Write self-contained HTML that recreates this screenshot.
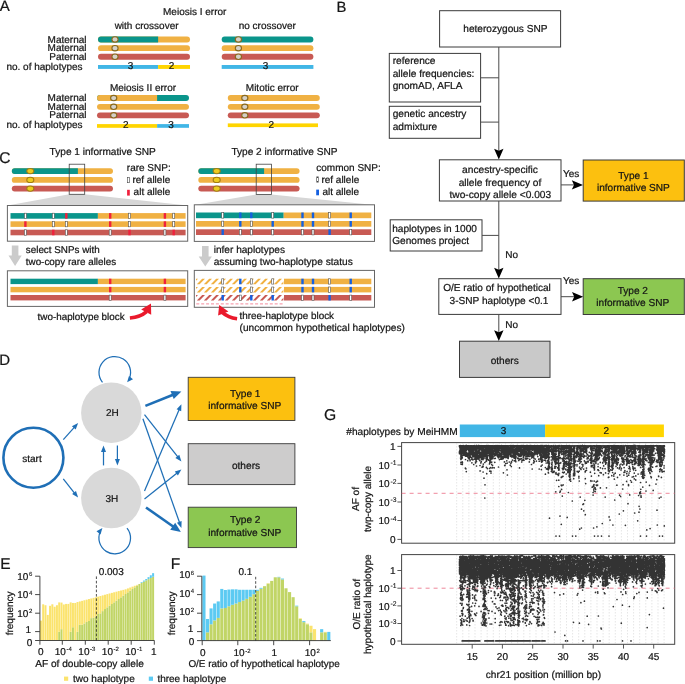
<!DOCTYPE html>
<html><head><meta charset="utf-8"><title>figure</title>
<style>html,body{margin:0;padding:0;background:#fff}svg{display:block}text{font-family:"Liberation Sans",Arial,sans-serif;text-rendering:geometricPrecision;fill:#151515;stroke:#151515;stroke-width:0.22px}</style>
</head><body>
<svg width="685" height="684" viewBox="0 0 685 684">
<rect width="685" height="684" fill="#fff"/>
<text x="-0.2" y="10.6" font-size="15" text-anchor="start" >A</text>
<text x="194.7" y="14.8" font-size="10" text-anchor="middle" >Meiosis I error</text>
<text x="146.6" y="28.8" font-size="10" text-anchor="middle" >with crossover</text>
<text x="267.3" y="28.8" font-size="10" text-anchor="middle" >no crossover</text>
<text x="86.5" y="42.5" font-size="10" text-anchor="end" >Maternal</text>
<text x="86.5" y="51.2" font-size="10" text-anchor="end" >Maternal</text>
<text x="86.5" y="59.8" font-size="10" text-anchor="end" >Paternal</text>
<text x="6.4" y="69.8" font-size="10" text-anchor="start" >no. of haplotypes</text>
<rect x="98.0" y="36.5" width="92.00" height="5.9" rx="2.95" ry="2.95" fill="#f0b143"/>
<path d="M158.1 36.5H100.95A2.95 2.95 0 0 0 100.95 42.40H158.1Z" fill="#0a958b"/>
<ellipse cx="115" cy="39.45" rx="3.1" ry="2.7" fill="#d4d0c8" stroke="#8a6a1e" stroke-width="1.1"/>
<rect x="98.0" y="45.2" width="92.00" height="5.9" rx="2.95" ry="2.95" fill="#f0b143"/>
<ellipse cx="115" cy="48.150000000000006" rx="3.1" ry="2.7" fill="#d4d0c8" stroke="#8a6a1e" stroke-width="1.1"/>
<rect x="98.0" y="53.8" width="92.00" height="5.9" rx="2.95" ry="2.95" fill="#c85a54"/>
<ellipse cx="115" cy="56.75" rx="3.1" ry="2.7" fill="#d4d0c8" stroke="#8a6a1e" stroke-width="1.1"/>
<rect x="98.0" y="65" width="60.1" height="3.9" fill="#41b6e6"/><rect x="158.1" y="65" width="31.9" height="3.9" fill="#ffd500"/>
<text x="130.6" y="68.9" font-size="10" text-anchor="middle" >3</text>
<text x="171.5" y="68.9" font-size="10" text-anchor="middle" >2</text>
<rect x="221.7" y="36.5" width="91.70" height="5.9" rx="2.95" ry="2.95" fill="#0a958b"/>
<ellipse cx="238.4" cy="39.45" rx="3.1" ry="2.7" fill="#d4d0c8" stroke="#8a6a1e" stroke-width="1.1"/>
<rect x="221.7" y="45.2" width="91.70" height="5.9" rx="2.95" ry="2.95" fill="#f0b143"/>
<ellipse cx="238.4" cy="48.150000000000006" rx="3.1" ry="2.7" fill="#d4d0c8" stroke="#8a6a1e" stroke-width="1.1"/>
<rect x="221.7" y="53.8" width="91.70" height="5.9" rx="2.95" ry="2.95" fill="#c85a54"/>
<ellipse cx="238.4" cy="56.75" rx="3.1" ry="2.7" fill="#d4d0c8" stroke="#8a6a1e" stroke-width="1.1"/>
<rect x="221.7" y="65" width="91.7" height="3.9" fill="#41b6e6"/>
<text x="265.5" y="68.9" font-size="10" text-anchor="middle" >3</text>
<text x="143" y="90.6" font-size="10" text-anchor="middle" >Meiosis II error</text>
<text x="272.2" y="90.6" font-size="10" text-anchor="middle" >Mitotic error</text>
<text x="86.5" y="101.1" font-size="10" text-anchor="end" >Maternal</text>
<text x="86.5" y="109.9" font-size="10" text-anchor="end" >Maternal</text>
<text x="86.5" y="118.4" font-size="10" text-anchor="end" >Paternal</text>
<text x="6.4" y="128" font-size="10" text-anchor="start" >no. of haplotypes</text>
<rect x="97.0" y="95.1" width="92.00" height="5.9" rx="2.95" ry="2.95" fill="#0a958b"/>
<path d="M157.1 95.1H99.95A2.95 2.95 0 0 0 99.95 101.00H157.1Z" fill="#f0b143"/>
<ellipse cx="113.7" cy="98.05" rx="3.1" ry="2.7" fill="#d4d0c8" stroke="#8a6a1e" stroke-width="1.1"/>
<rect x="97.0" y="103.9" width="92.00" height="5.9" rx="2.95" ry="2.95" fill="#f0b143"/>
<ellipse cx="113.7" cy="106.85000000000001" rx="3.1" ry="2.7" fill="#d4d0c8" stroke="#8a6a1e" stroke-width="1.1"/>
<rect x="97.0" y="112.4" width="92.00" height="5.9" rx="2.95" ry="2.95" fill="#c85a54"/>
<ellipse cx="113.7" cy="115.35000000000001" rx="3.1" ry="2.7" fill="#d4d0c8" stroke="#8a6a1e" stroke-width="1.1"/>
<rect x="97.0" y="124.1" width="60.1" height="3.7" fill="#ffd500"/><rect x="157.1" y="124.1" width="31.9" height="3.7" fill="#41b6e6"/>
<text x="125.9" y="127.6" font-size="10" text-anchor="middle" >2</text>
<text x="171.1" y="127.6" font-size="10" text-anchor="middle" >3</text>
<rect x="227.8" y="95.1" width="92.00" height="5.9" rx="2.95" ry="2.95" fill="#f0b143"/>
<ellipse cx="244.8" cy="98.05" rx="3.1" ry="2.7" fill="#d4d0c8" stroke="#8a6a1e" stroke-width="1.1"/>
<rect x="227.8" y="103.9" width="92.00" height="5.9" rx="2.95" ry="2.95" fill="#f0b143"/>
<ellipse cx="244.8" cy="106.85000000000001" rx="3.1" ry="2.7" fill="#d4d0c8" stroke="#8a6a1e" stroke-width="1.1"/>
<rect x="227.8" y="112.4" width="92.00" height="5.9" rx="2.95" ry="2.95" fill="#c85a54"/>
<ellipse cx="244.8" cy="115.35000000000001" rx="3.1" ry="2.7" fill="#d4d0c8" stroke="#8a6a1e" stroke-width="1.1"/>
<rect x="227.8" y="123.4" width="90.2" height="3.7" fill="#ffd500"/>
<text x="271.4" y="127.6" font-size="10" text-anchor="middle" >2</text>
<text x="336.6" y="12.3" font-size="14.8" text-anchor="start" >B</text>
<rect x="439.6" y="10.7" width="121.0" height="36.3" fill="#fff" stroke="#3a3a3a" stroke-width="1"/>
<text x="505.4" y="32.3" font-size="10.1" text-anchor="middle" >heterozygous SNP</text>
<rect x="389.3" y="53.4" width="91.30000000000001" height="48.6" fill="#fff" stroke="#3a3a3a" stroke-width="1"/>
<text x="392.7" y="64.4" font-size="10.15" text-anchor="start" >reference</text>
<text x="392.7" y="76.7" font-size="10.15" text-anchor="start" >allele frequencies:</text>
<text x="392.7" y="88.7" font-size="10.15" text-anchor="start" >gnomAD, AFLA</text>
<rect x="389.3" y="106.3" width="91.30000000000001" height="32.000000000000014" fill="#fff" stroke="#3a3a3a" stroke-width="1"/>
<text x="392.7" y="117.4" font-size="10.15" text-anchor="start" >genetic ancestry</text>
<text x="392.7" y="130.1" font-size="10.15" text-anchor="start" >admixture</text>
<line x1="480.6" y1="77.8" x2="498.8" y2="77.8" stroke="#4a4a4a" stroke-width="1"/>
<line x1="480.6" y1="122.1" x2="498.8" y2="122.1" stroke="#4a4a4a" stroke-width="1"/>
<line x1="498.8" y1="47" x2="498.8" y2="151.2" stroke="#4a4a4a" stroke-width="1"/>
<path d="M494.1 148.7 L498.8 150.7 L503.5 148.7 L498.8 159.5 Z" fill="#000"/>
<rect x="439.4" y="159.8" width="121.60000000000002" height="41.19999999999999" fill="#fff" stroke="#3a3a3a" stroke-width="1"/>
<text x="500" y="173.4" font-size="10.2" text-anchor="middle" >ancestry-specific</text>
<text x="500" y="185.6" font-size="10.2" text-anchor="middle" >allele frequency of</text>
<text x="500.3" y="197.8" font-size="10.2" text-anchor="middle" >two-copy allele &lt;0.003</text>
<text x="563" y="176.6" font-size="10" text-anchor="start" >Yes</text>
<line x1="561" y1="184.9" x2="574.5" y2="184.9" stroke="#4a4a4a" stroke-width="1"/>
<path d="M571.8 180.20000000000002 L574.0 184.9 L571.8 189.6 L583 184.9 Z" fill="#000"/>
<rect x="583.2" y="160" width="101.09999999999991" height="41.099999999999994" fill="#fcc00f" stroke="#3a3a3a" stroke-width="1"/>
<text x="633.4" y="179" font-size="10.1" text-anchor="middle" >Type 1</text>
<text x="633.4" y="191.2" font-size="10.1" text-anchor="middle" >informative SNP</text>
<rect x="390.2" y="219.8" width="91.80000000000001" height="31.19999999999999" fill="#fff" stroke="#3a3a3a" stroke-width="1"/>
<text x="392.2" y="232.4" font-size="10.1" text-anchor="start" >haplotypes in 1000</text>
<text x="392.2" y="244.4" font-size="10.1" text-anchor="start" >Genomes project</text>
<line x1="482" y1="235.4" x2="498.8" y2="235.4" stroke="#4a4a4a" stroke-width="1"/>
<line x1="498.8" y1="201" x2="498.8" y2="270.3" stroke="#4a4a4a" stroke-width="1"/>
<path d="M494.1 267.8 L498.8 269.8 L503.5 267.8 L498.8 278.6 Z" fill="#000"/>
<text x="505.2" y="258.2" font-size="10" text-anchor="start" >No</text>
<rect x="438.8" y="278.7" width="122.19999999999999" height="35.69999999999999" fill="#fff" stroke="#3a3a3a" stroke-width="1"/>
<text x="497" y="290.6" font-size="10.1" text-anchor="middle" >O/E ratio of hypothetical</text>
<text x="499" y="303.8" font-size="10.1" text-anchor="middle" >3-SNP haplotype &lt;0.1</text>
<text x="563" y="284.2" font-size="10" text-anchor="start" >Yes</text>
<line x1="561" y1="296.7" x2="574.7" y2="296.7" stroke="#4a4a4a" stroke-width="1"/>
<path d="M572.0 292.0 L574.2 296.7 L572.0 301.4 L583.2 296.7 Z" fill="#000"/>
<rect x="583.2" y="278.7" width="101.09999999999991" height="35.80000000000001" fill="#8cc751" stroke="#3a3a3a" stroke-width="1"/>
<text x="632.8" y="293.9" font-size="10.1" text-anchor="middle" >Type 2</text>
<text x="632.8" y="306.2" font-size="10.1" text-anchor="middle" >informative SNP</text>
<line x1="498.8" y1="314.4" x2="498.8" y2="332.7" stroke="#4a4a4a" stroke-width="1"/>
<path d="M494.1 330.2 L498.8 332.2 L503.5 330.2 L498.8 341 Z" fill="#000"/>
<text x="505.2" y="327.6" font-size="10" text-anchor="start" >No</text>
<rect x="459.5" y="341.2" width="90.5" height="36.19999999999999" fill="#c9c9c9" stroke="#3a3a3a" stroke-width="1"/>
<text x="504.7" y="363.6" font-size="10.1" text-anchor="middle" >others</text>
<text x="-0.7" y="163" font-size="15.5" text-anchor="start" >C</text>
<text x="102.7" y="155.2" font-size="10.12" text-anchor="middle" >Type 1 informative SNP</text>
<text x="284.5" y="155.2" font-size="10.12" text-anchor="middle" >Type 2 informative SNP</text>
<path d="M69.2 194.3 L84.7 194.3 L187.7 205.5 L7.4 205.5 Z" fill="#d6d6d6"/>
<path d="M256.2 194.4 L271.5 194.4 L374.5 205 L194.3 205 Z" fill="#d6d6d6"/>
<rect x="11.8" y="168.2" width="101.20" height="5.8" rx="2.9" ry="2.9" fill="#f0b143"/>
<path d="M77.9 168.2H14.70A2.9 2.9 0 0 0 14.70 174.00H77.9Z" fill="#0a958b"/>
<rect x="11.8" y="177.0" width="101.20" height="5.8" rx="2.9" ry="2.9" fill="#f0b143"/>
<rect x="11.8" y="185.7" width="101.20" height="5.8" rx="2.9" ry="2.9" fill="#c85a54"/>
<ellipse cx="30.3" cy="171.1" rx="3.5" ry="2.6" fill="#eccb1f" stroke="#a07c14" stroke-width="1.1"/>
<ellipse cx="30.3" cy="179.9" rx="3.5" ry="2.6" fill="#eccb1f" stroke="#a07c14" stroke-width="1.1"/>
<ellipse cx="30.3" cy="188.6" rx="3.5" ry="2.6" fill="#eccb1f" stroke="#a07c14" stroke-width="1.1"/>
<rect x="198.3" y="168.2" width="101.30" height="5.8" rx="2.9" ry="2.9" fill="#f0b143"/>
<path d="M264.1 168.2H201.20A2.9 2.9 0 0 0 201.20 174.00H264.1Z" fill="#0a958b"/>
<rect x="198.3" y="177.0" width="101.30" height="5.8" rx="2.9" ry="2.9" fill="#f0b143"/>
<rect x="198.3" y="185.7" width="101.30" height="5.8" rx="2.9" ry="2.9" fill="#c85a54"/>
<ellipse cx="216.7" cy="171.1" rx="3.5" ry="2.6" fill="#eccb1f" stroke="#a07c14" stroke-width="1.1"/>
<ellipse cx="216.7" cy="179.9" rx="3.5" ry="2.6" fill="#eccb1f" stroke="#a07c14" stroke-width="1.1"/>
<ellipse cx="216.7" cy="188.6" rx="3.5" ry="2.6" fill="#eccb1f" stroke="#a07c14" stroke-width="1.1"/>
<rect x="69.2" y="164.2" width="15.5" height="30.1" fill="none" stroke="#444" stroke-width="0.8"/>
<rect x="256.2" y="164.2" width="15.3" height="30.2" fill="none" stroke="#444" stroke-width="0.8"/>
<text x="126.8" y="170.9" font-size="10" text-anchor="start" >rare SNP:</text>
<text x="132.4" y="183" font-size="10" text-anchor="start" >ref allele</text>
<text x="133.6" y="195.2" font-size="10" text-anchor="start" >alt allele</text>
<rect x="127.5" y="177.5" width="1.8" height="5.2" fill="#fff" stroke="#444" stroke-width="0.6"/>
<rect x="127.1" y="189.8" width="2.7" height="5.8" fill="#f0203c"/>
<text x="316.3" y="170.9" font-size="10" text-anchor="start" >common SNP:</text>
<text x="321.4" y="183" font-size="10" text-anchor="start" >ref allele</text>
<text x="322.4" y="195.2" font-size="10" text-anchor="start" >alt allele</text>
<rect x="316.7" y="176.8" width="1.8" height="5.4" fill="#fff" stroke="#444" stroke-width="0.6"/>
<rect x="316.2" y="189.6" width="2.8" height="5.7" fill="#1560e0"/>
<rect x="7.4" y="205.5" width="180.29999999999998" height="35.69999999999999" fill="#fff" stroke="#666" stroke-width="1"/>
<rect x="10.5" y="213.1" width="87.4" height="5.6" fill="#0a958b"/><rect x="97.9" y="213.1" width="87.69999999999999" height="5.6" fill="#f0b143"/>
<rect x="10.5" y="221.3" width="175.1" height="5.6" fill="#f0b143"/>
<rect x="10.5" y="229.7" width="175.1" height="5.6" fill="#c85a54"/>
<rect x="24.40" y="213.20" width="2.0" height="5.40" fill="#fff" stroke="#555" stroke-width="0.6"/>
<rect x="24.20" y="221.30" width="2.4" height="5.60" fill="#f0203c"/>
<rect x="24.40" y="229.80" width="2.0" height="5.40" fill="#fff" stroke="#555" stroke-width="0.6"/>
<rect x="52.30" y="213.20" width="2.0" height="5.40" fill="#fff" stroke="#555" stroke-width="0.6"/>
<rect x="52.30" y="221.40" width="2.0" height="5.40" fill="#fff" stroke="#555" stroke-width="0.6"/>
<rect x="52.10" y="229.70" width="2.4" height="5.60" fill="#f0203c"/>
<rect x="65.10" y="213.10" width="2.4" height="5.60" fill="#f0203c"/>
<rect x="65.30" y="221.40" width="2.0" height="5.40" fill="#fff" stroke="#555" stroke-width="0.6"/>
<rect x="65.30" y="229.80" width="2.0" height="5.40" fill="#fff" stroke="#555" stroke-width="0.6"/>
<rect x="109.00" y="213.10" width="2.4" height="5.60" fill="#f0203c"/>
<rect x="109.00" y="221.30" width="2.4" height="5.60" fill="#f0203c"/>
<rect x="109.20" y="229.80" width="2.0" height="5.40" fill="#fff" stroke="#555" stroke-width="0.6"/>
<rect x="128.50" y="213.20" width="2.0" height="5.40" fill="#fff" stroke="#555" stroke-width="0.6"/>
<rect x="128.50" y="221.40" width="2.0" height="5.40" fill="#fff" stroke="#555" stroke-width="0.6"/>
<rect x="128.30" y="229.70" width="2.4" height="5.60" fill="#f0203c"/>
<rect x="163.70" y="213.10" width="2.4" height="5.60" fill="#f0203c"/>
<rect x="163.70" y="221.30" width="2.4" height="5.60" fill="#f0203c"/>
<rect x="163.90" y="229.80" width="2.0" height="5.40" fill="#fff" stroke="#555" stroke-width="0.6"/>
<rect x="172.70" y="213.20" width="2.0" height="5.40" fill="#fff" stroke="#555" stroke-width="0.6"/>
<rect x="172.70" y="221.40" width="2.0" height="5.40" fill="#fff" stroke="#555" stroke-width="0.6"/>
<rect x="172.50" y="229.70" width="2.4" height="5.60" fill="#f0203c"/>
<path d="M11.8 245.4 L18.4 245.4 L18.4 255.5 L21.7 255.5 L15.1 266 L8.5 255.5 L11.8 255.5 Z" fill="#cbcbcb"/>
<text x="25.8" y="252.9" font-size="9.85" text-anchor="start" >select SNPs with</text>
<text x="25.8" y="264.6" font-size="9.85" text-anchor="start" >two-copy rare alleles</text>
<rect x="7.4" y="270.8" width="180.29999999999998" height="35.599999999999966" fill="#fff" stroke="#666" stroke-width="1"/>
<rect x="10.5" y="278.7" width="87.4" height="5.4" fill="#0a958b"/><rect x="97.9" y="278.7" width="87.69999999999999" height="5.4" fill="#f0b143"/>
<rect x="10.5" y="286.9" width="175.1" height="5.4" fill="#f0b143"/>
<rect x="10.5" y="295.0" width="175.1" height="5.4" fill="#c85a54"/>
<rect x="109.00" y="278.70" width="2.4" height="5.40" fill="#f0203c"/>
<rect x="109.00" y="286.90" width="2.4" height="5.40" fill="#f0203c"/>
<rect x="109.20" y="295.10" width="2.0" height="5.20" fill="#fff" stroke="#555" stroke-width="0.6"/>
<rect x="163.70" y="278.70" width="2.4" height="5.40" fill="#f0203c"/>
<rect x="163.70" y="286.90" width="2.4" height="5.40" fill="#f0203c"/>
<rect x="163.90" y="295.10" width="2.0" height="5.20" fill="#fff" stroke="#555" stroke-width="0.6"/>
<text x="37.6" y="319.5" font-size="9.85" text-anchor="start" >two-haplotype block</text>
<path d="M129.9 318 Q140.5 317 146.6 311.6" fill="none" stroke="#ea1a2c" stroke-width="3.6"/>
<path d="M151 303.4 L141.2 309.6 L151.2 314.7 Z" fill="#ea1a2c"/>
<rect x="194.3" y="204.8" width="180.2" height="36.599999999999994" fill="#fff" stroke="#666" stroke-width="1"/>
<rect x="196" y="212.5" width="87.69999999999999" height="5.7" fill="#0a958b"/><rect x="283.7" y="212.5" width="87.60000000000002" height="5.7" fill="#f0b143"/>
<rect x="196" y="221.0" width="175.3" height="5.7" fill="#f0b143"/>
<rect x="196" y="229.3" width="175.3" height="5.7" fill="#c85a54"/>
<rect x="221.70" y="212.60" width="2.0" height="5.50" fill="#fff" stroke="#555" stroke-width="0.6"/>
<rect x="221.70" y="221.10" width="2.0" height="5.50" fill="#fff" stroke="#555" stroke-width="0.6"/>
<rect x="221.50" y="229.30" width="2.4" height="5.70" fill="#1560e0"/>
<rect x="239.10" y="212.50" width="2.4" height="5.70" fill="#1560e0"/>
<rect x="239.10" y="221.00" width="2.4" height="5.70" fill="#1560e0"/>
<rect x="239.30" y="229.40" width="2.0" height="5.50" fill="#fff" stroke="#555" stroke-width="0.6"/>
<rect x="250.10" y="212.50" width="2.4" height="5.70" fill="#1560e0"/>
<rect x="250.30" y="221.10" width="2.0" height="5.50" fill="#fff" stroke="#555" stroke-width="0.6"/>
<rect x="250.30" y="229.40" width="2.0" height="5.50" fill="#fff" stroke="#555" stroke-width="0.6"/>
<rect x="271.70" y="212.60" width="2.0" height="5.50" fill="#fff" stroke="#555" stroke-width="0.6"/>
<rect x="271.50" y="221.00" width="2.4" height="5.70" fill="#1560e0"/>
<rect x="271.70" y="229.40" width="2.0" height="5.50" fill="#fff" stroke="#555" stroke-width="0.6"/>
<rect x="301.30" y="212.50" width="2.4" height="5.70" fill="#1560e0"/>
<rect x="301.30" y="221.00" width="2.4" height="5.70" fill="#1560e0"/>
<rect x="301.50" y="229.40" width="2.0" height="5.50" fill="#fff" stroke="#555" stroke-width="0.6"/>
<rect x="311.80" y="212.50" width="2.4" height="5.70" fill="#1560e0"/>
<rect x="311.80" y="221.00" width="2.4" height="5.70" fill="#1560e0"/>
<rect x="312.00" y="229.40" width="2.0" height="5.50" fill="#fff" stroke="#555" stroke-width="0.6"/>
<rect x="328.60" y="212.60" width="2.0" height="5.50" fill="#fff" stroke="#555" stroke-width="0.6"/>
<rect x="328.60" y="221.10" width="2.0" height="5.50" fill="#fff" stroke="#555" stroke-width="0.6"/>
<rect x="328.40" y="229.30" width="2.4" height="5.70" fill="#1560e0"/>
<rect x="349.50" y="212.50" width="2.4" height="5.70" fill="#1560e0"/>
<rect x="349.50" y="221.00" width="2.4" height="5.70" fill="#1560e0"/>
<rect x="349.70" y="229.40" width="2.0" height="5.50" fill="#fff" stroke="#555" stroke-width="0.6"/>
<path d="M202.0 245.9 L208.60000000000002 245.9 L208.60000000000002 256.4 L211.9 256.4 L205.3 266.6 L198.70000000000002 256.4 L202.0 256.4 Z" fill="#cbcbcb"/>
<text x="213.7" y="252.9" font-size="10.1" text-anchor="start" >infer haplotypes</text>
<text x="213.7" y="264.6" font-size="10.15" text-anchor="start" >assuming two-haplotype status</text>
<rect x="194.3" y="270.4" width="180.2" height="36.900000000000034" fill="#fff" stroke="#666" stroke-width="1"/>
<clipPath id="c1"><rect x="196" y="270" width="87.4" height="40"/></clipPath>
<g clip-path="url(#c1)">
<path d="M189.8 284.2h2.8l5.4 -5.5h-2.8zM196.8 284.2h2.8l5.4 -5.5h-2.8zM203.8 284.2h2.8l5.4 -5.5h-2.8zM210.8 284.2h2.8l5.4 -5.5h-2.8zM217.8 284.2h2.8l5.4 -5.5h-2.8zM224.8 284.2h2.8l5.4 -5.5h-2.8zM231.8 284.2h2.8l5.4 -5.5h-2.8zM238.8 284.2h2.8l5.4 -5.5h-2.8zM245.8 284.2h2.8l5.4 -5.5h-2.8zM252.8 284.2h2.8l5.4 -5.5h-2.8zM259.8 284.2h2.8l5.4 -5.5h-2.8zM266.8 284.2h2.8l5.4 -5.5h-2.8zM273.8 284.2h2.8l5.4 -5.5h-2.8zM280.8 284.2h2.8l5.4 -5.5h-2.8z" fill="#f0b143"/>
<path d="M189.8 292.4h2.8l5.4 -5.5h-2.8zM196.8 292.4h2.8l5.4 -5.5h-2.8zM203.8 292.4h2.8l5.4 -5.5h-2.8zM210.8 292.4h2.8l5.4 -5.5h-2.8zM217.8 292.4h2.8l5.4 -5.5h-2.8zM224.8 292.4h2.8l5.4 -5.5h-2.8zM231.8 292.4h2.8l5.4 -5.5h-2.8zM238.8 292.4h2.8l5.4 -5.5h-2.8zM245.8 292.4h2.8l5.4 -5.5h-2.8zM252.8 292.4h2.8l5.4 -5.5h-2.8zM259.8 292.4h2.8l5.4 -5.5h-2.8zM266.8 292.4h2.8l5.4 -5.5h-2.8zM273.8 292.4h2.8l5.4 -5.5h-2.8zM280.8 292.4h2.8l5.4 -5.5h-2.8z" fill="#f0b143"/>
<path d="M189.8 300.5h2.8l5.4 -5.5h-2.8zM196.8 300.5h2.8l5.4 -5.5h-2.8zM203.8 300.5h2.8l5.4 -5.5h-2.8zM210.8 300.5h2.8l5.4 -5.5h-2.8zM217.8 300.5h2.8l5.4 -5.5h-2.8zM224.8 300.5h2.8l5.4 -5.5h-2.8zM231.8 300.5h2.8l5.4 -5.5h-2.8zM238.8 300.5h2.8l5.4 -5.5h-2.8zM245.8 300.5h2.8l5.4 -5.5h-2.8zM252.8 300.5h2.8l5.4 -5.5h-2.8zM259.8 300.5h2.8l5.4 -5.5h-2.8zM266.8 300.5h2.8l5.4 -5.5h-2.8zM273.8 300.5h2.8l5.4 -5.5h-2.8zM280.8 300.5h2.8l5.4 -5.5h-2.8z" fill="#c85a54"/>
</g>
<rect x="284" y="278.7" width="87.3" height="5.5" fill="#f0b143"/>
<rect x="284" y="286.9" width="87.3" height="5.5" fill="#f0b143"/>
<rect x="284" y="295.0" width="87.3" height="5.5" fill="#c85a54"/>
<rect x="221.70" y="278.80" width="2.0" height="5.30" fill="#fff" stroke="#555" stroke-width="0.6"/>
<rect x="221.70" y="287.00" width="2.0" height="5.30" fill="#fff" stroke="#555" stroke-width="0.6"/>
<rect x="221.50" y="295.00" width="2.4" height="5.50" fill="#1560e0"/>
<rect x="239.10" y="278.70" width="2.4" height="5.50" fill="#1560e0"/>
<rect x="239.10" y="286.90" width="2.4" height="5.50" fill="#1560e0"/>
<rect x="239.30" y="295.10" width="2.0" height="5.30" fill="#fff" stroke="#555" stroke-width="0.6"/>
<rect x="250.30" y="278.80" width="2.0" height="5.30" fill="#fff" stroke="#555" stroke-width="0.6"/>
<rect x="250.30" y="287.00" width="2.0" height="5.30" fill="#fff" stroke="#555" stroke-width="0.6"/>
<rect x="250.10" y="295.00" width="2.4" height="5.50" fill="#1560e0"/>
<rect x="271.70" y="278.80" width="2.0" height="5.30" fill="#fff" stroke="#555" stroke-width="0.6"/>
<rect x="271.70" y="287.00" width="2.0" height="5.30" fill="#fff" stroke="#555" stroke-width="0.6"/>
<rect x="271.50" y="295.00" width="2.4" height="5.50" fill="#1560e0"/>
<rect x="301.30" y="278.70" width="2.4" height="5.50" fill="#1560e0"/>
<rect x="301.30" y="286.90" width="2.4" height="5.50" fill="#1560e0"/>
<rect x="301.50" y="295.10" width="2.0" height="5.30" fill="#fff" stroke="#555" stroke-width="0.6"/>
<rect x="311.80" y="278.70" width="2.4" height="5.50" fill="#1560e0"/>
<rect x="311.80" y="286.90" width="2.4" height="5.50" fill="#1560e0"/>
<rect x="312.00" y="295.10" width="2.0" height="5.30" fill="#fff" stroke="#555" stroke-width="0.6"/>
<rect x="328.60" y="278.80" width="2.0" height="5.30" fill="#fff" stroke="#555" stroke-width="0.6"/>
<rect x="328.60" y="287.00" width="2.0" height="5.30" fill="#fff" stroke="#555" stroke-width="0.6"/>
<rect x="328.40" y="295.00" width="2.4" height="5.50" fill="#1560e0"/>
<rect x="349.50" y="278.70" width="2.4" height="5.50" fill="#1560e0"/>
<rect x="349.50" y="286.90" width="2.4" height="5.50" fill="#1560e0"/>
<rect x="349.70" y="295.10" width="2.0" height="5.30" fill="#fff" stroke="#555" stroke-width="0.6"/>
<line x1="196.3" y1="303.9" x2="284" y2="303.9" stroke="#f48a9c" stroke-width="1" stroke-dasharray="3 1.9"/>
<text x="239.6" y="318.8" font-size="9.9" text-anchor="start" >three-haplotype block</text>
<text x="239.6" y="331" font-size="10.12" text-anchor="start" >(uncommon hypothetical haplotypes)</text>
<path d="M237.1 318.7 Q228 317.6 222.6 312.6" fill="none" stroke="#ea1a2c" stroke-width="3.6"/>
<path d="M219.2 304.9 L218.1 315.4 L228.4 311.4 Z" fill="#ea1a2c"/>
<text x="-0.8" y="365" font-size="15" text-anchor="start" >D</text>
<circle cx="33.4" cy="457.7" r="30" fill="#fff" stroke="#1f6fb6" stroke-width="2.6"/>
<text x="32" y="462" font-size="10" text-anchor="middle" >start</text>
<circle cx="111.3" cy="412.7" r="30.2" fill="#d9d9d9"/>
<circle cx="111.3" cy="498" r="30.2" fill="#d9d9d9"/>
<text x="112.3" y="416.2" font-size="10" text-anchor="middle" >2H</text>
<text x="111.9" y="501.9" font-size="10" text-anchor="middle" >3H</text>
<path d="M102.5 382.3 A15.8 15.8 0 1 1 129.3 378.6" fill="none" stroke="#1f6fb6" stroke-width="1.25"/>
<path d="M127.1 382.3 L129.0 375.9 L133.0 379.2 Z" fill="#1f6fb6"/>
<path d="M127.0 528.1 A15.8 15.8 0 1 1 100.2 531.8" fill="none" stroke="#1f6fb6" stroke-width="1.25"/>
<path d="M102.4 528.1 L100.5 534.5 L96.5 531.2 Z" fill="#1f6fb6"/>
<line x1="63.3" y1="439.7" x2="74.5" y2="427.1" stroke="#1f6fb6" stroke-width="1.25"/>
<path d="M78.1 423.0 L75.7 429.5 L71.9 426.2 Z" fill="#1f6fb6"/>
<line x1="63.3" y1="478.9" x2="74.7" y2="493.3" stroke="#1f6fb6" stroke-width="1.25"/>
<path d="M78.1 497.6 L72.1 494.1 L76.0 491.0 Z" fill="#1f6fb6"/>
<line x1="103.5" y1="465.4" x2="103.5" y2="451.0" stroke="#1f6fb6" stroke-width="1.25"/>
<path d="M103.5 445.5 L106.0 452.0 L101.0 452.0 Z" fill="#1f6fb6"/>
<line x1="117.4" y1="445.5" x2="117.4" y2="459.9" stroke="#1f6fb6" stroke-width="1.25"/>
<path d="M117.4 465.4 L114.9 458.9 L119.9 458.9 Z" fill="#1f6fb6"/>
<line x1="145.4" y1="405.9" x2="173.1" y2="394.8" stroke="#1f6fb6" stroke-width="2.6"/>
<path d="M181.4 391.4 L173.7 399.1 L170.5 391.1 Z" fill="#1f6fb6"/>
<line x1="144.5" y1="414.6" x2="178.0" y2="457.2" stroke="#1f6fb6" stroke-width="1.25"/>
<path d="M181.4 461.5 L175.4 457.9 L179.3 454.8 Z" fill="#1f6fb6"/>
<line x1="142.9" y1="418.8" x2="179.6" y2="522.8" stroke="#1f6fb6" stroke-width="1.25"/>
<path d="M181.4 528.0 L176.9 522.7 L181.6 521.0 Z" fill="#1f6fb6"/>
<line x1="144.5" y1="491.0" x2="179.2" y2="409.4" stroke="#1f6fb6" stroke-width="1.25"/>
<path d="M181.4 404.3 L181.2 411.3 L176.6 409.3 Z" fill="#1f6fb6"/>
<line x1="144.5" y1="499.1" x2="177.1" y2="472.9" stroke="#1f6fb6" stroke-width="1.25"/>
<path d="M181.4 469.5 L177.9 475.5 L174.8 471.6 Z" fill="#1f6fb6"/>
<line x1="146.0" y1="507.5" x2="173.5" y2="526.8" stroke="#1f6fb6" stroke-width="2.6"/>
<path d="M180.9 532.0 L170.2 529.8 L175.2 522.7 Z" fill="#1f6fb6"/>
<rect x="188.2" y="377.3" width="106.69999999999999" height="43.19999999999999" fill="#fcc00f" stroke="#3a3a3a" stroke-width="0.9"/>
<text x="245.3" y="396.5" font-size="10.15" text-anchor="middle" >Type 1</text>
<text x="244.8" y="408.7" font-size="10.15" text-anchor="middle" >informative SNP</text>
<rect x="188.2" y="443.7" width="106.69999999999999" height="40.900000000000034" fill="#cdcccc" stroke="#3a3a3a" stroke-width="0.9"/>
<text x="246" y="468.7" font-size="10.15" text-anchor="middle" >others</text>
<rect x="188.2" y="507.2" width="108.30000000000001" height="40.400000000000034" fill="#8cc751" stroke="#3a3a3a" stroke-width="0.9"/>
<text x="245.3" y="523.3" font-size="10.15" text-anchor="middle" >Type 2</text>
<text x="244.8" y="535.7" font-size="10.15" text-anchor="middle" >informative SNP</text>
<text x="0.3" y="569.4" font-size="15.5" text-anchor="start" >E</text>
<rect x="39.90" y="620.61" width="1.99" height="19.89" fill="#fbe36d"/>
<rect x="42.19" y="604.29" width="1.99" height="36.21" fill="#fbe36d"/>
<rect x="44.48" y="605.24" width="1.99" height="35.26" fill="#fbe36d"/>
<rect x="46.77" y="614.91" width="1.99" height="25.59" fill="#fbe36d"/>
<rect x="49.06" y="605.80" width="1.99" height="34.70" fill="#fbe36d"/>
<rect x="51.35" y="604.29" width="1.99" height="36.21" fill="#fbe36d"/>
<rect x="53.64" y="606.75" width="1.99" height="33.75" fill="#fbe36d"/>
<rect x="55.93" y="605.24" width="1.99" height="35.26" fill="#fbe36d"/>
<rect x="58.22" y="631.81" width="1.99" height="8.69" fill="#c1d566"/>
<rect x="58.22" y="602.39" width="1.99" height="29.42" fill="#fbe36d"/>
<rect x="60.51" y="629.15" width="1.99" height="11.35" fill="#c1d566"/>
<rect x="60.51" y="602.58" width="1.99" height="26.57" fill="#fbe36d"/>
<rect x="62.80" y="604.48" width="1.99" height="36.02" fill="#fbe36d"/>
<rect x="65.09" y="603.91" width="1.99" height="36.59" fill="#fbe36d"/>
<rect x="67.38" y="603.91" width="1.99" height="36.59" fill="#fbe36d"/>
<rect x="69.67" y="631.81" width="1.99" height="8.69" fill="#c1d566"/>
<rect x="69.67" y="602.39" width="1.99" height="29.42" fill="#fbe36d"/>
<rect x="71.96" y="627.25" width="1.99" height="13.25" fill="#c1d566"/>
<rect x="71.96" y="602.96" width="1.99" height="24.29" fill="#fbe36d"/>
<rect x="74.25" y="602.96" width="1.99" height="37.54" fill="#fbe36d"/>
<rect x="76.54" y="631.81" width="1.99" height="8.69" fill="#c1d566"/>
<rect x="76.54" y="602.01" width="1.99" height="29.80" fill="#fbe36d"/>
<rect x="78.83" y="624.78" width="1.99" height="15.72" fill="#c1d566"/>
<rect x="78.83" y="601.44" width="1.99" height="23.34" fill="#fbe36d"/>
<rect x="81.12" y="624.78" width="1.99" height="15.72" fill="#c1d566"/>
<rect x="81.12" y="600.84" width="1.99" height="23.94" fill="#fbe36d"/>
<rect x="83.41" y="623.46" width="1.99" height="17.04" fill="#c1d566"/>
<rect x="83.41" y="600.25" width="1.99" height="23.21" fill="#fbe36d"/>
<rect x="85.70" y="621.94" width="1.99" height="18.56" fill="#c1d566"/>
<rect x="85.70" y="599.65" width="1.99" height="22.29" fill="#fbe36d"/>
<rect x="87.99" y="620.99" width="1.99" height="19.51" fill="#c1d566"/>
<rect x="87.99" y="599.05" width="1.99" height="21.93" fill="#fbe36d"/>
<rect x="90.28" y="618.14" width="1.99" height="22.36" fill="#c1d566"/>
<rect x="90.28" y="598.46" width="1.99" height="19.68" fill="#fbe36d"/>
<rect x="92.57" y="617.76" width="1.99" height="22.74" fill="#c1d566"/>
<rect x="92.57" y="597.86" width="1.99" height="19.90" fill="#fbe36d"/>
<rect x="94.86" y="616.62" width="1.99" height="23.88" fill="#c1d566"/>
<rect x="94.86" y="597.26" width="1.99" height="19.36" fill="#fbe36d"/>
<rect x="97.15" y="613.97" width="1.99" height="26.53" fill="#c1d566"/>
<rect x="97.15" y="596.63" width="1.99" height="17.33" fill="#fbe36d"/>
<rect x="99.44" y="613.40" width="1.99" height="27.10" fill="#c1d566"/>
<rect x="99.44" y="596.00" width="1.99" height="17.40" fill="#fbe36d"/>
<rect x="101.73" y="611.12" width="1.99" height="29.38" fill="#c1d566"/>
<rect x="101.73" y="595.37" width="1.99" height="15.75" fill="#fbe36d"/>
<rect x="104.02" y="609.03" width="1.99" height="31.47" fill="#c1d566"/>
<rect x="104.02" y="594.73" width="1.99" height="14.30" fill="#fbe36d"/>
<rect x="106.31" y="607.36" width="1.99" height="33.14" fill="#c1d566"/>
<rect x="106.31" y="594.10" width="1.99" height="13.26" fill="#fbe36d"/>
<rect x="108.60" y="605.69" width="1.99" height="34.81" fill="#c1d566"/>
<rect x="108.60" y="593.47" width="1.99" height="12.22" fill="#fbe36d"/>
<rect x="110.89" y="604.02" width="1.99" height="36.48" fill="#c1d566"/>
<rect x="110.89" y="592.87" width="1.99" height="11.15" fill="#fbe36d"/>
<rect x="113.18" y="602.35" width="1.99" height="38.15" fill="#c1d566"/>
<rect x="113.18" y="592.28" width="1.99" height="10.08" fill="#fbe36d"/>
<rect x="115.47" y="600.68" width="1.99" height="39.82" fill="#c1d566"/>
<rect x="115.47" y="591.68" width="1.99" height="9.00" fill="#fbe36d"/>
<rect x="117.76" y="599.01" width="1.99" height="41.49" fill="#c1d566"/>
<rect x="117.76" y="591.08" width="1.99" height="7.93" fill="#fbe36d"/>
<rect x="120.05" y="597.34" width="1.99" height="43.16" fill="#c1d566"/>
<rect x="120.05" y="590.49" width="1.99" height="6.85" fill="#fbe36d"/>
<rect x="122.34" y="595.67" width="1.99" height="44.83" fill="#c1d566"/>
<rect x="122.34" y="589.89" width="1.99" height="5.78" fill="#fbe36d"/>
<rect x="124.63" y="594.00" width="1.99" height="46.50" fill="#c1d566"/>
<rect x="124.63" y="589.29" width="1.99" height="4.71" fill="#fbe36d"/>
<rect x="126.92" y="592.33" width="1.99" height="48.17" fill="#c1d566"/>
<rect x="126.92" y="588.41" width="1.99" height="3.92" fill="#fbe36d"/>
<rect x="129.21" y="590.66" width="1.99" height="49.84" fill="#c1d566"/>
<rect x="129.21" y="587.52" width="1.99" height="3.14" fill="#fbe36d"/>
<rect x="131.50" y="588.99" width="1.99" height="51.51" fill="#c1d566"/>
<rect x="131.50" y="586.64" width="1.99" height="2.35" fill="#fbe36d"/>
<rect x="133.79" y="587.32" width="1.99" height="53.18" fill="#c1d566"/>
<rect x="133.79" y="585.75" width="1.99" height="1.57" fill="#fbe36d"/>
<rect x="136.08" y="585.65" width="1.99" height="54.85" fill="#c1d566"/>
<rect x="136.08" y="584.86" width="1.99" height="0.78" fill="#fbe36d"/>
<rect x="138.37" y="583.98" width="1.99" height="56.52" fill="#c1d566"/>
<rect x="140.66" y="582.78" width="1.99" height="57.72" fill="#c1d566"/>
<rect x="140.66" y="582.08" width="1.99" height="0.70" fill="#5ccaf2"/>
<rect x="142.95" y="581.57" width="1.99" height="58.93" fill="#c1d566"/>
<rect x="142.95" y="580.56" width="1.99" height="1.01" fill="#5ccaf2"/>
<rect x="145.24" y="580.37" width="1.99" height="60.13" fill="#c1d566"/>
<rect x="145.24" y="579.04" width="1.99" height="1.33" fill="#5ccaf2"/>
<rect x="147.53" y="579.17" width="1.99" height="61.33" fill="#c1d566"/>
<rect x="147.53" y="577.15" width="1.99" height="2.02" fill="#5ccaf2"/>
<rect x="149.82" y="577.97" width="1.99" height="62.53" fill="#c1d566"/>
<rect x="149.82" y="575.25" width="1.99" height="2.72" fill="#5ccaf2"/>
<rect x="152.11" y="576.77" width="1.99" height="63.73" fill="#c1d566"/>
<rect x="152.11" y="573.16" width="1.99" height="3.61" fill="#5ccaf2"/>
<path d="M39.9 576.2 L39.9 640.5 L154.4 640.5" fill="none" stroke="#333" stroke-width="0.9"/>
<line x1="35.1" y1="576.2" x2="39.9" y2="576.2" stroke="#333" stroke-width="0.9"/>
<line x1="35.1" y1="594.6" x2="39.9" y2="594.6" stroke="#333" stroke-width="0.9"/>
<line x1="35.1" y1="613.2" x2="39.9" y2="613.2" stroke="#333" stroke-width="0.9"/>
<line x1="35.1" y1="631.6" x2="39.9" y2="631.6" stroke="#333" stroke-width="0.9"/>
<line x1="35.1" y1="640.5" x2="39.9" y2="640.5" stroke="#333" stroke-width="0.9"/>
<line x1="39.9" y1="640.5" x2="39.9" y2="644.7" stroke="#333" stroke-width="0.9"/>
<line x1="62.3" y1="640.5" x2="62.3" y2="644.7" stroke="#333" stroke-width="0.9"/>
<line x1="85.3" y1="640.5" x2="85.3" y2="644.7" stroke="#333" stroke-width="0.9"/>
<line x1="108.2" y1="640.5" x2="108.2" y2="644.7" stroke="#333" stroke-width="0.9"/>
<line x1="131.2" y1="640.5" x2="131.2" y2="644.7" stroke="#333" stroke-width="0.9"/>
<line x1="154.3" y1="640.5" x2="154.3" y2="644.7" stroke="#333" stroke-width="0.9"/>
<line x1="96.4" y1="576.4" x2="96.4" y2="640.5" stroke="#222" stroke-width="0.8" stroke-dasharray="2.6 1.8"/>
<text x="98.7" y="575.2" font-size="10" text-anchor="start" >0.003</text>
<text x="32.3" y="579.9000000000001" font-size="10" text-anchor="end">10<tspan font-size="6.0" dy="-3.7" dx="0.6" stroke-width="0.1">6</tspan></text>
<text x="32.3" y="598.3000000000001" font-size="10" text-anchor="end">10<tspan font-size="6.0" dy="-3.7" dx="0.6" stroke-width="0.1">4</tspan></text>
<text x="32.3" y="616.9000000000001" font-size="10" text-anchor="end">10<tspan font-size="6.0" dy="-3.7" dx="0.6" stroke-width="0.1">2</tspan></text>
<text x="31" y="633.3" font-size="10" text-anchor="end" >1</text>
<text x="32.4" y="646.4" font-size="10" text-anchor="end" >0</text>
<text x="40.9" y="655.1" font-size="10" text-anchor="middle" >0</text>
<text x="63.2" y="655.1" font-size="10" text-anchor="middle">10<tspan font-size="6.0" dy="-3.7" dx="0.6" stroke-width="0.1">-4</tspan></text>
<text x="86.9" y="655.1" font-size="10" text-anchor="middle">10<tspan font-size="6.0" dy="-3.7" dx="0.6" stroke-width="0.1">-3</tspan></text>
<text x="110.4" y="655.1" font-size="10" text-anchor="middle">10<tspan font-size="6.0" dy="-3.7" dx="0.6" stroke-width="0.1">-2</tspan></text>
<text x="133.7" y="655.1" font-size="10" text-anchor="middle">10<tspan font-size="6.0" dy="-3.7" dx="0.6" stroke-width="0.1">-1</tspan></text>
<text x="153.7" y="655.1" font-size="10" text-anchor="middle" >1</text>
<text font-size="10" text-anchor="middle" transform="translate(12.5 613.4) rotate(-90)">frequency</text>
<text x="35.2" y="667.2" font-size="10.15" text-anchor="start" >AF of double-copy allele</text>
<rect x="64" y="676.6" width="4.2" height="4.2" fill="#fbe36d"/>
<text x="73" y="681.8" font-size="10" text-anchor="start" >two haplotype</text>
<rect x="148.8" y="676.6" width="4.2" height="4.2" fill="#5ccaf2"/>
<text x="157.4" y="681.8" font-size="10" text-anchor="start" >three haplotype</text>
<text x="170.8" y="569.2" font-size="15.5" text-anchor="start" >F</text>
<rect x="202.40" y="575.58" width="3.12" height="65.02" fill="#5ccaf2"/>
<rect x="205.97" y="632.32" width="3.12" height="8.28" fill="#c1d566"/>
<rect x="205.97" y="618.98" width="3.12" height="13.34" fill="#5ccaf2"/>
<rect x="209.53" y="624.27" width="3.12" height="16.33" fill="#c1d566"/>
<rect x="209.53" y="608.40" width="3.12" height="15.88" fill="#5ccaf2"/>
<rect x="213.10" y="620.46" width="3.12" height="20.14" fill="#c1d566"/>
<rect x="213.10" y="603.53" width="3.12" height="16.93" fill="#5ccaf2"/>
<rect x="216.67" y="617.92" width="3.12" height="22.68" fill="#c1d566"/>
<rect x="216.67" y="601.41" width="3.12" height="16.51" fill="#5ccaf2"/>
<rect x="220.23" y="608.40" width="3.12" height="32.20" fill="#c1d566"/>
<rect x="220.23" y="588.92" width="3.12" height="19.48" fill="#5ccaf2"/>
<rect x="223.80" y="607.97" width="3.12" height="32.63" fill="#c1d566"/>
<rect x="223.80" y="589.98" width="3.12" height="17.99" fill="#5ccaf2"/>
<rect x="227.37" y="606.28" width="3.12" height="34.32" fill="#c1d566"/>
<rect x="227.37" y="589.56" width="3.12" height="16.72" fill="#5ccaf2"/>
<rect x="230.93" y="604.80" width="3.12" height="35.80" fill="#c1d566"/>
<rect x="230.93" y="589.34" width="3.12" height="15.45" fill="#5ccaf2"/>
<rect x="234.50" y="603.53" width="3.12" height="37.07" fill="#c1d566"/>
<rect x="234.50" y="589.34" width="3.12" height="14.18" fill="#5ccaf2"/>
<rect x="238.07" y="602.04" width="3.12" height="38.56" fill="#c1d566"/>
<rect x="238.07" y="589.77" width="3.12" height="12.28" fill="#5ccaf2"/>
<rect x="241.63" y="600.56" width="3.12" height="40.04" fill="#c1d566"/>
<rect x="241.63" y="589.77" width="3.12" height="10.80" fill="#5ccaf2"/>
<rect x="245.20" y="598.87" width="3.12" height="41.73" fill="#c1d566"/>
<rect x="245.20" y="589.77" width="3.12" height="9.10" fill="#5ccaf2"/>
<rect x="248.77" y="596.75" width="3.12" height="43.85" fill="#c1d566"/>
<rect x="248.77" y="589.77" width="3.12" height="6.99" fill="#5ccaf2"/>
<rect x="252.33" y="594.21" width="3.12" height="46.39" fill="#c1d566"/>
<rect x="252.33" y="589.77" width="3.12" height="4.45" fill="#5ccaf2"/>
<rect x="255.90" y="590.83" width="3.12" height="49.77" fill="#c1d566"/>
<rect x="255.90" y="589.77" width="3.12" height="1.06" fill="#5ccaf2"/>
<rect x="259.47" y="588.71" width="3.12" height="51.89" fill="#c1d566"/>
<rect x="259.47" y="587.86" width="3.12" height="0.85" fill="#5ccaf2"/>
<rect x="263.03" y="586.17" width="3.12" height="54.43" fill="#c1d566"/>
<rect x="266.60" y="583.63" width="3.12" height="56.97" fill="#c1d566"/>
<rect x="266.60" y="583.20" width="3.12" height="0.42" fill="#fbe36d"/>
<rect x="270.17" y="580.88" width="3.12" height="59.72" fill="#c1d566"/>
<rect x="273.73" y="577.28" width="3.12" height="63.32" fill="#c1d566"/>
<rect x="277.30" y="577.28" width="3.12" height="63.32" fill="#c1d566"/>
<rect x="277.30" y="576.85" width="3.12" height="0.42" fill="#5ccaf2"/>
<rect x="280.87" y="579.39" width="3.12" height="61.21" fill="#c1d566"/>
<rect x="280.87" y="578.55" width="3.12" height="0.85" fill="#5ccaf2"/>
<rect x="284.43" y="588.29" width="3.12" height="52.31" fill="#c1d566"/>
<rect x="288.00" y="592.10" width="3.12" height="48.50" fill="#c1d566"/>
<rect x="291.57" y="597.18" width="3.12" height="43.42" fill="#c1d566"/>
<rect x="295.13" y="606.28" width="3.12" height="34.32" fill="#c1d566"/>
<rect x="295.13" y="605.64" width="3.12" height="0.64" fill="#5ccaf2"/>
<rect x="298.70" y="618.98" width="3.12" height="21.62" fill="#c1d566"/>
<rect x="298.70" y="618.34" width="3.12" height="0.64" fill="#fbe36d"/>
<rect x="302.27" y="622.15" width="3.12" height="18.45" fill="#c1d566"/>
<rect x="302.27" y="621.10" width="3.12" height="1.06" fill="#5ccaf2"/>
<rect x="305.83" y="624.27" width="3.12" height="16.33" fill="#c1d566"/>
<rect x="305.83" y="623.64" width="3.12" height="0.64" fill="#fbe36d"/>
<rect x="309.40" y="632.32" width="3.12" height="8.28" fill="#c1d566"/>
<rect x="309.40" y="625.75" width="3.12" height="6.56" fill="#fbe36d"/>
<rect x="312.97" y="629.14" width="3.12" height="11.46" fill="#fbe36d"/>
<rect x="320.10" y="632.32" width="3.12" height="8.28" fill="#c1d566"/>
<rect x="320.10" y="629.14" width="3.12" height="3.18" fill="#5ccaf2"/>
<rect x="323.67" y="632.32" width="3.12" height="8.28" fill="#c1d566"/>
<rect x="323.67" y="631.89" width="3.12" height="0.42" fill="#fbe36d"/>
<rect x="327.23" y="631.89" width="3.12" height="8.71" fill="#5ccaf2"/>
<path d="M201.8 576.2 L201.8 640.6 L330.8 640.6" fill="none" stroke="#333" stroke-width="0.9"/>
<line x1="197" y1="576.2" x2="201.8" y2="576.2" stroke="#333" stroke-width="0.9"/>
<line x1="197" y1="594.6" x2="201.8" y2="594.6" stroke="#333" stroke-width="0.9"/>
<line x1="197" y1="613.2" x2="201.8" y2="613.2" stroke="#333" stroke-width="0.9"/>
<line x1="197" y1="631.6" x2="201.8" y2="631.6" stroke="#333" stroke-width="0.9"/>
<line x1="197" y1="640.6" x2="201.8" y2="640.6" stroke="#333" stroke-width="0.9"/>
<line x1="202.2" y1="640.6" x2="202.2" y2="645.2" stroke="#333" stroke-width="0.9"/>
<line x1="237.8" y1="640.6" x2="237.8" y2="645.2" stroke="#333" stroke-width="0.9"/>
<line x1="273.7" y1="640.6" x2="273.7" y2="645.2" stroke="#333" stroke-width="0.9"/>
<line x1="309.6" y1="640.6" x2="309.6" y2="645.2" stroke="#333" stroke-width="0.9"/>
<line x1="255.7" y1="576.8" x2="255.7" y2="640.6" stroke="#222" stroke-width="0.8" stroke-dasharray="2.6 1.8"/>
<text x="238.5" y="575.4" font-size="10" text-anchor="start" >0.1</text>
<text x="194.2" y="578.3000000000001" font-size="10" text-anchor="end">10<tspan font-size="6.0" dy="-3.7" dx="0.6" stroke-width="0.1">6</tspan></text>
<text x="194.2" y="596.7" font-size="10" text-anchor="end">10<tspan font-size="6.0" dy="-3.7" dx="0.6" stroke-width="0.1">4</tspan></text>
<text x="194.2" y="615.3000000000001" font-size="10" text-anchor="end">10<tspan font-size="6.0" dy="-3.7" dx="0.6" stroke-width="0.1">2</tspan></text>
<text x="193.3" y="632.1" font-size="10" text-anchor="end" >1</text>
<text x="194.2" y="645.4" font-size="10" text-anchor="end" >0</text>
<text x="202.9" y="656.3" font-size="10" text-anchor="middle" >0</text>
<text x="242" y="656.3" font-size="10" text-anchor="middle">10<tspan font-size="6.0" dy="-3.7" dx="0.6" stroke-width="0.1">-2</tspan></text>
<text x="274.2" y="656.3" font-size="10" text-anchor="middle" >1</text>
<text x="312.2" y="656.3" font-size="10" text-anchor="middle">10<tspan font-size="6.0" dy="-3.7" dx="0.6" stroke-width="0.1">2</tspan></text>
<text font-size="10" text-anchor="middle" transform="translate(175.2 613.4) rotate(-90)">frequency</text>
<text x="188.4" y="667.2" font-size="9.92" text-anchor="start" >O/E ratio of hypothetical haplotype</text>
<text x="346.3" y="435.2" font-size="10.15" text-anchor="start" >#haplotypes by MeiHMM</text>
<rect x="459.8" y="424.5" width="85.3" height="12.6" fill="#41b6e6"/><rect x="545.1" y="424.5" width="118.8" height="12.6" fill="#ffd500"/>
<text x="503.6" y="434.4" font-size="10" text-anchor="middle" >3</text>
<text x="606.2" y="434.4" font-size="10" text-anchor="middle" >2</text>
<rect x="401.6" y="442.6" width="273.1" height="100.60000000000002" fill="#fff" stroke="#444" stroke-width="1"/>
<rect x="401.6" y="554.6" width="273.1" height="89.69999999999993" fill="#fff" stroke="#444" stroke-width="1"/>
<path d="M456.7 443.4V542.6M456.7 555.4V643.6M462.8 443.4V542.6M462.8 555.4V643.6M468.9 443.4V542.6M468.9 555.4V643.6M475.0 443.4V542.6M475.0 555.4V643.6M481.1 443.4V542.6M481.1 555.4V643.6M487.2 443.4V542.6M487.2 555.4V643.6M493.3 443.4V542.6M493.3 555.4V643.6M499.4 443.4V542.6M499.4 555.4V643.6M505.5 443.4V542.6M505.5 555.4V643.6M511.6 443.4V542.6M511.6 555.4V643.6M517.7 443.4V542.6M517.7 555.4V643.6M523.8 443.4V542.6M523.8 555.4V643.6M529.9 443.4V542.6M529.9 555.4V643.6M536.0 443.4V542.6M536.0 555.4V643.6M542.1 443.4V542.6M542.1 555.4V643.6M548.2 443.4V542.6M548.2 555.4V643.6M554.3 443.4V542.6M554.3 555.4V643.6M560.4 443.4V542.6M560.4 555.4V643.6M566.5 443.4V542.6M566.5 555.4V643.6M572.6 443.4V542.6M572.6 555.4V643.6M578.7 443.4V542.6M578.7 555.4V643.6M584.8 443.4V542.6M584.8 555.4V643.6M590.9 443.4V542.6M590.9 555.4V643.6M597.0 443.4V542.6M597.0 555.4V643.6M603.1 443.4V542.6M603.1 555.4V643.6M609.2 443.4V542.6M609.2 555.4V643.6M615.3 443.4V542.6M615.3 555.4V643.6M621.4 443.4V542.6M621.4 555.4V643.6M627.5 443.4V542.6M627.5 555.4V643.6M633.6 443.4V542.6M633.6 555.4V643.6M639.7 443.4V542.6M639.7 555.4V643.6M645.8 443.4V542.6M645.8 555.4V643.6M651.9 443.4V542.6M651.9 555.4V643.6M658.0 443.4V542.6M658.0 555.4V643.6M664.1 443.4V542.6M664.1 555.4V643.6" stroke="#c4c4c4" stroke-width="0.7" stroke-dasharray="0.9 2.1" fill="none"/>
<line x1="401.6" y1="493.3" x2="674.7" y2="493.3" stroke="#e8607a" stroke-width="0.75" stroke-dasharray="4 4"/>
<line x1="401.6" y1="588.2" x2="674.7" y2="588.2" stroke="#e8607a" stroke-width="0.75" stroke-dasharray="4 4"/>
<line x1="397.40000000000003" y1="446.4" x2="401.6" y2="446.4" stroke="#444" stroke-width="0.9"/>
<line x1="397.40000000000003" y1="465" x2="401.6" y2="465" stroke="#444" stroke-width="0.9"/>
<line x1="397.40000000000003" y1="483.4" x2="401.6" y2="483.4" stroke="#444" stroke-width="0.9"/>
<line x1="397.40000000000003" y1="502" x2="401.6" y2="502" stroke="#444" stroke-width="0.9"/>
<line x1="397.40000000000003" y1="520.5" x2="401.6" y2="520.5" stroke="#444" stroke-width="0.9"/>
<line x1="397.40000000000003" y1="539.4" x2="401.6" y2="539.4" stroke="#444" stroke-width="0.9"/>
<line x1="397.40000000000003" y1="570.5" x2="401.6" y2="570.5" stroke="#444" stroke-width="0.9"/>
<line x1="397.40000000000003" y1="588.2" x2="401.6" y2="588.2" stroke="#444" stroke-width="0.9"/>
<line x1="397.40000000000003" y1="605.9" x2="401.6" y2="605.9" stroke="#444" stroke-width="0.9"/>
<line x1="397.40000000000003" y1="623.5" x2="401.6" y2="623.5" stroke="#444" stroke-width="0.9"/>
<line x1="397.40000000000003" y1="641" x2="401.6" y2="641" stroke="#444" stroke-width="0.9"/>
<text x="395.6" y="450.09999999999997" font-size="10" text-anchor="end" >1</text>
<text x="396.6" y="468.8" font-size="10" text-anchor="end">10<tspan font-size="6.8" dy="-3.7" dx="0.9" stroke-width="0.1">-1</tspan></text>
<text x="396.6" y="487.2" font-size="10" text-anchor="end">10<tspan font-size="6.8" dy="-3.7" dx="0.9" stroke-width="0.1">-2</tspan></text>
<text x="396.6" y="505.8" font-size="10" text-anchor="end">10<tspan font-size="6.8" dy="-3.7" dx="0.9" stroke-width="0.1">-3</tspan></text>
<text x="396.6" y="524.3" font-size="10" text-anchor="end">10<tspan font-size="6.8" dy="-3.7" dx="0.9" stroke-width="0.1">-4</tspan></text>
<text x="395.6" y="543.1" font-size="10" text-anchor="end" >0</text>
<text x="395.6" y="574.2" font-size="10" text-anchor="end" >1</text>
<text x="396.6" y="592.0" font-size="10" text-anchor="end">10<tspan font-size="6.8" dy="-3.7" dx="0.9" stroke-width="0.1">-1</tspan></text>
<text x="396.6" y="609.6999999999999" font-size="10" text-anchor="end">10<tspan font-size="6.8" dy="-3.7" dx="0.9" stroke-width="0.1">-2</tspan></text>
<text x="396.6" y="627.3" font-size="10" text-anchor="end">10<tspan font-size="6.8" dy="-3.7" dx="0.9" stroke-width="0.1">-3</tspan></text>
<text x="395.6" y="644.7" font-size="10" text-anchor="end" >0</text>
<line x1="472.2" y1="644.3" x2="472.2" y2="648.6" stroke="#444" stroke-width="0.9"/>
<text x="472.2" y="659.6" font-size="10" text-anchor="middle" >15</text>
<line x1="502.4" y1="644.3" x2="502.4" y2="648.6" stroke="#444" stroke-width="0.9"/>
<text x="502.4" y="659.6" font-size="10" text-anchor="middle" >20</text>
<line x1="532.7" y1="644.3" x2="532.7" y2="648.6" stroke="#444" stroke-width="0.9"/>
<text x="532.7" y="659.6" font-size="10" text-anchor="middle" >25</text>
<line x1="563.0" y1="644.3" x2="563.0" y2="648.6" stroke="#444" stroke-width="0.9"/>
<text x="563.0" y="659.6" font-size="10" text-anchor="middle" >30</text>
<line x1="593.2" y1="644.3" x2="593.2" y2="648.6" stroke="#444" stroke-width="0.9"/>
<text x="593.2" y="659.6" font-size="10" text-anchor="middle" >35</text>
<line x1="623.5" y1="644.3" x2="623.5" y2="648.6" stroke="#444" stroke-width="0.9"/>
<text x="623.5" y="659.6" font-size="10" text-anchor="middle" >40</text>
<line x1="653.7" y1="644.3" x2="653.7" y2="648.6" stroke="#444" stroke-width="0.9"/>
<text x="653.7" y="659.6" font-size="10" text-anchor="middle" >45</text>
<text x="543.4" y="678.2" font-size="10.15" text-anchor="middle" >chr21 position (million bp)</text>
<text font-size="10" text-anchor="middle" transform="translate(359 499) rotate(-90)">AF of</text>
<text font-size="10" text-anchor="middle" transform="translate(370.6 499) rotate(-90)">twp-copy allele</text>
<text font-size="10" text-anchor="middle" transform="translate(359.6 604.2) rotate(-90)">O/E ratio of</text>
<text font-size="10" text-anchor="middle" transform="translate(371.4 604.2) rotate(-90)">hypothetical haplotype</text>
<path d="M460.4 452.5h0M459.6 446.8h0M459.9 446.0h0M459.8 453.1h0M460.6 446.9h0M460.3 445.7h0M460.1 445.8h0M459.8 448.0h0M459.8 452.5h0M459.7 452.0h0M460.0 445.8h0M460.1 450.2h0M460.6 448.4h0M460.7 452.3h0M460.1 450.1h0M460.0 452.1h0M460.1 450.2h0M460.4 448.1h0M460.1 451.6h0M460.1 446.3h0M460.1 452.4h0M459.7 450.1h0M460.6 458.0h0M460.2 452.3h0M459.6 453.7h0M459.8 453.4h0M459.9 451.5h0M459.4 452.7h0M460.1 451.2h0M460.6 453.7h0M460.7 451.5h0M459.5 451.7h0M462.4 455.3h0M461.4 447.5h0M461.6 448.6h0M462.3 457.6h0M462.4 451.0h0M460.9 449.6h0M460.7 447.7h0M462.0 458.3h0M460.8 446.7h0M460.7 447.9h0M462.0 447.5h0M461.6 450.6h0M461.7 456.1h0M461.8 453.9h0M462.0 456.6h0M460.7 452.6h0M462.2 452.3h0M461.7 456.3h0M461.7 447.3h0M461.1 451.2h0M461.8 446.5h0M462.3 452.5h0M461.3 446.9h0M461.8 456.8h0M461.0 454.9h0M461.0 446.2h0M462.3 446.5h0M460.8 449.2h0M461.5 457.7h0M461.7 453.7h0M461.1 452.5h0M462.1 446.2h0M461.7 448.8h0M462.2 448.8h0M462.0 452.6h0M461.3 458.7h0M462.2 455.3h0M461.6 445.8h0M462.1 452.3h0M462.3 450.4h0M461.0 446.3h0M461.0 446.7h0M461.2 453.2h0M461.7 446.5h0M461.9 446.1h0M460.9 449.2h0M461.5 448.8h0M461.1 449.0h0M461.8 445.8h0M461.1 449.4h0M461.3 448.9h0M462.4 452.2h0M460.9 455.1h0M461.3 446.1h0M462.2 461.9h0M462.3 464.4h0M461.7 455.6h0M461.7 456.3h0M462.1 455.9h0M460.9 459.5h0M461.0 464.1h0M460.9 456.2h0M461.7 456.4h0M461.5 455.5h0M461.1 455.5h0M462.1 456.1h0M460.9 462.3h0M462.5 462.8h0M463.7 447.0h0M462.8 447.8h0M462.7 445.9h0M463.2 448.5h0M462.8 446.1h0M463.0 449.1h0M462.6 446.0h0M462.8 448.0h0M463.2 450.7h0M463.3 445.7h0M462.8 446.9h0M462.9 448.8h0M463.0 448.6h0M463.6 446.0h0M463.1 449.7h0M463.2 449.9h0M463.7 447.6h0M463.7 447.6h0M463.8 451.6h0M463.2 449.3h0M463.1 448.4h0M462.9 452.6h0M462.9 453.4h0M463.1 451.9h0M463.7 454.5h0M463.5 450.9h0M463.5 453.8h0M463.3 452.6h0M463.4 451.0h0M462.9 452.5h0M463.3 455.2h0M464.0 451.4h0M464.0 451.8h0M463.8 446.1h0M464.6 453.6h0M463.9 454.3h0M464.0 451.3h0M463.8 448.4h0M463.9 453.1h0M464.1 446.4h0M464.1 446.3h0M464.2 450.1h0M464.4 451.0h0M464.1 451.7h0M464.6 446.3h0M464.1 446.2h0M464.2 449.2h0M464.1 449.2h0M464.6 447.2h0M464.4 451.5h0M464.5 452.8h0M464.1 453.0h0M464.7 454.4h0M464.4 452.8h0M464.4 455.4h0M463.8 453.1h0M463.8 452.2h0M465.7 453.1h0M464.9 446.8h0M466.0 448.8h0M465.2 447.6h0M465.4 446.2h0M465.9 451.9h0M465.3 452.1h0M465.8 451.5h0M465.3 451.3h0M465.3 446.3h0M464.9 452.3h0M465.5 447.2h0M465.7 452.2h0M465.0 450.4h0M465.5 448.6h0M465.2 449.3h0M465.3 449.5h0M465.8 448.6h0M465.8 445.7h0M465.1 453.1h0M465.5 450.8h0M465.4 451.5h0M465.2 452.8h0M465.0 450.4h0M465.2 453.1h0M465.2 453.6h0M465.5 459.5h0M465.6 452.7h0M465.4 468.2h0M465.3 452.5h0M466.0 456.1h0M465.4 451.9h0M465.8 451.7h0M465.6 454.6h0M465.8 456.2h0M466.3 450.2h0M466.4 446.0h0M466.8 453.2h0M467.5 446.8h0M466.2 446.4h0M466.6 445.7h0M467.5 448.5h0M467.1 447.5h0M467.0 447.7h0M466.5 446.1h0M466.6 445.8h0M467.2 446.1h0M467.5 448.5h0M467.3 449.2h0M467.6 447.8h0M466.8 447.9h0M467.5 447.7h0M466.3 449.1h0M467.4 445.9h0M467.1 445.8h0M467.4 454.9h0M466.7 445.7h0M466.7 452.6h0M466.9 454.9h0M466.1 453.8h0M466.1 452.7h0M467.7 460.7h0M466.5 452.9h0M467.2 456.2h0M466.6 454.0h0M468.9 449.3h0M468.7 447.7h0M468.0 455.0h0M469.0 452.7h0M467.8 449.4h0M468.8 447.7h0M468.0 448.2h0M468.5 450.8h0M468.4 449.8h0M468.4 454.6h0M468.3 454.9h0M469.0 451.1h0M469.0 450.2h0M468.9 449.5h0M468.3 455.5h0M468.6 453.0h0M467.9 454.2h0M468.3 446.9h0M468.0 453.3h0M469.0 453.3h0M468.8 453.2h0M467.9 455.0h0M468.9 454.3h0M468.9 449.1h0M468.1 454.9h0M468.9 454.8h0M468.8 453.5h0M468.9 458.7h0M468.0 457.6h0M468.6 455.5h0M467.9 455.9h0M468.0 453.8h0M469.2 448.7h0M469.6 451.0h0M469.8 453.5h0M469.1 454.3h0M469.5 450.7h0M469.1 446.9h0M469.2 453.3h0M469.7 449.8h0M469.1 449.5h0M469.5 457.7h0M469.9 448.3h0M469.4 451.4h0M469.9 453.1h0M469.1 446.0h0M469.2 453.1h0M469.6 454.3h0M469.7 446.4h0M469.4 456.3h0M469.6 450.3h0M469.3 446.3h0M469.7 456.1h0M469.8 453.9h0M469.8 446.6h0M469.6 457.5h0M469.7 457.8h0M469.7 451.4h0M469.1 455.5h0M469.4 455.2h0M469.3 455.9h0M469.5 458.2h0M469.4 456.4h0M469.1 458.1h0M469.2 458.2h0M469.9 448.5h0M471.0 446.0h0M469.9 453.7h0M470.5 451.4h0M470.4 451.9h0M471.3 446.2h0M470.2 446.3h0M470.9 448.6h0M471.3 449.9h0M471.0 449.8h0M470.4 451.6h0M470.3 453.7h0M470.7 446.9h0M470.2 447.3h0M470.6 449.3h0M470.2 447.4h0M470.3 446.0h0M471.0 446.9h0M470.7 447.2h0M470.2 449.8h0M470.7 449.5h0M470.2 453.1h0M471.4 450.7h0M471.3 449.4h0M469.9 450.3h0M471.1 446.2h0M470.6 448.1h0M470.4 446.0h0M471.2 452.5h0M471.2 453.5h0M471.0 452.3h0M470.8 454.1h0M470.0 459.8h0M470.1 456.1h0M471.3 452.8h0M470.1 460.7h0M469.9 455.3h0M470.4 456.2h0M470.4 452.0h0M470.8 457.1h0M473.0 454.7h0M473.4 446.3h0M472.9 453.6h0M473.2 450.7h0M472.7 452.5h0M471.7 448.6h0M471.5 449.8h0M471.6 448.5h0M472.1 446.3h0M471.9 454.7h0M471.5 452.8h0M472.8 452.8h0M472.2 449.4h0M471.6 447.9h0M473.2 454.5h0M472.5 448.5h0M472.0 454.1h0M472.3 454.4h0M472.8 453.3h0M471.6 446.2h0M473.3 447.8h0M472.4 448.7h0M471.5 454.4h0M472.0 450.8h0M472.3 448.2h0M472.0 452.9h0M473.2 454.0h0M471.9 453.6h0M471.9 453.9h0M473.3 449.2h0M471.6 454.4h0M472.5 451.2h0M473.3 454.0h0M473.4 452.1h0M473.1 448.2h0M472.5 450.2h0M471.7 451.1h0M472.2 446.2h0M471.6 449.7h0M471.7 454.1h0M472.5 449.0h0M472.0 452.1h0M471.5 446.5h0M472.3 449.0h0M472.5 446.3h0M472.8 453.6h0M472.0 454.7h0M472.0 454.0h0M471.7 457.8h0M472.9 459.8h0M471.8 459.3h0M472.8 452.9h0M472.0 459.3h0M473.2 452.7h0M472.7 456.7h0M472.5 455.3h0M471.9 462.8h0M473.3 456.2h0M472.0 458.5h0M473.3 453.8h0M473.9 454.9h0M474.6 448.5h0M473.6 453.6h0M473.6 451.5h0M473.8 451.8h0M474.2 447.5h0M473.8 452.9h0M474.2 446.2h0M474.2 455.1h0M474.8 446.6h0M473.7 446.3h0M474.4 449.0h0M473.5 454.3h0M473.5 454.2h0M473.4 450.3h0M474.2 448.6h0M474.3 446.5h0M474.9 446.6h0M473.7 452.0h0M473.4 452.7h0M473.6 454.1h0M474.3 454.3h0M474.3 445.7h0M474.8 445.9h0M473.5 452.5h0M474.8 447.7h0M474.1 445.8h0M473.8 453.2h0M474.4 455.2h0M474.5 449.7h0M474.3 452.5h0M473.6 448.7h0M474.4 449.9h0M473.8 451.8h0M474.5 453.5h0M474.2 459.0h0M474.3 453.5h0M473.7 464.5h0M473.5 454.5h0M474.8 453.8h0M474.3 455.7h0M474.6 454.9h0M474.5 459.1h0M473.4 452.9h0M473.7 456.0h0M474.3 456.9h0M475.6 452.3h0M476.2 452.9h0M476.1 453.3h0M475.7 451.7h0M475.7 448.5h0M475.3 449.9h0M476.0 451.1h0M475.6 447.9h0M475.7 452.4h0M476.0 456.1h0M475.1 453.2h0M475.9 446.4h0M476.1 450.1h0M476.5 445.7h0M475.6 450.2h0M475.1 450.6h0M475.7 455.8h0M476.4 452.1h0M476.0 456.4h0M475.9 447.7h0M475.1 454.6h0M475.6 446.1h0M475.3 447.8h0M476.4 455.6h0M475.3 446.6h0M475.8 456.7h0M476.1 450.7h0M476.3 455.0h0M476.4 446.7h0M476.3 455.8h0M475.3 448.5h0M475.0 449.0h0M475.3 453.7h0M476.2 449.7h0M475.6 451.0h0M476.1 449.6h0M475.7 451.4h0M475.2 449.7h0M475.8 449.0h0M475.0 454.9h0M476.4 457.8h0M475.7 459.5h0M475.7 457.2h0M475.9 454.5h0M475.1 453.7h0M476.1 460.2h0M475.1 454.7h0M476.2 454.0h0M476.5 461.6h0M475.6 462.1h0M475.5 454.8h0M476.3 458.4h0M475.4 457.6h0M475.7 454.4h0M475.7 454.1h0M475.3 455.8h0M475.7 458.8h0M475.7 457.0h0M475.4 456.1h0M475.5 463.0h0M476.2 456.9h0M475.6 454.1h0M475.7 455.4h0M476.9 446.2h0M477.1 450.8h0M476.8 445.7h0M477.0 450.8h0M477.0 445.9h0M477.1 449.1h0M476.7 446.1h0M477.0 447.6h0M477.0 446.9h0M477.1 446.1h0M476.8 448.5h0M477.2 447.0h0M477.0 451.9h0M477.1 451.8h0M477.0 452.5h0M477.0 453.6h0M477.0 459.2h0M477.4 455.5h0M477.4 456.5h0M477.9 446.3h0M477.9 456.5h0M477.4 448.8h0M477.9 448.0h0M477.8 456.0h0M477.3 445.8h0M477.5 448.8h0M477.4 454.9h0M477.9 452.3h0M477.5 448.4h0M477.9 445.8h0M477.8 455.1h0M477.3 454.4h0M477.6 457.5h0M478.4 448.1h0M478.9 447.6h0M478.7 450.1h0M478.2 448.5h0M478.4 445.7h0M478.6 446.9h0M478.2 446.6h0M478.5 452.4h0M478.9 445.7h0M478.5 451.6h0M478.7 445.9h0M478.8 451.9h0M478.6 458.1h0M478.2 451.4h0M478.0 458.3h0M478.2 453.2h0M478.1 451.8h0M478.1 452.7h0M478.6 458.2h0M478.3 453.3h0M478.3 455.9h0M478.5 455.6h0M478.3 456.4h0M478.9 456.9h0M480.1 456.4h0M479.4 455.8h0M479.7 453.1h0M479.0 452.2h0M479.5 450.3h0M479.4 449.2h0M480.0 453.3h0M479.3 452.4h0M479.5 453.1h0M479.2 455.9h0M479.2 451.4h0M479.1 458.1h0M479.9 446.4h0M480.0 447.7h0M479.2 447.0h0M479.8 448.0h0M479.9 457.9h0M479.6 453.3h0M480.1 457.1h0M479.3 447.7h0M479.3 452.9h0M479.5 453.1h0M479.1 446.7h0M480.4 456.2h0M479.2 448.7h0M479.7 455.0h0M479.5 456.7h0M480.2 455.9h0M479.2 446.0h0M479.6 456.2h0M479.9 447.3h0M480.0 449.3h0M479.1 451.6h0M479.9 447.2h0M479.3 456.1h0M479.6 455.6h0M479.8 456.6h0M480.2 449.6h0M479.2 456.4h0M479.3 451.5h0M479.3 449.2h0M479.4 446.1h0M479.2 451.2h0M479.8 455.2h0M478.9 459.5h0M479.9 454.6h0M479.4 455.1h0M480.1 470.9h0M479.5 454.7h0M479.4 457.4h0M479.8 455.4h0M479.8 460.6h0M479.3 455.3h0M479.4 455.6h0M481.5 445.9h0M481.4 457.0h0M481.0 452.8h0M480.7 445.8h0M481.0 446.0h0M480.9 456.0h0M480.5 448.7h0M481.3 447.6h0M480.7 456.7h0M481.0 448.1h0M481.0 452.6h0M481.3 454.2h0M481.5 450.1h0M481.4 449.2h0M481.4 452.0h0M480.4 446.5h0M480.8 453.5h0M481.0 447.7h0M481.5 452.1h0M480.9 448.1h0M480.5 452.4h0M481.1 447.6h0M480.6 446.8h0M480.5 446.4h0M480.8 447.0h0M480.8 446.6h0M480.8 446.8h0M480.4 449.1h0M480.5 446.2h0M481.5 455.3h0M481.3 445.8h0M480.6 454.5h0M481.1 457.2h0M480.8 456.4h0M481.5 456.6h0M481.3 461.7h0M481.3 454.5h0M480.8 462.9h0M481.4 459.4h0M482.8 451.6h0M483.2 445.9h0M482.6 448.0h0M482.3 452.2h0M482.3 455.7h0M483.2 446.2h0M482.9 452.6h0M482.3 449.3h0M483.0 449.7h0M482.2 450.1h0M481.6 455.0h0M482.5 449.1h0M482.0 445.8h0M481.6 447.9h0M482.5 447.9h0M482.0 451.1h0M481.9 449.3h0M482.5 445.9h0M483.3 452.7h0M483.1 446.2h0M481.9 455.0h0M483.0 446.4h0M481.7 446.1h0M482.0 447.3h0M481.9 445.8h0M482.1 449.8h0M482.2 446.9h0M481.6 448.9h0M482.4 455.6h0M482.0 446.2h0M482.3 452.8h0M483.1 446.0h0M482.4 445.9h0M483.1 455.7h0M481.7 455.3h0M483.0 446.6h0M482.1 455.1h0M483.2 446.9h0M482.1 448.8h0M482.6 445.8h0M482.8 449.3h0M482.4 446.0h0M482.7 456.4h0M482.1 467.2h0M483.3 456.7h0M483.3 455.1h0M483.0 458.4h0M483.0 466.1h0M482.7 454.0h0M481.9 459.5h0M481.8 456.9h0M481.6 454.5h0M482.0 454.9h0M482.7 454.6h0M481.5 453.3h0M481.9 458.7h0M483.1 459.6h0M481.9 453.3h0M482.0 455.1h0M482.6 454.5h0M481.8 453.6h0M481.7 456.2h0M482.3 456.0h0M481.7 453.6h0M483.1 466.7h0M481.7 457.7h0M481.9 455.9h0M481.9 455.4h0M481.9 457.6h0M482.2 454.8h0M483.6 451.8h0M483.3 451.1h0M483.3 448.4h0M483.9 454.5h0M483.7 447.5h0M483.4 454.7h0M484.1 446.2h0M484.0 449.3h0M483.5 453.5h0M483.3 445.8h0M483.9 452.2h0M484.3 453.8h0M484.2 451.8h0M483.5 446.0h0M483.5 449.9h0M483.8 451.6h0M483.4 447.0h0M483.3 453.5h0M483.8 447.1h0M483.9 446.2h0M483.4 456.5h0M484.0 453.5h0M484.3 450.0h0M483.9 449.8h0M484.2 455.7h0M483.4 458.6h0M483.3 464.1h0M484.0 458.5h0M484.2 457.0h0M484.3 455.4h0M484.2 455.2h0M483.5 454.8h0M485.5 446.1h0M484.9 449.9h0M485.6 452.3h0M484.5 455.1h0M485.1 445.9h0M484.7 451.0h0M485.0 447.5h0M484.8 447.0h0M485.1 448.9h0M485.7 450.2h0M484.6 446.1h0M484.5 453.8h0M485.4 449.3h0M484.5 449.9h0M484.6 450.5h0M485.6 451.5h0M484.5 452.8h0M484.6 452.5h0M484.5 451.8h0M484.8 447.4h0M485.2 448.3h0M485.0 453.9h0M485.1 452.1h0M485.4 448.2h0M484.7 446.8h0M485.1 450.9h0M484.9 453.7h0M484.6 455.0h0M485.1 446.3h0M485.7 454.1h0M484.5 450.6h0M484.7 450.3h0M484.6 452.6h0M485.4 453.9h0M485.2 453.6h0M484.5 453.5h0M485.0 452.9h0M484.8 453.6h0M485.4 456.1h0M485.3 452.4h0M484.8 462.5h0M485.0 454.8h0M485.3 453.9h0M486.2 448.3h0M485.9 456.0h0M486.2 454.2h0M485.9 453.1h0M485.7 446.7h0M485.8 453.1h0M486.0 454.4h0M485.9 450.9h0M486.3 455.7h0M486.2 448.4h0M485.8 450.7h0M485.8 448.7h0M485.9 447.3h0M485.7 446.5h0M485.8 447.6h0M485.9 456.6h0M486.1 448.7h0M485.7 446.4h0M486.0 452.5h0M486.2 452.1h0M485.9 450.4h0M486.3 449.6h0M486.0 457.7h0M486.4 461.0h0M485.8 453.7h0M486.2 454.0h0M486.3 458.4h0M486.3 455.9h0M486.4 459.2h0M486.4 467.4h0M486.0 461.3h0M486.3 458.8h0M486.0 458.6h0M486.2 453.8h0M486.4 453.8h0M485.9 454.0h0M486.8 449.4h0M487.4 457.6h0M486.7 453.7h0M487.0 449.8h0M487.3 450.8h0M487.0 451.4h0M487.4 454.9h0M486.8 445.7h0M487.4 452.9h0M486.9 455.4h0M487.2 450.0h0M487.1 450.2h0M487.3 446.6h0M487.2 449.3h0M486.6 450.5h0M487.2 448.7h0M486.9 445.9h0M487.5 455.4h0M486.8 447.5h0M486.7 457.2h0M486.6 446.9h0M486.9 451.1h0M486.9 446.4h0M486.7 452.4h0M487.2 450.7h0M486.7 458.7h0M486.9 446.7h0M487.0 450.5h0M487.0 458.3h0M486.9 448.2h0M486.8 446.7h0M487.5 456.4h0M487.3 456.3h0M486.7 455.6h0M486.7 473.7h0M486.9 456.2h0M486.6 460.2h0M487.3 458.1h0M487.4 468.6h0M486.6 456.4h0M488.9 447.1h0M488.7 446.9h0M487.7 445.8h0M489.1 453.2h0M487.9 447.9h0M489.2 449.2h0M487.8 446.0h0M489.2 446.3h0M489.1 450.7h0M488.7 450.0h0M488.2 448.2h0M489.1 450.2h0M488.6 448.6h0M488.9 447.5h0M488.0 450.0h0M488.1 450.9h0M489.3 445.9h0M488.7 449.4h0M489.4 451.1h0M488.2 445.7h0M489.4 453.4h0M487.9 447.7h0M488.3 451.9h0M489.4 455.1h0M487.8 453.2h0M487.8 459.3h0M489.5 463.9h0M489.4 454.0h0M488.4 455.3h0M487.7 455.4h0M488.8 460.2h0M489.8 447.0h0M490.7 445.8h0M491.1 456.6h0M489.7 456.7h0M490.0 447.2h0M490.0 446.6h0M490.4 456.2h0M489.8 449.6h0M490.8 452.1h0M490.8 458.4h0M490.5 456.6h0M490.1 446.8h0M490.8 446.7h0M491.0 446.3h0M490.0 448.1h0M491.1 449.4h0M489.8 446.9h0M490.5 455.8h0M490.8 453.0h0M489.7 448.9h0M491.1 447.2h0M490.2 447.3h0M490.1 447.2h0M490.2 456.6h0M489.9 445.9h0M490.1 453.8h0M490.4 448.6h0M490.6 457.2h0M490.2 447.0h0M489.9 449.9h0M489.9 457.0h0M489.8 453.1h0M490.5 451.9h0M490.5 451.5h0M489.6 448.2h0M489.7 450.7h0M490.7 447.1h0M489.6 447.5h0M489.7 453.2h0M490.4 449.8h0M489.6 451.3h0M489.8 453.0h0M489.7 446.0h0M490.9 458.4h0M490.2 453.0h0M489.9 458.3h0M489.9 456.8h0M490.5 467.6h0M489.7 471.1h0M491.0 454.8h0M489.6 468.5h0M490.2 455.4h0M489.7 455.4h0M490.3 455.8h0M490.1 455.3h0M489.8 461.9h0M490.1 454.8h0M489.9 460.0h0M489.9 463.1h0M491.0 459.6h0M490.1 460.4h0M491.0 455.3h0M491.0 473.1h0M490.7 459.7h0M489.7 456.3h0M490.5 456.0h0M490.4 462.2h0M490.3 461.9h0M490.0 455.0h0M490.6 454.7h0M491.0 471.3h0M491.5 458.1h0M492.2 446.3h0M492.0 456.9h0M492.2 448.7h0M492.8 450.5h0M491.2 446.6h0M492.0 453.3h0M491.9 451.9h0M492.1 447.9h0M491.2 449.3h0M492.6 458.1h0M491.2 449.6h0M492.8 452.3h0M491.3 445.8h0M491.7 446.8h0M492.8 448.5h0M492.6 451.5h0M492.3 447.6h0M492.4 446.8h0M491.4 451.8h0M492.2 449.7h0M492.2 447.6h0M492.8 450.5h0M492.3 452.4h0M492.7 453.0h0M492.0 451.5h0M492.7 454.7h0M492.7 448.3h0M492.1 449.4h0M492.4 448.6h0M492.2 452.6h0M491.2 450.4h0M491.4 454.4h0M492.5 452.9h0M492.3 453.0h0M491.8 450.6h0M492.6 451.6h0M491.3 448.3h0M492.2 446.0h0M491.4 445.8h0M492.1 445.9h0M491.6 445.9h0M492.2 449.3h0M491.2 447.0h0M492.2 446.2h0M491.8 445.9h0M491.3 456.3h0M491.4 448.3h0M492.3 450.7h0M492.7 452.8h0M492.3 456.9h0M491.7 458.6h0M491.4 455.8h0M492.4 455.9h0M491.7 462.1h0M491.4 457.0h0M492.4 455.0h0M492.5 465.5h0M492.3 457.0h0M492.3 458.7h0M491.8 464.4h0M492.6 467.6h0M491.4 455.9h0M493.1 450.1h0M493.7 447.1h0M493.6 450.5h0M493.7 450.8h0M493.3 448.2h0M493.3 451.7h0M492.9 447.1h0M493.4 453.6h0M493.1 451.2h0M492.9 453.2h0M493.4 454.3h0M493.1 450.2h0M493.0 446.3h0M493.3 454.0h0M493.6 452.0h0M493.1 456.9h0M493.0 453.3h0M492.9 452.0h0M494.4 449.3h0M494.0 446.2h0M494.2 456.0h0M494.0 446.1h0M494.9 445.9h0M495.0 450.0h0M494.3 455.2h0M494.5 449.0h0M494.5 448.0h0M495.3 447.6h0M495.2 454.1h0M494.7 446.9h0M495.2 453.2h0M495.2 446.0h0M494.5 449.4h0M494.5 451.2h0M495.1 455.1h0M494.6 455.4h0M494.8 448.8h0M493.9 446.0h0M494.2 467.8h0M494.8 453.7h0M495.3 458.3h0M494.8 462.3h0M494.3 458.5h0M494.0 453.2h0M496.5 446.4h0M495.7 452.1h0M496.0 445.7h0M495.9 449.4h0M496.4 453.0h0M496.0 451.0h0M495.7 451.3h0M495.7 451.7h0M495.9 445.9h0M496.1 446.7h0M496.1 447.8h0M495.8 450.6h0M496.3 449.5h0M495.6 446.7h0M496.3 453.0h0M496.4 452.3h0M496.1 447.3h0M495.4 451.4h0M496.2 449.1h0M496.3 451.8h0M495.6 451.0h0M495.5 451.9h0M495.6 454.6h0M495.6 452.8h0M495.6 451.0h0M496.4 454.2h0M495.5 455.4h0M496.1 453.6h0M496.2 454.7h0M497.7 454.4h0M496.7 447.0h0M496.9 450.8h0M497.3 455.9h0M497.1 446.9h0M496.9 450.7h0M496.7 450.6h0M497.5 450.3h0M497.1 453.8h0M497.0 448.8h0M496.7 448.4h0M497.6 447.6h0M497.7 452.5h0M497.1 449.6h0M496.6 446.9h0M497.4 445.9h0M497.8 452.1h0M497.0 454.4h0M497.2 453.9h0M497.4 454.7h0M496.8 453.0h0M497.5 455.9h0M497.8 454.0h0M498.4 457.2h0M498.4 456.7h0M499.2 450.3h0M498.7 456.4h0M499.5 452.8h0M498.0 445.9h0M498.6 451.1h0M498.6 445.8h0M498.3 449.5h0M497.9 445.7h0M498.8 446.7h0M498.4 447.1h0M499.1 446.5h0M498.8 450.5h0M498.8 449.1h0M498.5 454.5h0M498.9 455.2h0M498.9 447.0h0M497.8 456.5h0M498.9 445.8h0M498.1 445.8h0M497.9 451.5h0M499.0 447.9h0M498.4 452.0h0M498.4 448.2h0M499.2 456.4h0M499.3 453.2h0M497.8 456.6h0M499.2 447.8h0M498.7 455.8h0M498.8 457.4h0M498.4 457.8h0M499.4 459.6h0M499.4 454.9h0M498.1 457.3h0M499.2 456.5h0M498.9 455.7h0M500.4 450.0h0M499.6 450.2h0M500.2 455.3h0M500.3 454.0h0M500.3 456.7h0M499.6 448.2h0M500.2 453.9h0M500.1 450.7h0M500.0 454.4h0M500.0 456.2h0M500.2 450.9h0M499.6 446.6h0M500.2 445.9h0M500.3 447.2h0M499.6 447.4h0M499.6 456.4h0M499.9 454.2h0M499.9 455.9h0M499.8 454.7h0M499.7 454.4h0M501.3 455.2h0M501.7 454.0h0M501.1 452.9h0M500.9 454.3h0M501.0 447.5h0M501.1 451.0h0M501.9 454.1h0M501.7 447.7h0M501.0 448.8h0M501.4 445.8h0M501.2 450.3h0M501.0 455.9h0M501.3 449.6h0M501.1 456.2h0M500.7 450.0h0M500.9 451.0h0M501.4 455.1h0M500.8 446.2h0M501.3 448.2h0M501.1 450.7h0M500.6 447.7h0M501.0 456.4h0M501.3 446.2h0M501.7 454.0h0M501.5 453.3h0M501.2 456.9h0M501.7 451.2h0M501.3 445.9h0M501.5 446.0h0M501.5 447.3h0M501.2 456.1h0M501.4 454.2h0M501.9 455.9h0M501.4 445.7h0M501.5 455.9h0M501.4 447.3h0M501.0 446.7h0M501.7 456.2h0M501.8 454.4h0M500.8 459.1h0M500.9 454.3h0M501.0 458.1h0M501.5 459.0h0M501.4 458.3h0M501.7 457.2h0M501.9 459.2h0M501.7 458.3h0M501.0 454.1h0M502.9 447.0h0M502.9 449.6h0M502.3 449.5h0M502.4 449.6h0M501.9 449.1h0M502.2 446.4h0M502.0 446.7h0M502.7 447.5h0M503.0 449.7h0M502.0 449.4h0M502.7 449.9h0M503.0 451.9h0M501.9 452.4h0M502.6 451.1h0M502.2 451.1h0M502.3 453.8h0M504.4 451.4h0M504.0 446.8h0M503.1 451.6h0M504.0 451.2h0M503.7 449.6h0M503.2 450.2h0M504.5 446.3h0M503.6 447.0h0M503.7 448.4h0M503.3 448.3h0M504.3 448.2h0M503.2 447.5h0M504.0 454.8h0M503.4 451.5h0M503.3 452.3h0M503.3 448.1h0M504.5 453.5h0M503.9 447.1h0M503.4 449.2h0M503.7 446.0h0M503.8 446.0h0M504.3 453.4h0M503.7 448.4h0M504.2 446.1h0M503.1 447.7h0M504.5 445.8h0M504.2 455.4h0M503.7 453.3h0M504.3 454.3h0M503.5 456.9h0M503.3 458.6h0M504.4 461.9h0M503.2 456.7h0M503.5 454.3h0M503.4 472.8h0M503.2 457.6h0M504.0 456.5h0M505.0 451.3h0M504.7 449.4h0M505.7 451.7h0M505.7 451.5h0M506.0 456.4h0M505.0 447.4h0M505.4 447.7h0M505.5 447.6h0M505.4 446.1h0M505.9 452.7h0M505.3 451.6h0M504.9 457.5h0M505.2 447.7h0M505.7 456.0h0M504.6 446.9h0M505.4 452.0h0M505.5 447.6h0M505.2 452.0h0M505.8 446.3h0M505.7 452.3h0M505.6 450.1h0M505.4 445.8h0M505.3 456.9h0M505.9 446.8h0M505.3 450.1h0M505.7 447.7h0M505.5 447.4h0M505.8 454.6h0M505.4 452.1h0M506.1 452.7h0M506.2 446.4h0M505.6 453.1h0M505.2 455.7h0M505.5 447.0h0M505.7 448.7h0M505.6 448.8h0M506.1 446.5h0M505.7 447.6h0M505.0 449.9h0M506.0 457.3h0M504.6 452.6h0M505.3 446.2h0M505.5 455.8h0M504.8 448.6h0M504.7 453.4h0M506.0 456.9h0M505.2 452.6h0M505.2 449.5h0M505.6 447.4h0M504.6 457.2h0M505.1 456.5h0M505.0 456.4h0M504.9 456.5h0M506.0 456.8h0M506.1 455.1h0M505.0 457.2h0M505.1 456.1h0M504.7 465.4h0M505.8 454.8h0M505.6 456.4h0M505.0 465.6h0M505.7 463.6h0M506.3 446.3h0M507.0 450.4h0M507.3 456.4h0M506.7 450.9h0M506.4 447.2h0M506.4 452.0h0M506.6 448.7h0M507.3 453.0h0M506.2 446.6h0M506.4 446.6h0M506.4 455.2h0M507.1 450.9h0M506.4 448.2h0M506.4 456.8h0M506.6 445.9h0M507.0 449.1h0M506.3 450.7h0M507.4 448.1h0M506.7 455.9h0M507.1 454.5h0M507.3 446.7h0M506.8 447.9h0M506.7 453.7h0M507.3 449.1h0M506.4 449.5h0M506.4 445.9h0M506.7 456.0h0M507.3 454.3h0M506.5 454.7h0M506.8 456.4h0M506.6 454.3h0M506.8 460.8h0M506.9 454.7h0M506.5 457.5h0M507.2 463.1h0M506.5 453.9h0M506.8 454.6h0M506.5 455.6h0M507.6 446.0h0M507.6 451.9h0M507.7 446.1h0M508.0 450.7h0M508.5 455.3h0M508.3 454.6h0M507.9 447.4h0M508.5 456.7h0M508.3 446.4h0M507.7 450.0h0M508.0 447.7h0M508.2 446.6h0M507.7 453.0h0M507.4 449.0h0M508.0 457.7h0M507.6 456.7h0M508.0 452.3h0M508.2 457.9h0M508.0 452.2h0M508.0 454.5h0M507.9 446.2h0M507.5 453.3h0M508.4 454.9h0M508.4 454.9h0M507.7 450.2h0M507.6 451.4h0M508.3 450.4h0M507.4 449.4h0M507.5 454.0h0M508.0 447.4h0M507.9 450.3h0M507.7 450.7h0M507.9 455.5h0M507.5 457.8h0M508.2 458.4h0M507.5 455.9h0M508.1 455.1h0M508.1 456.8h0M507.6 457.7h0M507.7 455.7h0M507.7 455.6h0M508.6 446.1h0M509.0 446.1h0M509.4 451.9h0M509.9 450.7h0M510.0 449.4h0M509.9 450.9h0M509.3 451.4h0M509.8 451.8h0M510.1 451.0h0M508.7 446.2h0M508.8 449.2h0M509.6 449.5h0M508.7 447.3h0M509.2 448.5h0M509.1 452.2h0M508.9 447.4h0M509.6 450.0h0M509.8 451.6h0M509.1 454.6h0M509.2 451.1h0M508.6 453.1h0M509.4 454.0h0M509.5 453.6h0M509.3 462.0h0M508.9 454.5h0M510.8 449.2h0M510.8 454.8h0M510.6 450.9h0M510.8 448.4h0M510.6 455.4h0M510.3 445.7h0M510.9 455.4h0M510.3 447.6h0M510.9 450.3h0M510.5 456.2h0M510.2 453.5h0M510.9 450.0h0M511.0 454.9h0M511.0 452.4h0M510.3 450.2h0M510.7 455.7h0M510.7 455.2h0M510.8 447.1h0M510.5 446.0h0M510.4 446.2h0M510.9 445.9h0M510.8 451.4h0M510.5 446.7h0M510.5 449.3h0M510.9 454.2h0M510.9 463.2h0M510.4 455.1h0M510.6 453.8h0M510.9 453.6h0M510.6 453.8h0M510.3 465.2h0M511.3 448.6h0M511.5 446.2h0M511.8 448.5h0M511.8 447.3h0M511.5 457.0h0M511.1 451.9h0M511.3 446.1h0M511.4 455.4h0M511.1 448.1h0M511.8 455.4h0M511.4 446.1h0M511.8 449.5h0M511.4 449.4h0M511.6 449.8h0M511.5 461.6h0M511.3 456.3h0M511.3 466.5h0M511.5 456.9h0M511.4 455.1h0M511.6 462.0h0M511.9 450.9h0M512.1 446.7h0M513.0 449.4h0M512.9 445.8h0M511.9 448.9h0M512.1 448.0h0M512.4 451.6h0M512.8 446.0h0M512.4 446.9h0M512.4 453.0h0M512.8 451.1h0M512.1 447.1h0M513.2 452.2h0M513.0 448.7h0M513.2 452.5h0M513.0 451.5h0M512.6 449.1h0M513.1 449.4h0M512.1 445.7h0M512.7 452.2h0M512.3 452.2h0M512.9 446.1h0M512.7 456.8h0M512.5 452.4h0M513.1 452.6h0M512.8 456.1h0M513.2 452.8h0M512.5 460.1h0M512.7 455.1h0M512.0 453.0h0M512.2 451.7h0M512.7 452.7h0M513.3 450.1h0M513.7 446.6h0M513.6 449.7h0M513.7 446.3h0M513.5 445.7h0M513.9 453.8h0M513.7 451.9h0M513.4 454.5h0M513.7 451.8h0M513.8 447.5h0M513.8 446.3h0M514.1 455.6h0M514.1 454.9h0M513.8 446.1h0M513.3 446.0h0M514.0 450.0h0M513.6 447.4h0M514.1 450.4h0M513.3 448.0h0M514.1 452.6h0M514.1 450.6h0M513.9 457.3h0M513.3 453.7h0M514.1 453.4h0M513.9 453.1h0M513.2 456.8h0M513.6 456.3h0M513.5 456.6h0M514.8 445.9h0M514.5 450.7h0M514.8 445.9h0M514.7 453.2h0M514.9 447.0h0M514.4 449.7h0M514.2 458.2h0M514.9 449.0h0M514.8 449.3h0M515.0 446.6h0M514.6 455.4h0M514.8 446.6h0M515.1 457.0h0M514.9 446.5h0M515.1 455.3h0M514.7 446.5h0M514.9 453.0h0M514.8 446.8h0M514.4 446.8h0M514.2 452.5h0M514.5 458.2h0M514.9 451.2h0M514.2 450.1h0M514.6 446.0h0M515.0 455.4h0M514.6 454.6h0M514.7 452.0h0M514.3 460.8h0M514.5 454.8h0M514.7 455.9h0M514.6 456.9h0M514.3 454.7h0M514.7 455.4h0M515.0 458.0h0M516.0 445.9h0M515.6 448.0h0M515.1 455.3h0M515.6 453.4h0M515.8 446.1h0M515.6 448.4h0M515.1 451.7h0M515.7 451.1h0M515.4 448.1h0M515.6 449.1h0M515.7 448.3h0M515.9 451.5h0M515.7 448.5h0M515.5 455.6h0M516.0 453.8h0M515.8 457.2h0M515.2 448.0h0M515.4 448.3h0M515.3 446.1h0M515.9 450.5h0M515.7 454.6h0M515.2 449.4h0M515.5 448.7h0M515.4 456.7h0M515.1 449.4h0M515.9 453.2h0M515.1 446.1h0M515.2 455.9h0M515.5 460.2h0M516.0 456.6h0M515.3 458.5h0M515.8 461.7h0M515.4 456.9h0M515.9 456.1h0M515.6 457.8h0M517.0 452.2h0M516.3 452.4h0M517.3 451.2h0M517.5 448.9h0M516.8 447.0h0M517.1 445.7h0M516.8 454.1h0M516.6 446.4h0M516.7 451.0h0M517.5 446.2h0M516.9 452.3h0M517.5 450.7h0M516.5 446.0h0M516.7 446.6h0M517.6 446.0h0M516.2 454.1h0M517.4 448.8h0M516.8 453.1h0M517.2 447.5h0M516.7 454.1h0M516.5 446.0h0M516.1 452.4h0M516.3 449.7h0M516.7 449.3h0M517.5 447.3h0M516.4 448.3h0M516.8 447.7h0M517.1 449.0h0M516.4 446.2h0M516.6 452.4h0M517.4 446.6h0M516.5 448.9h0M516.9 446.1h0M516.4 453.9h0M517.4 458.1h0M516.4 452.3h0M517.2 451.6h0M517.6 458.5h0M517.5 451.8h0M517.6 452.5h0M517.5 452.5h0M516.6 452.8h0M516.2 452.0h0M517.3 453.6h0M516.2 454.5h0M517.4 452.7h0M518.1 449.1h0M517.9 449.5h0M519.2 446.3h0M519.0 447.0h0M519.2 449.8h0M518.3 454.2h0M518.5 445.9h0M518.7 449.3h0M518.8 456.0h0M518.1 445.9h0M518.4 450.4h0M519.3 447.1h0M518.5 448.1h0M519.0 453.8h0M518.4 455.6h0M517.8 447.5h0M517.8 447.3h0M519.1 456.2h0M518.6 450.7h0M518.4 448.6h0M518.5 451.3h0M518.0 454.6h0M518.7 460.5h0M518.0 455.4h0M518.9 459.1h0M518.2 453.8h0M518.4 455.2h0M518.4 453.6h0M518.2 458.1h0M519.5 454.9h0M520.3 448.2h0M519.9 458.8h0M520.3 451.7h0M520.0 451.5h0M519.9 449.0h0M520.5 454.7h0M519.8 447.2h0M519.4 449.1h0M519.9 455.3h0M520.4 446.4h0M520.0 455.8h0M520.1 454.1h0M519.4 450.9h0M520.1 446.3h0M519.4 446.1h0M519.4 450.0h0M520.1 455.8h0M520.4 452.4h0M520.4 451.8h0M519.9 445.8h0M519.7 446.2h0M520.2 446.5h0M519.3 446.7h0M519.5 448.7h0M520.3 450.9h0M519.8 447.2h0M519.8 446.2h0M520.3 449.4h0M520.1 456.5h0M519.7 455.7h0M519.5 467.9h0M519.9 459.4h0M519.9 456.0h0M519.5 459.6h0M520.3 455.8h0M520.9 445.8h0M521.0 445.8h0M521.0 453.1h0M520.9 447.2h0M520.5 446.7h0M521.0 454.8h0M520.8 446.7h0M521.1 445.7h0M520.9 452.4h0M520.6 450.6h0M520.7 447.1h0M520.9 446.1h0M520.9 447.5h0M521.2 448.6h0M520.6 454.4h0M520.9 447.2h0M520.6 446.3h0M521.0 454.3h0M521.1 458.9h0M520.5 453.7h0M521.0 456.2h0M520.7 456.0h0M522.2 445.7h0M521.6 453.8h0M521.7 454.2h0M521.9 451.1h0M521.9 452.6h0M521.2 450.8h0M521.4 451.4h0M521.8 451.0h0M522.1 452.1h0M521.7 446.3h0M521.7 449.4h0M521.8 447.2h0M521.3 453.9h0M521.5 453.4h0M522.0 453.1h0M521.5 458.5h0M521.7 462.0h0M521.8 454.0h0M521.3 455.2h0M521.7 453.9h0M521.4 454.6h0M521.3 453.7h0M522.0 460.6h0M523.2 448.8h0M523.1 450.6h0M522.6 452.4h0M522.5 452.6h0M522.8 445.8h0M522.7 451.1h0M523.0 448.0h0M522.9 447.3h0M522.3 446.3h0M523.1 446.5h0M522.8 446.7h0M522.6 450.4h0M522.7 449.4h0M522.5 453.1h0M522.4 451.8h0M523.2 452.5h0M522.6 447.2h0M523.0 450.0h0M523.2 452.1h0M522.3 454.5h0M522.7 452.4h0M523.2 455.5h0M522.6 454.1h0M522.9 460.2h0M522.5 453.1h0M522.8 453.6h0M523.9 452.8h0M524.2 450.2h0M524.5 453.3h0M523.6 450.0h0M524.6 450.8h0M524.0 448.3h0M525.2 448.8h0M525.2 449.9h0M524.5 447.9h0M525.2 448.0h0M524.1 446.3h0M525.1 448.3h0M523.7 446.3h0M523.6 447.7h0M523.5 449.1h0M525.0 453.0h0M525.2 451.7h0M525.1 446.1h0M524.2 453.6h0M523.9 450.6h0M524.0 448.6h0M524.9 450.0h0M524.7 446.8h0M523.5 445.8h0M524.4 448.7h0M524.0 451.0h0M524.1 448.2h0M523.7 446.3h0M524.8 448.7h0M523.7 445.9h0M524.5 445.8h0M523.9 448.0h0M523.5 445.7h0M525.1 447.0h0M525.0 445.8h0M523.7 448.7h0M523.6 450.0h0M523.8 451.2h0M525.2 458.1h0M523.5 451.7h0M523.3 459.1h0M524.8 454.6h0M523.9 453.7h0M525.0 454.3h0M523.7 455.8h0M523.6 456.3h0M524.1 454.1h0M523.3 457.2h0M525.0 451.8h0M523.7 454.9h0M523.8 451.6h0M524.0 460.2h0M524.7 455.4h0M526.8 447.0h0M525.9 451.7h0M525.7 448.2h0M525.4 452.5h0M526.5 446.7h0M525.8 452.0h0M525.7 452.4h0M525.9 449.8h0M526.6 445.7h0M525.7 449.2h0M526.3 449.4h0M526.0 447.8h0M526.3 448.9h0M526.2 451.6h0M525.9 449.9h0M525.4 447.7h0M526.1 453.2h0M525.9 452.6h0M526.4 452.4h0M526.1 453.4h0M526.4 458.3h0M526.0 452.6h0M526.1 454.6h0M525.9 451.9h0M526.0 459.2h0M526.0 451.9h0M526.1 452.7h0M526.0 452.9h0M526.4 453.3h0M526.5 454.8h0M525.9 456.3h0M526.1 454.7h0M527.1 446.7h0M526.8 453.8h0M527.5 454.4h0M527.2 450.4h0M526.8 447.4h0M527.3 446.4h0M527.1 448.0h0M527.5 446.6h0M527.5 445.7h0M526.9 449.1h0M527.2 445.9h0M527.2 454.3h0M526.8 450.1h0M527.5 455.7h0M527.1 456.5h0M527.2 453.8h0M526.9 453.8h0M528.0 447.1h0M528.3 450.4h0M528.1 451.8h0M527.6 454.2h0M527.6 450.7h0M528.3 450.4h0M527.7 453.5h0M527.9 450.3h0M528.0 450.1h0M528.5 453.1h0M528.4 451.5h0M527.8 447.5h0M528.3 450.5h0M528.4 448.5h0M528.3 454.0h0M528.1 450.4h0M528.1 448.7h0M527.9 445.9h0M528.1 453.5h0M528.0 456.4h0M527.6 458.5h0M527.9 454.0h0M528.5 453.1h0M527.8 458.6h0M528.0 452.2h0M528.1 452.7h0M528.5 450.4h0M528.8 452.9h0M528.6 448.6h0M529.0 449.3h0M529.0 453.9h0M528.6 448.4h0M528.7 452.0h0M529.2 452.8h0M529.0 446.8h0M528.8 448.7h0M528.6 446.2h0M528.7 448.4h0M528.7 447.7h0M528.7 446.5h0M529.0 447.6h0M529.1 447.4h0M528.6 455.3h0M528.7 453.6h0M528.9 454.3h0M528.8 455.3h0M528.6 455.3h0M528.5 456.1h0M530.3 449.2h0M530.1 445.7h0M530.0 445.9h0M529.3 454.4h0M529.6 451.4h0M529.4 450.1h0M530.1 447.0h0M529.8 453.4h0M529.6 447.7h0M529.3 452.0h0M530.0 454.1h0M530.2 450.8h0M530.1 453.0h0M530.0 453.3h0M529.9 450.7h0M529.6 447.0h0M529.7 451.5h0M529.6 451.3h0M530.1 454.2h0M530.0 454.3h0M529.8 449.7h0M530.0 446.4h0M529.7 449.5h0M530.0 447.6h0M529.5 456.4h0M529.3 453.1h0M530.3 456.0h0M529.8 459.4h0M530.0 454.5h0M530.2 453.5h0M529.7 452.9h0M529.5 453.0h0M529.3 461.9h0M531.0 445.7h0M531.0 452.9h0M530.8 447.7h0M530.6 447.7h0M531.3 447.9h0M530.9 448.1h0M531.2 448.3h0M531.3 447.6h0M531.6 445.8h0M531.3 454.0h0M531.0 452.9h0M531.1 446.1h0M531.4 449.0h0M531.2 453.3h0M530.9 447.0h0M531.4 451.8h0M531.2 456.0h0M531.5 464.5h0M531.3 454.0h0M531.0 455.1h0M531.2 454.3h0M532.1 446.7h0M532.3 452.9h0M531.7 446.1h0M532.1 449.7h0M532.3 445.9h0M532.2 454.2h0M531.8 445.9h0M532.3 448.1h0M532.3 450.2h0M532.3 455.1h0M532.1 448.9h0M532.3 449.9h0M531.6 455.4h0M531.7 447.0h0M531.9 450.1h0M532.3 448.1h0M532.3 445.9h0M531.7 453.4h0M532.1 456.4h0M531.7 446.3h0M532.0 457.0h0M532.1 454.5h0M532.3 455.2h0M531.6 458.0h0M531.6 454.7h0M531.8 454.2h0M532.1 454.7h0M532.2 469.0h0M533.3 448.7h0M532.6 452.6h0M533.4 447.5h0M533.5 455.3h0M533.0 454.4h0M533.0 449.9h0M533.6 456.4h0M533.9 454.9h0M533.5 448.7h0M532.7 449.4h0M532.6 449.6h0M532.5 447.5h0M532.6 454.5h0M533.2 453.5h0M533.2 455.0h0M533.1 449.8h0M532.4 449.1h0M532.6 457.1h0M532.9 449.4h0M532.6 449.4h0M533.1 455.4h0M533.5 447.8h0M533.1 456.3h0M533.4 456.5h0M533.2 454.8h0M533.9 458.1h0M533.8 460.4h0M533.9 462.3h0M532.8 454.2h0M533.8 462.8h0M533.4 463.0h0M534.9 453.1h0M533.9 448.5h0M535.2 449.8h0M534.4 448.2h0M534.2 450.0h0M534.8 449.0h0M535.4 448.6h0M534.5 446.0h0M534.1 449.2h0M534.7 446.9h0M534.6 453.5h0M535.4 446.5h0M534.5 447.7h0M535.4 453.0h0M534.6 447.7h0M534.8 449.7h0M535.0 447.2h0M534.4 445.7h0M534.4 446.2h0M535.3 452.7h0M534.9 453.1h0M535.0 449.0h0M535.2 448.6h0M534.5 453.5h0M534.3 447.7h0M534.4 449.4h0M534.5 452.5h0M534.7 452.0h0M535.2 459.1h0M534.3 451.4h0M534.3 461.5h0M535.4 451.6h0M534.8 454.6h0M535.0 453.4h0M534.1 454.6h0M535.0 452.7h0M534.3 451.7h0M536.1 451.8h0M536.3 449.2h0M536.0 447.8h0M536.5 449.5h0M536.0 446.1h0M535.5 448.3h0M536.0 446.7h0M536.2 446.6h0M535.6 451.0h0M536.2 452.6h0M535.4 448.4h0M536.5 445.9h0M536.3 445.8h0M536.3 448.1h0M536.0 446.2h0M536.5 447.5h0M535.9 447.8h0M536.4 449.2h0M536.1 450.9h0M536.0 452.2h0M536.1 454.0h0M535.6 452.7h0M536.8 451.1h0M536.4 452.8h0M536.4 461.1h0M536.3 451.6h0M536.3 453.2h0M536.8 451.9h0M536.3 453.8h0M538.1 448.7h0M537.1 447.0h0M538.3 452.5h0M538.4 449.8h0M538.0 448.4h0M537.4 452.2h0M537.7 448.2h0M537.4 446.9h0M537.8 449.5h0M537.2 446.9h0M537.8 448.4h0M538.0 447.8h0M537.7 446.3h0M538.4 451.2h0M537.8 445.7h0M538.1 447.1h0M538.3 448.1h0M537.3 452.7h0M537.8 451.9h0M537.6 446.0h0M537.2 446.1h0M538.5 451.0h0M537.7 447.0h0M536.9 448.2h0M538.4 445.8h0M537.9 446.1h0M537.6 448.1h0M536.9 448.2h0M538.6 450.9h0M538.7 448.0h0M537.6 448.6h0M537.4 450.8h0M538.0 451.5h0M537.6 452.9h0M537.5 451.3h0M538.4 453.0h0M538.3 452.1h0M538.7 452.3h0M537.5 453.3h0M537.8 456.6h0M537.2 454.0h0M537.4 454.6h0M538.7 451.6h0M538.5 452.8h0M538.7 459.2h0M538.8 450.7h0M540.2 450.3h0M540.4 446.4h0M539.2 453.5h0M540.0 450.6h0M539.0 445.9h0M539.1 445.8h0M539.7 449.3h0M539.4 446.4h0M539.1 449.5h0M540.3 447.5h0M539.3 449.5h0M540.2 447.5h0M540.5 447.3h0M540.0 450.4h0M539.5 445.9h0M539.5 448.9h0M539.2 453.4h0M538.9 447.2h0M539.0 451.0h0M539.0 452.0h0M539.8 450.4h0M540.4 446.4h0M540.5 449.4h0M539.7 452.6h0M540.5 453.3h0M539.8 455.1h0M538.9 447.0h0M539.4 449.7h0M539.9 446.0h0M539.4 451.3h0M540.4 452.5h0M539.2 461.2h0M539.9 455.3h0M538.9 452.6h0M540.3 455.5h0M540.6 454.8h0M540.1 453.0h0M540.2 458.8h0M540.3 452.9h0M540.0 453.2h0M539.2 469.0h0M542.2 452.9h0M541.4 451.8h0M540.8 447.4h0M541.5 446.3h0M541.9 458.8h0M542.4 449.4h0M540.8 451.1h0M540.7 457.1h0M541.6 450.0h0M542.2 449.4h0M542.0 450.8h0M541.1 455.2h0M540.7 445.8h0M541.3 450.5h0M541.8 452.4h0M541.0 447.2h0M542.2 455.9h0M541.4 447.6h0M541.9 447.2h0M540.8 445.8h0M540.7 448.7h0M541.3 447.3h0M542.2 453.4h0M542.0 446.7h0M542.3 445.7h0M540.7 445.7h0M541.7 449.1h0M540.9 456.9h0M540.8 445.9h0M542.3 446.9h0M541.2 448.4h0M541.7 445.7h0M541.7 449.5h0M540.7 452.3h0M541.2 448.2h0M541.2 454.6h0M540.8 446.4h0M541.2 454.9h0M540.7 458.2h0M541.7 454.6h0M541.6 449.4h0M540.8 447.9h0M540.9 452.6h0M541.6 445.8h0M540.6 455.4h0M542.2 459.8h0M542.4 460.2h0M541.2 459.9h0M542.4 460.1h0M541.2 461.1h0M541.5 455.4h0M542.3 460.5h0M540.6 459.2h0M541.1 466.2h0M541.9 460.9h0M542.1 459.5h0M541.9 457.5h0M542.1 455.6h0M542.4 461.5h0M542.2 465.0h0M541.4 469.6h0M541.8 458.1h0M542.1 456.8h0M542.1 457.6h0M542.2 460.2h0M541.6 462.1h0M543.0 449.8h0M542.7 448.8h0M543.5 453.3h0M543.2 448.5h0M543.9 449.7h0M543.5 447.9h0M543.0 446.8h0M543.7 454.3h0M542.7 447.4h0M542.7 446.0h0M542.9 447.0h0M543.6 449.7h0M543.9 452.0h0M542.6 448.4h0M543.0 451.6h0M542.9 446.0h0M543.2 446.3h0M542.5 450.4h0M543.5 449.8h0M543.3 446.7h0M543.9 447.5h0M543.0 454.0h0M543.5 445.9h0M543.6 453.4h0M542.7 446.0h0M543.8 445.8h0M542.8 447.7h0M542.6 446.2h0M543.8 448.5h0M542.6 447.6h0M543.7 452.5h0M542.8 452.8h0M543.3 456.0h0M543.1 457.2h0M543.7 452.1h0M543.5 454.2h0M543.8 452.9h0M542.5 460.1h0M543.5 452.8h0M543.5 454.3h0M542.8 452.4h0M543.0 456.5h0M545.8 455.5h0M545.5 450.6h0M545.8 456.7h0M544.1 455.5h0M545.3 449.6h0M544.5 451.4h0M545.3 452.4h0M545.1 446.1h0M544.7 451.1h0M544.6 454.8h0M545.6 456.3h0M544.1 451.2h0M545.7 448.4h0M544.4 451.9h0M544.1 450.3h0M544.3 446.5h0M545.4 451.8h0M545.2 455.7h0M544.2 455.0h0M544.4 448.4h0M545.8 445.7h0M545.3 445.8h0M544.9 456.1h0M545.0 452.7h0M545.5 446.3h0M545.0 448.5h0M544.4 454.5h0M545.7 454.7h0M544.6 449.9h0M545.6 449.9h0M545.8 451.2h0M544.3 448.9h0M545.4 445.8h0M545.5 454.0h0M545.5 449.4h0M544.0 452.9h0M544.1 450.4h0M544.0 445.7h0M544.4 451.7h0M545.4 450.6h0M544.0 447.3h0M545.4 449.4h0M544.7 453.6h0M544.9 456.8h0M544.1 450.7h0M544.6 445.8h0M545.3 451.1h0M545.2 445.8h0M545.4 467.5h0M544.8 453.7h0M544.4 457.1h0M545.3 454.7h0M544.9 455.4h0M545.6 458.5h0M545.8 461.0h0M544.8 453.8h0M544.1 453.9h0M544.2 457.0h0M544.3 456.9h0M544.2 460.2h0M544.0 457.5h0M545.5 460.3h0M545.0 458.2h0M546.4 449.9h0M546.7 454.7h0M546.6 446.0h0M546.8 448.3h0M546.8 456.5h0M546.6 447.3h0M546.0 454.6h0M546.2 453.2h0M546.9 448.7h0M546.8 449.9h0M546.8 450.1h0M546.5 445.7h0M546.3 450.6h0M546.3 446.1h0M546.5 454.3h0M546.8 446.2h0M546.5 451.6h0M546.7 445.9h0M546.1 452.5h0M545.9 448.9h0M546.5 468.9h0M546.4 458.2h0M546.7 456.7h0M546.3 454.4h0M547.2 448.0h0M547.0 449.1h0M547.0 446.5h0M547.5 448.8h0M547.2 447.7h0M547.4 445.9h0M547.4 449.5h0M547.1 448.0h0M547.2 452.1h0M547.3 445.8h0M547.2 454.1h0M546.9 451.8h0M547.7 456.4h0M547.3 454.3h0M548.4 460.7h0M548.7 465.7h0M549.1 464.1h0M549.1 464.3h0M548.1 455.4h0M548.7 465.4h0M549.0 445.9h0M548.7 467.4h0M548.2 449.8h0M549.2 448.7h0M548.0 449.8h0M548.5 453.3h0M548.5 445.9h0M549.0 452.1h0M548.3 446.5h0M548.3 460.0h0M548.8 465.2h0M549.1 466.3h0M548.6 449.0h0M547.8 448.2h0M548.6 463.6h0M548.0 460.6h0M548.6 458.1h0M548.8 451.0h0M548.0 456.7h0M548.5 459.8h0M548.4 445.7h0M547.8 455.2h0M548.6 456.2h0M548.2 454.2h0M548.6 447.0h0M549.2 453.5h0M549.0 445.8h0M548.6 457.7h0M548.8 458.6h0M549.3 450.8h0M548.4 459.9h0M547.8 457.2h0M548.4 466.6h0M548.8 465.8h0M547.9 450.5h0M548.3 448.0h0M549.3 466.1h0M548.3 456.2h0M548.3 461.5h0M549.0 461.7h0M549.1 454.3h0M548.7 449.0h0M548.4 467.8h0M548.6 452.1h0M548.3 449.1h0M548.5 446.3h0M549.0 446.6h0M548.6 460.3h0M548.4 446.6h0M548.6 462.4h0M548.0 453.3h0M549.0 451.4h0M547.8 455.2h0M548.0 452.0h0M549.0 446.5h0M547.8 457.3h0M547.8 460.7h0M548.8 454.9h0M548.9 459.0h0M548.5 449.8h0M547.9 462.2h0M548.2 467.2h0M548.1 453.7h0M549.3 451.6h0M548.7 454.5h0M548.3 449.4h0M548.5 446.3h0M547.9 446.4h0M549.1 457.4h0M548.6 468.0h0M548.6 463.2h0M548.3 472.4h0M548.7 462.9h0M548.5 473.0h0M548.8 463.8h0M547.8 468.6h0M548.3 469.8h0M548.7 462.1h0M550.9 449.4h0M550.8 451.2h0M550.3 447.5h0M549.8 447.3h0M549.7 450.2h0M550.9 446.4h0M549.4 451.5h0M549.5 447.3h0M549.6 467.2h0M549.6 451.4h0M549.6 457.3h0M552.2 468.2h0M551.4 460.0h0M551.9 470.2h0M551.3 471.3h0M551.3 448.5h0M552.4 458.0h0M551.8 468.6h0M552.2 469.2h0M551.2 449.8h0M551.9 454.1h0M551.6 452.3h0M551.9 466.5h0M551.5 445.9h0M552.2 449.9h0M551.4 447.1h0M552.1 462.0h0M551.7 454.0h0M551.2 467.9h0M551.5 456.6h0M551.5 469.2h0M552.4 468.4h0M551.7 464.3h0M552.1 465.1h0M552.8 454.8h0M553.2 448.0h0M552.6 451.6h0M553.1 448.6h0M552.8 455.3h0M553.2 452.1h0M552.9 450.5h0M552.6 450.7h0M552.6 449.0h0M553.0 446.0h0M552.8 459.1h0M552.5 452.9h0M552.8 446.2h0M553.2 455.0h0M552.7 453.6h0M552.9 453.7h0M552.9 454.8h0M553.0 450.7h0M552.7 457.1h0M553.0 448.0h0M553.1 459.9h0M553.0 447.0h0M553.0 455.8h0M553.2 456.7h0M553.1 471.3h0M552.6 457.9h0M554.1 450.7h0M554.0 454.7h0M554.2 448.7h0M554.2 451.0h0M553.4 455.2h0M554.0 453.5h0M553.5 458.5h0M553.3 449.9h0M553.4 448.7h0M554.2 447.3h0M553.7 456.9h0M554.2 448.6h0M553.9 445.9h0M554.0 455.5h0M553.8 445.7h0M554.2 457.3h0M554.1 447.8h0M554.0 455.6h0M553.7 452.2h0M553.6 456.6h0M554.0 455.0h0M553.6 445.8h0M553.8 451.3h0M553.5 455.8h0M553.5 447.5h0M554.1 455.2h0M553.8 446.4h0M553.8 448.5h0M553.5 455.6h0M553.9 455.7h0M553.5 455.6h0M553.9 472.3h0M553.8 455.8h0M555.1 453.9h0M555.1 450.6h0M555.1 446.1h0M554.3 456.3h0M555.3 447.2h0M555.3 454.8h0M555.1 456.0h0M555.1 446.8h0M555.1 450.3h0M555.3 461.1h0M554.9 456.1h0M555.1 450.7h0M555.2 447.6h0M555.1 449.1h0M554.8 461.0h0M555.3 456.5h0M554.9 446.0h0M554.4 453.8h0M554.9 447.4h0M554.4 446.7h0M555.3 456.0h0M555.0 458.0h0M555.1 458.9h0M554.7 459.5h0M554.9 454.2h0M554.8 447.4h0M554.6 461.6h0M554.8 451.0h0M554.4 454.2h0M554.5 446.5h0M554.9 453.6h0M554.6 446.7h0M555.1 457.2h0M554.6 447.0h0M554.8 451.3h0M554.5 446.7h0M555.2 450.0h0M554.9 456.6h0M554.9 466.4h0M555.1 461.9h0M555.2 468.1h0M554.7 459.2h0M555.2 463.1h0M554.7 468.1h0M556.0 461.9h0M555.8 458.5h0M555.4 450.4h0M555.5 451.0h0M556.2 458.2h0M556.3 454.1h0M556.1 446.6h0M555.8 451.3h0M556.2 461.1h0M556.4 459.8h0M556.3 448.0h0M555.6 459.5h0M555.6 464.3h0M555.9 452.0h0M555.6 461.7h0M555.5 453.8h0M556.4 456.6h0M556.4 449.9h0M555.8 464.0h0M556.2 447.0h0M555.8 458.8h0M555.9 448.1h0M555.4 450.2h0M555.7 445.7h0M555.8 456.0h0M556.3 446.6h0M556.1 463.4h0M556.0 472.5h0M556.0 466.5h0M558.1 458.4h0M558.3 445.8h0M558.2 446.6h0M556.7 451.5h0M556.8 447.0h0M558.2 459.2h0M558.2 461.8h0M557.6 463.3h0M557.4 446.6h0M557.7 456.5h0M556.9 448.6h0M556.5 451.6h0M558.0 450.3h0M556.5 450.1h0M557.2 448.0h0M557.9 460.0h0M556.5 458.6h0M558.1 459.8h0M557.8 448.1h0M558.0 450.5h0M558.1 457.9h0M557.6 459.1h0M557.7 459.2h0M556.9 462.9h0M557.9 458.7h0M558.4 468.0h0M558.6 446.3h0M558.5 474.6h0M558.9 465.3h0M559.1 457.7h0M558.5 459.7h0M559.1 463.7h0M559.0 447.2h0M558.9 448.0h0M558.9 470.0h0M558.6 448.0h0M558.9 450.8h0M558.8 463.8h0M559.2 457.8h0M558.9 465.9h0M559.0 463.5h0M558.4 459.1h0M558.7 469.1h0M558.8 467.9h0M559.2 457.3h0M558.6 470.1h0M559.1 465.8h0M558.5 458.2h0M559.1 470.0h0M559.0 468.2h0M559.2 446.6h0M558.6 451.2h0M558.7 446.0h0M558.6 460.2h0M558.6 447.8h0M558.4 463.0h0M558.7 455.0h0M558.9 452.3h0M558.4 467.6h0M558.5 449.9h0M558.8 465.8h0M558.5 446.1h0M559.1 445.7h0M558.8 467.1h0M559.1 445.8h0M558.5 447.7h0M558.9 454.7h0M558.7 453.4h0M558.4 475.5h0M558.7 449.1h0M558.6 449.3h0M559.2 446.4h0M558.5 447.0h0M558.6 464.2h0M558.5 455.8h0M558.6 446.5h0M558.5 461.0h0M558.8 465.2h0M559.1 469.6h0M558.7 457.3h0M558.6 466.1h0M559.1 448.8h0M558.9 453.9h0M558.9 473.4h0M558.8 486.5h0M558.5 467.8h0M558.6 467.2h0M558.8 480.2h0M560.1 452.6h0M559.3 455.5h0M560.0 448.5h0M559.7 448.8h0M559.9 451.0h0M559.5 448.9h0M559.4 453.7h0M559.9 453.6h0M560.5 449.3h0M560.3 457.6h0M559.5 453.0h0M559.9 452.3h0M560.1 458.5h0M559.9 463.2h0M560.9 451.0h0M561.5 448.7h0M561.6 447.3h0M561.3 451.7h0M561.6 449.8h0M561.1 446.6h0M561.6 450.6h0M561.0 447.4h0M561.1 446.3h0M561.0 446.0h0M561.7 445.7h0M560.8 462.8h0M561.5 450.3h0M561.2 485.1h0M561.6 450.7h0M563.2 448.7h0M563.0 445.9h0M562.3 449.6h0M562.1 451.2h0M562.9 446.7h0M561.8 454.3h0M562.7 447.4h0M563.2 452.8h0M562.0 448.4h0M561.8 447.6h0M562.6 461.0h0M561.9 453.0h0M564.1 458.5h0M563.7 467.3h0M564.2 447.0h0M564.0 456.9h0M564.4 464.8h0M564.2 461.1h0M563.9 454.8h0M563.4 465.8h0M564.3 453.9h0M564.3 460.5h0M564.1 445.9h0M563.8 447.0h0M563.7 463.1h0M563.4 457.8h0M564.3 462.7h0M563.7 451.4h0M564.4 458.5h0M563.8 447.0h0M563.8 445.9h0M563.6 463.8h0M563.4 454.6h0M563.4 459.0h0M564.3 463.1h0M564.2 467.5h0M564.3 463.2h0M564.4 448.1h0M563.5 459.3h0M563.4 466.7h0M564.1 466.8h0M563.6 449.0h0M563.4 447.0h0M563.8 452.5h0M564.0 465.6h0M563.6 449.2h0M563.5 466.0h0M563.9 467.4h0M563.6 465.3h0M563.9 465.7h0M563.8 448.5h0M564.1 446.5h0M564.4 449.1h0M563.5 452.2h0M563.8 452.7h0M563.9 452.4h0M564.2 448.5h0M563.9 454.7h0M563.6 446.3h0M564.1 448.8h0M564.0 455.8h0M563.4 447.8h0M563.9 450.2h0M564.4 448.6h0M564.0 468.4h0M563.8 463.2h0M563.8 469.0h0M563.7 464.9h0M564.0 461.2h0M564.3 472.2h0M565.2 453.3h0M565.0 451.7h0M565.1 453.9h0M566.1 450.0h0M566.4 452.6h0M565.6 458.9h0M565.4 447.4h0M566.1 458.5h0M565.9 446.6h0M566.1 462.6h0M565.7 448.1h0M565.7 466.1h0M566.4 446.2h0M565.7 446.3h0M566.2 466.3h0M566.3 464.6h0M566.1 447.1h0M565.5 445.8h0M565.5 446.0h0M565.7 452.8h0M566.1 462.8h0M565.9 463.4h0M565.5 453.9h0M566.2 450.6h0M565.6 450.3h0M565.8 453.7h0M565.9 463.2h0M566.3 450.4h0M565.6 453.4h0M565.8 463.8h0M566.1 462.2h0M565.6 452.0h0M566.2 457.8h0M566.0 448.3h0M566.2 453.0h0M565.7 454.0h0M565.9 455.5h0M566.1 463.6h0M565.7 456.1h0M565.5 461.9h0M565.7 469.2h0M566.4 462.0h0M566.2 462.9h0M566.8 448.0h0M567.5 448.7h0M567.3 445.9h0M566.6 448.1h0M566.7 445.7h0M567.5 447.4h0M567.5 450.8h0M566.9 446.3h0M567.6 447.6h0M566.4 448.3h0M567.6 452.0h0M567.2 455.0h0M567.7 463.6h0M566.6 452.6h0M566.6 461.3h0M568.2 456.3h0M567.8 464.7h0M568.4 457.8h0M567.9 465.2h0M567.8 447.6h0M567.9 454.9h0M568.3 453.6h0M568.0 450.7h0M568.1 452.3h0M567.9 458.3h0M568.0 470.4h0M568.6 448.3h0M568.4 448.8h0M568.5 456.8h0M568.5 458.3h0M568.3 454.8h0M568.3 452.7h0M568.4 456.8h0M568.0 456.7h0M568.1 467.5h0M568.1 462.1h0M568.3 459.0h0M567.9 446.4h0M568.0 447.4h0M567.8 471.2h0M568.2 469.9h0M568.4 446.4h0M567.8 469.5h0M567.8 472.6h0M569.1 468.7h0M569.5 447.5h0M568.9 468.5h0M570.2 447.0h0M568.7 452.7h0M568.9 466.0h0M568.7 447.0h0M570.3 447.4h0M570.0 460.7h0M568.9 470.3h0M568.9 464.1h0M569.8 446.6h0M569.5 449.8h0M568.8 468.0h0M569.8 456.6h0M570.3 453.4h0M570.0 453.8h0M569.2 468.2h0M569.5 471.6h0M569.5 446.2h0M570.4 449.9h0M569.2 451.9h0M569.1 472.4h0M569.1 451.6h0M569.6 453.4h0M569.1 464.6h0M570.0 451.1h0M569.4 458.9h0M570.2 471.5h0M570.2 446.2h0M568.7 457.4h0M569.8 446.6h0M568.7 471.4h0M568.7 454.6h0M569.2 460.7h0M568.8 455.7h0M569.5 452.8h0M569.3 460.8h0M569.7 454.6h0M569.8 447.6h0M569.1 459.2h0M569.2 449.0h0M570.1 472.4h0M568.8 446.1h0M568.6 458.2h0M569.0 446.0h0M568.8 468.1h0M570.0 450.8h0M569.9 448.1h0M570.3 464.1h0M570.0 459.2h0M569.2 445.7h0M569.2 452.2h0M568.7 448.2h0M569.4 446.9h0M569.6 469.8h0M569.2 452.8h0M569.3 464.5h0M569.1 464.9h0M570.2 455.4h0M569.3 466.9h0M569.5 460.2h0M570.1 463.3h0M568.9 462.1h0M569.1 445.9h0M569.5 448.7h0M569.2 447.6h0M569.3 453.9h0M568.7 451.9h0M570.4 476.0h0M569.0 453.9h0M569.2 476.4h0M569.1 475.9h0M569.3 446.7h0M569.5 474.4h0M569.6 446.1h0M570.3 455.1h0M570.4 470.8h0M568.6 455.8h0M569.7 466.0h0M570.1 474.2h0M570.1 450.6h0M569.0 463.3h0M569.3 452.4h0M570.2 454.4h0M570.2 450.0h0M570.1 474.1h0M568.6 463.8h0M569.1 455.7h0M569.6 465.6h0M570.2 468.4h0M570.2 465.1h0M569.4 474.7h0M569.2 465.3h0M568.9 445.8h0M568.9 456.0h0M568.9 451.7h0M569.2 463.0h0M568.6 457.8h0M569.8 464.4h0M568.7 470.4h0M568.9 450.5h0M570.3 455.0h0M569.0 447.4h0M569.3 468.4h0M569.5 454.8h0M569.6 464.6h0M570.3 451.5h0M570.4 468.0h0M569.1 469.1h0M569.5 479.9h0M570.2 467.3h0M569.3 470.1h0M569.9 468.4h0M570.4 467.9h0M570.1 470.6h0M568.7 470.3h0M571.0 451.1h0M571.4 452.8h0M570.6 456.8h0M571.4 456.1h0M570.5 453.4h0M570.7 454.4h0M570.8 454.6h0M571.5 447.9h0M571.6 449.9h0M570.5 453.6h0M571.8 451.2h0M570.8 453.4h0M571.2 448.4h0M570.8 453.6h0M571.8 446.8h0M571.0 462.8h0M570.5 456.1h0M571.4 463.5h0M571.7 454.2h0M570.9 448.9h0M570.8 460.1h0M570.5 453.9h0M571.9 448.6h0M571.1 448.4h0M570.8 457.4h0M570.5 448.8h0M570.5 449.1h0M571.4 447.1h0M570.8 447.4h0M571.8 446.4h0M571.3 456.8h0M571.5 454.4h0M571.3 458.5h0M570.9 458.4h0M571.8 460.9h0M570.7 481.2h0M571.3 469.6h0M571.7 459.8h0M572.7 449.9h0M572.9 451.7h0M574.7 447.6h0M574.6 475.6h0M573.8 446.0h0M574.5 447.3h0M574.0 455.4h0M573.5 463.4h0M574.4 469.3h0M573.8 462.6h0M573.9 450.8h0M574.7 458.3h0M574.3 469.6h0M574.3 459.0h0M573.8 459.9h0M573.9 464.1h0M574.5 459.1h0M573.9 465.3h0M573.5 450.6h0M573.5 446.1h0M574.5 448.0h0M574.7 446.4h0M574.7 474.6h0M574.5 468.3h0M574.4 456.5h0M573.5 475.7h0M573.9 467.0h0M574.5 471.2h0M573.5 454.5h0M574.0 449.8h0M573.6 473.8h0M574.2 473.8h0M574.8 473.5h0M573.9 454.6h0M574.3 473.4h0M574.1 470.8h0M574.7 458.2h0M573.8 461.3h0M574.3 459.1h0M574.3 446.5h0M574.2 457.4h0M574.2 472.2h0M574.5 450.7h0M573.8 463.1h0M574.8 459.3h0M574.3 453.7h0M574.5 451.3h0M574.1 473.0h0M573.7 456.3h0M573.7 447.5h0M574.4 473.9h0M574.4 469.7h0M574.0 474.0h0M573.5 449.4h0M574.0 473.5h0M574.4 470.2h0M574.4 457.2h0M574.3 472.3h0M574.5 464.1h0M574.7 447.1h0M573.5 448.8h0M573.6 474.8h0M574.6 465.3h0M574.5 466.2h0M573.6 456.7h0M574.7 448.6h0M574.1 468.0h0M573.8 448.3h0M574.4 452.3h0M574.5 457.6h0M574.3 463.7h0M574.2 454.8h0M574.1 447.1h0M573.9 466.0h0M574.7 453.7h0M574.5 450.5h0M574.0 463.0h0M574.6 468.2h0M574.1 470.1h0M574.7 472.9h0M574.7 471.0h0M574.7 473.5h0M574.3 471.9h0M575.2 456.7h0M576.0 455.7h0M575.9 452.7h0M575.6 461.3h0M575.2 464.8h0M574.9 452.3h0M575.5 453.1h0M576.8 448.2h0M577.0 456.7h0M576.4 457.4h0M576.8 454.6h0M577.1 450.8h0M577.1 452.4h0M576.5 451.6h0M577.0 447.5h0M576.6 453.8h0M577.0 464.6h0M576.7 449.8h0M577.1 449.7h0M577.0 465.8h0M577.6 452.0h0M577.3 452.6h0M578.4 447.4h0M577.3 451.8h0M577.6 452.4h0M577.6 446.0h0M577.8 445.9h0M578.1 452.4h0M578.2 452.9h0M577.3 450.4h0M577.7 446.8h0M577.2 448.3h0M577.2 446.8h0M578.1 449.0h0M577.4 447.6h0M577.9 447.1h0M577.2 454.3h0M578.3 447.5h0M577.4 445.8h0M577.8 451.4h0M578.4 452.7h0M577.5 450.2h0M577.9 461.2h0M577.3 455.6h0M578.2 453.3h0M577.2 471.4h0M577.7 454.4h0M578.3 472.2h0M579.1 446.0h0M579.4 455.8h0M578.7 456.7h0M578.7 446.0h0M579.1 447.1h0M579.1 454.7h0M579.5 455.3h0M578.8 447.4h0M578.7 459.2h0M579.5 460.8h0M579.4 458.3h0M578.7 459.2h0M579.2 460.8h0M580.0 447.5h0M579.7 448.2h0M580.3 448.0h0M580.1 453.1h0M580.1 445.7h0M580.0 460.1h0M580.2 445.8h0M580.0 451.1h0M580.2 454.5h0M580.1 457.5h0M580.2 458.9h0M580.0 458.2h0M580.3 447.5h0M579.9 445.8h0M580.1 450.0h0M580.3 451.8h0M580.0 454.1h0M580.0 448.9h0M580.1 459.9h0M580.1 453.3h0M580.1 446.0h0M579.7 459.9h0M580.1 468.4h0M580.0 457.9h0M580.5 455.1h0M581.1 450.7h0M581.0 457.1h0M581.6 449.0h0M582.0 456.4h0M581.6 451.8h0M581.1 445.8h0M581.1 446.0h0M581.7 454.5h0M580.9 447.6h0M581.8 453.8h0M581.6 446.2h0M581.2 454.3h0M580.9 450.0h0M582.0 455.5h0M581.0 454.0h0M581.4 448.5h0M581.8 450.0h0M580.9 446.9h0M581.8 446.5h0M581.9 446.3h0M580.6 447.4h0M581.0 447.8h0M581.5 458.9h0M580.6 456.2h0M581.2 455.5h0M581.2 461.5h0M583.4 450.1h0M583.3 446.8h0M582.6 450.5h0M583.4 449.4h0M582.2 449.9h0M583.7 446.1h0M582.3 445.7h0M582.9 446.7h0M582.7 445.7h0M582.0 448.4h0M582.9 446.6h0M582.4 450.3h0M583.2 448.4h0M582.9 446.8h0M583.3 446.7h0M582.6 448.8h0M583.1 447.3h0M583.3 450.7h0M583.1 446.9h0M583.3 447.5h0M582.2 445.7h0M582.5 450.4h0M583.2 456.5h0M582.9 466.1h0M583.2 453.9h0M582.3 450.5h0M583.0 464.8h0M583.7 469.1h0M582.4 450.9h0M584.4 448.8h0M583.9 446.9h0M584.7 446.1h0M584.7 447.6h0M583.9 452.4h0M584.7 452.2h0M584.8 446.9h0M584.3 447.3h0M584.6 447.9h0M584.1 445.8h0M584.7 445.7h0M584.3 447.5h0M584.7 447.5h0M584.7 452.2h0M583.8 451.8h0M584.4 447.8h0M584.0 446.8h0M583.8 446.1h0M584.8 446.7h0M584.8 456.0h0M584.4 451.9h0M584.5 456.2h0M584.1 455.3h0M583.8 457.4h0M584.8 452.1h0M586.1 450.6h0M586.6 446.7h0M586.3 446.3h0M585.5 448.7h0M585.9 448.2h0M585.6 446.7h0M585.4 447.2h0M585.1 447.7h0M585.0 449.6h0M586.1 448.1h0M586.3 451.7h0M586.3 451.2h0M585.6 446.6h0M586.7 450.8h0M586.3 449.7h0M585.4 445.8h0M586.6 446.9h0M586.8 448.2h0M585.7 445.9h0M585.2 450.7h0M586.6 449.7h0M585.5 447.1h0M585.6 451.0h0M586.5 446.1h0M585.8 451.0h0M585.4 449.2h0M584.9 445.8h0M586.6 451.5h0M584.9 447.9h0M586.7 453.7h0M586.5 468.1h0M586.3 456.0h0M585.3 478.7h0M586.5 452.0h0M586.3 451.6h0M585.2 471.9h0M586.7 451.4h0M585.4 452.3h0M586.4 463.2h0M586.8 446.5h0M588.1 447.4h0M587.0 458.8h0M588.6 456.2h0M587.7 454.8h0M587.4 457.6h0M587.1 461.6h0M589.2 446.4h0M589.3 452.4h0M589.3 456.1h0M590.5 455.3h0M589.5 446.1h0M590.1 459.3h0M592.0 459.1h0M591.9 457.1h0M591.2 456.7h0M590.9 456.1h0M590.8 462.3h0M591.4 453.4h0M590.8 448.3h0M591.8 449.2h0M590.8 447.6h0M591.3 447.6h0M592.0 454.3h0M591.1 449.5h0M591.1 458.9h0M590.8 449.0h0M590.9 458.6h0M591.9 447.4h0M591.3 453.6h0M591.6 462.1h0M590.6 448.9h0M591.7 449.4h0M590.8 459.3h0M591.2 447.1h0M591.0 450.0h0M590.7 453.1h0M590.5 446.8h0M592.0 453.3h0M591.1 459.3h0M591.1 457.2h0M591.0 462.1h0M591.4 448.8h0M591.6 455.2h0M591.3 459.9h0M592.0 461.4h0M592.0 458.5h0M590.7 445.8h0M591.2 446.9h0M591.2 461.6h0M591.9 454.8h0M590.7 446.2h0M590.7 462.6h0M590.6 448.4h0M591.6 455.5h0M592.0 456.5h0M591.8 452.7h0M591.7 451.6h0M590.6 458.4h0M590.6 446.8h0M591.1 448.8h0M591.9 451.3h0M591.6 449.8h0M590.7 449.1h0M591.9 456.1h0M591.2 453.4h0M590.8 460.2h0M591.4 465.5h0M590.7 480.9h0M590.7 459.1h0M591.3 458.5h0M592.0 460.7h0M591.0 462.9h0M591.8 463.0h0M592.2 446.8h0M592.6 450.1h0M592.9 448.4h0M592.6 453.1h0M594.3 468.3h0M594.4 459.3h0M594.0 445.9h0M594.5 466.4h0M593.9 450.7h0M594.5 464.9h0M593.7 461.6h0M594.5 467.5h0M594.1 448.0h0M593.5 467.6h0M594.3 448.0h0M593.7 455.7h0M593.3 448.6h0M594.3 459.9h0M593.9 463.8h0M594.0 447.3h0M594.4 454.0h0M594.0 454.7h0M594.4 470.0h0M593.3 460.9h0M594.0 461.3h0M594.5 448.6h0M594.6 461.6h0M594.4 470.0h0M594.3 467.0h0M594.6 461.5h0M594.7 473.3h0M594.5 469.1h0M595.5 452.0h0M595.4 446.2h0M595.4 454.0h0M595.3 455.5h0M594.9 454.3h0M595.5 455.3h0M595.5 449.5h0M595.2 457.7h0M596.1 450.1h0M595.9 454.3h0M595.6 455.8h0M595.9 455.0h0M597.2 458.4h0M596.6 448.0h0M596.2 456.8h0M595.8 446.8h0M595.6 453.8h0M596.5 458.4h0M596.3 453.7h0M596.1 457.9h0M596.5 457.4h0M597.1 451.6h0M595.7 453.0h0M595.8 451.7h0M597.2 445.9h0M597.4 451.0h0M596.1 452.7h0M596.4 446.0h0M596.9 458.9h0M597.4 451.3h0M595.7 452.5h0M595.7 446.0h0M597.0 455.3h0M596.0 451.2h0M597.5 454.6h0M595.8 450.3h0M597.1 446.5h0M596.4 445.7h0M596.7 452.5h0M596.1 447.8h0M597.0 449.9h0M597.5 454.9h0M595.5 458.0h0M596.4 449.1h0M597.1 452.6h0M597.2 450.9h0M597.3 458.7h0M596.3 450.3h0M595.7 446.0h0M595.6 450.6h0M597.0 446.5h0M596.9 446.7h0M597.1 452.3h0M595.5 458.9h0M596.7 446.4h0M595.6 450.8h0M596.8 457.2h0M595.7 458.2h0M596.2 451.4h0M596.3 455.7h0M596.7 453.9h0M597.5 453.4h0M596.2 451.5h0M596.1 460.8h0M595.9 463.3h0M597.0 460.5h0M597.4 457.9h0M597.3 456.2h0M596.5 457.3h0M595.8 459.4h0M595.9 462.0h0M595.7 456.0h0M596.3 460.6h0M599.1 449.1h0M598.5 454.3h0M598.2 454.0h0M597.9 448.1h0M599.0 449.4h0M599.1 451.1h0M598.4 452.2h0M598.8 452.4h0M597.6 450.7h0M598.9 453.8h0M597.6 446.1h0M598.9 448.5h0M598.7 455.9h0M597.8 446.3h0M598.0 458.3h0M598.3 448.2h0M597.8 454.5h0M599.0 445.8h0M598.6 445.8h0M598.9 446.6h0M598.5 447.2h0M598.3 453.5h0M597.9 454.8h0M598.5 446.7h0M598.5 455.0h0M599.0 446.1h0M598.8 451.6h0M599.1 452.9h0M598.7 453.8h0M598.1 448.7h0M598.5 445.8h0M598.2 446.1h0M598.6 447.1h0M598.6 447.5h0M598.6 447.9h0M598.9 454.2h0M598.0 447.8h0M597.6 451.8h0M598.1 448.0h0M598.5 449.4h0M598.5 455.6h0M599.1 458.5h0M598.9 450.8h0M597.7 450.3h0M598.8 458.6h0M598.7 470.5h0M599.1 455.3h0M598.3 469.9h0M597.5 454.9h0M598.5 459.6h0M598.0 459.5h0M598.1 464.0h0M598.1 466.6h0M600.1 446.5h0M600.9 447.0h0M600.7 448.1h0M599.6 449.0h0M600.6 447.9h0M600.5 449.5h0M600.0 448.9h0M600.3 445.8h0M600.9 447.4h0M599.2 447.3h0M600.1 449.5h0M599.4 446.6h0M599.6 451.7h0M600.1 449.7h0M599.7 447.2h0M599.7 449.3h0M600.4 447.8h0M599.4 448.8h0M599.9 447.0h0M600.0 448.6h0M599.3 446.4h0M599.9 446.1h0M600.0 447.4h0M600.8 446.3h0M600.3 446.3h0M600.7 450.3h0M600.0 449.0h0M601.0 447.5h0M599.4 453.5h0M600.1 452.1h0M600.4 467.8h0M599.4 454.5h0M599.6 454.7h0M599.9 451.2h0M600.8 454.7h0M600.4 453.9h0M599.6 453.6h0M599.4 457.5h0M600.3 462.4h0M601.9 447.7h0M602.3 448.5h0M602.3 451.6h0M602.0 447.9h0M601.9 446.7h0M602.0 450.4h0M601.7 455.7h0M601.6 451.6h0M603.6 452.5h0M602.8 462.7h0M603.1 453.4h0M603.6 461.0h0M603.7 447.5h0M603.3 458.7h0M602.7 462.9h0M603.3 459.5h0M603.9 454.1h0M603.8 459.3h0M604.7 451.4h0M604.4 453.6h0M604.6 457.7h0M604.1 454.3h0M603.9 457.6h0M604.2 456.0h0M603.9 458.8h0M604.0 446.2h0M604.0 453.1h0M604.8 460.1h0M605.2 447.4h0M605.0 456.5h0M605.9 447.2h0M606.1 450.7h0M605.8 455.0h0M605.0 450.1h0M605.3 447.9h0M606.0 448.3h0M605.6 458.9h0M606.0 457.6h0M605.6 447.0h0M605.2 462.2h0M605.6 464.2h0M605.7 449.1h0M605.4 453.4h0M605.4 457.0h0M606.0 446.0h0M605.6 455.1h0M605.8 446.7h0M605.2 462.0h0M605.2 461.4h0M605.7 449.5h0M606.2 462.6h0M605.6 446.8h0M605.0 446.6h0M604.9 446.2h0M605.2 447.6h0M605.6 448.8h0M606.0 448.3h0M605.7 458.7h0M606.0 463.3h0M605.1 446.0h0M606.0 459.1h0M605.2 447.1h0M605.7 450.0h0M605.4 449.8h0M605.2 451.2h0M605.9 454.4h0M605.8 452.9h0M605.7 462.8h0M605.1 452.8h0M605.3 460.4h0M605.1 468.6h0M605.7 460.6h0M605.6 472.9h0M605.2 497.1h0M606.1 459.2h0M607.7 451.5h0M608.0 451.2h0M606.2 452.5h0M607.4 457.2h0M608.1 449.1h0M607.7 445.9h0M607.2 449.3h0M606.4 451.3h0M607.4 458.4h0M607.9 450.8h0M607.8 451.0h0M606.5 446.5h0M606.5 451.4h0M606.8 446.4h0M607.1 455.4h0M607.1 447.5h0M607.6 455.1h0M606.5 487.8h0M607.5 455.0h0M608.9 449.1h0M609.0 454.2h0M608.2 457.0h0M608.2 467.8h0M609.3 449.8h0M609.3 458.3h0M608.9 466.7h0M608.4 469.2h0M608.6 446.3h0M609.0 448.7h0M608.6 452.5h0M608.9 446.3h0M609.1 450.5h0M608.8 459.4h0M608.4 451.0h0M609.0 447.4h0M608.5 468.9h0M608.8 462.4h0M608.4 451.1h0M608.7 456.5h0M608.4 448.8h0M608.8 449.5h0M609.3 466.6h0M609.1 449.1h0M608.6 462.4h0M609.0 456.1h0M608.2 458.2h0M608.3 446.4h0M608.3 452.9h0M609.4 471.6h0M608.9 470.5h0M609.3 465.2h0M609.2 456.2h0M609.1 470.5h0M608.4 447.8h0M608.8 454.6h0M609.0 468.6h0M609.1 446.0h0M608.2 445.9h0M608.7 450.5h0M608.8 461.6h0M608.5 452.5h0M609.4 463.6h0M609.3 449.4h0M609.1 448.2h0M609.4 453.1h0M608.4 445.9h0M609.2 461.1h0M609.4 450.9h0M608.9 458.7h0M609.0 463.9h0M608.3 466.1h0M608.2 450.3h0M608.4 464.0h0M608.9 454.0h0M609.2 447.5h0M608.2 458.9h0M608.3 466.8h0M609.4 461.9h0M608.2 453.4h0M608.2 462.9h0M608.5 446.9h0M609.2 464.8h0M608.6 446.6h0M608.1 451.6h0M608.2 449.2h0M608.8 464.1h0M608.4 447.5h0M608.3 463.0h0M608.9 463.9h0M609.3 449.5h0M608.8 451.6h0M608.7 470.3h0M609.3 462.3h0M609.2 463.5h0M608.8 454.5h0M608.5 454.3h0M608.3 470.8h0M608.4 463.2h0M609.2 446.8h0M608.4 477.4h0M608.1 464.9h0M609.4 464.8h0M609.1 468.4h0M609.4 471.7h0M608.4 473.6h0M608.3 467.7h0M608.8 477.2h0M610.2 445.8h0M609.8 459.5h0M610.1 457.3h0M610.4 448.4h0M611.5 448.3h0M611.5 449.6h0M611.1 445.9h0M611.3 451.8h0M611.2 446.9h0M611.5 448.6h0M611.2 447.6h0M611.5 446.8h0M610.8 452.3h0M611.1 453.1h0M611.6 459.7h0M611.7 458.3h0M613.1 457.9h0M613.2 446.6h0M612.6 457.7h0M612.6 461.8h0M612.8 462.7h0M612.6 449.5h0M613.2 451.3h0M611.7 458.9h0M611.9 453.7h0M612.7 448.0h0M613.1 449.3h0M612.6 446.8h0M613.1 450.4h0M612.7 468.0h0M612.4 449.5h0M612.0 466.1h0M613.0 452.3h0M612.3 452.4h0M612.3 452.3h0M612.9 458.0h0M612.1 458.7h0M612.0 451.6h0M612.8 464.9h0M612.5 466.7h0M611.8 467.0h0M613.1 445.9h0M613.2 457.7h0M611.9 445.9h0M612.1 454.5h0M612.5 462.4h0M611.7 454.4h0M613.2 463.4h0M611.9 453.1h0M612.1 467.8h0M612.8 464.6h0M612.3 459.3h0M612.5 456.5h0M612.0 453.4h0M612.2 463.0h0M612.1 467.1h0M611.8 456.2h0M611.9 447.7h0M613.0 468.8h0M612.1 445.8h0M611.9 446.7h0M612.0 462.1h0M612.3 463.7h0M612.3 457.9h0M612.8 466.0h0M613.1 451.6h0M613.1 465.7h0M612.7 459.3h0M612.6 456.6h0M612.0 460.6h0M611.9 458.6h0M613.1 468.5h0M613.1 451.2h0M611.8 466.3h0M612.5 458.2h0M613.1 456.6h0M612.9 452.1h0M612.7 451.8h0M612.1 470.2h0M612.6 464.2h0M612.5 468.4h0M612.8 462.3h0M612.7 467.9h0M611.8 465.2h0M612.6 472.5h0M614.4 446.4h0M614.6 456.0h0M613.3 451.3h0M613.3 447.4h0M613.9 450.8h0M613.7 450.6h0M613.3 445.7h0M614.0 453.2h0M613.6 449.8h0M614.6 445.7h0M613.9 459.9h0M613.7 457.8h0M613.4 450.9h0M614.1 450.8h0M614.5 449.5h0M613.7 449.6h0M614.0 447.1h0M613.6 447.8h0M614.5 456.3h0M613.5 455.6h0M613.9 450.1h0M614.3 458.1h0M613.8 446.3h0M613.3 458.8h0M614.1 446.6h0M613.2 448.7h0M613.5 448.8h0M613.3 448.3h0M614.0 452.2h0M614.4 455.6h0M614.5 449.1h0M614.6 449.5h0M614.5 447.6h0M614.4 457.9h0M614.4 454.6h0M614.6 450.7h0M613.9 447.0h0M613.3 451.9h0M613.3 448.5h0M613.7 457.4h0M613.9 457.2h0M614.3 462.8h0M614.4 458.0h0M613.3 457.1h0M614.3 479.1h0M613.4 456.7h0M615.9 450.3h0M614.9 446.4h0M616.0 447.3h0M614.8 447.0h0M615.1 451.1h0M614.9 447.3h0M616.1 446.3h0M614.7 452.1h0M615.3 445.8h0M615.7 447.3h0M614.8 447.3h0M615.9 449.7h0M615.0 446.2h0M615.7 446.4h0M616.1 450.3h0M615.5 449.9h0M615.2 447.6h0M615.2 448.3h0M616.1 446.3h0M615.4 446.3h0M615.8 451.9h0M615.1 448.3h0M615.5 451.4h0M615.8 449.7h0M615.2 460.2h0M615.2 452.7h0M614.7 460.5h0M615.1 459.2h0M615.0 455.0h0M616.1 461.2h0M615.9 463.1h0M615.8 451.2h0M616.0 466.3h0M616.9 448.4h0M616.9 464.5h0M616.7 449.6h0M616.9 462.7h0M617.1 459.2h0M616.2 462.0h0M616.6 458.8h0M617.3 459.4h0M616.4 460.6h0M616.2 461.3h0M616.4 459.8h0M616.7 447.2h0M616.9 462.8h0M616.7 453.4h0M617.3 464.8h0M616.8 452.5h0M617.0 451.2h0M616.8 457.4h0M616.3 448.3h0M616.8 454.2h0M616.2 453.5h0M617.3 459.8h0M616.2 448.8h0M617.5 462.9h0M616.5 450.6h0M617.1 449.2h0M617.3 452.2h0M617.0 461.8h0M616.2 452.2h0M616.5 456.3h0M617.2 455.3h0M616.2 449.5h0M616.3 445.8h0M617.0 458.1h0M617.4 447.1h0M617.5 463.8h0M617.2 459.9h0M616.7 463.9h0M617.0 448.9h0M616.5 457.8h0M617.5 458.2h0M616.6 451.9h0M616.8 446.4h0M617.0 452.7h0M616.9 485.2h0M617.5 462.9h0M616.5 461.3h0M616.2 462.4h0M617.3 463.2h0M617.5 467.9h0M617.9 448.1h0M618.3 447.9h0M618.2 451.1h0M618.3 445.9h0M617.9 445.9h0M618.5 447.2h0M617.5 448.5h0M618.4 446.2h0M618.0 445.8h0M618.3 447.7h0M617.8 447.5h0M617.9 452.1h0M617.6 451.1h0M618.2 446.9h0M617.8 453.1h0M618.6 451.0h0M618.0 452.2h0M618.6 459.0h0M617.5 477.4h0M618.3 460.1h0M617.7 458.5h0M619.5 449.5h0M619.1 449.0h0M619.6 449.9h0M618.8 453.5h0M619.3 448.8h0M619.6 450.9h0M619.4 448.1h0M619.6 450.7h0M618.9 451.6h0M619.5 448.2h0M618.8 445.9h0M619.0 446.4h0M618.9 453.5h0M619.3 447.6h0M619.6 452.8h0M619.2 450.4h0M618.7 452.2h0M618.9 454.3h0M619.2 468.8h0M619.6 467.7h0M619.5 455.6h0M619.5 452.1h0M620.3 451.5h0M619.8 445.8h0M619.7 446.9h0M620.6 446.1h0M619.8 452.9h0M620.9 450.1h0M620.1 451.0h0M620.6 450.7h0M620.9 446.2h0M620.9 445.9h0M621.1 453.2h0M620.9 449.5h0M620.1 447.9h0M620.0 449.2h0M621.1 449.3h0M619.9 449.9h0M621.1 445.9h0M620.5 452.6h0M620.3 446.4h0M620.4 445.8h0M620.5 449.8h0M621.1 448.3h0M620.1 466.8h0M621.0 451.7h0M620.4 454.9h0M620.5 452.6h0M620.7 451.9h0M621.0 470.0h0M620.5 456.1h0M622.2 447.2h0M621.7 447.2h0M623.0 446.5h0M621.5 447.5h0M622.7 452.7h0M623.2 447.4h0M622.7 448.1h0M623.1 445.7h0M622.9 453.0h0M622.3 452.4h0M621.5 446.4h0M622.7 447.4h0M621.5 449.8h0M622.4 448.6h0M621.9 458.2h0M622.5 451.4h0M622.3 449.7h0M621.4 446.0h0M622.2 448.5h0M621.9 455.9h0M621.5 447.7h0M622.7 455.5h0M623.1 451.6h0M621.7 455.6h0M621.8 448.9h0M623.1 449.1h0M622.6 450.3h0M621.6 448.6h0M622.3 449.1h0M622.3 450.1h0M622.0 449.6h0M621.6 454.0h0M622.0 450.9h0M621.9 454.8h0M622.6 453.3h0M622.0 446.5h0M621.7 458.4h0M621.4 451.2h0M622.3 448.1h0M622.3 446.2h0M622.8 446.2h0M621.4 451.3h0M622.5 458.6h0M622.5 458.2h0M622.8 450.1h0M621.7 449.6h0M621.5 446.9h0M621.9 450.3h0M621.4 454.7h0M622.1 448.6h0M621.7 457.9h0M622.4 459.1h0M622.2 458.1h0M622.2 458.9h0M623.2 459.8h0M622.6 464.9h0M622.2 461.0h0M622.6 461.9h0M621.4 468.4h0M622.5 455.4h0M623.5 454.0h0M623.3 460.3h0M623.6 448.9h0M623.7 450.5h0M623.4 447.6h0M623.6 448.4h0M623.7 452.7h0M623.9 459.1h0M623.4 460.5h0M623.9 451.2h0M623.8 459.4h0M623.3 453.5h0M623.4 445.9h0M624.1 461.6h0M623.3 447.8h0M623.9 459.4h0M623.5 452.6h0M623.7 452.5h0M623.4 462.6h0M624.1 448.7h0M624.1 448.1h0M623.4 452.7h0M623.4 448.3h0M623.3 462.1h0M623.9 463.0h0M623.6 459.9h0M623.9 459.9h0M623.3 451.2h0M623.8 446.5h0M623.5 449.7h0M623.3 450.9h0M623.7 453.7h0M623.7 459.2h0M623.4 459.3h0M624.0 464.0h0M623.4 510.8h0M624.0 472.4h0M623.4 461.1h0M624.5 446.3h0M624.7 450.2h0M624.4 448.8h0M624.5 448.4h0M624.3 452.1h0M625.1 451.3h0M624.5 447.7h0M624.9 456.8h0M624.9 453.1h0M625.7 445.7h0M625.3 455.6h0M626.5 446.1h0M626.6 464.8h0M627.5 456.3h0M627.2 461.3h0M627.1 462.4h0M626.8 461.1h0M626.8 448.3h0M627.0 451.8h0M627.7 448.3h0M626.9 448.6h0M627.3 447.0h0M627.2 450.7h0M627.8 459.7h0M626.5 446.0h0M628.1 447.9h0M627.6 460.9h0M627.9 459.2h0M626.5 460.7h0M627.2 461.9h0M626.6 465.1h0M626.7 457.8h0M627.0 450.2h0M627.7 462.2h0M627.4 453.5h0M626.6 459.1h0M626.7 448.0h0M627.2 462.4h0M627.6 449.5h0M626.9 448.5h0M627.8 452.4h0M626.8 447.6h0M626.8 447.0h0M628.1 445.8h0M626.5 447.8h0M627.0 457.2h0M627.1 454.7h0M627.0 452.2h0M627.9 460.1h0M627.3 447.3h0M627.3 448.1h0M627.1 448.1h0M627.9 449.7h0M628.0 452.9h0M627.8 462.3h0M627.4 452.2h0M627.0 459.1h0M626.6 446.0h0M628.1 454.5h0M626.6 450.3h0M626.7 464.4h0M626.5 453.6h0M626.6 449.3h0M627.1 449.7h0M627.8 446.7h0M627.6 450.6h0M628.1 456.2h0M627.4 460.1h0M627.3 459.2h0M627.0 463.2h0M627.1 463.5h0M627.5 460.0h0M626.6 461.2h0M626.9 460.2h0M627.2 461.4h0M627.0 460.4h0M627.5 460.9h0M627.1 459.5h0M626.8 460.6h0M628.9 455.0h0M628.3 451.9h0M629.7 450.3h0M629.1 456.7h0M628.3 455.7h0M628.7 446.9h0M628.2 447.2h0M629.3 466.3h0M629.1 455.5h0M629.2 451.1h0M629.4 463.3h0M628.8 448.1h0M629.1 445.8h0M628.9 455.2h0M628.9 446.3h0M629.4 452.9h0M629.3 447.6h0M628.8 445.8h0M628.8 452.4h0M628.8 453.3h0M629.4 447.9h0M628.6 453.4h0M628.3 447.9h0M628.4 462.4h0M629.3 461.3h0M629.0 461.3h0M628.7 475.2h0M630.9 449.1h0M630.7 447.1h0M630.7 456.5h0M630.4 449.5h0M631.1 446.7h0M631.0 456.7h0M630.5 450.3h0M630.2 457.0h0M631.1 449.8h0M630.6 450.1h0M630.0 451.8h0M630.0 455.8h0M630.1 445.8h0M630.4 445.8h0M630.0 450.3h0M630.6 446.1h0M631.1 448.3h0M631.2 445.8h0M630.4 455.6h0M630.6 456.5h0M630.9 446.1h0M630.2 451.1h0M630.2 451.3h0M630.9 448.2h0M630.3 456.6h0M631.0 447.1h0M630.0 448.7h0M630.9 454.6h0M630.3 456.4h0M630.1 455.7h0M630.8 462.3h0M630.5 455.4h0M630.1 469.1h0M630.0 471.2h0M632.0 451.3h0M632.9 447.0h0M632.1 449.3h0M632.6 447.2h0M631.6 447.0h0M632.2 452.3h0M631.7 448.0h0M631.6 446.2h0M631.3 447.6h0M632.8 449.4h0M632.8 445.8h0M632.9 449.0h0M632.5 446.0h0M632.8 452.2h0M632.6 447.4h0M631.8 448.8h0M632.1 447.8h0M631.5 449.6h0M632.1 449.0h0M631.5 450.9h0M632.2 452.7h0M631.6 447.4h0M632.5 446.3h0M632.2 445.8h0M631.4 453.1h0M632.2 445.8h0M631.3 445.8h0M631.9 451.6h0M631.7 446.0h0M631.6 451.0h0M632.3 452.3h0M632.5 447.6h0M632.5 456.9h0M632.9 468.0h0M631.9 452.4h0M632.5 455.6h0M632.4 454.0h0M631.6 462.3h0M632.6 460.9h0M632.5 462.2h0M632.7 453.0h0M632.6 452.8h0M633.3 445.8h0M634.2 449.0h0M634.1 451.9h0M633.1 446.3h0M633.8 453.4h0M634.0 446.7h0M634.2 448.6h0M633.6 445.8h0M633.9 445.7h0M633.6 448.3h0M633.2 449.0h0M633.6 451.2h0M634.2 446.4h0M633.6 452.4h0M633.4 448.1h0M633.6 446.6h0M633.5 447.4h0M633.2 445.7h0M634.0 450.1h0M634.2 452.4h0M633.3 446.5h0M633.9 446.0h0M633.6 446.5h0M633.6 476.6h0M633.3 457.4h0M633.4 460.4h0M633.3 469.0h0M634.2 453.2h0M634.3 478.8h0M633.3 457.3h0M635.1 449.9h0M635.5 451.2h0M634.7 454.1h0M634.7 447.8h0M635.4 451.3h0M635.6 449.1h0M635.1 460.8h0M635.2 446.4h0M635.7 451.7h0M634.7 446.7h0M634.5 457.4h0M635.1 460.2h0M634.5 460.5h0M635.4 462.8h0M634.9 452.0h0M634.5 449.2h0M634.7 454.7h0M635.3 447.4h0M635.4 460.7h0M635.5 447.2h0M635.8 462.6h0M634.5 449.3h0M635.0 446.3h0M635.1 453.3h0M635.2 462.6h0M635.1 448.8h0M634.6 459.9h0M635.3 460.0h0M635.8 455.7h0M634.6 446.0h0M635.2 450.8h0M635.0 450.8h0M635.3 459.0h0M634.6 445.7h0M635.6 458.3h0M635.3 445.7h0M634.9 450.3h0M634.3 453.1h0M635.5 448.8h0M635.8 463.6h0M635.8 458.5h0M635.8 453.3h0M635.2 447.1h0M634.8 448.5h0M634.7 459.0h0M634.8 447.0h0M635.8 461.2h0M635.2 446.5h0M634.5 463.8h0M635.2 448.8h0M634.3 459.8h0M635.3 462.0h0M634.8 445.7h0M635.8 445.8h0M634.9 446.0h0M635.8 457.3h0M634.8 458.0h0M634.3 452.2h0M635.8 461.5h0M635.0 451.7h0M635.6 448.2h0M635.3 455.7h0M635.8 452.5h0M634.4 461.2h0M635.8 449.3h0M635.6 451.5h0M634.7 452.4h0M634.9 459.8h0M634.8 461.0h0M635.2 462.8h0M635.0 468.2h0M635.7 479.9h0M635.7 459.5h0M634.3 464.4h0M635.7 470.3h0M635.3 462.1h0M636.3 456.1h0M636.2 447.9h0M636.8 448.2h0M637.7 449.8h0M638.2 445.8h0M639.1 448.8h0M638.9 452.2h0M639.4 462.2h0M638.9 458.0h0M638.3 465.3h0M639.6 451.7h0M638.8 459.8h0M638.1 448.9h0M638.1 449.5h0M639.3 445.9h0M639.2 446.4h0M638.1 457.0h0M638.7 447.9h0M639.1 455.2h0M639.4 456.1h0M638.3 446.2h0M638.2 446.0h0M639.3 448.9h0M638.5 445.8h0M638.9 457.3h0M638.2 446.2h0M638.5 456.7h0M639.0 447.7h0M638.2 447.3h0M639.4 462.4h0M639.2 463.1h0M638.3 456.2h0M639.5 459.3h0M639.5 462.8h0M638.8 458.5h0M638.5 458.6h0M639.4 463.8h0M638.3 459.0h0M638.7 448.0h0M639.2 464.9h0M639.4 455.2h0M638.1 465.3h0M638.7 448.0h0M638.6 458.3h0M638.1 446.2h0M638.1 446.3h0M639.3 446.6h0M639.5 449.8h0M639.5 449.5h0M638.7 448.8h0M639.2 446.4h0M638.7 446.3h0M639.5 457.8h0M638.4 456.6h0M639.1 459.1h0M638.7 461.6h0M639.1 457.5h0M639.4 458.4h0M639.2 465.4h0M638.5 446.6h0M638.2 461.2h0M638.6 447.2h0M638.2 446.0h0M638.3 460.3h0M638.4 464.0h0M639.1 506.3h0M639.1 459.7h0M639.1 465.4h0M638.8 461.3h0M638.6 462.7h0M638.1 474.1h0M639.7 452.3h0M640.4 459.0h0M639.7 446.9h0M639.7 456.5h0M640.9 455.1h0M639.7 446.6h0M640.6 448.3h0M640.8 447.4h0M639.7 458.5h0M640.5 452.7h0M640.8 454.5h0M640.4 449.0h0M640.3 451.4h0M641.0 448.8h0M640.7 463.3h0M640.5 447.6h0M640.8 463.8h0M639.6 458.5h0M639.6 452.6h0M640.8 458.3h0M640.3 449.7h0M640.8 450.8h0M640.2 448.4h0M639.6 446.6h0M640.8 455.2h0M640.4 446.4h0M640.8 446.3h0M640.3 459.8h0M639.8 447.0h0M639.8 456.0h0M640.3 459.3h0M640.8 455.6h0M640.1 446.2h0M640.0 446.8h0M639.8 451.2h0M640.4 447.1h0M640.8 461.9h0M640.5 462.3h0M639.8 447.8h0M640.0 462.5h0M639.8 446.3h0M640.2 447.1h0M639.7 457.8h0M639.9 463.0h0M640.0 447.0h0M640.7 451.1h0M640.8 448.3h0M640.9 448.3h0M640.4 447.6h0M640.4 449.6h0M640.8 447.4h0M639.9 461.4h0M639.9 464.4h0M640.1 460.0h0M640.7 460.9h0M640.7 467.4h0M640.5 461.1h0M640.6 482.5h0M641.2 472.8h0M642.0 459.7h0M642.5 449.8h0M641.5 465.1h0M641.1 474.1h0M642.1 447.8h0M642.1 476.5h0M641.6 472.2h0M641.8 447.1h0M642.5 448.0h0M641.7 461.0h0M643.0 449.2h0M643.4 448.0h0M642.7 477.2h0M642.7 456.8h0M643.3 463.0h0M643.4 478.3h0M644.0 450.9h0M643.8 461.7h0M642.9 458.4h0M642.9 464.8h0M644.1 449.5h0M643.2 450.4h0M643.7 457.0h0M642.7 466.9h0M642.7 478.0h0M643.0 453.0h0M643.4 476.8h0M644.0 458.0h0M642.7 446.1h0M642.8 475.4h0M644.1 457.0h0M643.0 466.5h0M643.1 456.8h0M644.1 447.3h0M643.6 470.2h0M643.6 477.7h0M644.1 447.5h0M642.8 449.3h0M643.8 449.1h0M643.6 457.3h0M642.8 472.9h0M642.8 461.0h0M642.9 447.8h0M642.9 447.3h0M643.8 455.9h0M642.8 450.4h0M644.1 469.0h0M643.8 467.1h0M644.1 452.5h0M643.6 459.6h0M642.7 471.4h0M642.6 446.4h0M643.1 474.9h0M644.1 473.8h0M643.7 455.3h0M643.4 471.8h0M642.7 474.0h0M642.9 448.2h0M643.4 447.8h0M643.4 460.8h0M643.7 471.2h0M642.8 454.4h0M643.0 454.1h0M644.1 461.9h0M642.7 462.4h0M643.2 455.4h0M642.8 448.9h0M644.0 451.9h0M643.0 463.8h0M643.1 449.1h0M643.5 463.4h0M643.4 450.1h0M643.3 449.5h0M643.6 455.9h0M642.8 450.0h0M643.9 455.7h0M644.1 453.6h0M642.8 452.8h0M642.8 469.6h0M644.0 471.9h0M642.8 446.2h0M643.7 474.5h0M643.6 466.3h0M643.0 464.5h0M643.8 446.5h0M643.5 447.8h0M643.7 456.8h0M644.0 453.8h0M643.7 464.2h0M643.9 469.1h0M643.7 462.1h0M642.7 446.6h0M643.0 474.6h0M643.2 465.6h0M643.0 451.5h0M642.7 464.5h0M643.3 458.1h0M643.7 452.0h0M642.7 453.6h0M643.6 459.4h0M642.8 448.2h0M643.6 447.1h0M643.5 463.0h0M644.0 457.0h0M643.1 465.8h0M642.9 458.1h0M643.5 461.3h0M643.3 451.7h0M643.0 475.2h0M643.3 469.9h0M643.2 447.3h0M643.5 448.5h0M644.0 463.9h0M643.5 456.9h0M643.9 472.1h0M644.0 477.4h0M643.7 469.0h0M643.5 472.6h0M642.8 472.8h0M643.2 470.5h0M642.8 469.5h0M642.8 487.1h0M644.6 450.3h0M644.9 447.2h0M645.3 447.4h0M644.3 453.7h0M646.5 449.5h0M646.0 448.8h0M645.6 445.7h0M646.6 446.6h0M646.8 446.0h0M647.0 446.5h0M646.8 450.7h0M645.7 448.9h0M647.1 452.8h0M646.7 446.5h0M646.0 447.9h0M645.4 451.5h0M645.7 452.0h0M645.8 452.6h0M646.4 451.5h0M647.0 448.0h0M646.5 449.2h0M646.4 448.7h0M645.9 447.6h0M647.1 445.9h0M645.6 449.7h0M646.3 449.2h0M646.0 450.8h0M646.4 455.1h0M646.0 458.7h0M645.8 454.9h0M647.0 460.8h0M645.5 456.5h0M646.8 452.3h0M645.8 452.7h0M646.0 454.5h0M647.7 450.8h0M647.8 450.5h0M647.8 447.1h0M647.7 450.2h0M647.4 449.5h0M648.1 455.0h0M647.7 447.3h0M647.3 452.0h0M647.2 451.5h0M647.1 447.9h0M647.2 449.1h0M647.3 454.5h0M648.1 456.5h0M647.9 455.9h0M649.3 459.7h0M649.3 458.6h0M649.6 455.3h0M649.8 446.0h0M649.2 470.3h0M649.6 456.6h0M648.2 450.1h0M649.4 453.3h0M649.0 452.3h0M648.4 455.2h0M648.4 458.0h0M649.3 457.8h0M648.6 448.1h0M648.8 455.1h0M649.0 446.9h0M648.4 462.3h0M648.3 447.2h0M649.2 449.6h0M649.6 457.6h0M648.4 458.6h0M649.4 457.7h0M648.1 457.5h0M649.6 454.5h0M649.8 450.4h0M648.7 470.9h0M649.7 453.4h0M648.1 445.9h0M649.5 445.8h0M648.9 468.8h0M648.3 469.2h0M649.3 468.2h0M648.7 468.4h0M650.9 445.7h0M650.3 452.0h0M650.2 465.1h0M650.1 450.2h0M650.0 449.5h0M650.8 463.1h0M650.5 460.8h0M650.3 457.0h0M649.9 460.8h0M650.3 458.5h0M650.6 464.3h0M650.5 465.1h0M650.8 449.3h0M651.0 470.4h0M650.0 451.3h0M650.7 468.9h0M650.7 447.5h0M651.0 447.5h0M650.3 459.7h0M650.7 450.3h0M650.0 458.7h0M650.9 452.1h0M650.1 469.2h0M649.9 456.2h0M650.6 452.2h0M651.0 453.3h0M650.2 452.0h0M650.1 452.2h0M650.9 460.3h0M650.9 462.6h0M650.8 465.4h0M650.4 459.6h0M650.0 453.9h0M650.2 460.5h0M650.6 455.8h0M650.1 447.2h0M649.9 445.9h0M650.8 456.8h0M650.7 468.9h0M650.7 470.3h0M650.9 457.9h0M650.7 464.0h0M650.8 463.0h0M650.9 465.4h0M651.1 464.3h0M650.3 449.1h0M650.5 460.7h0M650.0 453.1h0M650.7 466.9h0M650.0 454.8h0M649.9 448.1h0M650.4 454.5h0M651.1 450.6h0M650.8 450.0h0M650.0 462.7h0M650.6 469.0h0M650.5 449.5h0M651.1 466.2h0M650.2 462.8h0M650.5 459.5h0M650.9 455.8h0M650.2 445.8h0M650.5 464.4h0M650.1 473.4h0M651.0 469.4h0M650.0 446.9h0M650.6 462.8h0M650.8 449.8h0M651.0 466.3h0M650.6 468.2h0M650.2 468.2h0M650.9 476.6h0M651.1 469.9h0M651.1 469.8h0M651.3 452.7h0M651.8 458.3h0M651.8 449.5h0M652.7 459.9h0M651.2 449.9h0M651.8 449.8h0M651.9 451.6h0M651.6 457.5h0M652.4 447.2h0M651.6 445.9h0M652.4 454.0h0M652.4 450.2h0M651.4 445.8h0M652.0 446.8h0M652.5 447.6h0M651.2 446.0h0M651.4 460.6h0M651.5 451.2h0M653.1 449.4h0M652.3 448.5h0M652.9 454.8h0M652.0 453.9h0M651.6 459.1h0M652.2 457.6h0M652.3 451.1h0M652.8 448.9h0M652.8 451.3h0M651.2 459.4h0M651.6 458.6h0M651.4 461.5h0M652.5 453.9h0M652.1 446.6h0M652.7 461.3h0M652.5 452.2h0M652.6 454.1h0M651.8 449.1h0M651.5 448.8h0M651.8 455.4h0M653.0 451.3h0M653.0 462.3h0M651.6 449.0h0M652.7 447.7h0M651.5 446.9h0M652.6 462.7h0M651.6 446.0h0M652.2 449.4h0M653.0 455.5h0M652.3 452.2h0M653.0 451.3h0M651.7 458.4h0M652.4 448.1h0M652.9 446.0h0M651.3 458.9h0M651.5 458.4h0M652.0 454.4h0M651.6 451.8h0M652.6 452.2h0M651.3 477.7h0M653.0 462.3h0M651.8 464.1h0M652.6 467.2h0M652.8 457.9h0M651.9 471.5h0M652.6 461.8h0M652.4 462.8h0M653.6 447.1h0M653.3 448.9h0M653.2 448.5h0M653.3 446.8h0M653.5 450.3h0M653.7 446.9h0M654.0 446.0h0M653.7 448.2h0M653.7 448.0h0M653.1 448.3h0M653.8 451.0h0M653.7 447.6h0M653.2 445.7h0M653.3 451.1h0M653.3 450.3h0M653.3 450.5h0M653.2 450.2h0M653.2 457.9h0M654.8 458.0h0M654.8 448.8h0M654.3 455.0h0M656.7 449.9h0M656.0 445.8h0M655.5 453.3h0M657.0 450.0h0M657.5 452.3h0M656.9 449.3h0M656.8 445.7h0M657.1 447.4h0M657.6 453.4h0M657.7 449.5h0M657.4 453.0h0M657.5 448.3h0M657.4 447.7h0M657.4 448.3h0M657.5 449.4h0M657.6 450.7h0M657.4 449.2h0M657.1 446.4h0M656.9 449.1h0M656.8 460.2h0M657.0 466.1h0M657.3 462.4h0M656.8 479.7h0M657.9 462.1h0M658.3 447.4h0M659.3 445.9h0M658.8 459.3h0M659.0 449.3h0M658.2 460.3h0M659.3 455.7h0M658.7 446.6h0M659.3 456.0h0M658.2 447.4h0M658.4 451.7h0M658.0 450.3h0M658.6 455.3h0M659.1 456.1h0M658.8 455.9h0M658.2 455.7h0M658.9 446.7h0M658.8 448.6h0M658.4 459.7h0M659.3 450.0h0M658.9 459.4h0M658.4 447.6h0M659.1 454.4h0M658.4 454.4h0M658.3 453.4h0M659.4 446.0h0M659.2 450.7h0M658.8 449.0h0M658.3 455.8h0M658.1 461.7h0M658.4 450.2h0M658.6 452.1h0M658.7 457.4h0M658.6 457.9h0M658.6 476.0h0M658.0 461.3h0M659.1 459.6h0M660.5 456.9h0M659.5 446.7h0M660.4 465.4h0M659.8 450.2h0M659.9 459.1h0M660.6 447.4h0M659.9 459.7h0M659.8 462.1h0M660.0 454.5h0M659.9 457.3h0M659.7 453.7h0M660.6 455.5h0M660.4 445.8h0M660.5 455.9h0M659.9 451.9h0M660.2 464.1h0M660.3 464.6h0M659.5 455.5h0M659.4 454.4h0M660.1 446.2h0M660.5 462.3h0M659.7 465.1h0M660.1 448.6h0M660.5 451.8h0M660.2 451.6h0M659.7 456.9h0M660.3 450.1h0M660.3 461.4h0M660.2 447.2h0M660.4 448.7h0M660.0 448.0h0M660.4 445.9h0M659.9 466.1h0M660.4 448.9h0M659.5 459.2h0M659.9 456.6h0M659.6 446.3h0M659.7 456.1h0M659.4 459.0h0M659.7 450.7h0M660.1 466.3h0M659.6 452.4h0M660.1 466.2h0M659.8 471.6h0M659.7 469.5h0M660.6 468.8h0M659.4 462.5h0M661.1 447.1h0M660.7 446.0h0M660.7 459.7h0M661.4 450.7h0M660.9 460.0h0M661.3 446.8h0M661.1 453.4h0M661.3 457.6h0M660.7 459.6h0M660.8 466.0h0M661.4 448.8h0M661.1 453.5h0M660.8 448.6h0M660.7 454.5h0M661.3 458.1h0M661.1 455.3h0M660.8 449.5h0M660.9 462.0h0M660.7 447.9h0M661.2 466.3h0M660.7 452.8h0M661.0 457.1h0M661.3 446.0h0M660.8 462.5h0M660.9 459.0h0M660.6 456.7h0M660.9 460.0h0M661.2 454.9h0M661.1 449.4h0M660.7 458.2h0M660.8 465.1h0M661.0 459.9h0M660.7 456.2h0M661.0 455.0h0M661.2 452.4h0M661.2 470.1h0M661.4 477.4h0M660.7 469.4h0M660.7 461.7h0M662.3 455.1h0M662.2 460.7h0M661.6 450.3h0M662.1 446.0h0M661.7 455.2h0M661.6 458.9h0M661.8 459.0h0M661.8 461.2h0M662.0 449.9h0M661.7 447.6h0M662.3 447.8h0M662.1 454.5h0M662.1 449.9h0M662.2 454.3h0M661.8 448.3h0M661.6 453.9h0M661.9 448.9h0M662.3 446.2h0M662.2 448.6h0M661.6 454.5h0M661.5 461.0h0M661.5 452.9h0M662.2 446.8h0M661.7 451.4h0M661.8 454.2h0M662.0 458.0h0M661.5 457.6h0M661.5 459.0h0M661.4 459.2h0M661.6 451.7h0M662.0 448.6h0M661.6 445.8h0M661.9 457.5h0M662.2 472.0h0M662.1 464.8h0M662.0 469.8h0M661.5 459.0h0M662.7 454.4h0M662.8 451.2h0M664.3 453.3h0M663.3 446.7h0M663.6 455.1h0M663.3 448.3h0M664.0 445.9h0M663.7 456.8h0M663.9 447.4h0M663.7 454.4h0M664.3 445.9h0M664.3 449.2h0M664.1 448.5h0M664.4 450.5h0M664.1 455.5h0M663.9 454.2h0M664.2 451.5h0M663.7 452.2h0M664.1 449.7h0M664.2 451.2h0M664.4 451.9h0M664.0 448.4h0M663.9 456.7h0M664.1 451.3h0M663.4 447.2h0M663.7 449.3h0M664.4 446.2h0M663.5 448.4h0M663.3 450.9h0M663.6 446.3h0M663.4 449.7h0M663.3 455.5h0M663.4 459.9h0M664.0 468.0h0M664.1 465.8h0M664.1 471.4h0M664.5 456.0h0M664.5 449.5h0M664.5 451.6h0M459.4 445.9h0M460.1 445.9h0M460.9 445.9h0M461.6 445.9h0M462.4 445.9h0M463.1 445.9h0M463.9 445.9h0M464.6 445.9h0M465.4 445.9h0M466.1 445.9h0M466.9 445.9h0M467.6 445.9h0M468.4 445.9h0M469.1 445.9h0M469.9 445.9h0M470.6 445.9h0M471.4 445.9h0M472.1 445.9h0M472.9 445.9h0M473.6 445.9h0M474.4 445.9h0M475.1 445.9h0M475.9 445.9h0M476.6 445.9h0M477.4 445.9h0M478.1 445.9h0M478.9 445.9h0M479.6 445.9h0M480.4 445.9h0M481.1 445.9h0M481.9 445.9h0M482.6 445.9h0M483.4 445.9h0M484.1 445.9h0M484.9 445.9h0M485.6 445.9h0M486.4 445.9h0M487.1 445.9h0M487.9 445.9h0M488.6 445.9h0M489.4 445.9h0M490.1 445.9h0M490.9 445.9h0M491.6 445.9h0M492.4 445.9h0M493.1 445.9h0M493.9 445.9h0M494.6 445.9h0M495.4 445.9h0M496.1 445.9h0M496.9 445.9h0M497.6 445.9h0M498.4 445.9h0M499.1 445.9h0M499.9 445.9h0M500.6 445.9h0M501.4 445.9h0M502.1 445.9h0M502.9 445.9h0M503.6 445.9h0M504.4 445.9h0M505.1 445.9h0M505.9 445.9h0M506.6 445.9h0M507.4 445.9h0M508.1 445.9h0M508.9 445.9h0M509.6 445.9h0M510.4 445.9h0M511.1 445.9h0M511.9 445.9h0M512.6 445.9h0M513.4 445.9h0M514.1 445.9h0M514.9 445.9h0M515.6 445.9h0M516.4 445.9h0M517.1 445.9h0M517.9 445.9h0M518.6 445.9h0M519.4 445.9h0M520.1 445.9h0M520.9 445.9h0M521.6 445.9h0M522.4 445.9h0M523.1 445.9h0M523.9 445.9h0M524.6 445.9h0M525.4 445.9h0M526.1 445.9h0M526.9 445.9h0M527.6 445.9h0M528.4 445.9h0M529.1 445.9h0M529.9 445.9h0M530.6 445.9h0M531.4 445.9h0M532.1 445.9h0M532.9 445.9h0M533.6 445.9h0M534.4 445.9h0M535.1 445.9h0M535.9 445.9h0M536.6 445.9h0M537.4 445.9h0M538.1 445.9h0M538.9 445.9h0M539.6 445.9h0M540.4 445.9h0M541.1 445.9h0M541.9 445.9h0M542.6 445.9h0M543.4 445.9h0M544.1 445.9h0M544.9 445.9h0M545.6 445.9h0M546.6 445.9h0M547.6 445.9h0M548.5 445.9h0M549.5 445.9h0M550.4 445.9h0M551.4 445.9h0M552.3 445.9h0M553.3 445.9h0M554.2 445.9h0M555.2 445.9h0M556.1 445.9h0M557.1 445.9h0M558.0 445.9h0M559.0 445.9h0M559.9 445.9h0M560.9 445.9h0M561.8 445.9h0M562.8 445.9h0M563.7 445.9h0M564.7 445.9h0M565.6 445.9h0M566.6 445.9h0M567.5 445.9h0M568.5 445.9h0M569.4 445.9h0M570.4 445.9h0M571.3 445.9h0M572.3 445.9h0M573.2 445.9h0M574.2 445.9h0M575.1 445.9h0M576.1 445.9h0M577.0 445.9h0M578.0 445.9h0M578.9 445.9h0M579.9 445.9h0M580.8 445.9h0M581.8 445.9h0M582.7 445.9h0M583.7 445.9h0M584.6 445.9h0M585.6 445.9h0M586.5 445.9h0M587.5 445.9h0M588.4 445.9h0M589.4 445.9h0M590.3 445.9h0M591.3 445.9h0M592.2 445.9h0M593.2 445.9h0M594.1 445.9h0M595.1 445.9h0M596.0 445.9h0M597.0 445.9h0M597.9 445.9h0M598.9 445.9h0M599.8 445.9h0M600.8 445.9h0M601.7 445.9h0M602.7 445.9h0M603.6 445.9h0M604.6 445.9h0M605.5 445.9h0M606.5 445.9h0M607.4 445.9h0M608.4 445.9h0M609.3 445.9h0M610.3 445.9h0M611.2 445.9h0M612.2 445.9h0M613.1 445.9h0M614.1 445.9h0M615.0 445.9h0M616.0 445.9h0M616.9 445.9h0M617.9 445.9h0M618.8 445.9h0M619.8 445.9h0M620.7 445.9h0M621.7 445.9h0M622.6 445.9h0M623.6 445.9h0M624.5 445.9h0M625.5 445.9h0M626.4 445.9h0M627.4 445.9h0M628.3 445.9h0M629.3 445.9h0M630.2 445.9h0M631.2 445.9h0M632.1 445.9h0M633.1 445.9h0M634.0 445.9h0M635.0 445.9h0M635.9 445.9h0M636.9 445.9h0M637.8 445.9h0M638.8 445.9h0M639.7 445.9h0M640.7 445.9h0M641.6 445.9h0M642.6 445.9h0M643.5 445.9h0M644.5 445.9h0M645.4 445.9h0M646.4 445.9h0M647.3 445.9h0M648.3 445.9h0M649.2 445.9h0M650.2 445.9h0M651.1 445.9h0M652.1 445.9h0M653.0 445.9h0M654.0 445.9h0M654.9 445.9h0M655.9 445.9h0M656.8 445.9h0M657.8 445.9h0M658.7 445.9h0M659.7 445.9h0M660.6 445.9h0M661.6 445.9h0M662.5 445.9h0M663.5 445.9h0M664.4 445.9h0M465.9 468.8h0M466.3 471.6h0M483.1 472.0h0M484.0 478.2h0M485.0 484.8h0M484.8 498.0h0M490.8 471.0h0M507.0 469.8h0M507.4 475.0h0M476.5 466.0h0M480.0 465.5h0M492.0 468.0h0M498.5 467.0h0M634.5 464.4h0M570.5 466.6h0M600.4 487.9h0M629.7 467.5h0M590.4 472.2h0M561.9 458.6h0M663.9 458.1h0M626.6 481.4h0M555.8 491.8h0M563.0 469.7h0M649.8 472.4h0M613.8 476.1h0M612.1 462.4h0M612.6 460.2h0M586.5 470.3h0M582.1 464.3h0M552.0 462.9h0M618.2 462.4h0M545.4 474.2h0M656.0 466.5h0M627.1 476.2h0M574.2 460.6h0M555.8 473.8h0M628.5 484.7h0M613.9 474.3h0M573.9 461.1h0M644.7 475.3h0M552.5 472.4h0M578.9 478.0h0M633.8 468.0h0M662.4 462.4h0M625.5 459.5h0M557.1 474.1h0M563.1 484.9h0M549.6 463.1h0M597.8 469.8h0M579.6 467.0h0M643.0 463.0h0M580.2 497.1h0M562.9 459.5h0M658.7 476.4h0M588.2 461.2h0M619.8 474.8h0M588.2 457.8h0M611.8 475.7h0M582.0 467.7h0M661.5 470.6h0M650.4 465.7h0M659.6 463.5h0M561.7 485.7h0M653.6 461.9h0M569.2 466.0h0M575.8 460.8h0M645.6 460.1h0M649.5 485.4h0M588.1 462.0h0M563.0 476.3h0M635.5 461.8h0M565.7 463.1h0M609.4 462.4h0M585.3 462.2h0M569.5 473.2h0M554.2 471.3h0M624.9 472.1h0M613.0 464.4h0M623.0 457.9h0M644.1 459.2h0M581.0 469.4h0M614.3 461.6h0M591.1 463.3h0M662.1 463.9h0M661.0 497.1h0M569.9 477.6h0M631.2 460.5h0M649.3 462.4h0M556.6 480.3h0M609.2 458.4h0M634.3 473.1h0M633.6 469.8h0M660.7 469.8h0M638.0 463.5h0M631.9 462.6h0M649.3 458.2h0M656.3 461.5h0M635.8 475.9h0M624.1 467.6h0M627.1 471.6h0M593.6 528.0h0M650.6 463.2h0M623.9 475.1h0M606.8 460.3h0M580.6 461.9h0M551.6 469.3h0M603.7 465.9h0M571.4 467.4h0M572.0 463.8h0M654.6 459.5h0M631.5 462.7h0M644.9 464.7h0M662.6 471.5h0M627.3 459.2h0M623.1 484.7h0M628.9 468.5h0M598.7 475.7h0M650.2 465.7h0M608.9 460.4h0M588.1 458.6h0M635.9 462.8h0M622.7 489.0h0M628.0 503.7h0M654.2 460.5h0M615.9 461.4h0M594.2 481.1h0M611.0 466.3h0M578.9 476.4h0M638.7 461.8h0M563.8 465.7h0M614.7 500.0h0M616.7 462.0h0M597.3 459.2h0M603.6 459.2h0M600.1 472.6h0M603.4 474.7h0M575.1 462.1h0M619.9 465.1h0M630.9 459.6h0M606.0 458.5h0M628.6 485.6h0M591.3 466.6h0M626.7 473.7h0M547.4 469.2h0M561.9 477.1h0M591.9 466.7h0M558.2 474.7h0M563.7 472.8h0M609.2 465.0h0M615.2 473.2h0M639.7 462.5h0M634.9 463.3h0M547.8 462.9h0M627.9 458.9h0M585.4 463.4h0M572.1 466.0h0M557.6 467.9h0M579.7 463.3h0M546.2 463.0h0M562.1 476.5h0M562.4 468.4h0M661.2 461.9h0M636.5 462.4h0M628.5 463.1h0M632.4 464.4h0M563.1 459.6h0M573.7 478.7h0M602.6 468.6h0M579.3 481.0h0M592.8 465.4h0M662.1 460.7h0M639.0 459.0h0M561.3 477.4h0M585.9 470.5h0M645.9 459.6h0M573.0 458.7h0M629.1 473.0h0M629.2 460.4h0M584.4 460.9h0M632.8 466.5h0M566.2 474.0h0M629.1 462.5h0M649.3 468.0h0M589.9 460.1h0M631.5 482.2h0M616.5 463.5h0M569.5 461.0h0M585.7 483.6h0M573.3 458.1h0M646.2 482.1h0M630.6 480.5h0M567.5 458.2h0M591.4 476.1h0M653.2 490.4h0M566.2 470.0h0M592.0 481.0h0M579.2 471.2h0M549.1 468.6h0M632.2 477.0h0M570.5 479.1h0M637.6 459.4h0M621.0 464.0h0M601.3 472.9h0M659.7 469.7h0M562.6 472.3h0M624.9 470.6h0M585.2 471.4h0M629.3 460.7h0M610.6 469.9h0M644.8 459.3h0M656.0 484.1h0M649.1 470.0h0M657.0 510.2h0M620.6 496.5h0M572.3 501.0h0M659.3 498.1h0M664.3 525.9h0M561.3 524.3h0M650.1 528.6h0M579.7 529.2h0M625.4 525.3h0M639.9 509.0h0M549.5 518.2h0M609.1 516.9h0M602.3 523.5h0M585.3 514.7h0M619.3 514.0h0M639.0 512.2h0M568.4 492.5h0M567.2 517.4h0M634.7 513.0h0M637.7 520.8h0M581.4 528.0h0M612.9 525.0h0M560.0 516.1h0M610.0 520.1h0M657.3 525.0h0M629.7 494.9h0M619.6 495.2h0M596.9 526.8h0M646.8 529.9h0M646.0 491.0h0M593.1 492.5h0M595.0 488.4h0M595.2 491.6h0M592.2 487.2h0M593.9 486.8h0M593.8 490.8h0M593.7 486.6h0M593.3 486.2h0M593.7 485.2h0M595.2 487.9h0M595.6 489.4h0M593.1 495.1h0M593.7 489.1h0M594.0 484.7h0M639.7 492.6h0M639.7 493.7h0M641.0 495.9h0M640.8 489.3h0M638.6 495.5h0M641.1 497.2h0M640.5 491.8h0M640.7 493.5h0M597.5 481.2h0M596.3 485.1h0M596.9 485.6h0M596.1 482.1h0M597.6 485.1h0M597.0 481.3h0M562.3 496.1h0M561.6 489.4h0M559.9 492.3h0M560.3 491.2h0M581.5 509.2h0M583.5 503.9h0M582.9 504.4h0M584.8 500.3h0M583.8 510.8h0M556.0 536.1h0M559.5 536.1h0M572.5 536.1h0M575.8 536.1h0M594.5 536.1h0M598.0 536.1h0M601.5 536.1h0M609.0 536.1h0M640.5 536.1h0M646.5 536.1h0M659.5 536.1h0M662.5 536.1h0M460.5 567.7h0M460.4 556.4h0M460.6 572.5h0M459.8 571.3h0M459.7 565.0h0M459.6 565.0h0M459.6 573.7h0M459.5 570.8h0M460.2 565.6h0M459.8 557.5h0M459.5 564.4h0M459.7 565.6h0M460.3 564.0h0M459.9 567.8h0M459.6 568.3h0M460.5 562.4h0M460.6 562.5h0M459.9 572.5h0M460.7 572.0h0M459.5 567.4h0M459.5 562.2h0M460.3 560.2h0M460.5 561.4h0M460.3 560.9h0M460.5 566.0h0M459.7 570.8h0M460.5 571.8h0M460.3 570.8h0M459.9 573.2h0M460.1 564.1h0M459.5 571.9h0M460.6 563.7h0M459.6 569.9h0M459.5 565.4h0M460.3 565.7h0M460.3 564.1h0M460.0 572.2h0M459.9 570.3h0M459.5 559.3h0M460.7 564.0h0M459.5 561.5h0M459.9 556.6h0M459.6 560.6h0M459.9 567.9h0M460.2 563.9h0M459.7 560.2h0M460.3 563.6h0M460.1 569.2h0M459.5 569.6h0M459.9 559.8h0M460.5 561.0h0M459.5 563.5h0M459.8 569.7h0M459.5 569.5h0M460.2 570.4h0M460.6 568.5h0M460.2 558.8h0M459.8 565.1h0M460.0 562.2h0M460.6 561.4h0M459.5 565.5h0M459.8 568.1h0M459.5 563.1h0M460.4 572.8h0M459.7 580.6h0M460.3 574.6h0M460.5 577.7h0M461.6 568.8h0M461.7 576.4h0M461.3 557.9h0M461.3 563.0h0M461.9 569.9h0M461.3 573.5h0M461.4 577.7h0M462.5 566.2h0M462.4 563.4h0M461.6 574.9h0M462.0 557.4h0M462.2 561.2h0M461.1 575.4h0M462.0 562.2h0M462.0 569.4h0M460.9 569.8h0M460.9 572.2h0M461.7 569.3h0M461.1 560.5h0M461.1 560.0h0M460.8 558.9h0M461.5 565.4h0M461.2 568.0h0M462.4 560.0h0M462.3 559.7h0M462.3 572.5h0M461.2 565.1h0M462.3 562.9h0M461.4 570.0h0M462.0 575.9h0M462.5 575.4h0M462.0 573.7h0M460.8 563.5h0M460.8 565.8h0M462.2 560.2h0M461.9 578.0h0M460.8 576.1h0M461.1 559.5h0M462.0 563.7h0M462.2 566.3h0M461.4 556.7h0M462.1 557.6h0M461.5 561.5h0M460.7 560.6h0M462.2 557.8h0M462.4 573.6h0M462.0 564.4h0M461.1 577.2h0M461.9 571.9h0M461.6 569.8h0M461.9 566.1h0M461.9 559.1h0M461.4 569.4h0M461.3 568.6h0M462.5 556.6h0M461.0 563.4h0M460.9 564.4h0M461.6 572.3h0M461.5 561.1h0M462.2 569.1h0M461.2 570.6h0M461.0 574.2h0M462.1 560.2h0M461.7 576.0h0M461.6 565.1h0M461.1 571.5h0M461.9 577.5h0M461.8 576.7h0M462.1 573.4h0M462.5 561.6h0M460.8 578.0h0M462.0 574.1h0M462.5 567.0h0M460.9 572.3h0M461.3 563.0h0M461.1 565.6h0M462.1 562.2h0M462.3 568.9h0M461.4 576.4h0M461.3 565.8h0M462.3 561.6h0M461.5 565.2h0M462.1 557.3h0M461.6 562.7h0M461.3 563.8h0M461.5 565.0h0M460.9 565.5h0M462.3 565.3h0M461.9 574.2h0M462.2 564.2h0M461.1 560.4h0M461.3 559.4h0M461.0 559.3h0M462.4 560.3h0M461.4 575.9h0M461.1 558.5h0M462.3 568.9h0M462.2 566.6h0M461.6 564.0h0M461.3 563.5h0M462.1 562.9h0M462.0 574.9h0M462.2 577.9h0M462.4 569.4h0M461.9 568.0h0M460.7 576.7h0M460.9 567.0h0M461.5 564.6h0M462.4 564.6h0M461.3 561.3h0M462.0 567.0h0M462.1 561.1h0M461.9 568.5h0M461.5 567.0h0M462.2 557.9h0M460.7 578.0h0M462.5 581.2h0M460.9 579.8h0M460.8 578.5h0M460.9 580.0h0M461.6 582.2h0M463.2 566.0h0M463.4 563.9h0M463.1 572.8h0M463.0 565.7h0M462.7 561.1h0M463.3 562.5h0M463.7 563.8h0M463.7 572.9h0M463.2 563.3h0M463.4 568.8h0M463.3 562.3h0M463.2 563.4h0M463.6 572.3h0M463.8 565.2h0M463.5 564.5h0M463.4 566.3h0M463.1 566.3h0M462.9 558.4h0M463.1 560.7h0M462.5 556.0h0M463.3 568.5h0M463.7 569.9h0M462.8 564.1h0M463.7 573.5h0M463.2 564.6h0M463.6 571.0h0M462.6 562.7h0M462.6 569.4h0M462.9 571.6h0M463.7 571.8h0M462.5 567.2h0M463.0 563.6h0M463.4 562.9h0M463.2 571.0h0M463.2 572.9h0M463.8 562.3h0M463.3 562.5h0M463.3 556.5h0M462.6 571.6h0M463.2 572.6h0M462.8 564.2h0M462.6 571.7h0M463.6 562.1h0M463.3 562.3h0M462.9 561.5h0M462.8 571.1h0M463.6 564.6h0M463.4 569.8h0M463.4 559.7h0M463.5 559.8h0M463.6 573.5h0M462.9 572.3h0M462.9 559.7h0M462.6 566.1h0M463.1 570.4h0M462.9 570.5h0M463.3 568.2h0M462.6 560.9h0M463.1 561.8h0M462.8 568.6h0M463.4 561.1h0M463.1 571.3h0M463.1 560.1h0M463.5 574.5h0M463.3 575.1h0M462.6 577.4h0M464.1 568.6h0M464.1 569.1h0M464.1 575.8h0M464.0 574.1h0M464.4 563.8h0M464.0 560.3h0M464.5 559.8h0M464.3 577.4h0M463.8 556.7h0M464.4 559.9h0M464.5 568.9h0M464.0 573.5h0M464.3 571.1h0M464.1 570.8h0M464.3 579.9h0M464.6 568.8h0M464.3 567.4h0M464.0 556.3h0M463.9 563.9h0M464.1 558.6h0M463.9 558.0h0M464.1 562.0h0M463.9 579.4h0M464.7 558.3h0M464.2 559.6h0M464.2 558.6h0M464.0 566.6h0M464.1 565.9h0M463.9 558.8h0M464.5 565.0h0M464.4 558.8h0M463.9 557.4h0M464.0 570.9h0M464.4 567.7h0M464.7 579.6h0M464.4 562.3h0M464.2 564.6h0M464.7 561.6h0M464.7 562.8h0M464.1 575.8h0M463.8 570.8h0M464.6 579.7h0M463.8 573.4h0M464.6 580.1h0M464.5 564.7h0M464.0 560.1h0M464.1 567.8h0M464.4 557.4h0M464.7 578.8h0M464.2 567.0h0M464.5 569.5h0M464.7 569.5h0M463.9 572.8h0M464.6 562.5h0M464.0 567.0h0M464.0 577.9h0M464.4 564.1h0M464.3 580.0h0M464.1 576.9h0M463.8 578.8h0M464.5 571.7h0M464.5 565.4h0M464.6 578.6h0M464.6 558.9h0M464.0 557.6h0M464.6 559.8h0M463.8 573.3h0M464.2 582.3h0M463.8 580.8h0M466.0 557.3h0M465.5 563.3h0M465.4 562.4h0M465.0 575.5h0M465.4 562.1h0M465.9 569.3h0M465.3 567.6h0M466.0 557.6h0M465.6 562.6h0M465.4 571.7h0M465.4 560.0h0M465.5 557.7h0M465.6 563.3h0M466.0 558.4h0M465.9 562.0h0M466.0 561.7h0M465.8 570.7h0M465.0 567.1h0M465.1 565.1h0M465.2 569.1h0M464.8 567.3h0M465.8 570.5h0M466.0 558.1h0M465.2 572.8h0M466.0 565.0h0M465.8 567.8h0M465.4 557.8h0M464.8 562.2h0M465.7 560.8h0M465.9 575.2h0M465.5 559.4h0M464.8 564.0h0M466.0 564.4h0M466.0 567.7h0M464.8 575.5h0M464.8 557.9h0M465.3 568.1h0M466.0 567.8h0M465.6 569.5h0M465.7 569.4h0M465.2 573.9h0M465.5 566.0h0M465.4 556.6h0M465.4 569.0h0M466.0 565.9h0M465.2 572.0h0M464.8 573.1h0M464.8 569.8h0M465.7 561.5h0M465.5 572.1h0M465.4 572.3h0M465.1 568.9h0M465.8 563.9h0M465.6 565.4h0M466.0 568.4h0M465.1 562.5h0M464.9 573.1h0M466.0 567.4h0M465.3 575.6h0M466.0 572.0h0M466.0 568.0h0M465.7 567.4h0M465.4 573.4h0M465.6 572.7h0M465.9 558.2h0M464.9 574.1h0M465.3 567.3h0M464.9 569.4h0M464.9 573.8h0M465.6 575.5h0M466.0 564.8h0M465.6 572.3h0M465.7 569.9h0M465.6 574.6h0M465.3 575.5h0M465.0 557.1h0M465.7 580.9h0M464.9 577.4h0M466.0 576.9h0M467.3 561.7h0M467.4 567.3h0M466.8 564.6h0M467.0 563.2h0M466.5 572.4h0M466.1 560.2h0M467.2 568.1h0M467.5 558.7h0M466.9 566.0h0M467.3 566.4h0M466.3 561.2h0M466.2 559.3h0M467.6 570.1h0M467.7 565.4h0M466.3 564.8h0M466.9 557.5h0M466.7 559.7h0M467.3 562.8h0M467.0 566.2h0M466.2 567.5h0M467.3 569.7h0M467.0 566.0h0M466.2 560.7h0M466.1 565.0h0M467.2 572.9h0M467.3 568.6h0M466.6 563.9h0M466.6 572.4h0M466.5 557.7h0M466.4 568.8h0M467.3 557.7h0M467.3 559.8h0M466.4 569.9h0M467.1 559.4h0M466.7 556.5h0M466.2 561.3h0M466.2 556.8h0M467.5 562.9h0M467.6 564.3h0M467.3 560.7h0M467.2 568.5h0M467.6 570.8h0M467.7 573.0h0M466.2 566.3h0M466.7 571.2h0M467.5 569.5h0M467.0 574.0h0M467.0 574.2h0M466.5 574.2h0M468.5 556.7h0M468.6 568.3h0M468.8 573.0h0M467.8 572.9h0M468.8 564.4h0M468.3 572.2h0M468.9 568.1h0M468.4 562.2h0M468.2 560.5h0M468.0 570.3h0M467.8 570.4h0M468.8 566.9h0M469.0 572.8h0M468.7 566.1h0M468.0 574.4h0M468.2 573.3h0M467.9 576.5h0M467.8 561.4h0M468.9 571.0h0M468.2 569.0h0M468.0 567.8h0M468.3 571.9h0M468.0 571.8h0M469.0 566.0h0M468.1 562.8h0M468.1 572.0h0M467.9 565.9h0M468.9 565.0h0M468.2 564.0h0M468.6 556.3h0M468.3 574.8h0M468.9 569.1h0M468.3 560.3h0M468.1 571.6h0M468.2 573.5h0M468.1 566.6h0M468.0 574.2h0M468.0 567.0h0M468.1 570.1h0M468.2 569.1h0M467.9 572.6h0M468.3 561.0h0M468.9 573.0h0M468.4 574.9h0M468.9 568.3h0M468.3 571.8h0M468.8 572.9h0M468.5 556.7h0M468.8 566.6h0M468.8 568.8h0M468.3 565.3h0M468.4 569.4h0M467.9 574.8h0M469.0 562.3h0M467.9 562.8h0M469.0 565.3h0M467.9 561.5h0M467.9 559.9h0M468.9 560.0h0M468.5 581.0h0M468.2 577.9h0M468.6 579.2h0M469.3 561.2h0M469.1 581.3h0M469.3 569.6h0M469.8 581.1h0M469.1 573.0h0M469.1 580.2h0M469.2 568.7h0M469.6 579.4h0M469.2 579.1h0M469.2 571.3h0M469.8 567.0h0M469.8 571.0h0M469.2 570.9h0M469.6 577.2h0M469.4 580.5h0M469.3 559.2h0M469.3 560.1h0M469.5 568.2h0M469.7 562.9h0M469.3 564.3h0M469.1 557.6h0M469.3 579.3h0M469.6 581.0h0M469.4 574.0h0M469.8 561.8h0M469.2 567.2h0M469.1 573.5h0M469.3 580.5h0M469.8 566.4h0M469.5 573.4h0M469.2 567.2h0M469.8 569.1h0M469.1 559.2h0M469.5 578.7h0M469.3 565.3h0M469.2 564.7h0M469.4 578.4h0M469.9 573.2h0M469.4 581.3h0M469.7 576.7h0M469.3 564.6h0M469.3 572.5h0M469.9 573.8h0M469.5 562.8h0M469.8 561.2h0M469.3 557.1h0M469.7 576.1h0M469.6 576.0h0M469.2 569.8h0M469.2 573.3h0M469.6 556.7h0M469.2 560.0h0M469.2 577.9h0M469.1 579.9h0M469.2 578.3h0M469.1 556.6h0M469.3 577.3h0M469.1 580.7h0M469.2 561.1h0M469.6 569.1h0M469.1 578.3h0M469.3 570.7h0M469.2 574.9h0M469.6 576.3h0M469.2 566.0h0M469.9 582.8h0M469.2 584.9h0M471.0 573.6h0M470.5 573.3h0M470.1 570.0h0M470.7 569.0h0M470.4 575.0h0M470.1 569.2h0M471.3 572.1h0M470.3 570.8h0M470.5 578.3h0M471.3 561.0h0M470.2 567.4h0M470.0 576.3h0M470.0 577.1h0M470.9 577.8h0M470.7 560.5h0M470.6 575.4h0M470.4 565.7h0M471.1 574.7h0M470.1 555.8h0M471.0 572.3h0M470.6 575.7h0M471.2 567.2h0M470.1 573.6h0M470.1 561.7h0M469.9 557.2h0M471.3 571.4h0M470.6 564.2h0M471.2 557.7h0M471.1 576.5h0M471.0 569.4h0M470.0 569.4h0M471.0 563.3h0M470.1 568.3h0M470.6 560.8h0M470.4 574.8h0M471.0 563.6h0M470.2 563.5h0M470.1 564.6h0M471.0 556.1h0M470.9 570.7h0M471.2 578.7h0M470.6 562.2h0M469.9 561.3h0M469.9 570.8h0M470.3 573.6h0M470.7 563.5h0M470.4 576.6h0M471.3 556.1h0M470.0 566.5h0M471.0 559.9h0M471.3 560.4h0M470.3 567.2h0M471.1 564.9h0M470.0 576.5h0M471.3 566.5h0M470.6 578.0h0M471.2 556.9h0M471.0 572.0h0M470.2 561.9h0M471.0 556.2h0M471.1 571.8h0M470.1 578.5h0M470.6 576.2h0M470.0 566.8h0M470.3 560.1h0M470.3 562.9h0M469.9 566.7h0M471.1 577.3h0M470.9 559.8h0M470.3 578.7h0M471.3 565.5h0M470.3 558.8h0M470.2 557.0h0M470.2 573.5h0M470.5 573.8h0M471.1 568.8h0M471.4 563.6h0M471.1 564.6h0M470.2 558.5h0M470.0 568.1h0M471.0 572.8h0M470.1 577.6h0M470.2 567.9h0M471.2 565.8h0M470.1 560.7h0M470.0 562.9h0M469.9 572.0h0M470.6 562.3h0M471.0 568.8h0M471.1 566.3h0M471.2 570.4h0M471.1 568.8h0M470.1 571.5h0M470.9 574.4h0M470.8 565.9h0M470.4 571.8h0M470.1 572.0h0M471.2 566.9h0M470.8 577.2h0M470.1 580.9h0M471.2 582.6h0M470.0 581.4h0M470.6 583.6h0M472.7 575.4h0M471.9 557.6h0M471.4 570.0h0M472.1 571.3h0M471.4 561.0h0M471.5 560.9h0M472.5 556.1h0M473.2 556.0h0M472.6 569.4h0M472.8 570.5h0M473.2 565.8h0M473.1 572.8h0M473.0 575.2h0M471.6 558.8h0M472.8 565.2h0M473.3 564.7h0M471.7 567.1h0M471.9 567.5h0M472.5 560.2h0M471.5 567.4h0M472.2 578.3h0M472.7 570.4h0M472.4 562.3h0M472.5 575.3h0M471.5 564.5h0M471.8 571.8h0M473.0 557.0h0M473.3 570.3h0M471.6 568.7h0M473.0 562.2h0M472.7 556.7h0M471.7 562.3h0M473.1 575.0h0M471.7 570.0h0M473.3 564.4h0M473.3 575.7h0M472.6 574.2h0M473.1 565.6h0M473.1 573.6h0M472.8 566.9h0M471.4 574.8h0M472.6 558.9h0M473.1 578.4h0M472.7 573.2h0M472.1 565.3h0M471.8 578.5h0M473.0 559.4h0M472.8 575.9h0M472.3 557.7h0M472.9 577.8h0M472.7 578.4h0M472.2 566.5h0M472.6 558.4h0M473.1 565.8h0M473.3 575.0h0M472.2 562.8h0M471.9 572.6h0M473.3 576.9h0M471.7 558.3h0M472.1 578.3h0M471.8 564.9h0M471.6 572.7h0M473.0 563.5h0M471.7 567.3h0M472.9 570.2h0M471.8 572.8h0M473.2 577.7h0M471.8 558.3h0M473.0 572.7h0M471.9 564.1h0M472.4 566.3h0M473.2 576.0h0M472.1 561.1h0M472.8 565.1h0M472.3 577.3h0M473.1 577.8h0M472.5 563.0h0M472.1 564.0h0M472.5 567.3h0M472.8 571.0h0M472.8 573.6h0M473.1 557.1h0M472.3 572.6h0M473.1 574.2h0M471.4 577.7h0M472.2 569.9h0M472.5 565.4h0M472.0 566.9h0M472.6 561.7h0M471.7 571.0h0M473.2 576.4h0M472.8 569.3h0M471.6 563.4h0M472.8 563.0h0M472.5 561.4h0M472.2 569.7h0M472.9 567.4h0M472.0 560.4h0M473.0 558.8h0M471.5 576.2h0M473.1 577.5h0M472.5 565.8h0M472.6 560.4h0M472.4 562.6h0M472.3 576.7h0M473.1 577.0h0M473.1 573.2h0M471.9 557.0h0M472.1 569.2h0M472.1 556.9h0M471.7 560.7h0M473.0 574.3h0M471.7 570.9h0M472.2 574.0h0M472.2 562.7h0M473.0 567.3h0M472.6 564.7h0M473.3 575.1h0M473.4 571.7h0M472.7 563.1h0M471.8 568.7h0M471.7 568.1h0M471.5 571.8h0M472.5 575.6h0M471.5 573.8h0M472.7 576.5h0M472.4 575.6h0M473.4 580.9h0M472.8 587.3h0M472.4 583.2h0M473.2 579.1h0M473.1 579.3h0M474.3 573.4h0M473.4 570.3h0M474.4 573.8h0M474.0 572.0h0M473.5 571.5h0M473.7 578.9h0M474.4 577.6h0M474.3 576.6h0M473.7 577.3h0M473.4 569.7h0M474.6 576.1h0M473.7 557.5h0M474.5 562.8h0M474.5 568.0h0M473.7 574.4h0M473.4 576.9h0M474.5 556.3h0M474.7 578.6h0M474.3 571.1h0M473.4 557.7h0M474.1 571.9h0M473.6 565.3h0M474.3 576.9h0M474.6 579.7h0M474.0 571.5h0M473.8 564.8h0M473.8 579.0h0M474.3 575.9h0M474.1 566.3h0M473.9 579.2h0M473.5 570.7h0M474.7 560.9h0M474.6 560.4h0M473.8 575.8h0M473.8 566.5h0M474.6 560.9h0M474.1 559.1h0M473.7 567.0h0M474.5 565.9h0M473.7 564.9h0M474.1 566.0h0M473.9 562.4h0M473.5 571.6h0M474.4 577.8h0M473.8 558.7h0M474.0 574.0h0M473.9 577.9h0M474.2 574.3h0M474.0 568.2h0M474.6 569.9h0M474.9 579.7h0M474.0 564.9h0M474.4 566.0h0M474.0 578.1h0M474.0 573.5h0M474.3 565.8h0M473.7 578.3h0M474.0 557.2h0M474.8 561.0h0M474.7 581.3h0M473.4 570.9h0M474.1 568.7h0M474.2 580.2h0M473.5 561.4h0M474.0 560.4h0M474.9 569.7h0M473.8 563.6h0M473.8 564.8h0M474.5 563.5h0M473.4 555.9h0M473.6 571.5h0M474.1 570.1h0M473.9 567.1h0M474.9 572.7h0M474.0 571.2h0M474.2 570.8h0M473.5 567.1h0M473.5 568.0h0M474.3 564.7h0M474.4 579.2h0M474.1 580.3h0M474.3 563.4h0M474.8 572.6h0M474.0 575.7h0M474.4 561.8h0M473.7 574.7h0M474.2 576.5h0M474.4 559.9h0M474.4 563.4h0M474.8 568.9h0M474.4 563.3h0M474.8 563.1h0M474.7 575.5h0M473.5 564.4h0M473.7 565.6h0M474.0 570.3h0M474.4 580.3h0M474.2 574.7h0M474.5 565.4h0M474.8 572.9h0M474.5 568.4h0M473.5 560.8h0M474.1 568.8h0M474.0 579.8h0M473.6 563.9h0M474.3 561.6h0M473.8 577.9h0M474.2 566.9h0M474.5 566.2h0M473.5 581.2h0M474.8 586.8h0M474.6 584.7h0M474.4 582.3h0M473.6 582.3h0M475.9 577.2h0M476.0 578.4h0M475.7 581.8h0M476.0 572.1h0M475.3 576.3h0M476.2 572.4h0M475.6 574.7h0M476.4 572.5h0M475.0 563.5h0M475.9 581.0h0M475.5 582.4h0M476.2 561.4h0M476.2 574.4h0M476.4 563.9h0M475.4 579.2h0M475.2 564.8h0M476.2 580.4h0M475.3 573.2h0M475.9 568.8h0M475.5 576.0h0M476.2 565.5h0M475.1 582.4h0M476.2 560.1h0M476.0 557.1h0M476.5 575.1h0M475.3 568.7h0M475.7 582.3h0M475.8 582.0h0M474.9 563.0h0M475.0 579.2h0M476.0 560.4h0M476.2 577.5h0M476.2 565.6h0M476.0 569.3h0M475.8 572.0h0M475.5 580.0h0M475.7 572.6h0M475.1 578.8h0M475.3 579.0h0M475.7 562.0h0M475.9 560.5h0M476.0 556.4h0M476.0 558.7h0M475.1 576.6h0M476.2 573.7h0M476.1 564.2h0M475.6 573.3h0M476.1 573.4h0M476.0 564.4h0M475.4 565.1h0M475.1 564.5h0M476.0 569.0h0M476.2 565.9h0M476.0 575.9h0M475.6 577.4h0M476.3 582.2h0M475.2 558.4h0M475.5 565.0h0M475.5 569.0h0M475.6 563.7h0M475.8 569.6h0M475.5 575.7h0M476.0 563.4h0M475.2 575.5h0M475.7 582.1h0M475.2 563.0h0M475.0 570.7h0M475.1 576.5h0M475.1 582.3h0M475.1 561.2h0M475.6 574.1h0M476.3 568.8h0M475.1 558.4h0M475.5 571.4h0M476.5 582.4h0M475.3 573.8h0M475.6 572.6h0M476.2 565.1h0M475.5 575.0h0M476.3 566.6h0M476.2 566.4h0M475.2 573.1h0M475.1 571.6h0M475.0 577.5h0M476.5 580.0h0M475.0 572.4h0M476.0 577.6h0M475.3 578.7h0M476.1 565.4h0M475.3 578.0h0M475.6 565.6h0M475.6 561.2h0M475.8 581.7h0M476.3 565.2h0M476.2 567.0h0M476.0 571.4h0M475.2 578.7h0M475.6 561.8h0M475.1 579.0h0M475.2 573.9h0M475.4 560.7h0M475.2 577.7h0M475.8 574.9h0M475.0 558.3h0M475.7 582.1h0M476.0 578.2h0M476.4 563.4h0M476.2 578.2h0M476.1 562.0h0M475.0 565.1h0M475.1 582.5h0M475.8 577.7h0M475.5 585.0h0M475.7 589.7h0M476.0 590.2h0M475.3 584.5h0M477.0 571.7h0M476.7 563.7h0M476.9 571.4h0M476.8 571.3h0M476.8 565.2h0M477.1 560.7h0M476.9 568.6h0M477.1 565.7h0M476.8 573.1h0M477.0 570.9h0M477.0 560.2h0M476.6 568.0h0M476.6 571.7h0M476.5 564.9h0M476.6 573.1h0M476.6 569.1h0M477.1 573.3h0M476.7 573.9h0M476.7 563.1h0M476.6 560.1h0M477.0 562.0h0M476.6 560.0h0M476.9 573.1h0M476.7 572.6h0M477.2 556.3h0M477.1 566.5h0M476.6 569.4h0M476.6 556.8h0M477.0 569.3h0M476.6 564.7h0M477.2 566.8h0M476.7 573.1h0M476.7 572.7h0M476.9 566.5h0M476.6 572.7h0M476.9 564.3h0M477.1 559.2h0M476.8 579.5h0M477.1 581.7h0M477.7 557.2h0M477.9 559.1h0M477.4 570.9h0M477.8 585.8h0M477.9 569.0h0M477.8 580.6h0M477.7 583.4h0M477.2 563.3h0M477.5 556.3h0M477.5 567.3h0M477.2 557.3h0M477.7 565.8h0M477.7 575.4h0M477.8 573.8h0M477.8 577.8h0M477.8 581.0h0M477.8 576.8h0M477.5 567.2h0M477.6 579.6h0M477.7 586.2h0M477.4 581.2h0M477.6 576.4h0M477.6 567.0h0M477.3 579.6h0M477.7 573.1h0M477.5 561.2h0M477.3 569.1h0M477.3 565.5h0M477.8 576.5h0M477.6 561.6h0M477.3 582.4h0M477.4 572.6h0M477.8 560.4h0M477.6 563.8h0M477.4 567.9h0M477.3 566.9h0M477.2 566.2h0M478.0 562.2h0M477.4 573.9h0M477.6 575.0h0M477.8 560.8h0M477.3 586.5h0M478.8 560.9h0M478.8 566.1h0M478.8 565.9h0M478.7 558.0h0M478.1 561.8h0M478.6 565.5h0M478.9 563.9h0M478.7 565.0h0M478.6 561.0h0M478.2 564.4h0M478.2 572.2h0M478.4 566.5h0M478.5 570.9h0M478.2 556.3h0M478.6 572.4h0M478.8 561.1h0M478.5 565.1h0M478.0 573.1h0M478.8 570.5h0M478.2 568.5h0M478.4 566.8h0M478.7 560.1h0M478.8 556.5h0M478.6 569.2h0M478.1 561.5h0M478.8 570.3h0M478.7 561.5h0M478.9 570.3h0M478.5 569.4h0M478.8 563.4h0M478.3 566.4h0M478.2 562.1h0M478.5 561.9h0M478.2 561.0h0M478.7 575.0h0M478.7 574.8h0M479.1 560.7h0M480.3 570.0h0M479.6 575.2h0M480.0 575.4h0M480.4 560.4h0M480.2 565.2h0M480.3 576.0h0M479.9 558.1h0M479.4 562.3h0M479.5 572.5h0M479.0 573.6h0M480.3 563.1h0M480.0 557.0h0M479.0 568.7h0M480.0 561.0h0M479.9 569.8h0M479.1 558.4h0M479.7 570.6h0M480.1 572.1h0M479.8 566.4h0M479.8 564.4h0M480.3 570.3h0M479.4 557.4h0M479.6 564.5h0M480.2 575.7h0M480.3 562.0h0M479.5 572.7h0M479.5 563.7h0M479.9 573.7h0M479.3 577.4h0M479.0 562.8h0M479.5 562.7h0M480.0 572.1h0M480.3 572.6h0M479.9 571.4h0M479.1 561.5h0M479.9 572.5h0M479.4 557.8h0M479.4 572.1h0M479.0 569.0h0M480.0 571.0h0M480.2 571.2h0M480.2 574.4h0M479.4 567.2h0M480.3 569.1h0M480.2 569.6h0M479.7 569.9h0M479.9 566.5h0M479.1 571.8h0M479.5 575.4h0M479.1 577.4h0M480.4 577.7h0M480.0 576.4h0M478.9 567.0h0M480.2 576.7h0M480.2 569.0h0M479.2 563.7h0M479.7 573.7h0M479.8 563.8h0M479.9 561.8h0M480.3 573.8h0M479.2 564.6h0M479.2 559.5h0M479.4 566.0h0M479.2 569.7h0M480.2 565.3h0M479.0 561.0h0M480.1 562.1h0M480.0 560.1h0M479.9 562.5h0M479.5 567.0h0M479.2 561.1h0M479.2 570.2h0M479.5 556.4h0M479.2 557.9h0M479.5 569.6h0M480.3 567.9h0M479.8 577.1h0M479.8 563.4h0M479.1 561.3h0M479.3 559.5h0M479.3 577.1h0M479.1 556.9h0M479.7 573.4h0M480.3 562.3h0M479.8 569.1h0M479.6 573.2h0M480.3 572.6h0M479.0 564.9h0M479.7 572.1h0M479.3 577.8h0M479.3 579.0h0M479.5 579.2h0M480.2 578.4h0M480.9 574.2h0M481.0 576.6h0M480.7 576.5h0M480.8 569.3h0M481.3 560.0h0M481.2 562.7h0M480.9 566.6h0M480.5 556.1h0M480.7 579.5h0M481.5 563.5h0M480.6 581.5h0M480.7 579.8h0M481.4 570.6h0M480.7 562.9h0M481.5 575.8h0M480.8 579.5h0M481.3 577.0h0M481.3 557.6h0M481.0 581.1h0M480.6 560.4h0M481.3 561.8h0M481.4 566.2h0M480.6 577.2h0M480.8 559.9h0M480.7 561.7h0M481.1 569.0h0M481.3 561.2h0M481.5 575.6h0M481.0 569.7h0M480.8 568.8h0M481.1 571.7h0M481.0 558.6h0M480.6 562.6h0M480.9 578.0h0M481.2 580.3h0M480.4 576.3h0M481.0 573.8h0M480.6 582.2h0M480.8 562.0h0M481.4 563.4h0M480.6 573.9h0M481.0 558.2h0M480.7 578.2h0M481.5 578.6h0M480.6 579.4h0M480.5 578.2h0M480.6 571.8h0M481.2 570.3h0M480.8 571.8h0M480.5 570.4h0M480.5 576.8h0M481.3 556.6h0M480.8 566.9h0M481.0 572.7h0M481.3 555.9h0M480.7 577.3h0M480.5 567.6h0M481.3 573.1h0M480.8 574.0h0M481.5 569.1h0M481.2 565.9h0M481.0 559.7h0M481.5 568.9h0M481.4 574.4h0M481.2 578.3h0M480.9 563.2h0M481.4 565.8h0M481.2 565.9h0M481.2 577.2h0M480.8 571.0h0M481.0 562.3h0M481.4 566.2h0M480.8 562.5h0M480.5 579.2h0M481.5 559.8h0M481.2 569.8h0M480.7 582.0h0M480.8 591.6h0M481.5 582.9h0M481.1 583.6h0M482.4 581.2h0M482.3 579.6h0M482.7 580.8h0M482.8 583.1h0M482.6 572.5h0M483.0 579.0h0M481.6 574.9h0M482.2 577.6h0M482.8 567.2h0M481.6 565.7h0M482.9 564.0h0M481.8 563.8h0M482.4 564.9h0M482.8 563.5h0M481.8 579.2h0M482.0 569.1h0M483.1 568.3h0M482.2 559.9h0M482.8 567.5h0M482.1 568.6h0M481.9 567.6h0M482.4 557.4h0M481.7 578.2h0M481.9 576.0h0M482.7 571.1h0M481.8 558.8h0M481.8 571.1h0M483.0 567.3h0M481.7 567.5h0M482.3 581.8h0M481.7 564.0h0M482.5 568.7h0M483.2 582.2h0M481.8 568.9h0M481.7 563.4h0M482.8 559.4h0M482.9 573.6h0M482.2 556.6h0M483.1 572.8h0M482.1 582.5h0M482.5 560.1h0M483.0 562.6h0M482.6 577.1h0M481.5 578.8h0M482.7 582.5h0M481.6 556.4h0M482.2 575.6h0M481.8 578.2h0M483.2 565.8h0M482.9 581.5h0M482.5 565.9h0M481.6 573.9h0M483.1 564.2h0M482.3 578.5h0M481.5 563.5h0M482.4 568.2h0M482.8 569.6h0M482.9 570.5h0M482.4 575.6h0M482.0 570.2h0M482.8 557.6h0M482.1 575.4h0M482.1 563.9h0M481.6 577.1h0M483.1 576.8h0M482.9 563.5h0M482.0 571.0h0M483.2 577.7h0M483.2 566.6h0M482.0 570.2h0M482.3 562.2h0M483.0 563.9h0M483.1 564.6h0M481.6 578.7h0M481.8 574.5h0M482.4 558.5h0M481.6 579.7h0M482.7 565.0h0M482.6 567.1h0M481.7 561.3h0M481.8 576.8h0M482.4 572.5h0M483.0 579.1h0M483.1 560.0h0M483.0 563.0h0M481.8 563.3h0M482.8 575.8h0M482.5 557.3h0M482.8 564.3h0M483.0 580.2h0M482.2 572.8h0M482.0 573.7h0M482.7 568.1h0M483.0 577.0h0M481.6 570.2h0M482.9 567.8h0M482.5 574.3h0M482.7 569.8h0M482.0 561.4h0M482.5 577.6h0M482.1 567.6h0M482.5 583.1h0M481.7 562.9h0M482.2 577.2h0M482.3 576.9h0M482.5 582.2h0M482.5 572.6h0M483.3 580.5h0M482.5 567.5h0M481.7 561.3h0M483.3 575.8h0M483.3 571.3h0M482.4 567.7h0M482.7 579.6h0M482.6 574.5h0M482.9 570.8h0M482.6 581.8h0M482.8 579.0h0M482.4 579.6h0M481.8 558.4h0M482.6 560.3h0M482.9 574.3h0M482.2 570.4h0M482.4 569.8h0M482.4 581.3h0M483.1 568.4h0M482.2 559.7h0M483.1 568.7h0M482.7 563.8h0M482.4 556.0h0M482.8 556.1h0M483.3 580.0h0M482.7 567.3h0M482.3 569.4h0M482.0 564.2h0M482.1 579.7h0M481.6 574.5h0M482.9 556.2h0M481.8 575.6h0M482.1 571.0h0M482.3 570.0h0M483.3 559.7h0M482.7 584.3h0M481.6 586.1h0M482.6 584.4h0M482.0 588.1h0M483.0 584.7h0M483.5 561.8h0M483.8 570.9h0M484.3 562.7h0M484.0 559.6h0M483.4 573.1h0M483.5 561.5h0M483.6 566.8h0M483.4 563.4h0M483.9 558.8h0M483.7 560.9h0M483.9 564.3h0M484.0 562.6h0M484.3 574.5h0M484.0 560.5h0M483.4 576.0h0M483.9 570.9h0M484.2 561.8h0M483.8 572.0h0M483.8 577.0h0M484.3 574.8h0M483.5 557.9h0M483.9 565.7h0M483.8 569.9h0M483.5 565.3h0M483.9 559.5h0M483.6 572.7h0M484.3 562.5h0M483.6 560.0h0M483.6 562.4h0M484.0 562.1h0M483.5 571.9h0M483.8 557.9h0M483.9 572.8h0M483.5 565.2h0M483.3 572.1h0M484.0 562.4h0M483.8 571.0h0M483.6 575.3h0M484.2 562.7h0M483.6 555.8h0M484.0 570.7h0M483.4 559.3h0M484.3 574.3h0M483.5 561.5h0M483.9 573.4h0M483.5 576.3h0M484.0 564.3h0M484.3 561.3h0M483.7 557.1h0M483.4 573.0h0M484.2 575.5h0M484.0 573.2h0M483.4 567.3h0M483.8 564.1h0M484.0 569.0h0M483.8 560.0h0M484.1 575.0h0M483.8 570.3h0M484.3 575.7h0M483.4 566.6h0M484.3 579.1h0M483.4 578.8h0M484.1 577.7h0M485.4 564.9h0M485.3 559.1h0M485.3 557.2h0M484.9 568.3h0M484.8 556.2h0M485.4 559.2h0M484.9 561.3h0M485.4 577.8h0M484.4 558.8h0M485.5 570.9h0M484.6 559.4h0M485.3 566.3h0M485.1 560.4h0M485.2 560.4h0M485.3 561.9h0M484.3 565.7h0M485.1 563.3h0M484.7 577.0h0M484.7 559.8h0M484.7 561.6h0M485.6 577.6h0M485.5 564.6h0M485.0 563.9h0M485.2 574.0h0M484.9 576.8h0M485.6 564.9h0M485.3 563.6h0M485.0 565.3h0M485.4 564.5h0M485.6 563.7h0M484.9 575.6h0M485.4 568.2h0M485.4 564.8h0M484.6 569.0h0M485.4 560.8h0M485.4 561.0h0M485.4 577.7h0M484.4 564.3h0M485.6 565.2h0M484.4 558.1h0M485.1 573.5h0M484.8 570.4h0M484.9 576.5h0M485.3 571.7h0M484.6 560.0h0M485.6 574.8h0M485.4 566.4h0M485.5 578.6h0M485.2 558.0h0M484.7 564.9h0M485.0 572.1h0M485.5 575.8h0M484.3 570.5h0M485.4 562.5h0M484.9 561.7h0M484.7 566.1h0M484.5 572.6h0M484.9 572.5h0M484.9 561.7h0M484.4 558.2h0M485.5 563.0h0M485.3 569.5h0M485.6 578.4h0M484.7 570.5h0M484.6 577.3h0M485.4 575.1h0M484.5 567.6h0M485.6 563.2h0M485.3 565.5h0M485.4 572.4h0M485.1 562.2h0M484.5 562.8h0M485.4 578.3h0M484.6 568.6h0M485.6 572.7h0M485.1 574.9h0M485.1 556.7h0M484.5 559.7h0M485.6 566.1h0M484.6 572.3h0M484.5 568.3h0M484.7 564.3h0M485.1 557.9h0M484.7 574.4h0M484.9 577.3h0M484.8 560.2h0M484.8 574.6h0M485.4 577.8h0M485.2 565.1h0M485.2 563.0h0M484.8 558.8h0M484.7 566.8h0M484.5 565.4h0M484.8 563.1h0M484.8 559.3h0M485.4 579.0h0M484.5 581.3h0M485.7 578.9h0M485.1 578.9h0M486.0 577.3h0M486.1 568.3h0M486.1 564.1h0M486.2 574.5h0M485.7 570.9h0M486.1 573.0h0M486.1 562.4h0M486.5 568.8h0M486.3 568.3h0M486.4 564.5h0M485.8 573.9h0M486.3 571.9h0M485.9 574.8h0M485.8 556.4h0M486.5 561.3h0M485.9 568.5h0M486.2 575.9h0M485.9 575.2h0M486.1 569.4h0M485.9 574.0h0M485.9 571.1h0M485.7 568.2h0M486.2 568.0h0M486.3 564.8h0M485.9 562.8h0M486.5 573.2h0M486.3 566.1h0M485.8 574.9h0M486.2 573.7h0M485.9 560.9h0M486.0 570.0h0M485.9 561.3h0M486.2 574.5h0M485.8 563.5h0M486.4 569.3h0M485.8 561.4h0M486.1 563.9h0M486.5 565.8h0M486.3 577.1h0M485.8 568.3h0M486.4 571.5h0M486.0 565.1h0M486.3 561.9h0M485.7 563.5h0M486.3 564.6h0M486.3 572.0h0M486.0 571.0h0M486.2 571.7h0M486.1 559.7h0M486.0 578.0h0M486.1 577.9h0M486.6 566.1h0M487.3 569.5h0M486.5 574.4h0M487.2 565.8h0M486.6 562.0h0M487.2 557.6h0M486.8 561.5h0M487.0 563.3h0M487.4 565.3h0M487.4 573.3h0M487.2 564.4h0M487.4 573.9h0M486.8 567.3h0M487.0 562.0h0M486.6 561.0h0M487.5 567.4h0M486.9 562.8h0M486.6 565.4h0M487.3 573.8h0M486.6 569.2h0M486.9 562.4h0M487.0 570.3h0M486.8 559.8h0M487.4 564.0h0M487.4 560.9h0M486.6 570.0h0M486.9 569.3h0M487.4 561.2h0M486.5 575.3h0M487.0 570.9h0M487.4 562.5h0M486.8 576.0h0M487.5 562.7h0M487.4 577.0h0M487.1 562.3h0M487.1 563.1h0M486.9 568.1h0M486.9 567.7h0M487.5 577.7h0M487.3 559.9h0M487.2 562.2h0M486.8 567.4h0M487.5 578.2h0M486.9 573.4h0M487.2 568.3h0M487.0 563.3h0M487.5 558.4h0M487.2 569.2h0M486.8 574.0h0M487.1 563.4h0M486.8 577.0h0M487.1 568.8h0M487.1 568.0h0M487.5 575.5h0M486.6 557.0h0M486.7 561.5h0M486.7 564.3h0M486.9 562.3h0M487.5 560.6h0M487.0 571.0h0M487.0 577.5h0M486.6 569.5h0M487.1 566.9h0M487.0 579.1h0M486.5 585.1h0M487.3 584.0h0M488.1 573.6h0M487.7 563.4h0M488.2 565.5h0M489.5 572.1h0M489.5 561.7h0M488.0 565.7h0M488.7 566.3h0M488.5 557.1h0M487.6 572.6h0M489.0 563.6h0M489.4 559.8h0M489.0 565.8h0M488.8 565.8h0M488.3 566.5h0M489.5 564.2h0M488.1 569.0h0M487.9 572.0h0M488.6 556.8h0M488.8 576.2h0M488.3 567.3h0M487.6 567.3h0M488.5 567.2h0M489.2 576.0h0M489.0 572.8h0M487.8 568.4h0M488.3 572.3h0M489.5 556.8h0M487.9 568.2h0M488.4 572.6h0M489.0 574.3h0M489.4 563.0h0M488.1 571.5h0M489.2 567.0h0M488.3 559.0h0M488.7 567.9h0M488.6 567.0h0M489.5 570.3h0M488.6 569.0h0M487.8 572.1h0M489.1 571.7h0M488.9 560.4h0M488.8 567.3h0M489.1 559.6h0M487.9 559.2h0M488.0 564.1h0M489.1 574.7h0M488.7 575.0h0M489.1 565.6h0M489.5 562.8h0M489.2 572.2h0M489.4 575.1h0M489.4 575.7h0M488.9 561.8h0M489.0 567.1h0M488.7 570.9h0M489.1 557.5h0M489.0 577.0h0M489.1 574.3h0M489.3 572.6h0M489.4 568.0h0M488.3 566.2h0M488.8 576.8h0M489.0 576.6h0M488.2 570.2h0M489.4 568.7h0M489.1 574.1h0M488.5 568.0h0M489.5 560.2h0M488.0 556.9h0M488.2 576.6h0M489.4 577.9h0M487.6 581.5h0M489.3 577.6h0M490.3 560.0h0M489.9 561.2h0M489.9 561.0h0M491.1 572.3h0M489.7 564.1h0M490.4 566.2h0M490.9 572.1h0M490.0 563.6h0M490.7 567.1h0M491.1 565.6h0M490.7 578.1h0M490.2 560.7h0M490.5 578.6h0M490.5 572.4h0M490.9 569.9h0M490.5 559.3h0M490.8 560.9h0M490.8 561.6h0M490.9 563.0h0M490.9 566.6h0M489.9 564.9h0M491.0 569.7h0M489.9 574.2h0M490.7 559.7h0M489.8 566.9h0M490.6 579.0h0M490.1 560.2h0M489.8 556.5h0M490.6 573.3h0M489.8 568.8h0M489.8 572.9h0M491.0 560.7h0M491.1 569.1h0M490.9 573.6h0M490.0 560.8h0M491.1 560.5h0M490.6 577.0h0M490.5 574.3h0M489.9 561.2h0M490.8 563.1h0M489.8 570.4h0M490.8 567.3h0M490.7 566.0h0M489.8 577.8h0M490.2 579.0h0M490.6 563.2h0M489.8 565.5h0M490.1 579.4h0M490.7 581.8h0M490.9 572.8h0M490.0 580.0h0M490.9 580.7h0M489.9 560.8h0M489.6 577.6h0M490.7 568.7h0M489.6 564.9h0M490.3 558.1h0M489.9 574.0h0M490.0 580.0h0M491.1 570.5h0M489.8 577.2h0M489.5 571.7h0M490.9 580.6h0M490.8 567.0h0M490.9 578.7h0M490.5 573.3h0M490.2 569.5h0M490.9 559.6h0M490.3 578.0h0M489.7 569.9h0M490.7 557.3h0M490.2 565.2h0M490.5 571.0h0M489.7 565.4h0M489.6 571.3h0M489.8 574.4h0M490.4 581.8h0M490.1 561.8h0M491.1 559.7h0M489.8 573.3h0M490.2 565.8h0M491.1 575.2h0M490.8 569.5h0M490.8 559.3h0M490.3 573.1h0M490.8 568.2h0M491.0 559.8h0M490.9 575.6h0M490.6 574.6h0M490.8 576.0h0M490.8 574.3h0M489.8 577.7h0M491.1 561.6h0M490.8 572.7h0M490.2 574.3h0M490.8 577.7h0M490.6 572.7h0M490.7 575.3h0M490.0 564.3h0M490.7 567.1h0M490.8 555.8h0M490.6 561.1h0M490.0 560.8h0M490.4 566.2h0M491.0 562.8h0M490.4 565.0h0M489.8 556.5h0M489.9 568.2h0M491.1 579.4h0M491.1 564.9h0M490.8 575.5h0M490.2 564.6h0M489.7 573.0h0M489.6 577.6h0M490.7 559.6h0M491.1 580.5h0M489.7 557.7h0M490.2 563.2h0M490.6 570.2h0M490.5 576.1h0M491.1 582.0h0M489.8 587.6h0M490.3 584.6h0M490.7 583.8h0M492.0 561.5h0M492.4 570.0h0M492.2 558.5h0M491.4 565.3h0M492.1 565.3h0M492.0 572.3h0M491.7 560.7h0M491.9 568.4h0M492.0 569.4h0M492.4 563.5h0M491.6 568.0h0M491.8 562.9h0M491.4 557.9h0M492.1 570.4h0M492.0 567.5h0M492.1 566.3h0M491.9 560.8h0M492.8 566.9h0M492.7 566.3h0M492.7 571.7h0M491.4 567.0h0M492.1 565.4h0M492.3 572.6h0M491.6 569.6h0M492.4 564.1h0M491.6 565.2h0M492.2 555.9h0M492.2 559.1h0M492.4 569.9h0M491.5 564.7h0M491.6 570.9h0M492.5 559.7h0M491.6 567.6h0M491.8 565.4h0M492.4 563.3h0M491.8 562.7h0M492.1 556.4h0M491.2 560.5h0M492.6 560.2h0M491.8 564.2h0M491.8 570.4h0M491.3 564.3h0M492.0 565.6h0M492.6 558.1h0M491.3 565.8h0M492.4 557.0h0M491.9 570.6h0M492.1 562.2h0M491.9 562.8h0M491.3 568.7h0M491.4 561.3h0M491.2 572.5h0M491.6 570.6h0M492.7 571.1h0M491.5 567.1h0M492.3 570.8h0M492.6 559.8h0M491.2 556.4h0M491.9 567.4h0M492.1 558.3h0M492.3 560.6h0M492.2 564.5h0M492.8 561.1h0M491.7 556.1h0M492.1 571.9h0M492.1 565.8h0M492.7 571.9h0M491.9 561.8h0M491.5 559.9h0M492.6 565.9h0M491.2 561.4h0M491.7 561.4h0M492.8 565.8h0M492.4 572.4h0M491.4 556.0h0M492.6 562.0h0M491.7 558.5h0M491.9 565.2h0M491.2 569.1h0M492.6 567.2h0M491.5 573.2h0M491.7 574.9h0M492.3 577.3h0M491.4 574.0h0M492.5 573.2h0M493.2 561.8h0M493.8 562.2h0M493.5 559.8h0M493.0 572.9h0M493.4 569.3h0M493.6 563.8h0M493.7 558.7h0M492.9 568.9h0M493.9 570.0h0M493.8 568.2h0M493.7 559.3h0M493.3 572.8h0M493.7 564.9h0M493.0 571.4h0M493.6 561.6h0M493.4 563.7h0M493.7 566.6h0M492.9 571.6h0M493.3 571.2h0M493.7 561.5h0M493.0 557.4h0M493.1 564.0h0M493.6 571.6h0M493.7 562.0h0M493.8 568.6h0M493.7 564.5h0M493.5 569.5h0M493.5 570.1h0M493.1 567.6h0M493.5 558.1h0M493.8 573.6h0M493.6 577.0h0M495.2 573.3h0M495.3 561.2h0M494.0 574.1h0M495.1 571.8h0M494.5 560.5h0M494.9 565.5h0M494.4 558.1h0M493.9 568.5h0M495.2 561.3h0M494.6 571.3h0M493.9 572.7h0M494.0 567.4h0M493.9 566.5h0M495.1 565.2h0M494.3 564.8h0M494.6 566.4h0M494.3 572.9h0M495.3 561.8h0M494.9 561.6h0M494.9 564.4h0M494.4 559.9h0M494.4 573.2h0M495.1 563.9h0M495.3 567.4h0M495.4 568.3h0M495.1 560.7h0M495.3 571.0h0M494.7 562.3h0M494.8 559.3h0M494.2 570.5h0M495.3 561.1h0M494.9 559.5h0M494.9 562.2h0M495.1 570.8h0M495.3 565.3h0M495.1 563.8h0M495.2 560.2h0M494.0 568.1h0M494.6 561.1h0M494.9 561.0h0M495.1 564.8h0M495.1 557.5h0M494.2 557.9h0M495.2 556.4h0M494.6 564.0h0M495.3 558.6h0M494.8 574.7h0M495.1 562.0h0M494.3 572.4h0M495.3 568.8h0M494.6 576.4h0M494.9 576.7h0M495.9 561.2h0M495.7 558.3h0M496.6 569.6h0M496.2 577.7h0M496.2 573.8h0M495.7 571.5h0M496.6 563.2h0M496.2 563.9h0M496.4 570.4h0M496.1 581.0h0M495.7 571.6h0M496.2 577.7h0M496.4 578.0h0M496.5 556.6h0M495.5 578.6h0M496.4 566.3h0M496.2 570.5h0M496.5 564.4h0M496.4 566.7h0M496.3 559.6h0M495.9 576.7h0M496.3 570.6h0M496.5 562.0h0M495.7 565.2h0M496.2 563.3h0M496.1 574.5h0M495.7 573.8h0M496.1 575.8h0M495.4 567.4h0M496.1 571.8h0M496.2 564.4h0M495.5 560.8h0M495.6 578.7h0M495.7 580.5h0M496.5 568.3h0M495.9 568.7h0M495.5 564.1h0M495.7 564.9h0M496.1 570.8h0M496.3 576.5h0M495.4 565.9h0M496.3 562.8h0M496.3 580.2h0M495.7 565.3h0M496.1 565.8h0M496.4 580.9h0M496.2 575.0h0M495.6 577.4h0M496.4 576.0h0M495.6 576.8h0M496.0 563.7h0M496.0 579.4h0M496.2 569.2h0M495.9 559.7h0M495.9 579.6h0M496.0 564.4h0M495.6 557.5h0M495.6 578.4h0M496.0 567.5h0M495.7 567.2h0M496.4 576.2h0M496.4 580.3h0M496.0 568.4h0M495.5 557.7h0M496.0 561.3h0M496.1 573.2h0M496.5 572.1h0M496.2 564.5h0M496.4 560.6h0M495.6 566.4h0M495.5 573.7h0M496.0 574.6h0M495.8 564.3h0M495.7 565.6h0M496.4 562.4h0M496.1 575.0h0M496.0 577.9h0M496.3 560.4h0M495.5 574.9h0M496.0 562.1h0M496.2 556.8h0M496.1 576.4h0M496.4 571.0h0M496.5 558.0h0M496.0 569.1h0M496.0 568.5h0M495.8 563.1h0M496.2 568.2h0M495.8 568.9h0M495.6 581.9h0M496.3 582.4h0M495.4 586.5h0M497.1 573.2h0M496.9 581.6h0M497.0 576.8h0M496.9 569.2h0M497.1 579.5h0M497.3 578.8h0M496.7 585.0h0M497.1 565.4h0M497.6 564.3h0M497.7 581.5h0M497.4 563.7h0M497.7 579.4h0M497.3 577.1h0M497.2 578.8h0M496.7 568.1h0M497.0 563.7h0M496.8 572.1h0M497.0 566.7h0M497.0 561.3h0M497.4 571.5h0M497.6 565.3h0M496.9 576.2h0M497.3 574.3h0M496.7 567.6h0M497.7 576.2h0M497.8 582.4h0M496.8 564.1h0M496.9 557.6h0M497.5 582.0h0M497.4 576.5h0M496.8 559.7h0M497.1 560.0h0M496.9 579.7h0M497.4 566.0h0M497.7 564.8h0M497.1 581.7h0M496.8 559.6h0M496.7 577.8h0M497.4 564.2h0M497.6 569.1h0M496.7 564.7h0M497.6 572.5h0M497.7 577.6h0M497.1 568.2h0M497.1 576.1h0M496.7 574.2h0M496.7 584.1h0M497.1 567.7h0M497.7 566.9h0M497.2 575.4h0M496.8 581.4h0M497.1 572.3h0M497.7 583.2h0M496.7 585.1h0M497.0 577.9h0M496.7 584.6h0M497.4 557.0h0M497.1 584.5h0M497.0 582.4h0M497.7 584.0h0M497.4 579.3h0M496.7 558.1h0M497.3 586.8h0M497.1 588.6h0M499.2 562.7h0M498.8 556.5h0M499.5 570.7h0M498.6 567.0h0M499.2 561.7h0M498.5 566.0h0M498.1 576.4h0M498.3 566.7h0M499.6 565.9h0M498.3 556.3h0M499.3 556.0h0M498.9 566.1h0M498.7 569.0h0M499.6 563.9h0M499.3 575.3h0M498.7 563.1h0M499.4 565.3h0M498.5 557.6h0M498.8 555.9h0M498.6 574.1h0M498.2 558.2h0M499.0 573.0h0M499.6 572.7h0M497.9 576.6h0M499.5 569.4h0M498.2 566.4h0M498.8 560.2h0M499.2 557.4h0M498.9 562.1h0M498.9 576.8h0M499.5 576.3h0M498.5 569.2h0M499.0 576.6h0M498.9 560.5h0M498.6 566.1h0M499.2 565.2h0M498.4 561.8h0M499.2 559.5h0M498.9 562.2h0M498.0 563.0h0M497.8 573.1h0M499.2 560.7h0M498.3 557.0h0M498.9 566.6h0M499.3 567.5h0M498.1 562.2h0M497.9 574.6h0M498.8 575.5h0M498.4 567.5h0M498.6 572.2h0M499.1 562.8h0M497.9 559.0h0M498.6 570.6h0M498.1 557.5h0M497.8 566.3h0M498.4 562.1h0M499.0 556.1h0M499.3 563.3h0M498.8 556.1h0M498.0 562.7h0M498.9 568.3h0M498.5 570.7h0M497.9 574.3h0M498.0 564.9h0M499.4 582.8h0M498.0 577.4h0M498.1 581.4h0M499.8 560.0h0M500.1 566.4h0M499.9 556.4h0M500.0 572.1h0M500.1 563.4h0M500.2 565.0h0M499.7 572.3h0M500.3 564.7h0M499.9 573.3h0M500.2 571.7h0M500.6 566.5h0M500.0 559.8h0M499.9 570.9h0M500.4 565.6h0M500.4 558.9h0M500.0 557.2h0M500.0 563.0h0M500.1 562.3h0M500.5 570.5h0M499.8 564.9h0M499.6 559.0h0M499.8 563.3h0M499.6 556.5h0M500.4 571.4h0M499.7 566.4h0M500.5 565.3h0M499.8 557.6h0M500.5 574.8h0M500.8 563.7h0M501.4 560.2h0M501.3 568.8h0M501.2 562.5h0M501.6 577.6h0M501.1 563.1h0M501.4 565.9h0M500.7 581.0h0M500.8 569.4h0M501.0 572.6h0M501.4 567.4h0M501.6 569.3h0M501.7 580.1h0M501.4 567.8h0M500.9 570.9h0M501.6 570.7h0M501.4 562.5h0M501.3 573.1h0M500.8 573.9h0M501.6 582.6h0M501.4 571.4h0M500.7 567.9h0M500.8 563.6h0M501.0 570.0h0M500.7 581.0h0M500.9 567.4h0M501.4 571.5h0M501.3 579.6h0M501.7 556.8h0M501.0 556.1h0M501.7 578.5h0M501.3 580.3h0M500.7 582.8h0M501.6 567.9h0M500.6 575.8h0M501.2 562.8h0M500.7 569.2h0M500.8 575.5h0M501.3 567.6h0M501.2 568.7h0M501.8 564.2h0M501.8 566.8h0M500.8 580.2h0M501.6 560.9h0M501.4 572.9h0M501.7 575.7h0M500.6 569.9h0M501.0 571.4h0M500.7 563.8h0M501.5 557.2h0M501.0 574.6h0M501.9 577.6h0M501.8 571.5h0M501.0 565.5h0M500.7 581.1h0M501.4 565.0h0M501.0 576.4h0M501.5 571.8h0M501.8 572.2h0M501.4 579.7h0M501.0 567.0h0M500.7 576.2h0M501.6 561.6h0M500.8 561.5h0M501.3 582.2h0M500.9 580.0h0M500.6 564.6h0M501.3 575.7h0M500.6 581.0h0M500.9 562.2h0M501.8 581.5h0M501.0 561.9h0M501.6 564.4h0M501.0 568.9h0M501.4 564.4h0M501.7 576.1h0M501.5 576.9h0M501.6 565.7h0M501.0 581.2h0M500.9 559.4h0M500.6 558.5h0M501.4 565.6h0M501.2 577.4h0M500.9 557.8h0M501.2 571.8h0M501.7 558.9h0M501.6 570.7h0M501.1 577.9h0M501.4 575.8h0M501.9 583.1h0M501.5 583.0h0M501.3 563.8h0M501.2 556.9h0M500.6 583.5h0M501.8 566.5h0M500.9 574.2h0M501.0 564.4h0M501.7 557.6h0M500.9 572.1h0M500.6 581.4h0M500.7 575.7h0M501.1 557.0h0M501.1 582.6h0M501.5 578.7h0M501.8 559.2h0M500.9 571.9h0M501.6 562.8h0M501.4 576.0h0M501.3 583.5h0M501.6 556.9h0M501.0 582.0h0M501.0 565.5h0M500.8 581.4h0M500.7 578.5h0M501.7 583.9h0M500.6 584.5h0M500.8 584.2h0M501.2 585.1h0M502.4 561.9h0M502.5 557.8h0M502.2 557.3h0M502.2 571.5h0M501.9 565.3h0M502.1 566.9h0M502.4 566.9h0M502.0 567.9h0M502.3 563.9h0M502.2 556.0h0M502.3 564.2h0M502.4 562.8h0M502.2 569.5h0M503.1 560.3h0M502.8 556.5h0M502.6 561.7h0M502.7 566.0h0M502.4 562.8h0M502.4 570.7h0M502.1 570.2h0M502.2 559.6h0M503.1 563.9h0M502.8 572.0h0M502.8 569.4h0M502.2 563.3h0M502.6 569.2h0M501.9 568.9h0M502.0 564.4h0M502.5 570.0h0M503.0 556.7h0M502.3 570.9h0M502.0 561.4h0M502.2 572.5h0M503.0 579.7h0M502.1 574.2h0M504.0 566.4h0M503.5 564.8h0M503.9 563.5h0M504.0 558.0h0M503.9 564.8h0M503.7 571.2h0M503.9 574.1h0M504.5 564.7h0M503.1 571.3h0M503.1 573.6h0M504.2 568.7h0M504.2 557.3h0M503.8 571.2h0M504.3 569.0h0M504.5 572.2h0M504.5 560.0h0M503.9 561.8h0M503.8 565.0h0M504.5 562.7h0M503.5 572.4h0M503.5 561.0h0M503.9 559.8h0M504.2 564.7h0M504.4 561.7h0M504.2 566.2h0M503.2 572.3h0M504.4 564.9h0M504.0 559.2h0M504.5 572.7h0M503.2 561.6h0M503.4 559.0h0M503.8 574.9h0M503.7 574.7h0M504.2 564.8h0M503.9 560.9h0M504.5 567.7h0M503.9 572.3h0M504.4 565.4h0M504.0 559.8h0M503.3 573.4h0M504.0 563.8h0M503.4 569.3h0M503.8 572.2h0M504.4 567.7h0M503.1 568.9h0M504.1 556.1h0M504.3 570.8h0M503.7 571.0h0M503.1 563.4h0M504.4 571.2h0M504.1 561.3h0M504.4 564.5h0M503.1 576.0h0M504.2 562.7h0M503.8 565.4h0M504.1 573.3h0M504.4 574.7h0M503.2 574.2h0M504.4 576.3h0M503.5 569.5h0M504.4 565.1h0M503.9 564.0h0M503.3 563.0h0M504.1 574.3h0M504.3 561.3h0M503.2 570.9h0M504.4 574.4h0M503.8 577.1h0M504.0 577.0h0M503.9 577.3h0M506.1 570.4h0M505.3 561.7h0M505.3 563.9h0M505.3 565.5h0M504.7 557.0h0M505.0 569.2h0M505.2 571.7h0M504.6 575.6h0M505.5 571.3h0M504.7 562.8h0M505.3 567.3h0M505.5 568.7h0M506.1 570.1h0M505.8 565.6h0M505.5 574.6h0M505.3 570.1h0M505.2 558.5h0M504.8 562.2h0M505.8 565.3h0M505.3 573.3h0M505.1 570.6h0M506.0 562.9h0M504.7 561.9h0M505.0 574.3h0M505.5 569.8h0M505.7 560.5h0M505.9 570.9h0M504.7 571.8h0M506.1 571.9h0M504.8 561.6h0M506.1 562.9h0M504.7 569.5h0M506.1 571.5h0M505.1 560.3h0M504.9 572.8h0M505.7 568.9h0M504.9 566.6h0M505.9 571.3h0M505.2 569.8h0M506.1 560.0h0M504.7 563.2h0M505.1 570.8h0M506.2 568.8h0M505.9 562.5h0M506.0 572.7h0M505.1 571.5h0M505.0 564.6h0M506.0 569.9h0M505.9 561.9h0M505.1 559.8h0M505.2 556.6h0M505.1 571.8h0M505.1 566.1h0M505.5 560.4h0M505.6 563.6h0M504.9 563.3h0M505.1 575.8h0M506.1 557.9h0M505.5 569.4h0M505.7 563.6h0M505.4 567.5h0M504.7 571.7h0M504.6 563.4h0M504.7 575.4h0M505.2 565.3h0M504.9 557.1h0M505.2 565.0h0M505.3 566.7h0M505.7 572.2h0M505.0 558.7h0M505.6 563.7h0M504.6 567.5h0M505.9 561.0h0M505.8 575.3h0M504.8 558.9h0M504.8 572.9h0M505.3 556.9h0M506.2 573.4h0M506.2 559.9h0M505.9 566.3h0M505.9 564.6h0M505.9 572.8h0M504.9 564.3h0M505.5 571.1h0M504.8 567.4h0M504.6 557.6h0M505.6 569.9h0M506.1 573.6h0M504.9 563.8h0M506.0 578.5h0M505.6 576.3h0M505.8 577.1h0M505.0 579.5h0M504.6 578.9h0M506.3 578.6h0M506.6 578.4h0M507.1 577.3h0M506.3 565.1h0M507.0 571.3h0M506.4 575.7h0M506.6 572.6h0M506.3 567.6h0M506.4 577.1h0M506.7 578.7h0M506.6 560.5h0M506.7 562.5h0M506.3 579.5h0M506.9 565.9h0M506.5 573.3h0M507.2 575.7h0M507.0 564.0h0M506.7 570.7h0M506.3 569.3h0M507.3 560.9h0M506.5 556.6h0M506.9 560.2h0M506.5 566.3h0M507.2 567.4h0M507.1 561.9h0M507.1 578.3h0M507.3 569.3h0M506.8 577.0h0M506.4 557.9h0M506.8 559.9h0M506.7 567.6h0M506.4 557.0h0M506.3 578.3h0M506.7 574.8h0M506.5 562.2h0M506.5 570.8h0M507.3 575.3h0M506.8 562.8h0M506.4 570.1h0M506.5 570.2h0M506.8 558.1h0M506.3 570.8h0M506.3 570.6h0M507.3 561.0h0M506.5 563.3h0M506.9 561.0h0M506.5 571.5h0M506.2 560.7h0M506.7 576.9h0M507.0 576.0h0M507.0 557.8h0M506.5 574.6h0M506.6 566.2h0M506.6 563.3h0M507.0 574.2h0M507.0 572.6h0M507.1 573.7h0M507.2 573.1h0M506.6 572.7h0M507.0 563.6h0M506.9 564.9h0M506.5 574.7h0M506.3 578.4h0M507.3 562.1h0M506.7 567.9h0M506.9 556.6h0M507.2 573.3h0M506.8 560.3h0M506.7 576.2h0M507.3 561.1h0M507.1 556.2h0M506.8 562.8h0M506.3 577.8h0M506.7 570.1h0M506.3 560.4h0M506.6 569.8h0M507.4 574.9h0M507.3 566.2h0M507.0 580.4h0M506.4 583.6h0M506.5 585.5h0M507.7 561.2h0M508.1 582.9h0M508.5 585.1h0M507.7 577.8h0M508.5 580.6h0M507.9 573.0h0M508.1 565.4h0M508.5 578.1h0M507.5 567.0h0M508.0 583.9h0M507.9 563.3h0M507.6 570.6h0M508.4 571.0h0M508.1 575.3h0M507.5 584.7h0M508.5 561.0h0M508.1 581.3h0M507.9 581.2h0M508.0 567.7h0M507.9 580.5h0M508.0 578.9h0M508.5 574.1h0M508.5 561.8h0M508.5 562.8h0M507.6 577.6h0M508.1 556.0h0M508.0 583.6h0M508.2 558.7h0M508.2 561.9h0M507.6 572.4h0M508.4 569.3h0M508.4 569.1h0M508.3 573.2h0M508.4 581.4h0M508.1 568.6h0M508.2 575.7h0M507.5 565.7h0M507.8 559.9h0M508.2 569.2h0M507.8 565.4h0M507.7 584.8h0M508.1 566.8h0M507.9 571.5h0M507.4 574.7h0M508.1 570.3h0M508.0 558.6h0M507.9 571.7h0M507.5 563.2h0M507.7 572.2h0M508.3 575.7h0M507.9 556.7h0M507.9 580.6h0M508.1 570.6h0M508.1 578.3h0M508.1 582.5h0M508.4 566.4h0M508.3 565.4h0M508.3 571.0h0M508.3 583.9h0M507.9 568.3h0M508.2 583.5h0M508.3 580.6h0M508.4 574.3h0M508.4 561.7h0M507.8 573.6h0M508.0 569.4h0M508.1 574.5h0M507.8 560.7h0M508.5 565.8h0M507.9 559.7h0M507.7 573.3h0M507.6 580.1h0M508.5 572.2h0M507.5 559.2h0M508.2 573.4h0M508.3 581.9h0M507.4 567.6h0M508.1 574.5h0M507.5 565.1h0M507.5 573.2h0M507.4 564.4h0M508.1 582.9h0M508.0 566.3h0M508.2 582.9h0M508.2 583.4h0M508.5 564.6h0M508.1 569.0h0M508.4 562.7h0M508.3 575.9h0M508.2 564.1h0M507.5 566.9h0M508.0 570.4h0M508.2 563.8h0M507.6 570.3h0M507.8 581.9h0M507.4 558.6h0M507.9 561.5h0M508.1 588.7h0M507.7 588.6h0M508.3 586.7h0M509.1 570.7h0M508.8 572.0h0M509.3 573.8h0M508.5 574.8h0M509.2 562.2h0M508.6 576.1h0M509.5 566.9h0M508.6 569.6h0M510.0 562.6h0M508.8 556.7h0M509.7 559.6h0M509.6 572.0h0M509.3 572.7h0M508.9 574.7h0M508.7 577.1h0M509.5 575.3h0M510.1 569.3h0M508.6 561.7h0M509.8 556.6h0M509.2 559.7h0M508.6 573.8h0M509.1 555.9h0M509.7 572.9h0M509.1 570.2h0M509.4 569.9h0M508.7 561.6h0M509.8 564.7h0M509.9 572.0h0M509.9 569.9h0M508.8 557.7h0M508.8 574.6h0M508.6 576.6h0M509.3 570.0h0M509.8 575.4h0M510.1 562.5h0M509.2 567.9h0M510.1 570.9h0M508.6 577.2h0M508.7 567.8h0M509.4 576.6h0M510.2 564.8h0M509.3 567.5h0M509.3 571.3h0M510.0 570.8h0M509.9 570.3h0M508.7 577.0h0M509.1 563.6h0M509.9 568.2h0M510.2 572.8h0M510.0 570.3h0M509.7 573.0h0M508.9 575.1h0M508.7 564.4h0M509.4 568.2h0M509.0 563.0h0M510.1 567.0h0M509.6 559.3h0M508.6 562.0h0M508.8 558.0h0M510.1 574.3h0M508.7 563.4h0M509.0 576.2h0M509.2 576.6h0M509.0 583.0h0M509.7 578.2h0M510.2 580.4h0M511.0 566.9h0M510.6 565.2h0M510.4 569.3h0M510.3 564.2h0M510.6 568.7h0M511.0 563.8h0M510.3 563.7h0M511.0 576.1h0M510.8 566.4h0M510.5 560.2h0M510.9 573.1h0M510.8 568.6h0M510.4 566.7h0M511.0 568.9h0M511.0 574.4h0M511.0 568.9h0M510.7 570.7h0M510.9 572.8h0M510.9 561.6h0M511.0 570.2h0M510.8 575.1h0M510.6 566.2h0M510.4 575.7h0M510.8 565.0h0M511.0 577.6h0M510.7 566.7h0M510.4 572.6h0M510.8 565.1h0M510.8 565.8h0M510.6 563.0h0M510.4 562.5h0M510.4 572.5h0M510.8 577.3h0M510.5 568.6h0M510.9 565.8h0M510.3 572.2h0M510.7 578.3h0M510.6 565.3h0M510.4 569.8h0M510.5 574.6h0M510.5 570.6h0M510.6 563.5h0M510.7 577.7h0M510.6 556.4h0M511.0 561.3h0M510.8 575.3h0M510.6 566.3h0M510.5 556.6h0M511.0 570.1h0M510.8 577.4h0M510.3 576.3h0M510.6 577.5h0M510.7 565.9h0M510.5 564.3h0M510.8 561.3h0M510.5 557.3h0M510.2 568.3h0M510.2 567.1h0M510.4 571.0h0M510.3 561.3h0M510.2 563.8h0M510.4 564.5h0M511.0 580.2h0M511.0 581.6h0M511.3 563.2h0M511.8 575.8h0M511.5 556.8h0M511.1 571.5h0M511.5 562.2h0M511.2 560.3h0M511.3 570.5h0M511.6 571.9h0M511.5 562.9h0M511.6 560.3h0M511.5 570.4h0M511.1 576.6h0M511.7 561.9h0M511.7 572.9h0M511.4 565.6h0M511.6 575.1h0M511.1 567.3h0M511.3 576.8h0M511.5 569.3h0M511.8 564.7h0M511.6 574.3h0M511.2 566.6h0M511.6 573.9h0M511.5 565.0h0M511.8 570.2h0M511.5 559.4h0M511.7 577.3h0M511.8 566.5h0M511.9 577.5h0M513.0 566.6h0M512.0 570.1h0M512.8 564.8h0M512.2 569.9h0M512.5 561.9h0M512.3 563.3h0M512.5 564.2h0M512.1 563.1h0M512.0 572.1h0M511.9 578.4h0M512.4 573.9h0M513.0 570.3h0M512.4 570.6h0M512.6 578.3h0M512.4 580.1h0M512.5 561.0h0M512.8 579.8h0M512.1 569.8h0M512.1 558.4h0M513.2 570.0h0M512.2 574.9h0M513.0 564.0h0M513.2 575.2h0M512.2 580.1h0M512.7 565.4h0M512.0 566.6h0M512.1 572.7h0M512.3 579.9h0M512.1 577.2h0M512.0 559.0h0M512.3 575.8h0M512.7 564.9h0M512.3 577.8h0M513.1 574.1h0M512.1 575.4h0M513.1 569.4h0M512.1 559.4h0M512.8 557.6h0M512.9 571.6h0M511.9 563.0h0M512.2 571.1h0M512.6 565.3h0M513.1 562.0h0M512.1 560.3h0M512.1 572.6h0M511.9 579.8h0M513.2 560.6h0M512.5 576.9h0M512.6 558.6h0M513.0 561.0h0M512.4 564.1h0M512.6 578.5h0M512.9 572.2h0M513.1 572.4h0M512.2 559.5h0M513.0 572.3h0M512.4 573.7h0M512.3 560.2h0M512.3 559.9h0M512.5 563.4h0M512.7 557.5h0M513.1 572.6h0M512.0 556.9h0M512.9 565.1h0M512.1 570.6h0M512.1 577.0h0M512.8 573.4h0M513.2 579.3h0M513.0 574.5h0M512.3 571.0h0M512.1 561.3h0M512.0 574.3h0M512.9 568.7h0M512.5 567.8h0M512.6 576.0h0M513.0 563.2h0M512.9 574.7h0M512.8 559.6h0M512.3 574.4h0M512.6 566.8h0M512.1 579.2h0M512.1 570.3h0M512.3 558.6h0M512.7 566.3h0M512.1 577.4h0M512.8 566.7h0M512.1 580.2h0M512.8 578.9h0M512.5 562.1h0M512.0 577.1h0M513.2 577.9h0M513.0 570.7h0M512.3 580.6h0M512.0 581.4h0M513.1 582.2h0M513.9 559.9h0M513.6 574.4h0M513.4 564.7h0M513.6 567.6h0M514.0 567.4h0M513.9 563.0h0M513.3 562.2h0M513.6 562.6h0M513.5 565.1h0M513.9 568.4h0M513.3 561.4h0M513.3 565.5h0M513.8 566.6h0M513.6 565.5h0M513.7 558.3h0M513.2 560.5h0M513.6 558.8h0M513.7 570.0h0M513.9 572.5h0M513.9 566.8h0M513.8 567.8h0M514.0 567.9h0M514.0 575.0h0M513.5 561.8h0M513.3 561.6h0M514.0 562.8h0M513.6 565.0h0M514.0 572.8h0M513.4 561.4h0M514.0 563.4h0M513.5 564.2h0M513.6 561.0h0M513.6 564.3h0M513.3 560.4h0M513.7 557.0h0M513.4 557.0h0M513.3 567.0h0M513.7 559.3h0M513.8 566.6h0M513.8 568.2h0M513.3 566.5h0M513.8 568.6h0M513.6 573.5h0M513.3 575.1h0M513.7 571.0h0M513.8 570.2h0M513.4 576.1h0M513.6 580.4h0M514.3 561.9h0M514.8 570.2h0M514.3 564.7h0M514.3 573.5h0M515.1 575.9h0M514.4 565.2h0M514.9 564.2h0M514.3 557.6h0M514.6 565.2h0M514.5 557.6h0M514.5 575.3h0M515.0 562.1h0M514.6 566.7h0M514.8 572.4h0M514.3 564.5h0M514.8 560.0h0M514.3 573.6h0M514.6 564.2h0M514.7 560.1h0M514.9 561.0h0M514.7 555.9h0M515.0 570.0h0M514.4 575.5h0M514.5 565.8h0M514.4 571.7h0M515.0 576.7h0M514.6 565.2h0M514.7 574.1h0M514.8 557.9h0M514.6 572.8h0M514.3 560.0h0M514.7 571.5h0M514.1 559.7h0M514.4 557.3h0M514.7 577.2h0M514.7 564.4h0M514.2 568.1h0M514.6 558.8h0M514.7 557.8h0M514.5 562.3h0M514.6 557.4h0M514.3 561.3h0M514.7 563.3h0M514.7 577.3h0M514.4 568.8h0M514.7 574.0h0M514.8 563.0h0M514.2 559.9h0M515.0 572.9h0M514.9 576.3h0M514.4 561.7h0M514.4 574.6h0M514.9 575.3h0M514.6 559.8h0M515.1 571.3h0M514.5 571.3h0M514.2 572.1h0M514.3 577.0h0M514.4 565.4h0M514.8 560.0h0M514.5 579.0h0M515.0 580.0h0M515.1 571.3h0M515.9 562.6h0M515.7 556.3h0M516.0 567.1h0M515.3 564.2h0M516.0 572.5h0M515.8 567.1h0M515.8 571.2h0M515.9 570.8h0M515.7 560.3h0M515.2 564.8h0M515.6 560.7h0M515.5 557.2h0M515.2 569.7h0M515.2 568.1h0M515.7 566.1h0M515.5 557.2h0M515.6 561.6h0M515.1 571.1h0M515.4 559.5h0M515.4 566.4h0M515.6 565.5h0M515.5 575.2h0M515.3 560.5h0M515.8 565.2h0M516.0 567.5h0M515.8 571.4h0M515.4 573.7h0M516.0 572.3h0M515.8 563.3h0M515.2 559.3h0M515.8 571.0h0M515.6 563.2h0M516.0 573.5h0M515.7 559.2h0M515.5 571.7h0M515.5 567.8h0M515.1 562.1h0M515.7 573.0h0M515.2 566.4h0M515.7 564.1h0M516.0 573.9h0M515.9 558.3h0M516.0 560.6h0M515.5 563.8h0M515.1 572.4h0M516.0 572.8h0M515.5 567.4h0M516.0 564.8h0M516.0 571.4h0M515.8 563.7h0M515.2 563.0h0M515.8 569.8h0M515.8 561.7h0M515.9 567.5h0M515.6 577.5h0M515.3 576.9h0M515.2 579.7h0M517.2 569.0h0M516.2 559.7h0M517.7 563.5h0M517.2 556.5h0M516.7 558.6h0M516.8 558.0h0M517.0 555.9h0M517.4 564.5h0M516.2 574.5h0M516.1 565.5h0M516.7 561.5h0M516.6 576.1h0M517.4 560.2h0M517.6 574.4h0M517.0 561.0h0M516.5 561.4h0M517.0 562.8h0M516.4 565.5h0M516.3 561.6h0M517.5 567.0h0M517.3 562.0h0M516.1 556.5h0M516.2 563.4h0M517.0 557.6h0M516.4 567.6h0M516.3 575.3h0M517.6 574.1h0M516.6 568.5h0M517.5 571.0h0M517.3 566.5h0M517.4 560.5h0M517.0 575.7h0M516.5 574.9h0M516.6 562.8h0M516.2 566.1h0M517.6 570.9h0M516.7 567.6h0M517.2 565.8h0M516.5 570.5h0M516.4 558.6h0M516.6 569.6h0M516.8 571.4h0M516.8 562.4h0M517.6 565.0h0M516.2 563.0h0M517.7 573.8h0M516.7 563.4h0M516.9 572.1h0M516.3 563.3h0M517.0 563.5h0M517.2 576.3h0M517.5 559.0h0M517.7 558.2h0M517.5 556.6h0M517.6 572.6h0M517.6 559.1h0M516.9 563.2h0M516.8 566.0h0M517.5 564.3h0M517.4 576.2h0M516.3 575.7h0M516.6 562.9h0M516.2 569.6h0M516.4 557.1h0M517.1 570.1h0M516.8 571.0h0M516.4 562.2h0M516.9 570.8h0M517.5 565.6h0M517.3 557.6h0M517.3 566.2h0M517.4 570.4h0M516.1 566.1h0M516.7 556.5h0M516.5 566.8h0M517.2 558.9h0M517.4 565.5h0M517.4 574.0h0M516.5 574.2h0M516.5 570.1h0M517.4 558.8h0M516.4 570.1h0M517.2 573.9h0M516.8 574.3h0M516.5 563.3h0M517.7 563.8h0M517.6 566.3h0M516.3 560.4h0M517.4 566.9h0M516.2 572.4h0M516.9 573.0h0M517.3 565.4h0M516.8 565.2h0M516.3 557.5h0M517.1 573.9h0M516.1 567.2h0M516.7 558.5h0M516.4 577.2h0M516.5 576.5h0M516.2 580.4h0M516.4 576.7h0M516.7 576.5h0M518.3 571.2h0M519.2 570.0h0M518.4 570.7h0M518.7 564.5h0M518.0 574.6h0M518.0 562.1h0M519.1 556.5h0M518.3 568.6h0M517.8 563.2h0M518.0 569.6h0M518.8 570.9h0M518.1 566.4h0M518.7 558.0h0M517.8 571.0h0M519.1 568.5h0M518.8 568.5h0M519.0 562.1h0M519.1 572.4h0M518.1 575.4h0M519.1 573.2h0M518.3 565.4h0M518.2 568.0h0M517.8 566.6h0M518.3 566.3h0M518.5 561.6h0M518.1 575.5h0M518.2 570.3h0M518.4 571.2h0M519.2 563.2h0M518.9 570.2h0M518.0 565.4h0M518.9 569.6h0M519.1 574.0h0M519.0 568.4h0M518.7 575.5h0M518.3 571.3h0M518.2 569.2h0M518.9 570.9h0M519.1 557.2h0M518.8 572.1h0M519.3 572.9h0M519.1 568.8h0M518.0 565.8h0M518.8 573.4h0M519.3 568.7h0M519.3 559.6h0M518.0 574.1h0M518.7 564.1h0M518.0 569.8h0M518.3 571.8h0M518.7 577.0h0M518.4 576.9h0M520.0 561.9h0M519.9 566.9h0M519.5 565.8h0M519.4 573.2h0M520.1 572.6h0M519.4 568.4h0M519.9 567.5h0M520.1 558.2h0M519.6 564.3h0M519.9 570.9h0M519.6 557.0h0M519.4 561.1h0M519.4 567.4h0M519.5 560.4h0M520.2 558.9h0M520.1 564.7h0M520.1 562.2h0M520.4 558.9h0M519.3 564.8h0M519.5 571.0h0M519.9 559.4h0M520.1 555.9h0M520.2 570.4h0M520.4 562.3h0M519.6 568.4h0M519.5 558.6h0M520.3 571.2h0M519.5 556.0h0M520.3 563.3h0M520.2 570.4h0M520.1 565.4h0M519.7 561.1h0M520.0 568.8h0M519.4 556.6h0M520.3 559.0h0M519.7 569.0h0M519.6 569.5h0M520.3 570.6h0M519.5 571.0h0M519.5 572.4h0M520.2 562.7h0M519.7 573.5h0M519.5 572.0h0M519.5 569.1h0M519.9 567.7h0M519.3 561.3h0M519.7 557.5h0M520.2 568.4h0M519.9 568.6h0M519.5 565.9h0M519.5 577.0h0M519.3 576.7h0M520.8 561.8h0M520.9 564.1h0M520.6 571.4h0M520.6 562.6h0M520.5 569.6h0M520.8 559.0h0M520.9 572.9h0M521.1 555.9h0M520.8 570.9h0M520.7 571.7h0M520.5 566.3h0M520.7 568.3h0M521.0 576.2h0M520.9 573.7h0M520.6 573.7h0M521.1 573.5h0M521.1 574.6h0M520.8 568.3h0M520.8 573.6h0M520.5 565.8h0M520.6 568.8h0M521.2 568.7h0M520.7 576.4h0M521.0 558.8h0M520.6 558.2h0M521.1 564.1h0M521.2 572.9h0M520.9 569.0h0M520.5 558.2h0M521.1 565.9h0M520.9 575.6h0M520.8 574.8h0M520.9 574.2h0M521.1 573.0h0M520.7 560.4h0M520.8 576.3h0M521.1 556.1h0M520.6 560.7h0M520.9 573.6h0M520.6 556.8h0M520.8 578.2h0M520.6 576.5h0M520.5 573.2h0M520.6 571.5h0M520.8 580.5h0M520.5 582.3h0M521.8 571.6h0M521.3 572.4h0M521.7 571.8h0M521.5 571.4h0M522.0 561.9h0M521.2 572.5h0M522.2 555.7h0M521.3 560.8h0M522.0 564.5h0M522.1 569.8h0M522.2 570.1h0M522.1 564.1h0M522.1 565.6h0M521.9 560.4h0M521.7 564.0h0M521.6 576.1h0M521.2 572.9h0M521.5 569.9h0M521.9 565.9h0M521.4 564.8h0M521.2 571.8h0M521.9 570.8h0M521.8 566.4h0M521.8 575.7h0M521.8 574.2h0M521.3 570.4h0M521.9 559.3h0M522.3 564.0h0M521.8 565.7h0M522.0 571.1h0M521.6 560.1h0M521.3 575.2h0M522.1 564.8h0M521.4 577.4h0M521.3 569.4h0M521.2 568.8h0M521.8 568.3h0M521.3 576.4h0M521.9 567.5h0M521.5 573.6h0M522.3 571.9h0M522.3 576.5h0M522.2 580.7h0M522.9 572.5h0M523.0 559.9h0M522.9 565.3h0M523.0 569.7h0M522.3 558.7h0M522.4 569.6h0M522.5 567.3h0M522.9 564.1h0M522.5 562.5h0M522.8 564.9h0M523.0 564.3h0M522.9 567.7h0M523.0 572.6h0M522.6 561.1h0M523.1 560.0h0M523.2 567.4h0M522.5 573.3h0M522.4 568.5h0M522.9 570.8h0M522.8 568.2h0M522.5 560.5h0M522.7 572.1h0M522.8 570.7h0M522.6 568.6h0M523.1 569.9h0M523.0 561.7h0M522.3 571.5h0M522.4 559.8h0M523.0 572.0h0M522.8 562.6h0M522.3 570.3h0M522.9 558.9h0M522.7 562.2h0M522.3 564.2h0M523.0 563.0h0M522.5 569.1h0M522.7 567.4h0M522.5 568.7h0M522.9 562.9h0M523.0 571.4h0M523.0 562.9h0M522.3 561.3h0M522.9 565.5h0M522.5 564.5h0M523.2 562.3h0M522.9 560.1h0M522.9 556.0h0M522.5 562.9h0M522.9 558.8h0M522.3 575.6h0M523.2 578.8h0M524.1 572.7h0M523.6 561.4h0M524.1 570.6h0M524.6 573.9h0M524.5 562.0h0M523.6 572.2h0M523.3 561.9h0M524.4 565.3h0M523.4 562.9h0M524.2 572.3h0M524.7 558.6h0M524.7 560.0h0M524.4 564.1h0M523.9 563.3h0M524.8 565.6h0M524.8 562.7h0M524.1 565.2h0M524.7 575.3h0M523.9 562.7h0M524.0 566.0h0M523.4 575.1h0M523.8 567.2h0M524.0 558.0h0M525.0 566.8h0M524.4 571.7h0M524.6 561.4h0M525.1 575.2h0M524.5 571.3h0M524.3 563.1h0M525.0 557.5h0M523.3 568.0h0M524.0 566.7h0M523.9 557.2h0M525.1 561.9h0M525.2 562.2h0M525.2 574.3h0M525.2 567.3h0M524.2 569.8h0M523.6 565.0h0M524.0 570.3h0M523.9 563.6h0M525.0 568.2h0M523.3 564.7h0M524.7 569.5h0M524.2 561.1h0M523.8 567.6h0M524.0 561.8h0M524.3 559.7h0M524.2 569.5h0M524.8 558.4h0M524.0 573.7h0M524.3 556.6h0M524.1 569.1h0M523.6 556.5h0M524.3 566.6h0M523.7 557.1h0M523.9 562.2h0M525.1 561.3h0M523.7 569.4h0M525.2 559.9h0M524.4 567.2h0M524.0 566.0h0M523.9 572.9h0M524.4 562.6h0M524.0 574.7h0M523.7 561.0h0M524.6 573.5h0M524.9 562.9h0M524.5 572.1h0M523.3 572.3h0M525.1 558.0h0M525.1 574.6h0M523.3 567.7h0M523.8 570.8h0M525.0 563.1h0M524.9 560.1h0M525.1 563.6h0M525.2 559.2h0M524.6 565.8h0M524.2 560.1h0M523.5 572.0h0M524.7 561.4h0M525.1 567.7h0M523.8 571.6h0M524.0 571.3h0M523.4 561.7h0M523.8 558.0h0M525.2 560.5h0M524.1 568.2h0M523.9 563.5h0M525.1 563.2h0M524.2 563.3h0M523.6 573.8h0M525.0 564.0h0M525.1 563.6h0M524.8 565.5h0M523.3 571.6h0M524.4 567.6h0M524.7 557.5h0M523.9 561.5h0M525.1 566.0h0M523.3 573.0h0M523.9 565.6h0M523.3 561.1h0M524.2 559.5h0M523.7 578.4h0M524.6 580.6h0M524.4 576.0h0M523.4 585.9h0M523.7 577.9h0M526.3 565.3h0M526.1 576.6h0M526.7 559.8h0M525.4 573.1h0M525.7 575.0h0M526.2 578.4h0M526.4 575.5h0M525.5 557.7h0M525.8 576.0h0M525.5 581.1h0M525.5 582.6h0M526.2 578.4h0M525.8 566.3h0M525.5 564.7h0M525.4 562.1h0M525.5 561.8h0M525.9 561.1h0M525.5 582.0h0M526.2 576.4h0M526.6 577.3h0M525.9 563.1h0M526.1 570.4h0M525.7 577.7h0M526.3 570.1h0M525.5 557.0h0M526.1 579.9h0M526.5 585.3h0M526.4 563.3h0M526.0 586.0h0M526.3 558.0h0M526.2 578.9h0M525.8 562.6h0M526.7 558.1h0M525.5 574.9h0M526.1 578.5h0M526.1 576.8h0M526.1 583.2h0M526.2 556.5h0M526.1 584.1h0M526.4 570.1h0M526.1 581.1h0M525.5 560.4h0M525.9 570.1h0M525.3 580.4h0M526.7 580.6h0M525.5 558.1h0M526.3 584.7h0M525.5 585.9h0M526.2 573.0h0M526.3 572.6h0M526.7 582.9h0M526.0 564.8h0M526.6 576.7h0M525.4 573.4h0M525.6 570.7h0M526.1 560.7h0M525.4 566.1h0M525.4 580.5h0M525.3 581.0h0M526.8 575.3h0M526.6 561.4h0M526.1 585.8h0M526.6 569.0h0M525.5 584.7h0M526.2 566.7h0M525.9 585.6h0M526.2 583.3h0M525.7 580.9h0M526.0 576.8h0M526.0 579.8h0M525.7 585.2h0M525.9 575.5h0M525.4 569.6h0M525.3 579.3h0M526.7 585.1h0M525.3 560.9h0M526.3 582.4h0M525.7 586.5h0M526.6 588.5h0M527.3 564.6h0M527.4 561.2h0M527.5 571.5h0M527.0 571.0h0M527.2 567.9h0M527.1 567.5h0M527.1 557.7h0M527.2 569.8h0M527.1 557.2h0M527.3 563.6h0M526.8 566.7h0M527.0 567.9h0M527.0 568.0h0M527.3 562.5h0M527.2 567.2h0M526.8 566.8h0M527.4 566.4h0M527.0 563.6h0M527.0 561.8h0M526.8 572.4h0M527.1 572.7h0M527.1 562.2h0M527.4 562.1h0M527.2 563.9h0M527.0 567.8h0M526.9 565.6h0M527.2 580.0h0M528.0 565.1h0M527.6 558.6h0M528.0 572.3h0M528.0 562.1h0M527.9 560.8h0M527.7 565.8h0M528.4 556.9h0M527.8 564.1h0M528.4 563.2h0M528.3 560.7h0M527.9 562.2h0M528.0 557.4h0M527.9 569.6h0M528.1 569.8h0M528.3 570.1h0M528.4 571.1h0M528.1 568.4h0M527.9 561.2h0M527.8 567.1h0M528.1 571.2h0M528.2 566.0h0M528.3 559.8h0M528.3 569.3h0M527.7 572.3h0M528.3 560.0h0M528.2 569.0h0M527.7 566.4h0M528.1 565.9h0M528.0 567.4h0M527.9 568.0h0M527.7 567.2h0M528.3 570.2h0M527.7 563.4h0M527.9 566.4h0M528.4 570.0h0M528.0 560.2h0M528.4 570.5h0M528.3 559.9h0M528.3 572.0h0M528.0 562.8h0M528.4 570.7h0M528.5 568.3h0M528.4 558.3h0M528.2 567.4h0M528.1 567.6h0M527.9 574.1h0M528.1 574.8h0M529.2 563.9h0M528.6 561.3h0M528.9 565.2h0M529.2 576.0h0M528.6 572.6h0M528.7 568.7h0M528.7 561.9h0M528.7 560.3h0M528.9 558.3h0M528.6 571.5h0M529.0 562.7h0M529.1 575.4h0M529.0 574.8h0M528.9 568.8h0M528.6 568.2h0M528.6 569.3h0M528.7 567.8h0M528.6 567.2h0M529.1 562.8h0M528.8 569.1h0M529.1 562.9h0M528.5 557.5h0M529.2 569.5h0M529.1 569.9h0M528.7 570.9h0M529.2 560.2h0M528.9 568.6h0M528.9 557.7h0M529.2 576.1h0M528.6 556.7h0M528.8 561.8h0M528.6 567.8h0M529.1 570.9h0M528.7 573.9h0M528.9 576.2h0M528.8 573.1h0M529.0 567.6h0M528.6 564.9h0M528.9 557.6h0M529.1 576.1h0M528.8 556.5h0M529.2 571.1h0M529.0 577.2h0M528.9 577.1h0M530.3 576.2h0M530.0 567.8h0M529.7 572.5h0M530.3 580.6h0M529.5 562.1h0M529.2 573.2h0M530.2 568.8h0M530.1 582.4h0M529.4 564.0h0M529.7 560.2h0M529.3 581.1h0M529.9 585.5h0M529.8 581.0h0M530.2 580.4h0M529.6 581.0h0M529.3 565.2h0M529.8 566.5h0M530.0 570.5h0M529.8 574.2h0M529.2 570.6h0M529.3 577.2h0M529.3 579.8h0M529.4 571.1h0M530.0 577.8h0M530.3 567.4h0M530.2 560.1h0M529.8 584.8h0M529.6 561.7h0M530.1 557.8h0M530.2 573.7h0M529.9 583.9h0M529.8 579.2h0M529.3 571.8h0M529.8 566.4h0M529.9 557.1h0M529.6 561.3h0M529.5 585.1h0M529.9 560.9h0M530.1 571.0h0M529.8 581.5h0M530.1 580.8h0M530.1 583.7h0M529.3 561.7h0M529.8 579.5h0M530.2 571.8h0M530.0 579.4h0M529.4 583.0h0M529.2 561.9h0M529.3 561.9h0M529.6 578.0h0M530.0 569.1h0M530.1 583.8h0M530.0 561.4h0M530.2 582.1h0M530.2 581.9h0M530.1 571.7h0M529.8 570.3h0M530.1 562.9h0M530.2 577.6h0M529.9 568.9h0M530.0 559.1h0M529.4 560.3h0M529.3 581.8h0M529.3 577.6h0M529.8 560.9h0M529.7 584.3h0M529.5 568.1h0M530.3 581.3h0M529.8 564.7h0M529.8 571.2h0M530.3 584.4h0M529.7 570.2h0M529.5 581.0h0M529.3 556.6h0M529.9 557.6h0M530.2 571.0h0M530.3 582.5h0M529.6 581.4h0M530.1 557.6h0M530.2 567.3h0M530.2 563.3h0M530.3 564.7h0M529.3 579.7h0M529.9 560.9h0M530.0 573.4h0M530.0 581.9h0M530.3 572.0h0M529.3 570.1h0M529.9 577.3h0M530.0 575.1h0M529.6 561.4h0M530.0 557.3h0M529.3 572.1h0M529.9 562.7h0M529.7 568.3h0M529.9 577.5h0M529.8 566.4h0M529.6 571.1h0M529.7 584.7h0M529.9 582.6h0M530.1 586.2h0M529.7 588.8h0M529.9 586.3h0M531.5 572.2h0M531.5 581.8h0M531.5 575.6h0M530.5 567.2h0M530.6 575.9h0M530.8 565.1h0M531.2 579.6h0M531.5 578.8h0M531.5 576.8h0M531.3 585.5h0M530.6 580.9h0M531.4 561.2h0M531.2 581.3h0M530.6 567.4h0M530.6 564.0h0M530.8 576.8h0M530.8 583.8h0M531.5 580.2h0M531.2 562.6h0M530.8 578.6h0M530.5 561.5h0M531.4 566.4h0M530.7 559.2h0M530.9 564.6h0M531.2 580.3h0M531.4 556.6h0M530.7 565.7h0M531.0 576.9h0M530.6 573.6h0M531.5 564.9h0M530.5 582.2h0M530.9 578.0h0M531.0 571.4h0M531.2 577.9h0M530.7 564.8h0M531.1 580.0h0M531.3 577.7h0M530.8 566.8h0M531.1 573.5h0M531.5 564.2h0M531.3 578.5h0M530.8 560.3h0M531.1 565.0h0M530.5 583.2h0M530.7 580.2h0M530.5 578.4h0M530.9 564.1h0M531.5 562.9h0M530.7 574.9h0M530.6 572.8h0M531.1 582.2h0M531.1 567.4h0M531.2 573.0h0M531.3 571.3h0M531.0 576.5h0M531.4 568.0h0M531.0 573.3h0M531.2 563.8h0M530.9 584.5h0M530.7 572.9h0M530.7 589.8h0M530.9 587.6h0M531.9 563.4h0M532.2 571.9h0M532.3 574.9h0M532.1 569.8h0M531.9 563.7h0M531.7 561.5h0M532.2 565.6h0M531.7 560.0h0M532.2 577.3h0M532.0 567.7h0M531.7 562.5h0M532.2 580.9h0M532.1 556.8h0M531.9 570.0h0M532.3 567.0h0M531.7 565.3h0M532.3 568.8h0M531.9 573.1h0M531.8 560.0h0M532.1 568.2h0M531.7 579.2h0M532.3 569.4h0M532.2 575.2h0M532.1 561.6h0M531.9 574.3h0M532.4 576.7h0M532.0 576.7h0M531.8 574.9h0M532.0 580.5h0M531.6 573.1h0M531.8 568.5h0M532.1 571.9h0M532.3 566.3h0M531.8 571.0h0M531.8 572.3h0M532.0 566.7h0M531.6 580.6h0M531.8 560.8h0M532.3 573.9h0M532.1 575.5h0M531.9 562.7h0M531.8 574.2h0M532.0 567.1h0M531.6 574.3h0M532.3 565.4h0M532.0 569.2h0M532.1 580.2h0M532.3 575.0h0M532.1 566.1h0M531.7 573.9h0M532.1 571.2h0M532.4 565.2h0M532.1 559.7h0M531.9 556.9h0M531.7 564.0h0M531.8 571.0h0M531.8 562.5h0M531.9 576.0h0M531.8 582.5h0M532.0 581.8h0M533.3 574.5h0M533.2 567.7h0M532.4 573.8h0M532.6 568.9h0M533.4 571.0h0M532.6 567.2h0M533.1 569.1h0M533.7 558.7h0M532.9 561.5h0M533.4 568.5h0M533.3 565.9h0M532.9 569.0h0M532.8 568.4h0M532.8 568.3h0M532.7 574.4h0M532.8 565.3h0M532.9 575.4h0M532.8 570.5h0M533.4 556.0h0M533.7 563.7h0M533.4 574.8h0M533.6 574.0h0M533.7 574.4h0M532.9 562.9h0M533.1 560.2h0M532.6 570.0h0M532.9 569.7h0M533.2 565.9h0M533.8 562.2h0M533.4 567.1h0M533.0 568.3h0M533.3 563.6h0M533.9 575.4h0M532.5 574.2h0M533.3 560.6h0M533.8 572.2h0M532.6 567.8h0M533.6 574.0h0M533.1 567.7h0M533.4 563.9h0M532.9 562.0h0M533.1 562.7h0M533.0 564.5h0M533.6 562.0h0M533.4 574.0h0M533.8 573.9h0M533.7 571.0h0M533.0 560.8h0M533.2 570.9h0M533.7 570.8h0M533.1 576.3h0M532.4 577.7h0M534.8 571.8h0M534.9 566.2h0M534.4 568.3h0M534.6 564.0h0M534.7 570.4h0M534.9 573.4h0M534.1 569.4h0M534.3 566.4h0M534.7 559.5h0M534.9 565.7h0M535.0 562.8h0M534.2 555.9h0M534.2 568.2h0M534.3 561.1h0M535.3 562.1h0M534.1 561.4h0M534.4 567.8h0M534.8 563.8h0M534.8 568.6h0M534.9 568.4h0M535.0 571.0h0M534.2 562.4h0M534.4 563.3h0M534.7 561.2h0M534.1 570.8h0M534.5 560.7h0M534.5 565.0h0M535.1 558.6h0M534.6 567.4h0M535.0 559.1h0M534.7 569.8h0M534.0 568.4h0M534.5 571.4h0M535.0 569.0h0M535.0 566.5h0M535.2 568.7h0M534.9 564.0h0M534.4 563.8h0M535.1 572.1h0M534.5 562.1h0M535.1 567.4h0M535.0 571.0h0M534.9 566.0h0M533.9 556.0h0M534.3 560.4h0M535.1 565.8h0M534.0 569.6h0M534.9 568.7h0M534.2 571.3h0M535.4 573.5h0M535.3 571.4h0M535.1 555.9h0M534.3 564.0h0M534.8 567.7h0M534.4 571.6h0M534.1 564.6h0M534.4 567.1h0M534.9 570.8h0M534.8 571.8h0M534.5 570.0h0M533.9 566.8h0M534.5 565.2h0M533.9 566.0h0M534.3 565.7h0M533.9 561.8h0M534.4 559.6h0M534.2 566.0h0M534.9 566.9h0M534.5 571.9h0M534.0 560.4h0M534.6 559.4h0M534.0 575.8h0M534.1 575.0h0M534.9 574.1h0M535.1 577.4h0M535.5 576.3h0M536.0 575.1h0M535.6 569.4h0M536.5 560.2h0M535.8 561.3h0M536.8 561.9h0M535.7 566.9h0M536.2 571.5h0M535.6 561.6h0M536.8 562.6h0M536.5 561.5h0M536.4 574.7h0M536.2 558.2h0M536.0 568.0h0M536.6 565.6h0M536.3 573.5h0M536.0 556.9h0M536.9 569.5h0M535.9 559.5h0M535.7 566.6h0M535.6 572.8h0M536.4 574.3h0M536.4 558.9h0M535.6 576.1h0M536.1 564.1h0M536.1 575.9h0M536.3 566.5h0M535.7 555.8h0M536.7 561.2h0M535.6 565.3h0M536.1 562.3h0M535.6 557.0h0M535.7 565.3h0M535.9 570.1h0M535.8 564.9h0M535.8 564.0h0M535.7 557.3h0M536.6 572.9h0M536.0 576.0h0M535.9 574.4h0M536.5 567.3h0M536.3 562.0h0M536.1 574.1h0M536.7 576.0h0M535.4 574.5h0M536.3 571.9h0M536.4 560.3h0M536.2 576.1h0M536.1 562.0h0M536.0 576.2h0M535.6 560.4h0M535.5 557.6h0M535.7 568.8h0M536.3 561.9h0M536.6 568.4h0M536.2 563.2h0M536.5 573.5h0M535.9 569.5h0M535.4 576.1h0M536.4 574.7h0M535.5 562.1h0M536.5 564.7h0M535.8 575.3h0M536.8 559.9h0M535.7 572.2h0M535.9 563.1h0M535.6 569.7h0M536.5 576.0h0M535.5 574.4h0M535.5 580.4h0M536.5 577.2h0M536.8 579.2h0M538.6 567.1h0M538.6 567.9h0M538.2 564.1h0M538.6 568.6h0M538.5 562.6h0M537.9 562.9h0M538.8 560.3h0M537.0 567.9h0M538.4 556.0h0M537.9 560.9h0M538.2 570.7h0M537.5 559.7h0M537.1 568.6h0M536.9 563.3h0M538.6 556.2h0M538.7 561.0h0M537.7 568.3h0M538.0 562.0h0M537.9 572.9h0M538.8 567.1h0M537.6 560.1h0M538.2 569.7h0M537.7 567.0h0M538.3 564.2h0M537.7 562.5h0M537.3 572.9h0M538.7 566.7h0M537.8 570.0h0M538.3 566.9h0M538.5 562.9h0M538.2 556.3h0M537.6 572.2h0M538.4 572.3h0M538.2 572.1h0M537.9 567.5h0M537.4 560.8h0M537.8 566.5h0M537.4 563.8h0M537.8 564.1h0M538.4 560.9h0M537.7 559.9h0M538.1 565.0h0M538.1 560.4h0M537.4 569.4h0M538.5 560.3h0M538.1 560.5h0M537.4 572.1h0M537.3 564.1h0M538.4 570.0h0M537.3 561.3h0M538.4 570.9h0M537.4 567.0h0M538.6 563.9h0M537.6 563.5h0M537.7 557.3h0M537.5 564.7h0M536.9 568.2h0M536.9 563.3h0M538.4 562.6h0M538.7 557.1h0M537.9 561.2h0M538.6 567.6h0M537.8 572.2h0M538.7 564.7h0M536.9 565.6h0M537.1 565.7h0M537.1 565.8h0M537.3 565.8h0M537.3 570.9h0M537.5 560.5h0M538.3 567.9h0M538.2 567.1h0M538.2 566.3h0M537.9 565.2h0M537.9 564.1h0M538.3 564.9h0M538.1 566.8h0M537.3 559.5h0M537.9 569.7h0M537.7 567.3h0M537.7 570.1h0M538.2 572.8h0M537.0 560.4h0M537.5 562.8h0M536.9 567.6h0M538.5 572.4h0M538.0 570.8h0M538.4 567.0h0M538.6 580.7h0M537.6 575.9h0M537.5 576.6h0M537.7 574.7h0M537.3 575.1h0M539.2 560.0h0M539.3 563.5h0M539.3 561.3h0M539.9 562.4h0M539.5 573.3h0M539.0 555.9h0M539.8 578.2h0M540.2 556.5h0M540.6 572.0h0M540.1 562.3h0M540.5 562.2h0M540.4 557.9h0M539.7 574.6h0M540.4 571.3h0M540.2 563.4h0M540.2 574.4h0M539.4 562.3h0M540.4 556.3h0M539.6 569.3h0M539.7 562.7h0M540.1 564.3h0M539.2 570.1h0M540.4 567.3h0M539.4 568.8h0M540.5 573.3h0M540.0 573.4h0M540.0 564.0h0M540.5 576.8h0M538.9 572.3h0M540.2 573.5h0M539.8 579.0h0M539.9 578.7h0M540.1 574.0h0M539.0 578.5h0M539.2 575.8h0M539.9 566.0h0M539.1 572.7h0M539.0 558.4h0M539.5 574.4h0M540.0 565.8h0M539.2 568.7h0M539.2 563.4h0M539.0 572.3h0M540.1 569.1h0M540.2 572.0h0M539.6 560.4h0M539.6 569.7h0M540.2 564.7h0M539.3 572.8h0M540.1 565.7h0M539.2 563.2h0M539.3 575.8h0M539.3 576.6h0M540.3 577.1h0M539.1 557.6h0M539.5 559.8h0M539.8 572.3h0M540.2 558.0h0M539.9 569.8h0M540.5 577.8h0M539.8 563.6h0M539.0 579.0h0M540.1 561.8h0M539.0 563.5h0M539.4 578.7h0M539.2 579.0h0M539.1 570.7h0M539.7 563.0h0M539.9 566.0h0M539.0 564.4h0M539.4 573.0h0M539.2 566.6h0M539.6 574.1h0M539.4 575.4h0M540.4 563.3h0M539.0 574.8h0M540.2 571.2h0M539.6 570.2h0M539.8 571.3h0M540.5 575.8h0M539.3 578.5h0M540.2 577.2h0M539.4 563.2h0M539.8 566.5h0M539.6 565.7h0M539.0 576.2h0M539.2 561.7h0M538.9 557.3h0M539.5 573.4h0M539.6 569.9h0M540.1 568.5h0M539.7 579.8h0M540.2 580.0h0M539.0 579.9h0M539.6 591.6h0M541.9 579.9h0M541.4 576.0h0M541.4 577.0h0M541.1 572.4h0M541.8 568.4h0M541.1 569.2h0M542.3 576.6h0M541.1 563.5h0M542.1 561.2h0M542.3 578.4h0M541.0 574.4h0M541.5 577.9h0M541.6 557.4h0M541.1 559.7h0M541.1 568.9h0M542.2 565.8h0M540.9 566.2h0M541.5 559.3h0M542.3 562.3h0M541.8 562.9h0M541.6 568.6h0M540.8 578.5h0M541.5 569.1h0M541.6 569.6h0M541.8 566.3h0M540.9 561.9h0M542.4 575.2h0M541.8 558.3h0M541.8 567.2h0M541.7 575.3h0M542.0 572.8h0M541.8 557.1h0M542.2 577.3h0M542.0 578.1h0M542.1 572.2h0M542.2 569.7h0M540.9 579.6h0M541.5 563.3h0M541.5 566.4h0M540.9 570.1h0M541.4 571.8h0M541.7 573.2h0M541.7 571.3h0M542.4 556.5h0M541.9 572.0h0M542.3 560.0h0M541.3 570.7h0M541.1 566.5h0M542.0 567.3h0M541.1 565.4h0M542.3 561.2h0M541.2 566.6h0M541.0 575.6h0M542.2 577.3h0M542.3 560.7h0M541.9 579.1h0M542.2 573.9h0M542.2 574.2h0M542.2 576.8h0M540.8 565.1h0M541.7 572.7h0M542.4 575.0h0M541.5 563.7h0M541.2 559.7h0M541.9 558.8h0M540.8 579.7h0M542.0 565.6h0M542.2 575.6h0M541.3 568.4h0M541.4 562.6h0M542.1 559.9h0M540.7 565.9h0M542.1 575.5h0M541.3 563.9h0M542.4 562.9h0M542.2 568.1h0M541.6 555.7h0M540.9 572.4h0M541.9 574.4h0M541.5 565.3h0M542.0 557.2h0M540.8 571.0h0M542.1 562.2h0M542.4 578.1h0M540.8 566.2h0M542.0 573.5h0M541.7 562.0h0M541.5 567.9h0M541.3 576.7h0M541.1 575.0h0M541.7 565.6h0M541.5 564.7h0M540.6 574.5h0M540.7 577.7h0M542.1 573.4h0M541.8 560.5h0M540.8 569.7h0M541.6 577.3h0M541.9 573.2h0M541.0 566.8h0M540.7 576.1h0M540.8 570.0h0M540.9 590.2h0M540.9 586.7h0M541.2 581.0h0M541.5 585.6h0M542.7 558.7h0M543.7 568.1h0M543.8 565.8h0M543.9 564.6h0M543.7 562.7h0M542.5 563.8h0M542.6 565.8h0M543.7 565.5h0M542.7 567.6h0M542.9 562.0h0M543.1 564.8h0M543.4 569.5h0M543.1 561.9h0M542.5 556.4h0M543.0 571.7h0M543.1 556.6h0M542.8 567.8h0M542.7 562.7h0M543.1 566.8h0M543.4 563.0h0M543.4 562.6h0M543.1 556.3h0M542.9 566.9h0M542.6 565.4h0M542.9 562.5h0M543.3 570.8h0M542.9 567.6h0M543.7 570.4h0M543.3 562.7h0M542.9 572.3h0M543.3 570.0h0M543.2 564.1h0M542.7 561.3h0M543.4 568.0h0M543.5 556.2h0M542.9 564.3h0M543.7 557.5h0M543.5 558.0h0M543.1 558.9h0M543.3 571.3h0M542.8 568.9h0M543.4 560.7h0M542.6 567.7h0M542.9 567.9h0M543.4 565.6h0M542.7 562.7h0M543.3 572.6h0M542.9 558.1h0M543.9 569.7h0M543.2 570.1h0M543.2 561.7h0M542.5 572.2h0M543.5 558.8h0M542.7 570.4h0M542.9 564.8h0M543.0 564.1h0M543.8 572.5h0M542.7 571.4h0M543.0 567.2h0M542.8 562.1h0M543.7 567.1h0M543.7 568.9h0M543.5 560.8h0M543.5 560.2h0M543.6 565.6h0M543.2 559.5h0M543.8 558.5h0M542.7 568.0h0M542.9 569.9h0M543.4 567.1h0M543.9 563.8h0M542.8 572.9h0M543.5 573.4h0M543.5 574.9h0M543.2 578.1h0M545.5 557.7h0M545.7 559.7h0M544.0 558.4h0M544.8 572.1h0M545.7 560.6h0M545.5 567.9h0M544.2 573.3h0M544.5 567.7h0M544.3 559.2h0M545.2 568.1h0M544.2 573.5h0M544.6 562.9h0M544.4 570.6h0M545.0 558.7h0M545.5 561.7h0M544.9 556.4h0M545.5 569.0h0M545.1 569.4h0M544.4 570.9h0M544.1 573.5h0M544.9 568.7h0M544.6 566.7h0M544.5 570.4h0M544.0 565.5h0M545.4 563.9h0M545.6 566.9h0M545.0 572.1h0M545.6 568.6h0M545.3 568.9h0M545.1 561.1h0M545.0 569.6h0M544.3 564.9h0M545.8 561.0h0M544.1 558.7h0M544.4 571.9h0M544.8 563.6h0M545.0 572.9h0M544.3 572.2h0M544.2 568.7h0M544.5 572.1h0M544.8 573.6h0M545.6 562.3h0M544.3 561.9h0M544.2 568.6h0M544.4 573.2h0M544.2 562.1h0M545.4 573.4h0M545.7 569.0h0M544.2 562.1h0M544.7 568.7h0M545.4 571.9h0M545.7 571.4h0M545.8 565.8h0M544.6 565.1h0M545.6 570.6h0M544.2 571.1h0M544.8 560.0h0M544.6 569.2h0M545.2 569.1h0M545.7 566.7h0M544.9 566.9h0M544.6 563.7h0M544.8 572.9h0M544.7 572.5h0M545.6 564.8h0M544.8 569.4h0M544.0 566.4h0M544.4 570.3h0M545.2 571.8h0M544.2 570.6h0M544.3 556.7h0M544.3 560.1h0M544.5 564.7h0M545.4 569.9h0M545.7 562.5h0M544.5 560.6h0M545.0 573.3h0M544.3 560.9h0M545.6 563.6h0M544.4 573.8h0M544.7 573.5h0M545.6 569.6h0M544.1 564.5h0M544.9 559.4h0M544.8 570.2h0M545.6 573.3h0M544.1 573.6h0M544.8 566.2h0M544.4 558.2h0M545.2 570.2h0M545.3 560.2h0M544.5 566.1h0M545.7 561.0h0M545.4 556.5h0M545.8 556.7h0M545.4 565.6h0M544.3 579.4h0M544.2 575.3h0M544.0 574.0h0M544.5 577.6h0M545.0 576.4h0M546.0 568.2h0M546.5 572.8h0M546.5 562.5h0M546.8 574.3h0M546.6 557.6h0M546.0 568.3h0M546.3 573.0h0M546.6 575.1h0M546.7 559.1h0M546.7 573.8h0M546.2 575.3h0M546.4 573.0h0M546.8 571.1h0M546.7 572.9h0M546.5 556.0h0M546.3 569.1h0M546.6 565.6h0M545.9 568.0h0M546.4 574.4h0M546.0 565.8h0M546.3 561.9h0M546.3 569.1h0M546.0 567.3h0M546.1 565.2h0M546.5 560.2h0M546.7 561.9h0M546.8 562.7h0M545.9 561.5h0M546.0 565.4h0M546.0 556.4h0M546.3 561.7h0M546.0 560.0h0M546.1 556.7h0M545.9 563.4h0M546.8 566.9h0M546.0 567.5h0M546.3 569.4h0M546.3 568.9h0M546.5 572.1h0M546.4 564.7h0M546.7 575.1h0M546.6 568.1h0M546.9 558.9h0M546.5 573.2h0M546.7 574.0h0M545.8 556.7h0M546.6 570.5h0M546.6 576.0h0M546.2 585.8h0M547.5 573.0h0M547.0 578.0h0M547.5 563.0h0M547.0 563.6h0M547.6 574.6h0M547.0 562.2h0M547.2 567.1h0M547.0 561.0h0M547.0 570.8h0M547.5 577.5h0M547.6 565.2h0M547.3 576.5h0M547.7 569.7h0M546.9 564.9h0M547.0 562.0h0M547.4 565.7h0M547.0 566.2h0M547.3 562.2h0M547.3 564.7h0M547.1 572.8h0M546.9 563.8h0M547.8 564.8h0M547.2 572.8h0M547.4 569.0h0M547.7 566.3h0M547.4 576.4h0M547.7 566.4h0M546.9 575.3h0M547.6 568.5h0M547.4 571.0h0M546.9 572.5h0M547.4 561.7h0M547.1 577.0h0M547.6 578.1h0M547.1 568.2h0M546.9 570.6h0M546.9 564.3h0M547.5 568.1h0M546.9 555.9h0M546.9 576.2h0M547.3 561.6h0M547.3 566.5h0M547.2 572.7h0M546.9 565.3h0M546.9 574.8h0M547.7 555.8h0M547.1 576.7h0M547.1 562.7h0M547.7 561.5h0M547.1 568.7h0M547.3 582.3h0M547.5 582.8h0M548.5 570.0h0M547.9 561.0h0M548.0 571.5h0M549.3 565.6h0M549.0 563.6h0M548.3 576.3h0M548.5 577.1h0M547.9 562.2h0M549.3 559.8h0M549.3 569.5h0M548.8 559.5h0M547.9 561.0h0M549.1 566.9h0M548.2 566.7h0M548.7 562.0h0M548.1 573.7h0M549.0 559.7h0M549.1 568.5h0M549.0 564.8h0M549.0 569.4h0M548.4 577.4h0M548.5 572.6h0M548.3 574.5h0M548.4 569.0h0M548.4 568.7h0M547.8 563.6h0M548.0 557.0h0M549.2 571.7h0M548.8 571.2h0M548.7 555.9h0M548.3 572.7h0M547.8 566.6h0M548.8 575.0h0M549.2 570.3h0M547.9 557.8h0M547.8 575.2h0M548.1 566.6h0M548.4 568.2h0M548.4 562.7h0M548.7 558.8h0M547.8 563.4h0M548.3 563.0h0M547.9 558.9h0M548.5 571.1h0M548.8 565.3h0M549.3 561.0h0M548.7 573.3h0M548.0 557.8h0M548.3 561.9h0M548.0 571.4h0M548.4 576.2h0M549.1 572.1h0M547.8 559.2h0M548.1 566.6h0M549.2 561.3h0M549.3 573.0h0M549.2 568.9h0M548.8 570.6h0M548.4 558.8h0M548.9 576.2h0M548.4 562.9h0M547.9 565.7h0M548.9 562.9h0M548.2 576.0h0M549.0 563.8h0M548.6 565.9h0M548.1 570.7h0M548.0 568.0h0M548.5 575.4h0M547.8 570.0h0M548.4 575.7h0M548.2 569.4h0M548.4 566.5h0M548.5 574.1h0M548.1 571.6h0M548.7 574.6h0M547.8 572.6h0M548.9 567.2h0M548.7 569.3h0M548.9 577.1h0M548.5 574.1h0M548.9 572.9h0M549.1 576.9h0M547.9 565.2h0M548.6 566.1h0M549.0 576.2h0M547.9 560.8h0M548.3 575.8h0M548.4 565.7h0M548.2 559.8h0M549.1 562.8h0M549.0 564.6h0M548.1 570.8h0M549.0 565.4h0M547.9 557.7h0M548.4 572.9h0M549.1 570.2h0M548.8 570.2h0M548.4 575.3h0M549.1 567.3h0M549.3 573.5h0M548.9 564.3h0M548.8 562.6h0M548.3 576.1h0M549.1 577.3h0M547.9 574.7h0M548.1 565.9h0M548.9 571.0h0M548.9 563.7h0M548.1 578.8h0M549.1 577.8h0M548.7 578.7h0M547.9 582.3h0M548.4 577.5h0M549.6 573.2h0M550.7 575.3h0M551.2 561.5h0M551.1 570.4h0M550.4 571.9h0M549.7 562.4h0M550.1 560.6h0M550.5 574.4h0M549.9 562.3h0M549.8 560.4h0M550.3 557.6h0M549.7 557.4h0M549.7 573.8h0M549.5 571.2h0M549.4 566.3h0M551.0 558.8h0M549.5 572.5h0M551.1 558.1h0M550.7 565.1h0M549.4 570.3h0M550.5 570.1h0M550.8 571.0h0M550.5 568.0h0M551.1 560.7h0M551.0 562.0h0M549.4 572.6h0M551.2 559.4h0M551.0 566.2h0M550.5 576.0h0M550.1 563.4h0M549.5 566.8h0M549.6 566.0h0M550.1 573.6h0M549.8 556.6h0M550.0 562.7h0M550.9 572.4h0M550.0 568.0h0M549.7 575.0h0M551.1 557.8h0M551.2 569.7h0M550.8 563.8h0M549.4 561.2h0M549.4 557.3h0M551.0 573.8h0M550.6 559.4h0M549.7 575.4h0M550.4 582.1h0M549.4 581.1h0M552.3 570.3h0M551.7 560.1h0M552.1 571.5h0M551.8 563.3h0M552.2 579.7h0M551.6 568.3h0M552.1 579.9h0M552.3 567.6h0M552.2 569.2h0M552.4 581.8h0M551.6 583.8h0M551.4 562.6h0M551.7 579.9h0M551.3 569.0h0M552.1 563.8h0M552.4 570.0h0M552.2 566.5h0M552.3 572.0h0M551.5 573.6h0M551.5 564.1h0M551.8 572.5h0M551.9 572.4h0M551.6 570.5h0M551.5 572.9h0M552.3 567.1h0M551.4 572.3h0M551.6 559.3h0M551.7 560.4h0M552.2 578.8h0M552.2 575.6h0M551.4 570.0h0M552.0 563.4h0M552.1 579.9h0M552.4 567.5h0M552.0 567.3h0M552.1 557.7h0M551.8 567.7h0M552.0 579.9h0M551.4 577.9h0M551.9 581.2h0M552.4 574.4h0M551.6 564.3h0M551.3 574.2h0M552.3 569.7h0M551.6 586.7h0M552.7 563.0h0M552.8 562.4h0M553.0 570.4h0M552.8 562.3h0M552.8 566.0h0M552.8 568.4h0M552.8 566.9h0M552.7 562.7h0M552.9 568.7h0M553.0 569.2h0M552.6 564.4h0M553.0 565.1h0M552.5 559.2h0M552.9 567.5h0M553.1 561.9h0M552.8 571.7h0M552.9 567.8h0M553.2 564.7h0M552.9 560.0h0M553.2 560.8h0M552.9 572.2h0M552.5 564.5h0M552.5 565.5h0M552.9 568.6h0M553.0 570.1h0M552.7 566.9h0M552.8 564.7h0M552.8 559.6h0M552.5 566.2h0M552.7 558.7h0M552.6 555.8h0M553.1 560.9h0M552.9 560.2h0M552.7 560.3h0M552.7 570.1h0M553.1 556.7h0M552.8 564.0h0M552.6 560.6h0M553.0 560.9h0M553.2 566.3h0M552.7 574.4h0M552.8 573.3h0M553.4 561.9h0M554.0 558.0h0M553.8 559.3h0M553.6 561.2h0M553.4 560.2h0M554.1 567.5h0M553.9 565.1h0M553.9 561.4h0M553.5 560.0h0M553.9 570.6h0M553.3 566.1h0M553.5 569.1h0M553.9 563.9h0M553.8 559.7h0M554.2 567.2h0M553.9 562.5h0M553.8 567.6h0M553.9 558.3h0M554.0 567.5h0M553.8 568.0h0M553.3 561.1h0M554.0 562.8h0M553.9 563.7h0M553.6 563.8h0M553.7 572.9h0M554.0 570.6h0M554.2 565.1h0M553.7 562.7h0M554.0 566.6h0M553.5 563.1h0M553.8 555.8h0M553.4 570.2h0M554.3 558.6h0M554.0 563.7h0M553.6 572.3h0M554.0 555.8h0M553.3 568.6h0M553.6 569.6h0M554.1 572.0h0M553.6 561.9h0M553.6 568.9h0M554.1 571.2h0M553.9 572.4h0M553.3 560.1h0M554.1 568.5h0M553.6 567.2h0M553.4 571.3h0M553.6 567.4h0M554.1 567.8h0M553.5 573.8h0M553.4 574.6h0M554.2 576.2h0M554.5 563.7h0M554.6 566.1h0M554.4 570.4h0M554.9 556.5h0M555.2 570.0h0M555.1 571.8h0M555.3 571.5h0M554.5 561.2h0M555.2 560.7h0M554.8 562.1h0M555.3 560.4h0M555.0 556.0h0M555.2 567.1h0M555.1 562.3h0M555.3 576.9h0M554.6 566.0h0M554.7 564.7h0M555.2 560.9h0M554.9 561.0h0M555.0 568.1h0M554.8 569.7h0M555.3 572.6h0M555.2 575.7h0M554.9 560.5h0M554.6 557.0h0M554.4 569.5h0M555.2 562.8h0M554.5 560.7h0M555.3 570.9h0M554.9 564.8h0M555.0 564.6h0M554.6 571.4h0M554.6 567.7h0M555.3 568.4h0M554.8 557.9h0M554.4 565.9h0M554.6 575.3h0M554.9 577.0h0M555.3 577.2h0M554.6 561.2h0M555.2 563.6h0M554.6 567.9h0M555.0 570.6h0M554.9 565.5h0M555.3 561.2h0M554.5 576.6h0M555.1 571.1h0M554.4 558.3h0M555.2 569.2h0M554.5 556.4h0M555.1 565.1h0M554.9 562.2h0M554.9 573.3h0M554.8 570.9h0M555.0 568.0h0M554.5 575.8h0M554.4 563.6h0M554.9 576.4h0M554.7 567.4h0M554.6 559.9h0M554.8 571.0h0M554.7 571.6h0M554.9 571.4h0M555.3 558.8h0M555.0 575.8h0M554.7 575.4h0M554.4 564.0h0M555.1 562.7h0M555.1 576.2h0M554.4 567.9h0M555.1 563.8h0M554.6 567.1h0M555.3 560.8h0M554.8 569.4h0M555.2 577.4h0M554.4 579.0h0M554.7 577.4h0M555.6 567.0h0M556.2 570.9h0M555.7 574.3h0M556.0 562.6h0M556.2 556.2h0M556.3 571.5h0M555.7 572.1h0M555.7 572.4h0M555.9 565.1h0M556.4 571.1h0M555.6 566.4h0M555.7 556.6h0M556.2 560.3h0M555.6 574.3h0M556.0 573.2h0M555.7 568.9h0M556.0 573.4h0M555.8 572.5h0M556.0 562.3h0M556.4 574.0h0M556.1 566.4h0M555.3 568.8h0M555.6 568.5h0M556.4 570.6h0M556.4 570.0h0M555.7 567.1h0M555.7 567.5h0M555.5 563.2h0M556.3 569.2h0M556.1 560.8h0M555.9 565.3h0M555.9 581.5h0M557.9 570.7h0M558.2 573.2h0M558.0 573.2h0M557.1 567.8h0M558.2 571.4h0M558.0 557.6h0M556.7 561.5h0M557.0 559.6h0M558.2 561.6h0M557.5 556.7h0M558.0 573.1h0M557.9 576.2h0M556.5 567.5h0M557.6 566.7h0M556.8 562.6h0M556.6 563.0h0M557.5 572.6h0M556.8 575.2h0M556.7 569.1h0M558.1 558.3h0M556.5 567.2h0M556.9 562.3h0M556.7 575.4h0M556.5 559.8h0M557.7 571.0h0M558.3 578.8h0M558.3 557.8h0M557.2 563.4h0M558.3 577.3h0M558.2 578.3h0M556.5 563.8h0M557.2 565.4h0M556.9 564.1h0M556.7 563.5h0M557.2 556.9h0M557.9 567.8h0M556.8 564.0h0M556.6 563.6h0M556.7 555.8h0M557.3 574.2h0M558.2 576.1h0M557.2 569.3h0M558.0 575.9h0M556.6 578.4h0M558.0 566.6h0M557.9 570.2h0M557.2 576.7h0M557.7 577.9h0M557.1 559.8h0M556.6 560.1h0M556.8 575.1h0M556.8 576.3h0M556.6 572.5h0M557.2 568.0h0M557.1 581.3h0M556.5 579.7h0M558.8 566.5h0M559.0 572.4h0M558.4 562.0h0M558.5 563.7h0M559.1 573.1h0M558.8 568.5h0M558.8 563.5h0M559.2 574.8h0M558.7 569.2h0M558.9 563.8h0M559.1 574.6h0M559.2 572.2h0M558.8 560.9h0M558.7 557.7h0M559.1 573.3h0M559.0 559.4h0M558.9 566.1h0M559.1 572.4h0M559.0 574.5h0M558.8 570.7h0M558.7 573.0h0M558.9 556.8h0M558.4 566.1h0M558.5 572.8h0M558.6 565.8h0M558.9 564.1h0M558.7 574.4h0M558.5 573.8h0M558.6 574.4h0M559.2 567.9h0M559.0 570.3h0M558.9 565.0h0M559.1 569.3h0M559.0 575.0h0M558.6 570.8h0M559.0 561.7h0M558.5 564.1h0M559.0 572.9h0M558.5 570.9h0M559.0 558.0h0M559.0 563.7h0M558.9 569.6h0M558.6 564.6h0M558.9 569.9h0M559.1 571.1h0M558.9 565.3h0M558.7 568.0h0M558.6 571.1h0M558.5 561.5h0M558.6 574.4h0M558.5 558.6h0M558.6 562.8h0M559.2 566.4h0M558.4 571.8h0M558.9 561.0h0M558.4 574.1h0M558.5 562.2h0M558.5 576.5h0M558.4 578.2h0M558.7 580.0h0M559.6 566.2h0M560.4 581.0h0M560.4 565.8h0M559.5 570.4h0M560.6 567.8h0M560.4 573.7h0M560.0 574.4h0M560.0 567.1h0M559.2 574.2h0M559.4 579.6h0M559.2 557.5h0M559.6 569.4h0M559.8 571.5h0M560.5 562.6h0M560.4 580.4h0M559.5 569.5h0M559.8 561.5h0M560.4 566.0h0M560.0 577.0h0M560.0 580.4h0M560.3 573.6h0M560.0 569.3h0M560.2 568.9h0M560.1 572.5h0M560.1 576.9h0M560.1 555.7h0M559.3 570.2h0M559.3 579.9h0M559.8 573.6h0M559.5 577.3h0M560.2 578.2h0M560.1 572.0h0M560.6 574.4h0M559.4 557.7h0M559.7 578.5h0M560.4 565.0h0M559.9 566.7h0M560.1 571.1h0M559.3 579.6h0M559.3 570.2h0M559.5 569.8h0M559.2 562.7h0M560.2 556.1h0M560.5 577.7h0M560.4 571.3h0M560.3 582.5h0M560.9 564.6h0M560.7 572.6h0M560.7 565.6h0M561.4 555.8h0M561.3 564.5h0M561.5 562.8h0M561.7 557.2h0M560.7 562.3h0M561.5 570.3h0M561.4 560.8h0M560.8 558.2h0M561.3 575.0h0M560.7 569.2h0M560.9 564.2h0M560.8 574.5h0M561.7 567.7h0M561.6 559.0h0M561.4 575.1h0M560.7 562.3h0M561.2 571.4h0M561.0 567.8h0M560.8 561.2h0M561.2 557.0h0M561.4 566.7h0M561.0 573.2h0M561.5 569.7h0M561.6 564.3h0M560.9 568.6h0M561.3 569.4h0M561.0 565.0h0M561.6 568.3h0M561.0 561.5h0M561.4 564.3h0M561.4 565.5h0M561.1 575.5h0M560.9 568.7h0M561.3 572.0h0M561.2 556.3h0M560.7 571.0h0M561.1 572.8h0M561.4 569.3h0M561.0 561.0h0M561.0 570.0h0M561.4 571.0h0M561.5 564.5h0M561.1 564.7h0M560.8 565.1h0M560.8 555.9h0M561.6 561.1h0M561.0 557.6h0M560.9 573.3h0M561.5 564.7h0M561.1 570.0h0M560.7 583.4h0M561.1 582.5h0M562.3 568.9h0M562.6 560.8h0M561.9 559.3h0M562.5 576.7h0M562.6 576.6h0M562.8 576.8h0M562.5 567.1h0M562.5 570.9h0M562.4 577.0h0M561.9 573.6h0M562.6 561.3h0M562.8 566.3h0M562.7 569.1h0M563.2 569.2h0M562.0 561.6h0M563.2 570.0h0M563.3 557.9h0M562.2 576.6h0M562.3 568.1h0M562.4 571.4h0M563.1 566.2h0M562.2 571.4h0M562.0 562.0h0M562.9 564.5h0M562.4 560.5h0M561.7 568.8h0M562.9 565.5h0M561.8 577.6h0M563.2 568.8h0M562.7 563.2h0M562.1 556.2h0M562.2 572.8h0M561.9 558.3h0M563.3 568.6h0M562.8 568.1h0M561.8 565.6h0M562.3 563.7h0M562.6 578.0h0M562.7 573.2h0M562.2 574.4h0M561.8 573.4h0M562.4 570.7h0M561.9 564.6h0M563.3 567.0h0M562.8 577.7h0M562.1 580.9h0M562.6 579.3h0M563.4 569.8h0M564.3 569.2h0M563.9 571.7h0M563.8 572.7h0M563.6 571.8h0M563.6 558.8h0M563.8 556.3h0M563.5 565.5h0M563.5 571.5h0M563.9 563.3h0M564.2 573.1h0M563.9 568.8h0M563.4 565.3h0M563.6 570.4h0M563.9 573.5h0M564.3 567.3h0M563.6 561.5h0M564.0 571.5h0M564.4 569.4h0M563.7 578.9h0M564.1 574.1h0M563.4 560.6h0M563.7 579.8h0M563.7 556.8h0M564.3 578.9h0M563.5 568.4h0M563.9 569.8h0M563.8 578.7h0M563.7 560.8h0M563.9 579.7h0M563.7 569.2h0M563.8 560.8h0M563.7 569.2h0M563.4 579.8h0M563.5 556.4h0M563.9 576.3h0M563.6 563.8h0M563.8 574.6h0M563.9 560.0h0M563.7 574.7h0M563.7 579.3h0M563.9 565.3h0M563.6 577.9h0M563.4 563.5h0M563.6 570.5h0M563.6 577.7h0M564.1 562.9h0M564.1 568.0h0M563.5 570.8h0M564.0 572.7h0M563.9 573.2h0M564.1 560.5h0M563.8 557.2h0M563.4 571.3h0M564.4 574.3h0M563.8 571.5h0M563.5 563.2h0M564.3 574.4h0M563.7 575.5h0M564.2 567.0h0M564.3 568.6h0M564.0 571.6h0M564.3 566.4h0M563.5 579.7h0M563.4 577.3h0M563.9 561.9h0M564.3 572.4h0M563.9 563.8h0M563.5 556.1h0M564.2 573.2h0M563.9 579.7h0M563.8 569.4h0M563.7 568.4h0M564.0 561.6h0M563.4 576.9h0M563.7 576.8h0M563.9 570.8h0M564.0 567.2h0M563.7 555.7h0M563.7 562.5h0M564.4 576.0h0M564.0 575.8h0M564.3 573.2h0M563.9 582.2h0M564.0 584.4h0M564.3 583.1h0M565.2 562.0h0M565.3 561.5h0M564.6 569.3h0M565.4 568.0h0M564.8 580.3h0M565.0 574.2h0M564.7 568.8h0M564.9 579.4h0M564.8 561.5h0M565.0 571.1h0M565.0 571.4h0M564.9 564.6h0M564.5 565.6h0M565.2 581.5h0M564.5 571.6h0M564.8 571.7h0M565.0 564.1h0M564.6 581.4h0M564.6 578.0h0M565.2 565.0h0M564.5 561.6h0M565.1 562.4h0M564.9 578.5h0M564.9 576.9h0M564.6 573.6h0M565.1 582.2h0M564.9 573.6h0M565.1 561.7h0M565.1 560.6h0M565.3 561.1h0M564.6 565.0h0M564.8 575.6h0M565.3 566.5h0M564.9 569.3h0M565.4 584.5h0M565.5 560.4h0M566.0 561.4h0M565.7 565.4h0M566.3 576.1h0M565.5 557.0h0M565.5 565.2h0M566.0 568.2h0M565.9 569.2h0M566.1 561.0h0M566.2 576.0h0M566.2 564.9h0M566.3 574.6h0M565.4 565.8h0M565.9 558.7h0M565.6 573.8h0M565.6 569.2h0M565.8 560.5h0M566.0 572.8h0M565.9 567.3h0M565.5 561.8h0M566.3 566.2h0M566.3 561.8h0M565.8 572.0h0M565.5 562.1h0M565.8 575.3h0M566.4 568.0h0M565.7 574.9h0M565.9 556.1h0M566.3 558.4h0M565.7 570.0h0M566.1 571.3h0M565.6 570.7h0M565.9 572.3h0M565.9 571.8h0M565.9 574.0h0M565.9 565.4h0M566.1 574.6h0M565.6 574.6h0M565.9 574.8h0M565.5 556.9h0M565.5 576.0h0M565.5 557.0h0M566.2 569.3h0M566.1 562.7h0M566.3 557.2h0M565.7 564.8h0M565.8 560.3h0M565.5 562.9h0M565.6 558.3h0M565.7 570.1h0M565.6 565.2h0M566.3 562.4h0M566.1 566.1h0M565.9 571.9h0M566.2 578.5h0M566.1 577.5h0M567.1 571.8h0M566.6 574.9h0M567.2 564.3h0M567.7 562.9h0M566.9 563.9h0M566.9 579.7h0M566.7 567.6h0M567.4 579.7h0M566.6 561.3h0M567.4 561.5h0M566.9 561.5h0M566.9 569.9h0M567.6 571.9h0M566.9 564.3h0M566.7 567.9h0M567.5 560.0h0M567.1 560.3h0M567.0 557.3h0M567.1 556.1h0M567.6 573.5h0M567.6 557.6h0M566.4 568.0h0M567.3 564.6h0M567.4 561.8h0M567.5 570.0h0M566.8 560.8h0M566.6 561.1h0M566.8 558.9h0M567.2 571.0h0M566.9 577.7h0M567.3 561.9h0M567.3 559.3h0M567.2 565.4h0M567.1 570.5h0M567.4 569.9h0M567.4 568.2h0M566.7 571.6h0M567.2 569.6h0M566.7 562.1h0M566.4 571.9h0M566.8 574.0h0M567.1 572.3h0M567.2 570.3h0M566.4 579.2h0M566.8 570.6h0M566.8 576.5h0M566.7 579.9h0M566.4 563.1h0M566.9 569.9h0M567.2 565.9h0M567.3 565.1h0M567.0 567.1h0M567.4 570.0h0M566.9 575.5h0M567.0 574.3h0M567.6 573.4h0M567.4 562.3h0M567.0 562.3h0M567.0 581.4h0M567.0 583.6h0M568.2 572.3h0M568.0 562.8h0M567.8 563.7h0M568.0 567.4h0M568.3 563.0h0M568.3 563.9h0M567.9 562.4h0M567.8 571.4h0M568.0 568.6h0M568.0 557.7h0M568.1 556.2h0M567.9 558.8h0M568.5 563.2h0M568.2 573.3h0M568.5 566.7h0M568.0 562.6h0M568.2 563.8h0M567.8 561.5h0M568.0 560.9h0M568.0 567.0h0M568.0 572.0h0M568.2 557.0h0M568.0 572.2h0M567.8 575.3h0M570.0 564.3h0M570.1 575.0h0M569.0 574.8h0M569.8 570.0h0M569.2 561.9h0M568.8 562.7h0M569.4 565.2h0M570.4 564.8h0M570.3 566.4h0M569.5 561.5h0M569.0 576.1h0M569.0 572.3h0M569.5 559.9h0M568.7 572.3h0M569.3 560.1h0M569.9 573.5h0M569.7 562.8h0M569.2 574.5h0M569.6 559.1h0M569.0 572.7h0M569.9 563.0h0M568.7 557.9h0M570.4 567.0h0M570.3 567.6h0M570.4 568.4h0M568.9 561.4h0M570.0 559.9h0M568.7 571.6h0M569.0 557.5h0M569.4 572.1h0M569.4 571.0h0M569.9 562.8h0M569.3 569.5h0M569.5 574.5h0M568.9 566.0h0M568.8 561.1h0M568.8 574.0h0M569.0 563.0h0M570.0 570.2h0M568.6 567.7h0M569.7 561.1h0M569.4 572.8h0M569.3 567.1h0M570.1 567.2h0M569.2 561.3h0M570.2 562.9h0M569.9 575.5h0M568.6 562.7h0M570.4 559.3h0M569.8 567.4h0M570.3 562.2h0M569.2 563.5h0M568.9 566.3h0M568.6 562.4h0M568.6 555.8h0M569.1 573.7h0M569.9 570.3h0M569.0 560.6h0M569.5 562.0h0M569.0 565.4h0M570.1 561.4h0M569.8 574.1h0M568.8 559.4h0M569.1 565.5h0M568.6 559.3h0M570.1 564.6h0M570.3 566.7h0M568.8 561.9h0M569.4 571.5h0M569.2 563.4h0M568.7 573.4h0M568.7 557.7h0M569.6 562.4h0M568.8 576.5h0M569.6 560.1h0M569.9 574.8h0M569.6 558.4h0M569.0 558.4h0M569.9 559.2h0M569.9 565.2h0M568.9 568.5h0M570.0 560.4h0M570.1 559.8h0M570.4 565.8h0M569.9 559.9h0M570.4 561.0h0M568.8 575.0h0M569.9 576.7h0M568.9 575.6h0M569.9 571.8h0M568.8 577.0h0M569.1 575.5h0M569.6 558.4h0M570.1 569.4h0M570.1 555.9h0M569.9 561.9h0M569.5 574.5h0M569.8 555.7h0M569.6 556.7h0M569.9 572.7h0M569.8 570.0h0M568.9 574.8h0M568.6 557.8h0M568.9 564.1h0M569.7 564.6h0M570.2 566.0h0M569.3 562.7h0M570.3 570.4h0M569.2 556.7h0M569.9 579.3h0M568.8 577.4h0M569.7 579.5h0M569.0 578.5h0M569.8 580.4h0M571.1 555.8h0M571.6 568.9h0M571.5 572.4h0M571.0 570.6h0M571.0 566.6h0M570.6 573.8h0M570.6 568.7h0M570.8 564.0h0M571.2 560.2h0M571.8 575.6h0M571.1 562.0h0M570.6 558.6h0M570.7 570.5h0M570.6 570.1h0M570.5 570.1h0M570.7 577.0h0M571.6 563.6h0M571.7 565.7h0M571.9 559.9h0M570.5 564.7h0M570.8 555.9h0M570.6 557.0h0M571.8 562.2h0M572.0 561.8h0M570.5 575.2h0M571.3 564.7h0M571.4 575.6h0M570.6 577.9h0M571.1 558.0h0M571.7 574.4h0M571.6 569.0h0M571.6 572.2h0M570.5 566.1h0M571.7 577.2h0M571.0 567.6h0M570.5 562.0h0M571.6 571.2h0M570.9 574.0h0M571.8 575.4h0M571.4 556.1h0M570.6 564.0h0M571.6 575.0h0M571.3 573.1h0M571.1 575.5h0M571.8 567.5h0M570.9 559.8h0M571.4 558.0h0M571.1 567.7h0M571.8 557.7h0M571.5 556.2h0M570.7 564.0h0M571.6 557.4h0M571.2 571.4h0M570.6 577.8h0M570.8 576.1h0M571.6 570.7h0M571.5 570.5h0M570.8 563.5h0M571.0 578.2h0M571.2 578.8h0M573.1 564.0h0M572.9 567.1h0M573.0 578.5h0M572.4 556.4h0M572.7 579.0h0M573.1 574.1h0M572.6 564.7h0M572.4 573.6h0M572.1 564.0h0M573.4 564.0h0M573.4 573.6h0M572.4 580.0h0M572.4 573.3h0M572.7 573.6h0M572.9 569.8h0M572.8 562.5h0M572.9 558.9h0M572.5 576.2h0M573.0 571.0h0M572.9 581.0h0M573.4 573.2h0M572.2 561.9h0M572.7 564.0h0M573.2 576.2h0M573.1 561.5h0M573.2 574.9h0M573.3 570.9h0M572.7 571.3h0M573.1 569.4h0M572.8 564.7h0M572.5 568.5h0M572.8 566.0h0M573.4 561.9h0M572.9 572.0h0M573.0 566.6h0M572.0 572.5h0M572.6 560.5h0M572.5 557.0h0M572.3 572.2h0M573.0 575.3h0M573.0 559.4h0M573.1 560.7h0M572.1 581.7h0M573.9 571.4h0M573.7 572.7h0M573.8 570.4h0M573.9 561.4h0M573.9 565.9h0M573.8 561.2h0M574.0 572.1h0M574.2 559.8h0M574.4 557.9h0M574.2 567.1h0M574.5 567.3h0M573.6 573.5h0M573.9 556.7h0M573.7 571.1h0M574.0 556.6h0M574.0 564.3h0M574.3 564.2h0M574.0 567.4h0M574.4 560.2h0M573.6 574.2h0M573.9 572.2h0M574.8 567.9h0M574.5 571.7h0M573.7 571.7h0M574.1 572.2h0M573.9 565.8h0M573.5 569.0h0M574.1 564.6h0M573.5 569.8h0M573.7 563.4h0M574.7 567.9h0M574.1 561.0h0M574.3 567.6h0M574.0 567.9h0M573.7 570.8h0M574.3 559.9h0M574.3 567.2h0M574.6 561.7h0M574.2 557.4h0M573.8 556.1h0M573.9 570.6h0M574.2 567.3h0M574.0 570.7h0M574.4 566.4h0M573.7 560.1h0M574.8 556.8h0M573.5 563.3h0M573.6 572.3h0M574.1 562.9h0M574.4 560.5h0M574.4 563.2h0M574.3 564.0h0M573.7 573.3h0M574.4 566.3h0M574.4 566.6h0M573.8 567.1h0M574.1 555.7h0M574.6 567.5h0M574.4 570.0h0M574.4 556.3h0M573.5 560.9h0M574.2 566.1h0M574.4 560.6h0M574.2 567.4h0M573.7 574.3h0M573.6 575.3h0M574.1 575.3h0M574.1 576.1h0M575.7 575.3h0M576.2 562.9h0M576.1 561.8h0M576.3 556.8h0M575.8 556.7h0M575.5 561.5h0M575.4 565.3h0M575.7 558.6h0M575.5 567.0h0M575.6 555.8h0M575.6 561.6h0M575.3 572.4h0M575.5 563.0h0M575.3 573.1h0M575.8 574.2h0M575.5 572.4h0M575.9 566.0h0M575.7 575.6h0M576.1 572.7h0M575.9 571.1h0M575.3 556.5h0M575.1 565.9h0M575.0 570.7h0M574.9 573.5h0M576.1 558.3h0M576.3 562.0h0M575.1 573.2h0M574.8 569.3h0M575.0 565.7h0M575.4 560.5h0M575.8 572.8h0M575.9 568.2h0M576.3 570.3h0M574.9 568.2h0M576.1 568.5h0M576.2 570.2h0M575.3 568.7h0M575.8 573.1h0M575.4 556.4h0M575.4 557.8h0M576.4 575.9h0M574.9 580.6h0M576.8 568.6h0M576.8 569.5h0M576.9 557.9h0M576.8 560.3h0M577.1 569.8h0M577.0 565.5h0M576.7 566.1h0M576.9 560.1h0M576.5 567.7h0M576.5 564.8h0M577.1 558.6h0M577.0 566.8h0M577.0 570.5h0M576.9 561.3h0M577.6 578.0h0M577.6 570.7h0M577.6 567.1h0M577.5 572.3h0M578.4 573.2h0M577.9 567.8h0M578.1 561.2h0M577.7 574.8h0M578.4 573.9h0M578.1 565.7h0M578.1 565.6h0M578.0 563.0h0M577.5 573.0h0M577.8 578.1h0M577.5 577.2h0M577.6 555.8h0M577.7 570.4h0M578.2 575.8h0M577.6 577.7h0M577.4 569.7h0M577.6 574.1h0M577.6 577.3h0M577.6 576.6h0M577.1 570.4h0M577.8 575.5h0M577.6 572.7h0M577.7 569.7h0M577.7 558.2h0M577.5 565.9h0M578.1 561.9h0M577.9 563.5h0M577.5 557.2h0M577.5 564.0h0M578.0 573.3h0M578.1 566.8h0M577.6 567.7h0M578.4 578.1h0M578.1 566.5h0M577.8 573.3h0M578.0 560.7h0M577.3 572.8h0M578.4 577.7h0M577.8 560.8h0M578.3 576.0h0M577.7 577.0h0M577.8 573.8h0M578.2 573.5h0M578.2 560.1h0M578.2 562.9h0M578.4 575.2h0M577.3 574.2h0M578.2 570.3h0M577.6 573.3h0M578.2 556.1h0M577.3 560.0h0M578.2 563.9h0M577.9 561.0h0M578.0 560.4h0M577.7 572.9h0M577.5 569.9h0M578.0 560.0h0M577.2 559.7h0M577.7 576.9h0M578.1 575.0h0M577.8 566.3h0M577.4 572.1h0M577.1 566.0h0M577.8 566.4h0M578.2 572.1h0M577.4 557.1h0M577.5 566.2h0M577.6 568.0h0M577.7 556.3h0M578.0 577.9h0M577.9 577.3h0M577.2 562.0h0M578.4 571.5h0M577.7 573.9h0M577.8 565.3h0M578.4 562.7h0M577.4 572.4h0M578.1 580.4h0M578.4 581.2h0M578.1 582.0h0M579.4 575.4h0M578.5 574.4h0M578.8 564.5h0M578.8 575.5h0M579.3 572.9h0M578.8 568.2h0M578.8 573.5h0M579.0 574.6h0M579.4 562.7h0M578.8 555.9h0M578.8 568.5h0M579.0 568.2h0M578.8 562.4h0M578.8 558.6h0M578.8 565.1h0M579.4 565.1h0M578.5 565.3h0M578.8 573.5h0M579.4 569.6h0M579.1 567.9h0M579.1 562.3h0M578.9 562.3h0M578.7 574.4h0M578.5 569.1h0M578.5 555.9h0M578.6 572.8h0M578.7 567.3h0M579.4 567.6h0M579.0 576.0h0M578.5 563.5h0M579.3 579.7h0M580.2 576.3h0M580.2 575.7h0M579.8 562.5h0M579.8 564.1h0M580.2 577.2h0M579.9 560.6h0M579.8 574.7h0M579.7 567.0h0M580.1 569.3h0M580.3 569.0h0M579.9 565.6h0M580.2 571.8h0M579.9 577.3h0M579.6 561.8h0M579.9 580.4h0M580.2 579.0h0M580.1 564.5h0M579.6 560.1h0M580.0 572.3h0M579.7 564.4h0M579.6 571.4h0M579.6 578.2h0M579.8 567.5h0M579.8 566.6h0M580.1 572.7h0M580.1 560.4h0M580.2 578.9h0M579.9 577.8h0M579.7 560.7h0M579.6 579.5h0M579.6 572.5h0M579.7 577.1h0M580.1 573.4h0M580.3 557.1h0M580.1 568.9h0M580.0 572.2h0M579.9 571.6h0M580.3 563.3h0M579.6 572.8h0M580.0 572.2h0M580.2 567.7h0M580.3 564.2h0M580.1 566.2h0M580.0 581.5h0M579.8 572.5h0M580.3 577.9h0M579.9 563.0h0M579.6 571.9h0M580.1 573.9h0M580.2 580.8h0M580.1 555.8h0M579.6 560.2h0M579.8 581.9h0M580.2 562.9h0M579.9 571.1h0M579.8 561.5h0M580.3 577.7h0M579.7 569.5h0M579.7 564.9h0M580.2 559.6h0M579.9 568.2h0M580.0 571.8h0M579.7 556.2h0M579.6 577.8h0M579.6 583.6h0M580.0 561.0h0M579.8 573.5h0M580.2 560.2h0M579.9 586.1h0M579.9 587.8h0M580.5 575.8h0M580.9 561.5h0M581.4 562.1h0M581.2 568.1h0M580.6 559.0h0M581.2 571.0h0M580.5 561.6h0M581.0 578.6h0M581.7 571.3h0M581.3 568.6h0M580.6 558.3h0M581.5 570.9h0M580.9 575.5h0M581.1 575.6h0M580.5 558.0h0M581.7 564.8h0M580.7 563.1h0M581.5 569.5h0M580.4 563.5h0M581.5 571.7h0M580.5 558.2h0M581.5 562.0h0M580.9 562.8h0M581.7 568.2h0M580.7 561.4h0M581.0 562.5h0M581.1 570.9h0M581.5 572.1h0M580.7 575.6h0M580.4 564.2h0M581.9 571.4h0M581.4 558.1h0M580.9 558.4h0M581.9 573.9h0M582.0 572.0h0M581.5 562.6h0M580.6 571.9h0M581.7 569.8h0M581.1 566.4h0M580.6 570.5h0M580.4 577.2h0M580.6 577.5h0M580.7 566.0h0M581.2 573.3h0M581.9 576.3h0M580.7 560.8h0M580.4 563.7h0M581.5 560.6h0M581.9 570.5h0M582.0 563.7h0M581.2 568.3h0M580.7 556.1h0M581.5 573.2h0M581.3 569.7h0M581.2 576.4h0M580.6 569.1h0M581.6 571.1h0M581.2 563.1h0M580.6 576.3h0M581.8 567.3h0M581.2 562.8h0M581.3 567.6h0M581.4 577.4h0M581.1 576.7h0M581.5 563.7h0M581.4 585.7h0M580.4 580.0h0M583.6 577.0h0M582.4 583.4h0M583.6 576.0h0M583.6 578.4h0M583.2 566.7h0M582.8 583.4h0M582.0 569.8h0M583.3 584.7h0M583.0 559.9h0M582.5 556.9h0M583.3 567.4h0M582.8 559.6h0M583.3 564.7h0M582.7 567.6h0M583.3 566.6h0M583.3 565.7h0M582.3 577.6h0M583.0 566.4h0M582.7 566.9h0M583.4 557.5h0M583.4 571.0h0M582.1 577.2h0M583.1 562.1h0M582.9 584.3h0M583.4 565.9h0M583.7 565.8h0M583.5 568.1h0M582.6 566.7h0M582.5 568.7h0M582.1 556.3h0M582.1 584.9h0M582.1 573.6h0M582.2 573.0h0M583.2 560.6h0M582.9 580.0h0M583.6 572.3h0M582.1 569.7h0M582.4 576.4h0M582.6 570.9h0M583.3 570.1h0M583.7 566.4h0M582.6 581.4h0M583.0 565.3h0M582.2 562.3h0M582.7 569.9h0M582.6 571.2h0M582.9 571.8h0M583.7 564.3h0M582.4 578.5h0M583.7 571.2h0M582.8 565.3h0M583.5 577.5h0M583.5 582.1h0M583.4 562.3h0M582.5 572.3h0M583.3 575.5h0M582.4 563.2h0M582.3 581.5h0M582.4 581.1h0M583.1 559.2h0M582.7 560.6h0M582.1 572.3h0M583.0 557.1h0M583.6 574.3h0M583.7 556.5h0M583.0 580.9h0M583.4 578.8h0M583.3 574.4h0M582.8 582.6h0M583.2 560.9h0M582.1 568.4h0M583.6 562.7h0M582.6 569.1h0M583.6 584.0h0M583.6 585.4h0M582.3 569.1h0M582.8 583.3h0M582.2 564.2h0M582.0 571.1h0M583.7 585.4h0M582.5 561.5h0M583.3 556.9h0M583.0 557.8h0M582.3 563.7h0M583.1 582.5h0M582.5 577.7h0M583.1 568.5h0M583.1 573.1h0M583.1 578.0h0M582.5 563.0h0M582.8 582.8h0M583.6 576.6h0M582.2 576.1h0M583.3 583.6h0M583.7 562.3h0M583.6 565.9h0M583.6 576.1h0M583.3 563.6h0M582.2 557.4h0M583.5 582.1h0M582.3 566.8h0M583.7 583.1h0M582.5 576.2h0M583.4 580.6h0M582.3 566.9h0M583.2 570.1h0M583.3 583.5h0M583.3 561.6h0M582.6 581.3h0M583.4 585.5h0M582.5 573.1h0M582.7 572.6h0M583.0 570.6h0M583.1 566.9h0M583.5 580.5h0M582.9 566.2h0M583.2 562.5h0M583.3 567.4h0M582.1 584.9h0M583.0 577.3h0M582.3 582.9h0M583.3 568.8h0M582.4 557.2h0M582.6 560.2h0M583.5 575.5h0M582.1 556.9h0M583.2 584.2h0M582.9 565.5h0M583.6 565.9h0M583.0 583.6h0M582.9 570.3h0M582.6 574.1h0M583.7 572.1h0M582.5 564.5h0M583.2 559.3h0M583.4 570.2h0M583.7 576.5h0M583.7 567.6h0M583.4 575.2h0M582.8 574.4h0M583.4 567.8h0M583.2 573.2h0M583.0 573.3h0M583.5 580.9h0M583.1 561.5h0M582.6 590.1h0M582.5 586.9h0M582.0 587.5h0M582.5 586.3h0M583.5 587.3h0M584.8 574.5h0M584.3 567.1h0M584.0 557.6h0M584.8 567.7h0M584.5 563.5h0M584.7 572.9h0M584.3 569.4h0M584.8 557.0h0M583.8 558.8h0M584.6 564.6h0M584.3 566.0h0M583.9 561.3h0M584.2 563.7h0M584.7 568.5h0M584.6 570.6h0M584.4 565.1h0M583.8 561.8h0M584.7 563.9h0M584.6 568.6h0M583.8 562.5h0M584.5 559.9h0M584.6 556.0h0M584.8 572.2h0M583.9 559.0h0M584.2 571.2h0M583.8 573.3h0M584.0 573.4h0M584.7 570.1h0M584.5 563.6h0M584.3 569.1h0M584.1 569.0h0M584.3 567.6h0M584.3 569.6h0M584.4 564.8h0M583.8 565.4h0M584.5 568.8h0M584.3 571.0h0M584.1 558.8h0M584.4 567.7h0M584.1 568.5h0M583.9 565.3h0M584.0 566.7h0M584.8 567.0h0M584.1 572.7h0M584.6 561.5h0M584.6 567.9h0M583.9 574.4h0M583.8 571.9h0M584.6 571.8h0M583.8 572.0h0M584.1 571.5h0M583.9 574.1h0M584.6 570.4h0M584.2 563.9h0M584.6 573.1h0M584.9 571.4h0M583.8 564.4h0M584.5 569.5h0M584.3 565.6h0M583.9 574.6h0M584.8 565.8h0M583.9 563.9h0M584.5 573.5h0M584.4 560.6h0M583.9 566.1h0M584.0 560.1h0M584.7 556.6h0M584.7 563.3h0M583.8 569.2h0M584.8 561.6h0M584.2 572.0h0M584.2 579.2h0M584.1 575.1h0M584.0 576.4h0M584.6 582.4h0M585.7 555.9h0M585.2 569.3h0M586.2 566.1h0M585.9 567.9h0M585.3 560.7h0M586.3 564.8h0M585.2 560.0h0M586.0 573.2h0M586.4 562.7h0M585.8 556.9h0M585.2 567.4h0M584.9 568.1h0M586.3 568.0h0M585.7 564.7h0M586.8 569.8h0M586.2 559.9h0M586.6 558.3h0M585.3 567.6h0M585.2 566.9h0M585.3 568.3h0M585.0 568.4h0M585.4 573.3h0M586.7 568.5h0M584.9 564.3h0M585.6 564.4h0M586.6 562.3h0M586.7 573.0h0M586.4 565.5h0M585.6 557.2h0M585.3 560.6h0M585.6 556.6h0M586.4 570.3h0M586.7 569.9h0M585.8 567.6h0M585.6 558.4h0M585.3 568.6h0M585.4 564.7h0M585.9 556.1h0M586.2 570.6h0M585.9 564.5h0M585.0 556.3h0M585.8 564.0h0M585.5 560.2h0M585.3 567.4h0M585.0 562.8h0M585.8 567.5h0M586.3 564.7h0M586.1 559.4h0M586.7 570.0h0M586.0 556.2h0M586.2 564.7h0M585.8 565.2h0M585.0 572.9h0M585.2 566.0h0M585.9 571.0h0M586.0 559.1h0M586.0 564.3h0M586.1 569.8h0M585.8 565.1h0M586.0 572.6h0M585.4 570.2h0M585.4 563.4h0M585.1 565.7h0M586.6 560.6h0M586.4 564.3h0M585.9 572.4h0M586.0 570.4h0M586.4 566.2h0M586.7 557.2h0M585.4 565.2h0M585.9 569.9h0M585.7 568.9h0M585.0 569.1h0M586.0 570.1h0M586.4 573.2h0M586.6 563.1h0M585.0 559.8h0M585.6 567.1h0M585.5 570.6h0M585.9 561.2h0M585.3 561.9h0M586.2 562.6h0M586.8 565.3h0M585.6 571.3h0M586.1 560.8h0M585.0 568.2h0M585.2 570.3h0M585.5 559.7h0M585.9 566.1h0M585.4 572.4h0M586.2 557.7h0M585.7 562.0h0M585.5 557.0h0M586.2 559.5h0M586.8 568.7h0M586.3 569.7h0M586.8 567.6h0M586.0 564.9h0M585.3 571.3h0M586.2 573.8h0M586.7 574.8h0M585.6 576.2h0M586.3 573.9h0M585.9 575.6h0M586.6 577.0h0M587.8 570.7h0M588.0 561.8h0M588.1 561.2h0M587.3 556.3h0M587.4 556.3h0M587.2 566.6h0M586.8 562.6h0M587.1 565.4h0M588.6 568.3h0M588.6 556.2h0M588.0 569.8h0M587.4 559.4h0M587.0 567.9h0M588.4 566.4h0M587.7 565.6h0M588.4 564.6h0M588.1 571.7h0M587.6 568.1h0M586.8 570.8h0M588.7 568.2h0M588.5 568.1h0M588.4 571.5h0M588.4 570.0h0M587.8 560.5h0M587.8 570.4h0M587.0 561.2h0M587.0 569.2h0M587.5 572.1h0M586.9 565.3h0M587.4 568.6h0M587.0 572.6h0M586.8 567.4h0M587.3 568.7h0M587.2 570.6h0M586.9 565.8h0M587.2 560.4h0M587.6 564.6h0M586.8 555.8h0M588.2 567.8h0M587.4 567.4h0M588.1 567.0h0M587.0 557.2h0M587.9 575.4h0M587.5 573.1h0M589.8 564.2h0M588.7 564.6h0M590.0 568.6h0M589.6 559.6h0M589.9 571.0h0M589.7 564.2h0M589.3 557.1h0M589.9 571.3h0M589.3 570.8h0M588.8 570.6h0M590.3 556.9h0M590.0 571.0h0M589.3 577.3h0M588.8 558.9h0M588.9 575.0h0M590.4 568.5h0M589.9 576.3h0M590.3 565.8h0M590.2 570.0h0M589.0 565.0h0M590.2 573.8h0M589.2 574.0h0M589.7 565.2h0M589.1 563.7h0M589.9 575.3h0M589.1 571.9h0M588.7 562.9h0M588.9 559.9h0M590.0 559.7h0M590.3 571.9h0M589.8 578.9h0M590.2 576.7h0M589.2 564.3h0M589.3 570.5h0M588.9 561.3h0M590.5 566.2h0M590.4 568.9h0M589.9 577.9h0M589.2 561.6h0M590.0 564.5h0M589.5 569.5h0M589.2 565.3h0M590.2 556.2h0M589.5 577.5h0M589.5 570.8h0M589.0 574.3h0M590.1 578.5h0M589.0 568.9h0M590.3 561.6h0M589.1 575.9h0M588.8 572.0h0M589.4 559.3h0M589.3 561.2h0M588.8 575.5h0M589.1 569.9h0M590.2 581.5h0M589.2 580.5h0M591.5 581.5h0M591.4 582.3h0M591.6 570.4h0M591.4 580.2h0M592.0 567.8h0M591.8 566.6h0M591.6 573.9h0M591.4 560.8h0M591.3 579.5h0M592.0 579.6h0M590.6 567.4h0M591.7 576.1h0M590.9 581.4h0M591.4 564.9h0M591.8 568.2h0M590.7 561.6h0M591.2 571.9h0M591.2 576.6h0M590.7 561.9h0M591.3 569.7h0M591.4 572.2h0M591.9 567.1h0M592.0 578.1h0M590.8 569.7h0M591.4 575.2h0M591.7 564.9h0M590.8 562.7h0M590.8 565.5h0M591.6 575.4h0M590.9 579.3h0M590.8 570.6h0M590.7 577.2h0M591.5 557.1h0M591.3 574.6h0M591.7 567.8h0M590.7 579.1h0M591.4 568.1h0M591.4 571.9h0M591.0 579.7h0M591.9 578.2h0M591.9 571.7h0M590.9 561.9h0M591.2 565.6h0M591.7 575.8h0M590.7 571.0h0M591.3 570.5h0M590.7 566.3h0M591.0 559.4h0M590.7 569.0h0M590.9 574.5h0M591.6 571.3h0M591.7 564.5h0M591.5 563.4h0M591.4 564.2h0M591.3 562.8h0M591.7 572.2h0M591.5 579.7h0M591.0 561.9h0M590.9 558.1h0M591.5 578.3h0M591.6 567.0h0M590.7 573.9h0M590.5 566.8h0M591.0 571.8h0M590.5 567.6h0M591.4 573.2h0M591.8 576.2h0M591.4 577.7h0M591.0 575.6h0M590.9 575.5h0M591.5 571.4h0M591.2 558.7h0M591.7 581.5h0M591.4 581.9h0M592.0 579.8h0M591.7 571.4h0M591.5 580.0h0M591.6 581.2h0M591.7 574.4h0M590.8 560.4h0M591.9 566.6h0M591.1 560.8h0M590.6 579.2h0M591.5 566.9h0M591.3 559.7h0M591.2 560.4h0M590.6 570.4h0M590.6 578.1h0M591.0 579.1h0M590.6 559.9h0M591.7 574.4h0M590.5 577.0h0M591.1 564.7h0M591.3 568.6h0M591.8 581.7h0M591.4 573.5h0M591.1 563.6h0M591.0 560.5h0M591.4 575.1h0M590.5 578.5h0M591.2 571.0h0M591.3 580.4h0M591.3 580.0h0M590.7 577.6h0M591.2 562.5h0M591.0 578.6h0M590.8 566.0h0M590.8 571.9h0M591.0 577.5h0M591.7 577.3h0M592.0 579.7h0M591.5 578.1h0M591.4 582.4h0M591.8 574.3h0M590.9 569.0h0M591.9 569.6h0M591.9 559.2h0M591.3 565.6h0M590.8 579.0h0M591.6 566.5h0M591.8 583.8h0M590.8 586.2h0M591.4 584.1h0M591.5 586.7h0M593.0 568.6h0M592.4 567.9h0M592.3 567.8h0M592.3 566.9h0M592.5 564.2h0M592.5 572.2h0M592.9 573.6h0M592.9 565.1h0M593.0 569.3h0M592.4 569.9h0M593.2 573.7h0M593.1 563.4h0M592.4 563.9h0M593.0 571.6h0M592.0 563.2h0M592.5 574.2h0M592.1 565.1h0M592.4 570.8h0M592.2 562.1h0M592.6 567.7h0M593.1 565.9h0M592.9 560.8h0M593.1 561.0h0M592.7 573.4h0M592.5 567.8h0M593.2 566.5h0M592.9 558.3h0M593.0 562.2h0M592.8 571.8h0M592.4 573.6h0M593.0 575.5h0M593.7 563.4h0M593.3 557.1h0M593.9 577.1h0M594.6 570.9h0M594.5 577.9h0M594.5 569.6h0M594.5 561.1h0M594.6 562.1h0M594.2 564.6h0M594.2 572.2h0M593.8 569.8h0M593.5 569.7h0M593.4 572.8h0M593.4 568.8h0M594.4 574.1h0M593.3 569.2h0M593.6 580.7h0M593.6 558.0h0M594.0 559.2h0M594.6 562.4h0M593.5 572.8h0M593.8 570.9h0M594.5 580.3h0M594.0 569.3h0M593.7 576.6h0M594.0 565.0h0M593.4 575.3h0M594.5 562.8h0M593.8 575.5h0M593.6 558.2h0M594.3 572.7h0M593.3 563.9h0M594.5 567.3h0M593.6 558.1h0M593.9 573.0h0M594.1 577.8h0M593.8 569.9h0M593.6 576.2h0M594.2 574.6h0M593.6 574.3h0M594.4 575.2h0M593.4 568.6h0M593.6 569.3h0M593.7 576.1h0M593.4 563.7h0M593.3 582.3h0M593.5 581.7h0M594.9 559.8h0M594.9 568.9h0M595.4 567.7h0M595.0 564.8h0M594.9 569.2h0M595.4 566.3h0M595.2 572.2h0M595.4 568.3h0M595.4 565.1h0M595.5 561.3h0M595.5 559.5h0M595.4 565.5h0M595.4 567.6h0M595.2 571.4h0M595.1 561.1h0M595.3 569.3h0M595.3 566.7h0M595.4 563.8h0M595.3 562.3h0M595.2 576.9h0M597.3 556.5h0M596.3 565.0h0M596.7 565.9h0M596.3 559.7h0M597.5 567.0h0M597.1 571.0h0M596.4 559.8h0M596.7 559.5h0M595.9 574.5h0M596.8 559.8h0M597.0 560.8h0M597.4 557.0h0M595.9 567.4h0M596.1 563.5h0M596.7 571.8h0M597.2 564.6h0M595.8 561.5h0M597.4 563.3h0M595.9 567.9h0M596.9 559.1h0M597.5 565.2h0M595.7 571.6h0M595.8 570.9h0M596.0 563.8h0M597.3 564.2h0M596.3 572.3h0M596.5 572.8h0M596.7 567.8h0M597.2 572.8h0M595.5 559.5h0M596.1 559.9h0M595.9 566.0h0M595.8 564.4h0M596.9 561.1h0M595.6 567.8h0M596.3 571.9h0M595.7 565.1h0M597.4 571.0h0M595.7 563.1h0M595.8 567.6h0M596.8 569.8h0M596.4 567.2h0M595.6 571.0h0M596.2 564.8h0M596.3 556.0h0M597.0 562.5h0M596.6 572.5h0M596.1 574.8h0M595.9 562.8h0M595.8 570.0h0M596.8 561.5h0M597.1 562.3h0M595.8 564.7h0M597.3 560.7h0M595.8 571.7h0M596.6 570.7h0M596.1 571.7h0M596.0 563.9h0M597.2 563.3h0M596.0 568.8h0M596.4 563.0h0M595.8 563.7h0M596.3 565.9h0M597.2 563.4h0M596.3 571.3h0M595.5 561.2h0M595.6 570.2h0M596.2 573.6h0M596.6 566.2h0M595.7 567.1h0M597.1 564.7h0M595.9 564.9h0M596.7 569.7h0M597.1 558.1h0M596.5 562.5h0M596.4 566.2h0M597.4 565.1h0M597.3 559.8h0M595.6 570.4h0M597.4 556.0h0M596.9 563.6h0M596.2 568.4h0M596.1 574.3h0M596.8 563.5h0M595.7 564.4h0M596.7 563.3h0M596.3 556.6h0M596.9 566.1h0M596.7 569.3h0M596.9 561.1h0M595.6 571.0h0M596.5 572.8h0M597.2 559.9h0M597.1 558.5h0M596.9 565.2h0M595.7 565.2h0M596.3 555.8h0M596.7 567.4h0M596.1 555.8h0M597.4 570.9h0M595.8 563.7h0M596.3 574.3h0M596.3 567.3h0M596.6 570.0h0M597.4 564.4h0M597.4 579.7h0M595.8 577.0h0M596.7 578.7h0M597.0 578.4h0M595.9 577.2h0M597.4 575.1h0M598.8 557.4h0M598.1 571.5h0M598.5 561.1h0M598.5 570.4h0M598.1 574.7h0M598.7 558.8h0M598.2 568.8h0M599.2 561.0h0M597.7 560.6h0M597.7 562.7h0M599.0 563.6h0M599.1 564.5h0M598.1 572.7h0M597.6 561.0h0M599.1 559.7h0M598.2 567.6h0M598.5 574.7h0M598.4 558.9h0M598.2 572.6h0M597.8 574.1h0M598.7 567.3h0M598.3 571.9h0M598.7 560.4h0M598.8 569.4h0M598.8 565.4h0M598.1 567.0h0M598.5 557.4h0M597.9 574.7h0M598.1 563.8h0M598.6 566.6h0M597.6 556.8h0M598.6 557.7h0M598.4 574.2h0M598.6 567.0h0M599.0 566.8h0M597.9 564.4h0M598.8 560.9h0M598.2 571.8h0M597.5 561.2h0M599.1 570.1h0M598.8 571.0h0M598.0 563.7h0M597.9 560.0h0M599.1 560.5h0M598.1 559.8h0M599.1 566.9h0M597.8 567.3h0M597.8 558.1h0M598.3 559.8h0M598.5 565.0h0M597.6 557.5h0M599.0 571.4h0M597.5 559.5h0M598.5 571.1h0M597.6 559.9h0M598.9 572.5h0M597.9 560.0h0M597.8 563.5h0M598.5 556.5h0M597.6 574.8h0M598.3 574.6h0M598.4 569.5h0M597.8 565.5h0M598.0 566.7h0M598.7 560.8h0M597.9 572.8h0M597.6 556.6h0M598.5 571.4h0M598.7 570.1h0M597.9 569.7h0M597.6 571.8h0M598.6 557.2h0M598.2 565.7h0M598.9 565.9h0M597.9 574.6h0M599.0 565.7h0M598.7 569.5h0M597.8 563.7h0M598.2 559.7h0M598.3 557.2h0M598.1 565.1h0M597.9 574.2h0M599.0 565.8h0M598.0 563.9h0M598.9 559.9h0M598.0 574.6h0M599.0 571.1h0M598.7 558.6h0M597.6 565.4h0M598.7 576.6h0M598.4 575.3h0M597.7 574.9h0M598.3 586.0h0M599.1 577.5h0M599.9 564.1h0M599.7 565.8h0M600.9 568.6h0M599.8 562.8h0M599.5 569.3h0M599.9 556.5h0M600.3 573.3h0M601.1 569.3h0M600.6 572.3h0M599.9 566.4h0M600.6 575.2h0M600.9 569.4h0M599.7 562.9h0M600.8 562.8h0M599.9 560.9h0M599.6 567.4h0M600.0 556.7h0M601.0 560.9h0M600.1 564.9h0M600.2 562.6h0M600.7 571.8h0M600.8 572.8h0M600.9 573.8h0M600.5 560.5h0M600.3 563.1h0M601.0 562.7h0M599.9 561.9h0M600.1 560.6h0M600.1 566.7h0M599.5 574.6h0M600.6 565.3h0M600.2 563.6h0M600.1 559.4h0M600.8 560.4h0M600.6 564.5h0M600.3 567.6h0M599.3 563.7h0M600.5 574.8h0M601.0 574.0h0M600.4 571.6h0M600.1 575.4h0M599.3 574.2h0M600.7 574.0h0M600.4 563.5h0M599.2 572.0h0M600.4 571.9h0M599.4 562.0h0M601.1 567.9h0M600.5 566.7h0M600.3 565.2h0M600.8 571.1h0M599.7 561.7h0M599.7 568.6h0M600.7 565.5h0M600.2 560.3h0M599.3 557.5h0M599.9 565.9h0M600.0 571.8h0M600.6 566.4h0M600.2 574.4h0M599.4 560.9h0M600.5 564.2h0M600.9 572.3h0M600.3 557.7h0M600.3 555.9h0M599.7 563.6h0M599.7 559.8h0M600.9 556.6h0M599.3 568.7h0M599.7 565.0h0M599.5 573.0h0M599.8 575.3h0M601.0 571.8h0M600.0 575.2h0M599.9 559.3h0M600.0 571.7h0M600.9 565.2h0M600.9 562.7h0M600.6 560.0h0M600.9 564.3h0M599.3 566.5h0M599.4 559.5h0M600.3 568.1h0M600.7 564.4h0M600.5 573.3h0M599.6 574.5h0M599.6 575.1h0M600.7 556.5h0M600.1 556.6h0M600.0 571.0h0M601.1 557.4h0M601.0 558.0h0M599.6 574.9h0M599.9 569.7h0M600.1 561.9h0M599.6 566.4h0M599.9 573.4h0M600.5 560.0h0M600.7 560.8h0M600.4 575.3h0M600.5 567.1h0M600.1 569.7h0M599.7 574.8h0M599.7 570.6h0M599.9 558.7h0M600.4 571.2h0M599.2 572.7h0M599.3 570.4h0M601.0 572.3h0M600.9 563.0h0M600.6 564.8h0M600.9 575.3h0M601.1 563.8h0M600.8 574.0h0M599.3 559.4h0M600.9 573.0h0M600.1 570.8h0M600.6 557.4h0M600.8 559.4h0M600.5 557.1h0M599.5 557.4h0M600.5 576.2h0M600.4 581.8h0M599.2 577.8h0M600.4 575.7h0M600.6 576.2h0M599.2 575.7h0M601.3 573.2h0M602.0 569.7h0M602.2 566.7h0M601.5 565.8h0M601.8 562.6h0M602.0 564.6h0M601.3 570.3h0M602.2 568.5h0M601.9 561.3h0M601.2 563.1h0M601.8 570.8h0M601.2 565.8h0M601.9 568.8h0M601.9 573.2h0M602.1 561.6h0M602.2 566.9h0M602.0 566.3h0M601.1 558.9h0M601.4 568.9h0M601.2 571.4h0M601.1 558.7h0M601.5 571.9h0M601.7 574.5h0M601.9 571.5h0M601.2 566.0h0M601.4 566.6h0M602.0 572.2h0M601.1 569.8h0M601.9 555.9h0M602.2 566.2h0M601.9 570.8h0M601.9 577.8h0M602.9 559.8h0M602.7 559.2h0M602.6 567.1h0M603.3 584.7h0M603.6 559.1h0M603.6 585.8h0M603.1 581.0h0M603.6 556.2h0M603.2 574.3h0M603.2 575.6h0M603.7 557.8h0M603.4 562.7h0M602.6 577.1h0M603.2 556.2h0M602.7 566.6h0M603.3 567.9h0M602.4 560.2h0M603.2 558.9h0M603.5 583.2h0M603.4 578.7h0M602.9 563.3h0M603.7 581.3h0M603.0 563.0h0M603.1 564.9h0M602.6 579.6h0M602.4 573.4h0M603.1 576.6h0M602.7 582.2h0M603.6 583.6h0M603.1 560.1h0M602.6 585.5h0M602.8 569.7h0M602.6 578.4h0M602.7 560.5h0M602.8 582.8h0M603.6 572.4h0M602.5 562.6h0M602.6 556.8h0M602.7 583.7h0M602.9 584.9h0M602.5 565.8h0M603.3 585.8h0M603.1 573.4h0M603.0 578.3h0M603.2 575.2h0M603.7 564.4h0M602.7 573.2h0M602.6 582.0h0M602.4 585.0h0M602.7 557.4h0M603.5 564.8h0M602.8 572.1h0M602.7 572.3h0M603.7 584.6h0M603.2 589.2h0M604.0 556.4h0M604.8 566.9h0M604.2 576.7h0M604.4 562.2h0M604.7 577.9h0M604.1 564.2h0M604.6 576.9h0M604.0 563.8h0M604.1 576.1h0M604.3 562.5h0M604.6 577.5h0M604.4 573.6h0M604.7 571.8h0M604.1 574.8h0M604.4 570.0h0M604.8 562.5h0M603.9 576.4h0M604.0 567.0h0M604.5 567.4h0M603.8 566.3h0M604.8 565.3h0M604.6 575.5h0M604.0 561.4h0M603.9 578.5h0M604.0 558.7h0M603.9 556.2h0M604.2 573.1h0M604.0 572.0h0M604.1 577.7h0M604.3 560.2h0M604.5 556.5h0M604.4 578.9h0M605.5 582.7h0M605.6 566.5h0M605.2 578.8h0M606.0 581.0h0M604.9 559.7h0M604.9 562.1h0M605.8 564.9h0M605.8 569.9h0M605.7 577.6h0M605.7 582.9h0M605.8 567.3h0M605.7 558.3h0M605.1 578.3h0M606.0 581.0h0M605.0 573.1h0M605.1 557.3h0M606.0 564.1h0M605.1 573.4h0M606.0 582.2h0M605.3 562.0h0M605.2 583.1h0M605.9 584.2h0M605.2 575.9h0M605.6 580.2h0M605.9 577.5h0M605.8 585.6h0M605.4 562.3h0M606.0 572.9h0M605.5 574.7h0M605.0 564.5h0M604.9 574.7h0M605.9 574.2h0M605.1 573.7h0M605.2 563.8h0M605.2 576.9h0M604.9 581.8h0M605.9 574.1h0M604.9 556.8h0M605.5 566.4h0M605.8 564.0h0M605.2 563.6h0M605.9 566.8h0M605.6 558.0h0M606.1 578.3h0M605.9 565.3h0M605.6 578.4h0M605.4 571.3h0M606.0 585.4h0M605.3 574.0h0M605.9 573.8h0M605.1 576.9h0M605.7 561.7h0M605.5 574.4h0M605.4 582.0h0M605.3 576.8h0M605.7 570.0h0M605.6 566.6h0M605.8 565.6h0M605.7 574.7h0M606.0 576.5h0M605.9 568.6h0M605.1 560.8h0M605.2 576.6h0M605.5 575.5h0M605.9 581.3h0M605.0 584.8h0M604.9 571.1h0M605.4 568.6h0M604.9 562.0h0M606.0 560.4h0M605.2 580.3h0M605.3 566.1h0M606.1 564.2h0M606.1 568.1h0M604.9 565.7h0M605.1 562.1h0M605.4 585.4h0M605.7 565.8h0M606.0 575.0h0M605.7 579.3h0M606.0 584.1h0M605.1 581.7h0M605.8 573.9h0M605.7 572.8h0M605.8 563.1h0M604.9 570.5h0M606.0 580.8h0M605.3 575.6h0M605.5 560.1h0M606.1 556.8h0M604.9 562.5h0M606.1 575.6h0M605.8 563.0h0M605.1 565.4h0M605.5 584.7h0M605.3 582.2h0M605.0 562.7h0M605.1 571.7h0M605.5 581.4h0M604.9 593.7h0M605.2 586.1h0M605.4 586.0h0M607.0 571.7h0M607.2 566.2h0M607.8 564.5h0M607.8 560.5h0M607.0 578.6h0M606.9 565.1h0M607.3 573.4h0M606.7 562.9h0M606.9 575.1h0M606.5 580.4h0M607.4 580.5h0M606.6 577.0h0M606.2 574.7h0M607.2 560.8h0M608.0 560.7h0M607.9 582.3h0M606.7 559.3h0M607.8 571.7h0M607.3 562.9h0M606.2 580.3h0M606.3 572.9h0M607.4 559.7h0M606.7 575.5h0M606.4 578.7h0M607.4 583.2h0M607.7 563.9h0M606.8 571.7h0M607.9 571.1h0M607.1 580.0h0M607.5 583.2h0M606.9 561.3h0M606.5 566.3h0M608.0 561.0h0M606.4 568.3h0M607.5 572.0h0M607.0 581.4h0M606.6 574.5h0M607.9 578.6h0M607.6 573.8h0M607.3 583.5h0M607.1 558.6h0M607.4 563.1h0M606.7 575.5h0M606.2 573.2h0M607.3 557.3h0M606.7 580.3h0M607.6 563.5h0M607.7 576.9h0M607.4 574.9h0M607.8 565.5h0M607.8 569.0h0M606.9 561.3h0M608.0 584.4h0M606.9 583.8h0M607.5 574.8h0M606.5 577.3h0M606.7 576.9h0M607.6 583.8h0M608.0 583.2h0M607.6 558.4h0M607.1 584.8h0M606.8 582.9h0M607.0 561.6h0M607.4 577.6h0M607.0 583.4h0M606.2 573.3h0M606.6 562.4h0M607.8 569.0h0M606.4 571.7h0M606.5 560.4h0M608.0 587.8h0M606.7 585.3h0M608.3 570.1h0M608.9 571.7h0M608.9 572.1h0M608.4 568.9h0M608.5 558.2h0M608.4 568.3h0M608.1 562.3h0M608.8 568.7h0M608.3 571.9h0M608.2 562.0h0M608.9 557.9h0M608.9 566.8h0M608.7 558.5h0M608.4 559.1h0M608.7 559.8h0M608.2 570.9h0M609.0 563.3h0M608.6 563.2h0M608.4 564.1h0M608.9 564.9h0M609.4 566.0h0M608.9 565.2h0M608.8 565.3h0M608.5 559.0h0M609.4 570.9h0M608.6 569.4h0M609.0 570.8h0M608.2 562.3h0M609.3 564.1h0M608.4 560.4h0M609.3 558.8h0M608.2 565.4h0M608.4 570.7h0M608.2 570.9h0M608.1 572.1h0M608.3 572.9h0M609.0 566.6h0M608.5 571.0h0M608.2 557.6h0M608.7 563.9h0M609.5 571.7h0M609.1 563.2h0M608.9 572.5h0M608.5 556.1h0M609.3 565.9h0M609.3 572.8h0M609.4 562.0h0M608.1 565.5h0M608.9 569.4h0M609.1 565.6h0M608.4 569.9h0M609.3 572.4h0M609.2 571.3h0M608.3 567.4h0M608.3 567.4h0M609.2 563.4h0M608.3 570.6h0M609.3 570.6h0M608.5 566.9h0M609.2 562.9h0M608.6 565.7h0M608.8 564.9h0M609.4 566.4h0M608.8 564.4h0M608.1 562.1h0M609.3 572.6h0M609.3 561.8h0M609.3 566.7h0M608.1 566.7h0M609.3 561.2h0M608.8 562.3h0M608.3 572.0h0M608.8 563.0h0M609.0 568.5h0M608.2 565.7h0M608.8 572.5h0M609.4 560.3h0M609.5 574.2h0M609.1 575.0h0M608.3 576.0h0M609.4 574.2h0M609.9 569.2h0M609.6 563.0h0M610.2 567.9h0M610.2 577.3h0M610.3 574.7h0M610.2 571.6h0M610.1 564.1h0M609.5 578.1h0M609.6 576.3h0M610.0 563.8h0M610.1 573.0h0M610.1 562.7h0M610.3 564.7h0M610.0 572.1h0M610.3 577.9h0M609.5 573.6h0M610.3 574.9h0M610.0 569.2h0M610.5 575.4h0M610.4 568.5h0M609.5 559.0h0M609.8 559.8h0M609.8 563.0h0M610.3 568.5h0M609.9 562.4h0M610.3 570.3h0M609.7 566.8h0M610.1 571.8h0M610.3 563.1h0M610.4 574.3h0M610.0 564.9h0M610.0 577.7h0M609.6 583.0h0M611.3 561.3h0M610.7 562.1h0M611.1 568.3h0M610.7 562.9h0M610.6 560.9h0M610.7 563.8h0M611.3 571.5h0M611.0 561.1h0M611.3 569.6h0M611.6 572.4h0M610.7 568.7h0M610.8 569.4h0M610.8 566.0h0M610.7 571.0h0M610.8 561.1h0M611.4 563.5h0M610.8 562.3h0M610.9 559.9h0M610.8 557.1h0M610.8 563.9h0M611.6 570.3h0M610.6 571.3h0M610.6 561.0h0M611.3 565.7h0M610.9 561.2h0M610.9 561.5h0M611.3 566.1h0M611.5 566.9h0M611.5 566.0h0M611.6 567.5h0M611.5 567.6h0M611.0 560.7h0M610.6 573.5h0M610.7 561.4h0M611.6 573.9h0M611.1 569.8h0M610.8 562.0h0M611.2 579.0h0M610.8 579.0h0M613.2 556.2h0M613.2 567.5h0M612.8 570.5h0M612.8 563.7h0M612.2 567.5h0M611.9 568.3h0M612.3 573.6h0M612.3 559.8h0M612.5 559.8h0M613.1 571.2h0M613.0 571.4h0M612.4 562.5h0M612.5 569.4h0M612.9 573.9h0M612.7 574.7h0M613.0 565.9h0M611.9 557.5h0M612.9 561.9h0M612.9 566.8h0M612.3 559.5h0M612.8 567.1h0M612.2 564.1h0M612.0 563.0h0M611.9 563.1h0M613.0 564.9h0M612.6 561.2h0M612.9 574.3h0M611.7 567.4h0M611.7 566.7h0M612.4 570.6h0M612.8 565.2h0M611.7 570.5h0M612.9 572.0h0M612.8 557.1h0M611.9 573.1h0M612.9 570.4h0M611.8 569.1h0M612.0 573.0h0M612.7 564.6h0M611.8 565.0h0M611.8 561.1h0M612.5 572.1h0M612.0 564.3h0M613.1 563.4h0M613.0 573.0h0M613.0 561.0h0M612.4 571.8h0M612.0 568.8h0M612.9 558.4h0M612.8 570.9h0M611.7 574.0h0M613.0 568.8h0M611.9 559.3h0M612.7 570.7h0M612.9 560.0h0M612.0 569.4h0M613.1 570.3h0M612.6 570.2h0M612.5 565.6h0M611.8 565.3h0M612.9 572.5h0M612.5 555.8h0M612.9 568.1h0M612.0 563.2h0M612.3 574.1h0M613.2 565.0h0M612.5 573.3h0M611.7 562.1h0M612.7 564.8h0M613.0 565.6h0M613.2 563.1h0M612.1 572.0h0M612.9 570.6h0M612.1 560.7h0M612.9 568.1h0M612.8 559.7h0M612.3 569.0h0M612.7 565.8h0M612.0 579.9h0M612.6 576.7h0M612.9 576.0h0M612.2 579.4h0M614.5 558.4h0M614.5 561.9h0M614.0 567.5h0M614.5 566.2h0M613.3 566.5h0M613.6 569.3h0M614.0 563.2h0M613.3 561.8h0M613.8 562.3h0M613.7 570.9h0M613.4 572.0h0M613.3 564.5h0M613.8 558.0h0M614.6 572.4h0M613.4 572.5h0M614.3 565.8h0M614.6 569.8h0M613.5 559.8h0M614.5 557.5h0M614.2 560.7h0M614.2 569.4h0M614.2 560.1h0M613.3 558.7h0M614.4 557.6h0M613.9 565.7h0M614.4 558.1h0M614.0 570.8h0M613.6 562.4h0M614.1 562.6h0M614.4 567.9h0M613.4 558.8h0M613.8 560.7h0M613.6 567.0h0M613.5 557.1h0M614.3 561.4h0M613.7 560.0h0M613.9 562.3h0M614.2 556.5h0M613.3 562.2h0M613.8 561.4h0M613.4 560.5h0M613.3 568.9h0M613.9 563.6h0M613.9 570.9h0M613.9 558.3h0M614.3 569.0h0M613.4 561.9h0M613.8 571.8h0M613.7 565.3h0M613.3 562.0h0M614.5 567.0h0M613.3 565.8h0M613.7 568.3h0M613.5 559.8h0M614.6 564.5h0M614.2 563.5h0M613.6 570.3h0M613.7 563.3h0M613.4 556.2h0M614.2 567.3h0M613.5 569.8h0M613.4 560.0h0M613.5 560.2h0M614.5 573.4h0M613.6 573.6h0M614.4 577.0h0M614.1 575.5h0M616.0 567.9h0M615.3 571.1h0M615.8 562.1h0M615.7 556.9h0M615.9 572.0h0M614.8 569.4h0M616.0 560.4h0M615.0 569.8h0M614.8 558.3h0M615.0 567.8h0M615.7 556.4h0M616.1 575.6h0M616.1 569.9h0M616.0 564.3h0M615.2 566.6h0M616.1 564.2h0M615.5 576.0h0M614.9 576.8h0M615.7 574.4h0M614.8 560.2h0M615.5 564.5h0M616.0 574.8h0M615.7 559.1h0M615.9 570.3h0M615.8 567.2h0M616.0 576.3h0M615.8 563.5h0M615.8 564.6h0M615.6 566.4h0M615.4 575.2h0M615.7 576.0h0M615.7 559.3h0M615.1 561.0h0M615.7 565.8h0M616.0 564.5h0M615.2 564.1h0M616.1 567.3h0M615.2 561.0h0M614.8 568.0h0M616.1 577.0h0M616.1 557.2h0M615.7 561.2h0M614.7 567.5h0M615.2 570.8h0M616.2 567.4h0M615.3 564.0h0M615.6 568.3h0M615.5 577.9h0M615.4 564.2h0M615.4 564.6h0M615.7 569.0h0M616.2 557.9h0M615.1 571.0h0M615.6 567.0h0M614.7 562.0h0M616.1 570.8h0M615.6 577.7h0M615.4 577.3h0M616.1 575.5h0M615.0 561.2h0M615.6 566.3h0M615.3 567.6h0M615.8 564.6h0M615.7 577.5h0M615.0 578.6h0M615.8 558.4h0M615.6 573.7h0M616.1 564.0h0M615.0 562.0h0M614.7 578.5h0M616.1 570.5h0M614.6 570.1h0M615.2 577.2h0M614.9 563.9h0M615.7 560.0h0M615.1 564.5h0M615.3 573.3h0M615.0 576.2h0M615.2 563.7h0M616.0 559.7h0M615.4 566.1h0M614.9 563.1h0M615.5 562.2h0M615.9 567.6h0M615.3 574.2h0M615.5 559.1h0M615.7 568.1h0M615.5 559.1h0M616.0 557.2h0M615.9 574.5h0M614.7 559.3h0M614.9 573.0h0M614.9 557.4h0M616.1 572.6h0M615.3 565.1h0M614.7 564.8h0M615.5 561.4h0M616.0 563.7h0M615.6 572.0h0M614.7 569.8h0M616.2 561.9h0M615.5 556.0h0M615.6 578.3h0M615.0 576.9h0M614.6 574.0h0M615.5 570.9h0M615.2 571.1h0M615.5 563.1h0M616.1 563.9h0M615.9 568.8h0M615.7 560.2h0M615.1 572.0h0M616.1 575.9h0M615.3 564.0h0M614.8 565.6h0M615.4 580.3h0M615.3 580.7h0M616.1 583.1h0M615.4 581.1h0M615.7 580.7h0M616.6 566.0h0M617.5 561.4h0M617.2 560.2h0M616.7 559.7h0M616.8 573.2h0M616.8 558.0h0M616.7 568.0h0M616.3 570.7h0M616.7 572.1h0M617.3 570.5h0M616.3 571.7h0M616.5 566.6h0M616.4 564.1h0M616.9 570.0h0M616.9 564.3h0M616.9 563.0h0M616.5 570.1h0M617.3 560.5h0M616.5 567.3h0M616.9 559.9h0M617.3 567.1h0M617.0 555.7h0M617.1 555.8h0M617.4 556.8h0M617.0 562.0h0M616.8 560.3h0M616.9 566.3h0M616.9 570.1h0M617.0 558.7h0M616.6 569.8h0M617.1 569.2h0M616.3 569.8h0M616.3 561.5h0M617.4 569.5h0M616.6 564.6h0M617.4 557.2h0M616.7 566.6h0M616.9 568.2h0M617.2 564.5h0M616.7 570.1h0M616.5 566.0h0M617.1 557.4h0M616.3 571.9h0M616.2 563.2h0M616.3 558.6h0M617.3 566.0h0M617.3 560.7h0M617.4 568.9h0M616.9 562.9h0M616.8 561.1h0M617.1 560.6h0M617.5 567.8h0M616.4 563.6h0M617.2 570.6h0M616.3 572.8h0M616.3 571.0h0M616.5 569.3h0M617.0 578.5h0M616.9 574.9h0M617.3 575.5h0M618.5 573.3h0M617.8 572.2h0M618.2 565.0h0M618.3 570.4h0M618.0 575.6h0M617.5 569.7h0M617.8 562.3h0M618.1 565.9h0M618.4 571.1h0M618.6 562.9h0M618.6 556.0h0M618.6 561.7h0M617.8 567.5h0M618.5 560.2h0M618.0 574.9h0M618.0 562.8h0M618.2 560.9h0M618.3 558.9h0M618.5 566.5h0M618.2 563.4h0M617.7 566.4h0M617.7 569.7h0M617.7 572.2h0M617.6 560.4h0M618.0 562.7h0M618.3 575.0h0M618.0 574.0h0M618.2 571.0h0M618.6 570.4h0M617.6 575.4h0M618.2 567.4h0M617.8 562.6h0M617.7 574.0h0M618.5 570.2h0M617.6 565.2h0M617.7 561.3h0M617.7 565.6h0M618.3 557.0h0M617.7 561.6h0M618.2 565.6h0M618.0 563.9h0M617.7 571.3h0M617.8 563.4h0M618.3 563.5h0M617.8 572.5h0M618.5 574.7h0M617.6 574.0h0M617.6 564.9h0M618.0 564.6h0M617.8 556.8h0M618.6 564.7h0M617.6 569.4h0M618.5 563.7h0M617.6 569.1h0M617.8 568.3h0M618.5 558.2h0M618.0 562.8h0M618.5 573.6h0M618.4 562.5h0M618.6 571.0h0M617.8 562.8h0M618.6 556.8h0M617.6 560.5h0M618.4 559.0h0M618.5 581.1h0M618.6 580.6h0M617.6 578.0h0M618.7 572.0h0M618.8 570.8h0M619.1 564.6h0M619.1 563.0h0M618.8 561.4h0M619.0 573.1h0M619.4 561.1h0M619.2 560.8h0M618.7 556.3h0M619.5 564.6h0M619.2 563.4h0M619.4 570.6h0M619.3 568.9h0M619.0 568.9h0M619.5 563.2h0M619.0 558.1h0M619.2 561.4h0M618.9 566.1h0M618.7 572.0h0M619.6 565.5h0M619.4 562.0h0M618.9 568.4h0M618.9 568.2h0M619.6 564.7h0M618.8 568.2h0M618.7 562.8h0M618.9 573.4h0M619.4 566.1h0M619.1 561.2h0M618.9 556.9h0M619.2 565.0h0M619.0 558.6h0M619.5 563.9h0M618.8 566.9h0M619.6 571.5h0M619.4 570.7h0M618.7 564.1h0M618.8 572.6h0M619.6 570.8h0M619.1 561.1h0M619.5 571.4h0M618.7 560.3h0M618.8 558.9h0M618.8 566.4h0M618.7 561.0h0M619.1 572.4h0M619.2 557.4h0M619.6 560.6h0M619.5 560.8h0M619.1 557.0h0M618.9 566.8h0M619.3 559.5h0M618.7 562.8h0M618.8 573.7h0M619.4 561.1h0M619.0 581.8h0M619.0 574.3h0M618.8 577.5h0M621.3 580.9h0M619.6 563.9h0M620.9 559.5h0M619.8 564.9h0M620.8 582.5h0M620.7 560.6h0M619.8 561.0h0M621.2 564.3h0M620.1 570.8h0M620.7 575.9h0M620.2 580.2h0M620.3 564.9h0M619.7 569.6h0M621.1 558.3h0M620.0 569.5h0M619.8 574.5h0M620.4 566.1h0M620.8 567.5h0M619.7 577.4h0M621.3 574.7h0M621.0 578.6h0M621.2 565.4h0M620.6 557.2h0M620.3 570.5h0M621.2 562.9h0M621.1 568.3h0M621.2 571.6h0M620.4 577.9h0M621.3 559.7h0M620.5 563.2h0M620.2 582.7h0M621.2 573.3h0M620.5 574.6h0M619.8 575.3h0M620.6 562.0h0M620.1 578.8h0M620.1 566.3h0M621.2 568.5h0M619.8 564.1h0M620.9 562.6h0M619.8 581.4h0M621.0 565.6h0M619.7 559.1h0M621.0 572.5h0M620.7 558.9h0M619.8 571.0h0M621.2 568.9h0M620.3 558.5h0M620.5 560.2h0M621.1 570.5h0M620.6 570.5h0M620.4 565.7h0M620.7 566.8h0M620.3 560.1h0M620.7 580.5h0M620.6 580.5h0M620.1 582.3h0M620.5 575.6h0M620.8 580.0h0M620.1 563.4h0M620.2 579.0h0M619.8 579.8h0M620.0 564.0h0M619.8 566.8h0M620.6 556.2h0M621.2 570.7h0M620.5 560.7h0M620.0 568.6h0M620.5 570.8h0M620.7 562.9h0M619.8 580.9h0M620.7 581.3h0M621.3 572.6h0M620.9 567.4h0M620.9 566.5h0M621.0 568.3h0M620.9 559.3h0M620.6 581.4h0M620.2 560.9h0M620.9 565.1h0M620.5 569.6h0M620.7 577.6h0M620.2 563.3h0M621.0 570.1h0M621.0 570.2h0M620.9 573.0h0M620.7 571.1h0M620.7 570.0h0M620.3 574.8h0M619.7 564.5h0M620.0 563.1h0M619.8 571.2h0M620.3 582.6h0M620.3 581.2h0M620.1 576.8h0M619.8 557.1h0M619.8 561.0h0M620.5 575.3h0M620.9 574.3h0M620.7 579.6h0M621.1 565.2h0M620.0 562.5h0M619.8 580.0h0M619.7 579.5h0M621.2 562.8h0M619.7 562.8h0M619.8 560.1h0M619.6 574.9h0M621.2 559.1h0M620.5 561.1h0M621.1 578.3h0M620.4 580.0h0M620.5 562.0h0M620.5 561.3h0M620.2 571.3h0M619.7 566.7h0M619.7 581.4h0M620.5 570.4h0M621.2 563.9h0M620.5 573.4h0M620.3 566.3h0M619.9 577.5h0M620.9 562.5h0M620.8 571.4h0M620.9 563.4h0M620.3 556.5h0M620.6 576.5h0M620.6 568.2h0M619.6 580.9h0M621.0 591.9h0M620.4 585.7h0M620.3 585.1h0M620.4 583.7h0M622.0 575.4h0M621.9 567.0h0M622.9 572.0h0M621.8 561.9h0M621.8 560.9h0M622.5 565.6h0M622.0 577.1h0M621.6 570.6h0M622.5 562.5h0M621.5 570.4h0M623.1 558.2h0M621.8 577.0h0M622.4 573.0h0M621.5 556.1h0M622.7 571.2h0M621.9 576.4h0M622.6 571.7h0M622.4 563.4h0M622.8 569.3h0M622.5 575.3h0M622.0 560.5h0M622.9 567.2h0M621.4 557.9h0M623.1 572.0h0M622.1 568.9h0M622.4 577.0h0M621.5 565.4h0M622.1 561.1h0M622.4 573.1h0M622.5 558.5h0M621.5 571.0h0M623.1 558.2h0M621.5 565.5h0M622.7 577.9h0M622.1 564.9h0M621.7 571.0h0M622.0 569.2h0M622.4 572.2h0M622.5 575.6h0M622.2 569.3h0M621.6 573.9h0M622.5 563.9h0M623.0 560.6h0M621.5 573.8h0M621.9 566.0h0M622.8 567.1h0M622.4 573.8h0M621.4 558.9h0M622.4 577.7h0M622.4 559.2h0M622.5 560.3h0M622.9 577.1h0M623.2 571.5h0M622.0 558.1h0M622.6 563.1h0M621.5 573.9h0M622.5 564.1h0M622.7 560.0h0M622.6 578.0h0M622.9 556.4h0M623.1 561.4h0M621.4 575.8h0M622.4 558.7h0M622.0 578.1h0M621.5 568.1h0M621.5 571.5h0M621.4 565.2h0M622.4 563.4h0M621.4 564.3h0M622.8 570.0h0M622.6 566.6h0M622.9 572.4h0M622.6 563.4h0M622.5 564.8h0M621.6 576.0h0M621.6 558.1h0M622.6 564.8h0M623.0 562.4h0M622.1 557.2h0M621.5 567.2h0M622.7 570.4h0M622.6 566.0h0M621.9 564.5h0M621.9 563.5h0M622.9 559.6h0M623.0 564.3h0M621.6 574.5h0M622.5 572.7h0M621.8 568.8h0M621.5 573.7h0M622.9 577.3h0M622.3 570.2h0M621.5 564.4h0M623.1 568.8h0M622.9 567.9h0M622.5 567.5h0M622.4 564.4h0M621.5 577.3h0M621.6 556.7h0M621.5 567.2h0M622.2 561.0h0M622.8 574.2h0M622.7 555.9h0M623.2 565.1h0M623.0 556.9h0M623.1 561.6h0M622.8 570.9h0M622.9 568.8h0M622.5 563.6h0M622.4 564.5h0M623.0 566.9h0M621.5 568.5h0M622.6 567.0h0M621.9 573.4h0M622.4 559.6h0M622.0 556.8h0M622.1 559.8h0M621.7 572.8h0M622.0 576.1h0M622.4 576.6h0M621.7 574.5h0M621.7 575.4h0M622.7 568.1h0M622.5 578.5h0M623.0 581.5h0M622.1 579.8h0M621.7 579.1h0M621.7 581.7h0M621.9 579.6h0M623.5 573.1h0M623.5 564.0h0M624.0 569.9h0M623.4 577.8h0M623.6 578.4h0M624.1 570.8h0M624.0 577.9h0M624.1 565.2h0M623.9 580.7h0M624.2 566.9h0M623.7 572.2h0M623.7 571.9h0M623.7 571.6h0M623.8 570.5h0M624.2 565.0h0M623.3 565.2h0M623.8 564.9h0M623.7 573.1h0M623.9 581.2h0M623.9 583.6h0M623.5 557.0h0M624.1 581.6h0M624.0 556.7h0M623.6 568.6h0M623.6 565.0h0M624.0 560.9h0M623.2 569.4h0M624.1 573.4h0M624.1 576.1h0M624.0 574.7h0M623.7 567.1h0M623.4 564.5h0M623.4 560.7h0M623.3 579.4h0M624.0 582.1h0M623.7 574.4h0M623.5 571.2h0M623.3 570.0h0M623.9 566.3h0M623.9 582.6h0M623.3 564.8h0M623.4 576.9h0M623.9 582.1h0M623.7 583.6h0M624.0 561.9h0M623.6 565.0h0M623.5 564.4h0M623.5 570.4h0M623.6 566.4h0M623.6 570.8h0M623.7 584.1h0M623.3 569.7h0M623.3 556.5h0M623.9 568.3h0M623.3 573.5h0M624.0 561.7h0M623.3 579.1h0M623.6 569.0h0M623.9 558.0h0M623.5 559.2h0M623.4 558.0h0M624.1 564.2h0M623.9 580.9h0M623.9 574.4h0M624.1 576.9h0M624.1 576.9h0M624.0 583.1h0M624.0 574.8h0M624.1 570.2h0M623.8 566.2h0M623.6 577.2h0M624.0 563.5h0M624.0 583.2h0M623.3 565.5h0M624.0 574.6h0M623.9 567.3h0M624.0 563.2h0M623.9 579.8h0M623.2 569.8h0M623.5 564.7h0M623.7 571.9h0M623.4 585.0h0M623.6 589.3h0M624.2 572.2h0M624.3 570.6h0M624.8 564.9h0M624.7 559.9h0M624.6 569.2h0M624.5 570.3h0M625.1 562.9h0M624.3 565.1h0M625.1 569.8h0M624.3 574.3h0M625.0 568.7h0M625.1 570.2h0M624.5 563.5h0M624.7 567.8h0M624.6 560.5h0M624.6 575.9h0M625.1 569.9h0M624.8 569.9h0M624.3 568.6h0M625.0 567.3h0M625.0 564.3h0M624.7 568.3h0M624.3 568.8h0M625.1 574.5h0M624.7 571.3h0M624.6 560.7h0M625.0 572.4h0M624.9 563.8h0M624.5 560.0h0M624.4 561.2h0M624.2 568.4h0M624.2 567.8h0M624.3 575.1h0M624.7 578.6h0M625.2 565.2h0M626.2 573.1h0M625.6 565.8h0M625.9 572.6h0M625.6 571.0h0M625.6 573.1h0M625.3 582.1h0M626.3 577.9h0M625.6 582.2h0M625.8 569.1h0M626.3 575.7h0M626.1 559.3h0M626.0 560.8h0M626.5 562.6h0M625.8 563.1h0M625.6 573.8h0M625.4 573.9h0M625.5 567.6h0M625.3 586.7h0M625.6 562.9h0M625.3 565.1h0M626.3 560.2h0M625.4 582.1h0M626.3 565.0h0M625.8 560.3h0M625.5 566.0h0M626.2 581.6h0M625.5 560.1h0M626.1 562.1h0M625.5 580.4h0M625.2 574.8h0M625.2 563.0h0M625.9 580.4h0M625.7 583.6h0M625.4 573.6h0M625.6 581.5h0M625.6 572.1h0M626.2 576.1h0M626.0 570.2h0M626.3 560.3h0M626.4 563.7h0M625.4 580.1h0M625.7 572.2h0M626.2 584.1h0M625.6 574.7h0M626.0 568.2h0M625.9 585.0h0M626.2 579.9h0M626.0 566.2h0M625.7 569.2h0M625.3 579.0h0M626.0 568.1h0M625.6 576.9h0M625.9 588.1h0M627.4 565.7h0M627.1 563.6h0M627.3 564.6h0M627.9 573.2h0M627.0 564.0h0M626.7 561.7h0M627.1 570.3h0M628.0 562.2h0M627.8 566.6h0M626.8 575.2h0M626.9 564.1h0M626.9 561.1h0M628.0 564.5h0M627.7 557.6h0M627.3 576.9h0M627.4 567.9h0M627.5 564.5h0M627.3 559.8h0M626.6 572.0h0M627.4 570.3h0M627.5 575.5h0M627.2 570.9h0M626.8 562.7h0M626.7 569.2h0M626.6 566.1h0M627.0 572.9h0M627.1 565.8h0M627.0 576.2h0M627.1 565.1h0M627.7 565.9h0M626.9 563.8h0M627.8 571.9h0M627.1 571.1h0M626.8 558.5h0M627.9 570.4h0M627.2 570.8h0M626.9 556.5h0M627.4 559.8h0M627.8 563.1h0M627.6 574.3h0M627.7 571.2h0M626.8 560.0h0M627.6 560.8h0M627.7 560.4h0M628.0 568.2h0M626.8 571.8h0M626.8 570.4h0M626.7 571.9h0M627.4 576.6h0M627.7 576.5h0M626.9 575.0h0M628.1 575.7h0M627.7 560.7h0M627.2 557.2h0M627.7 573.9h0M628.0 565.0h0M627.5 571.3h0M627.9 567.8h0M627.7 574.9h0M626.6 563.5h0M628.1 565.9h0M626.9 576.5h0M627.9 563.0h0M627.7 576.9h0M627.7 558.2h0M628.0 564.9h0M627.1 562.1h0M626.7 556.4h0M626.5 564.9h0M627.2 575.0h0M628.1 563.5h0M627.8 559.2h0M627.4 566.1h0M626.9 567.0h0M627.8 559.9h0M626.7 562.2h0M627.2 576.0h0M627.1 566.6h0M627.6 575.3h0M627.1 562.4h0M627.3 561.9h0M626.7 560.6h0M627.9 563.0h0M627.7 574.9h0M627.6 565.0h0M626.5 569.5h0M627.6 556.4h0M627.6 569.4h0M626.9 567.7h0M626.6 570.4h0M628.1 560.8h0M627.2 569.9h0M628.1 563.1h0M626.8 565.5h0M627.9 564.7h0M626.5 577.0h0M626.6 561.1h0M627.7 560.6h0M628.0 578.5h0M627.2 579.2h0M627.4 582.3h0M627.8 580.2h0M629.3 568.6h0M629.2 567.6h0M628.6 572.9h0M629.1 574.1h0M629.1 561.9h0M629.0 567.6h0M629.7 562.5h0M629.7 574.9h0M628.7 568.2h0M629.0 573.9h0M629.4 560.7h0M629.0 572.8h0M629.3 572.2h0M629.8 567.4h0M628.6 560.9h0M628.2 575.8h0M629.5 575.6h0M628.2 566.3h0M629.8 567.5h0M629.7 569.6h0M628.6 575.2h0M629.2 573.2h0M628.7 557.3h0M628.6 574.0h0M628.5 564.1h0M629.3 558.7h0M629.0 570.1h0M628.5 556.4h0M628.8 569.3h0M628.6 561.7h0M629.1 559.9h0M628.9 570.6h0M628.5 570.6h0M628.9 561.9h0M628.8 573.8h0M629.4 571.5h0M628.8 571.5h0M629.3 567.7h0M629.6 556.1h0M629.2 563.0h0M629.0 571.7h0M629.5 571.9h0M629.5 564.6h0M628.2 565.5h0M629.7 578.5h0M628.2 577.9h0M631.0 559.5h0M630.5 563.5h0M630.9 562.8h0M630.5 571.5h0M630.9 564.1h0M630.1 562.9h0M631.1 562.7h0M630.2 571.1h0M630.2 569.2h0M630.4 571.8h0M630.8 565.4h0M631.1 564.5h0M631.0 569.8h0M629.9 565.7h0M630.3 568.3h0M630.4 566.1h0M629.9 568.8h0M630.6 566.1h0M630.4 568.6h0M631.1 571.2h0M630.8 562.1h0M630.8 558.8h0M631.0 568.0h0M630.9 562.8h0M630.1 557.3h0M630.1 564.5h0M630.6 560.1h0M630.5 561.0h0M630.9 563.7h0M630.6 566.6h0M630.7 570.4h0M630.1 562.3h0M631.2 563.3h0M630.6 567.1h0M630.4 557.1h0M630.4 557.2h0M631.1 569.8h0M631.0 558.8h0M630.1 560.9h0M630.2 561.1h0M630.5 565.1h0M630.7 556.0h0M631.1 570.3h0M631.2 564.0h0M630.2 557.0h0M630.3 561.9h0M631.0 556.7h0M630.3 572.2h0M630.2 557.4h0M630.7 562.9h0M630.9 558.3h0M630.0 570.6h0M630.2 562.7h0M631.0 574.4h0M630.7 573.3h0M630.8 575.4h0M631.6 565.1h0M632.7 570.6h0M631.7 567.1h0M631.2 562.7h0M631.3 570.0h0M633.0 568.8h0M632.2 568.7h0M631.9 557.2h0M631.2 570.0h0M632.2 559.3h0M632.0 562.2h0M632.5 562.7h0M632.6 573.0h0M632.6 572.5h0M631.7 560.0h0M632.2 572.2h0M632.8 557.4h0M633.0 561.4h0M632.9 568.3h0M633.0 561.1h0M632.5 565.2h0M631.8 567.5h0M631.7 569.5h0M631.4 566.6h0M632.7 564.5h0M632.7 560.0h0M633.0 561.8h0M632.1 556.2h0M632.9 562.0h0M632.5 569.5h0M632.7 556.6h0M632.6 565.2h0M632.2 564.2h0M633.0 568.6h0M631.5 565.6h0M633.0 568.8h0M632.2 562.5h0M633.0 566.4h0M632.7 570.2h0M632.6 564.2h0M631.3 556.8h0M632.3 561.1h0M631.5 572.4h0M631.4 568.0h0M631.2 569.0h0M632.6 567.7h0M632.6 556.8h0M631.5 562.0h0M632.3 570.3h0M631.9 563.6h0M632.4 566.2h0M632.2 567.6h0M631.4 572.5h0M631.6 562.6h0M632.8 559.1h0M631.8 569.3h0M632.0 570.2h0M632.4 571.8h0M632.0 562.4h0M631.9 567.6h0M631.4 571.5h0M633.0 569.6h0M632.8 566.7h0M631.5 556.3h0M631.7 566.6h0M632.7 571.0h0M631.4 566.5h0M632.7 572.9h0M631.7 566.1h0M631.4 572.6h0M631.3 563.5h0M631.3 572.1h0M632.9 561.7h0M631.9 563.2h0M632.4 559.3h0M631.6 564.3h0M632.2 561.7h0M632.4 572.3h0M632.6 557.8h0M632.2 557.9h0M632.0 562.7h0M631.4 566.9h0M632.0 570.0h0M632.1 568.3h0M631.3 570.4h0M633.1 567.4h0M632.1 559.9h0M632.5 571.5h0M633.0 570.2h0M632.5 559.0h0M632.9 568.3h0M633.0 560.4h0M632.2 562.2h0M631.3 566.1h0M631.4 556.5h0M631.4 556.2h0M631.8 559.8h0M632.9 562.9h0M632.5 561.2h0M633.0 568.3h0M631.7 570.0h0M631.4 563.8h0M632.8 560.4h0M631.9 576.9h0M632.9 575.1h0M632.5 581.9h0M632.0 573.9h0M631.6 574.8h0M631.9 574.2h0M633.1 574.8h0M633.6 570.6h0M633.5 575.0h0M634.1 561.9h0M633.5 562.0h0M634.3 571.0h0M633.7 567.7h0M633.8 570.6h0M633.4 561.7h0M633.9 568.2h0M633.5 559.1h0M634.2 557.6h0M634.3 569.1h0M634.2 557.2h0M633.9 558.8h0M633.6 574.8h0M633.7 557.5h0M634.0 568.9h0M633.7 567.0h0M633.7 557.7h0M634.0 563.4h0M634.2 559.7h0M633.5 574.4h0M634.1 574.2h0M633.2 566.7h0M633.8 559.9h0M633.9 560.2h0M633.8 569.8h0M633.7 557.2h0M633.4 573.2h0M633.4 561.7h0M634.3 573.0h0M633.9 577.0h0M633.9 568.3h0M633.9 558.4h0M633.5 567.4h0M634.3 572.1h0M633.3 576.9h0M633.5 575.9h0M634.1 563.7h0M633.9 557.1h0M633.4 560.3h0M633.3 569.0h0M633.4 570.9h0M633.6 571.1h0M633.9 571.9h0M633.4 568.5h0M634.2 566.7h0M634.1 557.7h0M633.5 573.3h0M634.3 558.7h0M633.4 566.7h0M633.6 565.0h0M633.5 574.5h0M633.6 563.4h0M633.9 568.2h0M633.4 559.5h0M633.9 567.2h0M633.3 563.1h0M634.3 555.9h0M633.6 570.4h0M633.1 570.6h0M634.0 558.9h0M634.2 560.1h0M633.7 556.3h0M633.5 564.8h0M633.5 557.5h0M634.0 572.2h0M633.4 559.4h0M633.9 568.0h0M634.0 556.3h0M633.4 571.3h0M633.9 575.0h0M634.2 560.9h0M633.5 572.5h0M633.8 573.7h0M634.2 568.5h0M634.0 565.5h0M634.3 564.9h0M634.0 557.4h0M633.6 563.1h0M633.1 560.8h0M633.5 570.5h0M633.5 569.7h0M634.3 561.9h0M633.5 576.7h0M633.9 572.2h0M633.3 568.3h0M633.4 586.8h0M634.0 580.0h0M633.8 578.2h0M633.2 578.8h0M634.7 571.1h0M634.7 567.9h0M635.8 562.4h0M635.1 572.1h0M635.6 556.3h0M635.1 570.8h0M634.8 574.4h0M635.4 573.6h0M634.4 566.4h0M635.1 567.7h0M635.7 564.5h0M634.8 562.0h0M634.4 565.4h0M634.8 556.2h0M635.6 566.6h0M634.8 566.4h0M635.7 569.6h0M634.6 567.3h0M634.5 562.5h0M634.6 571.7h0M635.5 568.3h0M634.6 571.8h0M635.5 564.2h0M635.2 563.6h0M634.6 573.7h0M635.1 560.0h0M634.7 573.4h0M634.6 568.3h0M634.6 569.2h0M634.3 572.3h0M635.0 560.8h0M635.5 561.5h0M635.5 563.4h0M635.2 565.1h0M634.5 565.0h0M635.4 571.5h0M634.8 563.9h0M634.4 556.8h0M634.9 569.3h0M635.3 562.0h0M634.3 573.2h0M634.7 563.0h0M634.4 571.1h0M635.6 561.8h0M635.5 567.6h0M634.8 574.5h0M634.7 569.6h0M634.7 561.1h0M635.4 563.9h0M635.5 572.9h0M635.2 556.5h0M634.9 566.4h0M635.4 557.5h0M634.3 565.0h0M635.1 566.4h0M634.4 572.0h0M635.8 560.6h0M635.4 565.9h0M635.3 559.8h0M635.0 556.7h0M635.7 571.3h0M635.7 566.6h0M634.7 567.4h0M635.5 567.8h0M635.5 564.3h0M635.7 569.4h0M635.0 565.1h0M635.6 559.8h0M635.6 574.5h0M635.3 572.6h0M634.8 557.2h0M635.1 568.4h0M635.2 572.1h0M634.6 574.1h0M634.5 568.4h0M635.0 562.8h0M634.7 564.7h0M635.7 573.7h0M635.3 574.0h0M635.5 559.8h0M634.8 573.0h0M635.3 561.4h0M635.0 568.1h0M635.0 572.4h0M634.4 568.6h0M635.0 568.8h0M635.1 567.2h0M635.8 569.8h0M634.3 558.8h0M635.6 562.6h0M634.6 560.2h0M635.1 558.1h0M634.4 573.1h0M635.5 573.5h0M635.7 564.3h0M635.2 572.2h0M634.6 570.7h0M634.9 556.0h0M635.1 562.9h0M635.4 573.2h0M634.6 557.1h0M634.8 573.3h0M635.1 574.8h0M634.7 575.0h0M635.3 576.7h0M634.8 574.8h0M634.9 574.7h0M635.9 567.6h0M635.9 572.1h0M636.3 567.3h0M636.6 572.6h0M636.4 569.4h0M636.7 568.3h0M636.2 573.8h0M636.5 569.8h0M635.9 565.5h0M636.6 579.1h0M636.8 564.8h0M636.9 574.1h0M636.6 561.0h0M635.9 570.7h0M635.9 577.9h0M636.2 563.5h0M635.9 565.0h0M636.9 556.4h0M636.7 583.4h0M636.3 566.3h0M636.8 575.2h0M636.2 566.8h0M636.0 582.0h0M636.1 582.2h0M636.5 576.1h0M636.9 580.7h0M636.7 566.8h0M636.1 575.8h0M636.0 574.3h0M636.4 574.8h0M636.6 578.8h0M635.9 565.5h0M636.9 564.1h0M636.9 577.9h0M636.4 568.3h0M636.8 576.7h0M636.8 574.5h0M636.0 574.7h0M636.8 593.6h0M637.0 571.3h0M637.9 562.6h0M637.8 567.2h0M637.6 566.7h0M637.0 572.1h0M637.2 555.8h0M637.5 557.8h0M638.0 566.8h0M637.0 555.9h0M637.9 572.7h0M637.8 562.4h0M637.1 574.7h0M637.7 573.3h0M637.7 560.8h0M637.6 571.9h0M637.6 559.5h0M637.4 563.7h0M637.7 565.2h0M637.7 567.4h0M637.8 566.7h0M637.9 563.1h0M637.5 572.1h0M637.7 556.6h0M637.6 574.3h0M637.7 564.1h0M637.5 561.4h0M637.6 573.6h0M637.3 570.8h0M637.3 559.8h0M637.5 571.8h0M637.4 579.1h0M638.6 557.2h0M639.5 560.3h0M639.0 572.9h0M638.8 560.8h0M638.5 561.0h0M638.9 557.1h0M638.3 571.0h0M638.7 561.5h0M638.7 559.7h0M638.2 560.8h0M638.3 567.1h0M639.2 564.7h0M639.6 566.9h0M638.4 570.3h0M639.1 571.6h0M638.9 564.6h0M638.8 560.6h0M639.6 562.8h0M638.6 557.8h0M638.8 563.0h0M639.6 565.1h0M638.7 572.2h0M638.7 560.5h0M638.8 563.0h0M638.7 558.3h0M639.5 572.0h0M638.1 567.5h0M638.6 571.5h0M638.3 569.8h0M639.5 561.2h0M638.1 563.1h0M639.5 562.4h0M638.0 561.6h0M639.3 567.0h0M638.7 564.9h0M638.3 571.7h0M638.1 570.3h0M639.0 567.3h0M639.2 571.2h0M638.7 565.8h0M638.6 568.3h0M638.4 557.5h0M639.3 571.9h0M639.0 567.7h0M638.6 560.6h0M638.1 567.3h0M639.5 565.0h0M639.6 572.8h0M638.9 563.3h0M638.4 572.0h0M639.1 569.1h0M638.7 560.3h0M638.5 557.7h0M638.5 561.8h0M639.0 568.9h0M639.3 565.9h0M638.4 561.9h0M638.2 566.6h0M638.2 570.3h0M638.6 567.4h0M639.1 571.2h0M638.8 568.8h0M638.3 570.4h0M639.2 564.9h0M638.6 561.6h0M639.2 566.2h0M639.1 561.6h0M638.7 555.8h0M639.0 556.3h0M638.7 570.9h0M638.3 570.3h0M638.4 563.8h0M638.9 572.3h0M639.5 558.2h0M638.2 561.6h0M639.5 573.3h0M638.5 562.7h0M638.3 567.8h0M638.2 574.6h0M638.9 577.9h0M638.9 579.0h0M638.1 575.9h0M640.8 557.1h0M640.5 560.9h0M640.4 560.1h0M639.6 563.2h0M640.5 565.1h0M639.9 565.6h0M639.7 566.3h0M641.0 565.4h0M640.8 569.7h0M639.8 563.3h0M640.8 558.5h0M641.0 570.6h0M640.1 576.6h0M640.8 574.1h0M640.7 568.1h0M641.0 563.7h0M640.9 565.4h0M639.6 577.0h0M640.0 573.9h0M640.3 573.3h0M639.7 570.0h0M640.4 573.6h0M639.7 561.4h0M639.9 559.8h0M640.9 564.5h0M639.9 574.7h0M639.9 577.4h0M640.6 565.9h0M641.0 565.7h0M640.8 575.9h0M640.8 564.4h0M640.9 562.1h0M640.8 577.4h0M640.4 568.2h0M640.6 563.6h0M640.7 571.4h0M641.0 573.7h0M639.7 577.0h0M641.0 571.6h0M640.6 562.1h0M639.9 563.8h0M640.9 562.3h0M640.9 568.2h0M640.5 567.9h0M640.3 570.9h0M639.7 559.5h0M640.3 569.1h0M640.8 559.2h0M640.1 568.9h0M639.6 556.4h0M640.8 567.8h0M639.8 560.6h0M640.8 573.6h0M640.0 566.9h0M640.4 575.5h0M640.0 566.7h0M640.5 559.1h0M640.2 574.3h0M640.9 575.2h0M640.2 559.9h0M640.8 563.9h0M640.9 575.4h0M640.4 566.5h0M640.1 563.4h0M639.8 573.1h0M640.5 577.2h0M641.0 558.5h0M641.0 568.3h0M640.9 557.7h0M639.9 574.8h0M640.6 565.8h0M640.7 571.8h0M640.5 560.1h0M640.3 577.1h0M640.2 571.6h0M640.4 577.4h0M641.0 575.6h0M640.3 566.2h0M639.9 572.1h0M640.6 561.6h0M639.8 571.5h0M640.9 557.4h0M639.9 567.3h0M641.0 560.8h0M640.6 560.4h0M640.4 559.4h0M640.6 559.3h0M640.3 560.2h0M639.7 565.5h0M641.0 585.8h0M639.9 580.7h0M639.6 578.1h0M640.1 580.8h0M641.8 567.6h0M642.5 565.2h0M642.0 573.7h0M641.5 580.3h0M641.2 570.1h0M641.2 573.7h0M641.8 567.8h0M641.6 560.8h0M641.8 560.2h0M641.2 567.3h0M641.6 562.1h0M642.6 568.4h0M642.1 562.3h0M641.8 575.2h0M642.3 571.6h0M642.5 579.3h0M642.0 564.5h0M641.8 582.0h0M642.3 578.9h0M642.3 561.4h0M642.1 575.0h0M642.3 562.2h0M641.6 563.4h0M641.4 581.6h0M641.7 573.6h0M642.0 583.1h0M641.8 572.4h0M641.2 578.1h0M641.7 573.7h0M641.2 556.5h0M641.4 571.0h0M642.2 564.7h0M641.3 556.3h0M642.1 561.0h0M642.2 575.0h0M641.9 566.2h0M642.6 573.2h0M642.4 581.2h0M641.2 569.3h0M641.3 580.0h0M641.4 573.7h0M641.3 582.9h0M641.5 560.6h0M641.9 576.6h0M641.6 573.2h0M642.6 559.2h0M642.0 579.1h0M641.7 576.8h0M641.1 567.2h0M642.5 565.7h0M642.5 579.6h0M642.0 559.8h0M641.8 579.2h0M642.1 575.1h0M642.3 585.1h0M641.9 586.9h0M643.6 569.5h0M643.9 568.9h0M643.9 563.9h0M643.1 558.3h0M643.2 566.9h0M643.6 569.4h0M643.8 567.2h0M643.7 571.2h0M643.2 574.5h0M644.0 569.1h0M643.4 572.7h0M643.9 572.6h0M643.6 567.2h0M644.0 565.5h0M643.1 566.6h0M644.1 563.4h0M643.5 558.4h0M643.0 557.3h0M642.7 567.5h0M643.7 562.6h0M643.5 571.2h0M643.8 566.8h0M642.8 571.6h0M643.7 562.3h0M642.7 572.2h0M643.9 572.8h0M642.8 574.8h0M642.7 566.1h0M644.0 562.9h0M643.4 574.7h0M643.2 564.9h0M642.9 566.7h0M644.0 569.9h0M643.7 557.0h0M643.4 563.5h0M643.9 568.3h0M643.8 574.1h0M643.4 572.4h0M642.9 569.1h0M642.7 560.5h0M644.0 571.8h0M644.1 562.9h0M643.5 560.1h0M643.2 572.8h0M643.7 566.2h0M642.9 572.9h0M642.9 569.1h0M642.7 564.0h0M643.8 562.7h0M643.5 564.1h0M643.9 557.1h0M643.3 571.3h0M643.3 563.6h0M643.3 560.8h0M642.7 574.1h0M642.9 565.6h0M643.4 567.3h0M642.6 565.3h0M643.1 562.5h0M643.2 567.0h0M643.8 575.2h0M643.1 572.9h0M643.1 566.2h0M643.8 557.4h0M643.2 572.3h0M643.8 572.2h0M642.7 569.2h0M643.6 566.6h0M643.5 560.1h0M642.8 560.0h0M644.0 559.8h0M644.0 564.3h0M643.2 571.8h0M643.2 575.5h0M644.1 570.3h0M643.1 567.9h0M643.1 560.0h0M642.9 568.7h0M642.8 573.3h0M642.9 558.9h0M643.9 561.5h0M642.7 571.4h0M644.1 575.4h0M643.9 570.6h0M642.7 574.1h0M644.1 575.4h0M643.9 566.0h0M643.8 567.7h0M643.1 557.0h0M642.9 562.0h0M643.4 564.3h0M644.0 569.1h0M642.6 567.4h0M644.0 556.5h0M643.1 572.7h0M643.7 574.0h0M644.1 573.5h0M643.4 556.4h0M643.9 581.2h0M643.0 576.9h0M642.9 577.6h0M643.6 577.4h0M644.1 576.1h0M644.7 559.3h0M645.1 571.0h0M645.4 557.9h0M645.2 565.6h0M645.2 559.6h0M644.8 574.9h0M644.2 556.7h0M645.3 567.2h0M645.2 566.3h0M644.8 566.7h0M644.3 572.5h0M645.2 570.6h0M645.3 578.1h0M644.2 570.5h0M644.5 569.0h0M645.1 573.2h0M645.1 561.7h0M644.2 561.4h0M644.9 573.5h0M644.2 555.9h0M645.0 575.3h0M644.7 569.5h0M644.4 573.5h0M645.1 577.3h0M644.7 575.3h0M644.1 573.4h0M644.4 565.9h0M645.3 576.1h0M644.7 576.9h0M644.8 577.8h0M644.6 576.4h0M645.0 571.8h0M644.7 571.1h0M645.0 574.4h0M645.2 556.3h0M645.3 563.4h0M645.0 556.1h0M644.6 571.9h0M645.4 584.1h0M646.7 571.5h0M646.2 564.7h0M645.9 557.4h0M646.7 566.6h0M645.8 569.2h0M646.2 561.1h0M646.3 572.5h0M645.8 573.5h0M645.8 570.5h0M647.0 568.1h0M646.9 570.0h0M646.5 558.1h0M645.6 564.4h0M645.9 565.4h0M646.6 564.8h0M647.1 570.9h0M647.1 562.2h0M646.8 563.1h0M645.5 567.5h0M645.7 560.6h0M645.5 569.3h0M646.5 570.3h0M645.5 559.4h0M646.9 561.4h0M645.7 567.3h0M646.2 560.8h0M646.5 572.0h0M645.8 558.7h0M646.4 569.7h0M646.9 567.7h0M646.6 568.9h0M646.8 571.3h0M646.2 569.0h0M646.0 565.1h0M646.2 565.5h0M646.8 570.2h0M646.3 569.4h0M646.6 563.0h0M645.6 566.2h0M646.9 564.7h0M646.7 564.3h0M646.7 573.0h0M646.8 570.4h0M646.4 570.2h0M647.0 567.0h0M646.7 573.9h0M647.0 566.1h0M645.6 569.1h0M646.9 559.4h0M647.0 570.8h0M645.5 562.5h0M645.9 557.7h0M646.7 567.7h0M646.5 565.5h0M645.8 568.1h0M645.8 561.7h0M646.9 573.8h0M646.9 568.5h0M646.2 569.0h0M646.6 569.3h0M645.5 571.8h0M645.5 566.3h0M646.6 562.2h0M646.8 568.7h0M645.7 559.8h0M646.6 563.2h0M646.9 564.0h0M645.8 570.3h0M646.1 573.4h0M645.4 564.0h0M647.0 573.4h0M646.9 573.9h0M646.5 566.0h0M645.5 574.2h0M647.0 574.0h0M646.5 568.9h0M645.6 561.1h0M645.5 573.5h0M646.6 574.0h0M647.0 572.8h0M646.7 566.0h0M646.1 568.5h0M646.0 558.6h0M646.9 571.8h0M646.7 564.9h0M646.6 563.6h0M646.0 559.3h0M646.4 574.6h0M646.2 574.8h0M645.8 575.6h0M647.0 574.2h0M645.8 576.4h0M647.9 565.2h0M648.1 560.0h0M647.2 560.7h0M647.5 570.6h0M647.7 568.9h0M647.7 561.8h0M647.8 568.3h0M647.6 564.4h0M647.5 571.5h0M647.9 562.8h0M647.5 563.4h0M647.7 560.5h0M647.7 570.0h0M648.0 561.2h0M647.4 560.8h0M647.5 564.9h0M647.4 559.9h0M647.2 559.2h0M648.0 562.5h0M647.9 557.8h0M647.7 562.7h0M647.5 565.3h0M647.7 569.1h0M647.6 569.3h0M647.5 564.2h0M647.4 556.8h0M647.5 564.7h0M647.9 568.5h0M647.4 576.3h0M648.6 566.7h0M649.8 561.4h0M649.6 561.5h0M649.6 560.2h0M648.4 561.1h0M649.8 561.1h0M649.7 570.9h0M648.6 570.6h0M648.2 558.4h0M649.0 562.8h0M649.3 568.3h0M649.3 560.8h0M649.0 570.7h0M649.0 556.5h0M648.6 571.2h0M648.3 567.6h0M648.6 565.4h0M648.3 562.7h0M649.2 573.9h0M649.8 559.3h0M648.6 564.3h0M648.3 568.6h0M649.7 564.7h0M648.8 564.9h0M649.5 556.8h0M648.8 564.3h0M649.2 575.0h0M649.5 560.3h0M649.1 562.5h0M648.2 570.8h0M649.4 569.5h0M649.3 568.9h0M648.5 560.7h0M648.2 570.4h0M649.6 567.9h0M648.7 572.1h0M649.5 568.7h0M649.1 571.7h0M649.0 572.4h0M649.1 560.1h0M648.4 578.8h0M649.3 576.4h0M650.6 559.4h0M650.2 564.8h0M650.0 557.5h0M651.0 571.0h0M650.1 560.2h0M650.4 558.5h0M650.6 570.2h0M651.1 560.8h0M650.1 562.4h0M650.9 561.1h0M650.8 565.4h0M650.8 562.6h0M650.4 567.3h0M650.9 563.7h0M650.7 563.6h0M650.1 564.0h0M650.3 558.4h0M650.2 572.6h0M650.1 572.9h0M650.7 571.3h0M650.3 562.1h0M650.5 558.7h0M650.0 570.6h0M650.5 571.8h0M651.1 565.8h0M650.7 559.9h0M650.9 567.2h0M650.5 573.4h0M650.2 566.2h0M650.7 557.2h0M650.6 557.8h0M650.4 557.4h0M650.9 565.2h0M650.3 564.2h0M650.0 573.0h0M650.6 574.1h0M650.5 572.1h0M650.2 572.8h0M650.7 570.8h0M650.7 568.0h0M650.4 574.9h0M650.8 570.5h0M650.3 556.2h0M649.9 562.1h0M649.9 567.7h0M650.7 570.3h0M650.2 569.2h0M650.1 560.2h0M650.8 570.4h0M650.2 570.3h0M649.9 560.0h0M651.1 563.7h0M650.6 561.3h0M650.7 571.5h0M650.0 569.1h0M650.5 565.6h0M650.1 571.5h0M649.9 559.7h0M650.5 563.6h0M650.3 567.1h0M650.5 567.0h0M650.2 564.6h0M651.0 559.1h0M650.5 564.2h0M650.0 560.7h0M650.3 560.5h0M650.7 565.3h0M651.0 574.6h0M650.7 563.6h0M650.8 564.9h0M650.9 561.8h0M650.8 575.5h0M651.0 577.3h0M650.2 583.3h0M653.0 568.6h0M652.3 573.6h0M652.1 560.2h0M651.3 564.0h0M651.2 571.9h0M652.2 570.2h0M651.5 562.6h0M652.4 569.7h0M651.8 568.2h0M653.1 574.1h0M651.5 570.5h0M652.3 564.1h0M651.7 572.3h0M651.4 566.4h0M653.0 576.3h0M651.3 562.7h0M652.5 567.1h0M652.9 568.8h0M651.3 561.4h0M652.4 562.4h0M652.2 575.3h0M652.6 566.4h0M651.3 574.1h0M653.0 558.3h0M652.0 569.8h0M652.8 563.6h0M652.8 568.9h0M652.0 566.9h0M651.9 578.1h0M653.1 576.4h0M651.5 567.7h0M652.1 571.5h0M652.2 559.8h0M651.5 576.3h0M652.5 576.6h0M652.0 561.5h0M651.4 565.0h0M652.8 571.1h0M652.4 563.4h0M651.3 574.3h0M651.4 561.1h0M651.8 561.4h0M652.7 556.0h0M653.1 572.2h0M651.3 576.6h0M652.3 567.4h0M652.9 567.0h0M651.4 558.1h0M653.0 561.2h0M652.5 559.7h0M651.2 572.1h0M652.1 562.3h0M652.1 577.5h0M651.9 573.0h0M651.6 575.0h0M651.7 568.9h0M653.0 574.9h0M651.5 574.0h0M651.4 566.5h0M652.4 563.2h0M651.2 572.9h0M652.0 576.6h0M652.6 578.4h0M652.7 572.9h0M651.4 568.0h0M652.1 566.5h0M652.8 564.1h0M651.8 570.2h0M652.8 576.9h0M652.9 562.4h0M651.4 560.5h0M653.1 575.3h0M651.4 569.0h0M652.2 563.7h0M652.5 560.9h0M651.5 556.0h0M653.1 559.9h0M651.2 574.5h0M651.2 560.9h0M651.8 570.2h0M652.6 568.0h0M652.7 571.7h0M651.5 561.1h0M653.0 560.6h0M651.9 571.0h0M651.5 565.0h0M651.4 576.4h0M652.7 568.6h0M652.8 564.6h0M652.8 571.1h0M651.4 568.3h0M652.9 572.3h0M651.9 567.7h0M651.7 571.1h0M652.7 558.9h0M651.5 574.1h0M651.3 567.2h0M651.5 566.3h0M652.6 577.1h0M651.7 565.9h0M652.1 576.5h0M651.9 559.6h0M651.9 573.4h0M653.1 563.3h0M651.6 563.3h0M652.0 564.1h0M652.5 556.1h0M652.1 562.6h0M652.9 579.3h0M651.7 581.7h0M653.0 578.5h0M652.3 584.0h0M652.8 581.1h0M654.0 563.2h0M653.3 571.7h0M653.8 566.2h0M653.1 562.2h0M653.7 563.2h0M653.6 567.6h0M653.6 570.2h0M653.1 575.5h0M653.5 577.5h0M653.6 573.5h0M653.5 567.8h0M653.3 561.5h0M653.3 565.4h0M653.7 577.6h0M653.4 561.7h0M653.1 575.5h0M653.7 557.0h0M653.3 571.3h0M653.6 561.7h0M653.4 557.9h0M653.4 567.3h0M653.1 556.1h0M653.9 564.3h0M653.9 572.8h0M653.4 566.9h0M653.3 575.6h0M653.7 563.0h0M653.3 574.3h0M653.4 572.3h0M653.5 556.1h0M653.2 567.5h0M653.3 570.3h0M653.3 562.7h0M653.2 573.9h0M653.7 568.9h0M653.6 556.8h0M654.0 560.7h0M653.6 578.0h0M653.8 577.7h0M653.4 562.5h0M653.6 579.5h0M653.5 571.0h0M653.6 560.8h0M654.0 569.3h0M653.5 572.6h0M653.4 570.8h0M653.7 561.5h0M653.5 573.8h0M653.6 576.2h0M653.8 566.6h0M653.6 559.5h0M653.4 568.3h0M653.4 572.9h0M653.1 568.5h0M653.5 579.8h0M653.4 577.1h0M653.3 574.7h0M653.8 573.1h0M653.5 564.1h0M653.9 580.4h0M653.4 580.4h0M653.2 568.2h0M653.4 577.7h0M653.3 575.1h0M653.5 558.5h0M654.0 577.7h0M654.0 570.6h0M653.5 570.9h0M653.8 571.8h0M653.9 574.1h0M653.2 556.6h0M653.8 564.4h0M653.4 574.3h0M653.7 556.1h0M653.2 574.1h0M653.4 570.5h0M653.7 573.8h0M653.7 579.9h0M653.8 564.3h0M653.3 578.3h0M653.2 582.8h0M653.6 583.4h0M653.8 581.9h0M654.6 572.9h0M654.2 570.2h0M654.3 556.7h0M654.1 563.2h0M654.9 566.1h0M654.4 557.6h0M654.8 570.7h0M654.9 562.3h0M655.0 561.5h0M654.8 556.2h0M655.0 558.3h0M654.8 573.4h0M654.5 560.1h0M654.5 572.4h0M654.7 570.8h0M655.0 570.1h0M655.1 572.8h0M654.6 562.5h0M655.0 573.5h0M654.4 573.6h0M654.2 563.9h0M654.6 573.8h0M654.6 574.8h0M655.0 558.5h0M654.9 570.3h0M654.7 576.0h0M655.2 583.9h0M655.4 567.1h0M655.1 567.8h0M655.4 560.3h0M655.5 576.4h0M655.3 567.8h0M655.9 567.5h0M655.1 563.2h0M655.6 577.8h0M655.6 585.4h0M655.2 568.0h0M656.0 567.4h0M655.8 572.5h0M655.5 581.7h0M655.4 568.9h0M656.0 578.5h0M656.7 566.1h0M656.0 579.8h0M655.4 583.2h0M655.4 565.4h0M655.3 561.1h0M656.3 573.7h0M655.2 563.7h0M655.7 575.6h0M656.7 577.8h0M655.7 574.4h0M656.6 573.2h0M655.5 563.4h0M655.8 583.1h0M656.6 569.3h0M655.4 557.2h0M656.7 584.4h0M655.1 578.9h0M655.2 574.3h0M656.6 575.0h0M655.9 576.7h0M655.2 575.2h0M656.1 566.3h0M656.4 583.4h0M656.4 560.8h0M656.7 577.8h0M656.7 571.6h0M656.5 575.5h0M655.5 578.6h0M656.1 578.7h0M655.8 565.4h0M655.3 575.0h0M655.2 579.3h0M655.4 557.2h0M656.3 581.2h0M656.6 558.2h0M656.1 576.5h0M655.2 577.0h0M656.1 576.7h0M655.1 585.7h0M655.8 560.5h0M655.2 566.5h0M655.6 560.8h0M656.1 580.7h0M655.4 582.5h0M655.6 557.2h0M656.7 583.9h0M655.1 568.2h0M655.7 573.3h0M656.1 565.7h0M655.3 590.8h0M656.7 591.4h0M657.1 571.8h0M657.3 560.6h0M657.3 566.2h0M656.8 560.1h0M657.6 569.0h0M656.9 562.2h0M657.1 561.8h0M657.7 559.9h0M657.7 561.9h0M657.5 561.2h0M657.6 565.6h0M657.6 558.9h0M657.1 561.9h0M657.1 560.3h0M657.6 572.4h0M657.7 564.0h0M657.5 571.6h0M657.0 572.5h0M657.3 564.9h0M657.7 561.6h0M656.9 568.2h0M657.4 566.4h0M657.4 560.1h0M657.0 562.6h0M657.3 566.5h0M657.1 558.2h0M657.0 556.2h0M657.5 560.8h0M657.1 566.3h0M657.7 563.3h0M657.0 571.4h0M656.8 569.9h0M657.1 569.2h0M657.0 564.3h0M657.7 560.0h0M656.8 568.7h0M657.2 568.5h0M656.9 564.3h0M657.2 555.9h0M656.9 559.8h0M657.5 569.1h0M656.9 569.0h0M657.3 556.5h0M657.7 571.6h0M657.2 579.8h0M657.3 579.2h0M658.2 560.4h0M658.8 570.7h0M659.2 572.2h0M658.1 575.8h0M658.8 582.6h0M657.9 570.7h0M659.1 559.4h0M657.8 579.2h0M659.0 572.3h0M657.7 582.7h0M658.2 565.9h0M658.8 580.5h0M658.7 557.2h0M658.6 558.5h0M658.0 580.2h0M658.4 575.2h0M659.0 556.4h0M659.2 576.8h0M658.1 568.8h0M658.7 583.8h0M658.0 576.1h0M658.8 571.7h0M658.8 568.1h0M658.5 569.6h0M658.6 569.6h0M658.9 579.8h0M658.6 560.0h0M658.6 563.5h0M658.1 567.4h0M658.8 581.5h0M657.8 570.8h0M659.1 575.5h0M658.9 581.3h0M657.8 563.4h0M658.1 560.9h0M659.0 576.4h0M658.6 562.3h0M658.0 564.2h0M658.2 565.2h0M659.4 568.3h0M658.2 563.6h0M658.6 573.7h0M658.6 571.3h0M659.3 570.6h0M659.3 580.6h0M658.9 559.2h0M659.3 566.0h0M658.8 560.3h0M659.4 570.3h0M657.7 570.9h0M658.5 568.5h0M657.8 582.0h0M659.0 567.5h0M658.3 578.7h0M658.8 583.6h0M659.4 568.1h0M659.2 582.4h0M658.0 573.7h0M659.1 564.1h0M658.8 559.6h0M659.0 566.0h0M659.2 578.2h0M658.0 582.2h0M659.3 562.2h0M658.8 576.3h0M659.1 568.4h0M658.4 581.2h0M657.8 561.3h0M658.9 581.8h0M659.2 567.0h0M659.0 568.7h0M659.2 563.8h0M658.9 568.8h0M658.2 574.6h0M658.5 570.3h0M658.9 578.1h0M659.2 578.0h0M659.2 580.3h0M659.0 585.4h0M659.3 585.8h0M657.7 588.5h0M660.1 574.0h0M660.6 572.2h0M660.4 565.5h0M660.2 570.0h0M659.5 562.8h0M659.5 569.6h0M659.6 575.7h0M660.3 560.2h0M660.6 571.6h0M659.7 566.9h0M659.5 561.0h0M660.1 564.3h0M660.2 574.6h0M659.9 568.9h0M659.8 569.3h0M660.4 573.2h0M660.4 571.5h0M660.4 569.4h0M660.2 575.2h0M659.6 564.1h0M660.3 569.5h0M660.3 555.8h0M660.5 565.3h0M659.8 558.0h0M660.2 564.1h0M659.9 556.1h0M660.5 562.1h0M660.0 564.9h0M660.6 562.6h0M660.2 571.9h0M659.5 560.8h0M659.6 563.9h0M660.1 556.5h0M659.5 566.2h0M660.1 566.9h0M660.3 571.2h0M659.6 558.1h0M660.2 566.2h0M659.8 558.7h0M660.2 575.5h0M659.6 566.1h0M659.4 564.0h0M660.2 570.8h0M659.7 569.0h0M659.9 565.5h0M659.7 574.8h0M659.5 561.0h0M660.1 568.5h0M660.6 561.7h0M660.4 563.6h0M659.9 565.9h0M659.6 561.8h0M659.9 570.4h0M660.3 574.6h0M660.0 569.9h0M660.1 574.6h0M659.5 563.3h0M660.2 572.6h0M660.6 561.5h0M659.8 568.5h0M659.4 576.2h0M660.0 577.8h0M659.9 577.1h0M661.1 558.4h0M660.7 577.5h0M660.9 572.6h0M661.3 570.1h0M660.9 568.9h0M661.2 560.6h0M660.7 570.2h0M661.1 565.3h0M660.8 559.1h0M660.9 576.0h0M660.7 566.6h0M661.0 562.2h0M661.1 572.5h0M660.9 563.2h0M660.9 577.3h0M661.0 558.4h0M661.2 576.9h0M661.1 560.6h0M661.0 560.9h0M660.6 568.3h0M661.4 565.3h0M661.1 567.2h0M661.3 573.2h0M661.0 576.2h0M661.3 555.8h0M660.7 575.0h0M660.7 576.6h0M660.8 573.8h0M660.7 577.7h0M661.4 568.7h0M661.0 567.7h0M660.9 561.1h0M660.8 566.5h0M661.2 576.2h0M660.9 563.3h0M661.0 560.6h0M661.1 568.6h0M661.0 565.9h0M660.9 562.6h0M661.3 559.9h0M661.1 566.7h0M661.4 556.2h0M660.9 556.4h0M660.8 565.9h0M661.4 575.9h0M661.3 570.6h0M661.0 577.5h0M661.1 565.2h0M661.4 568.8h0M660.7 571.2h0M660.7 555.8h0M660.6 577.4h0M660.9 576.1h0M660.8 576.5h0M661.4 573.5h0M661.3 571.8h0M661.3 580.8h0M660.9 581.1h0M661.5 560.3h0M661.7 559.7h0M662.1 566.1h0M661.7 565.4h0M662.0 567.5h0M662.0 558.7h0M662.2 557.4h0M661.7 578.6h0M661.6 569.5h0M661.9 568.8h0M662.3 576.9h0M662.2 572.7h0M662.2 578.6h0M662.2 566.1h0M661.5 571.4h0M662.1 578.2h0M662.0 557.0h0M661.5 564.5h0M662.2 566.7h0M662.1 571.9h0M662.1 580.5h0M661.6 578.7h0M662.1 565.9h0M662.0 563.2h0M661.8 563.3h0M661.9 573.8h0M661.5 571.4h0M662.2 569.3h0M662.2 573.3h0M662.1 576.9h0M662.1 566.1h0M661.5 567.6h0M661.8 568.4h0M661.7 572.6h0M661.8 571.7h0M662.0 565.1h0M661.9 571.8h0M662.1 557.6h0M662.1 578.4h0M661.8 569.5h0M661.8 560.3h0M661.8 571.9h0M661.9 558.3h0M662.0 559.0h0M661.8 566.0h0M661.7 562.8h0M662.2 560.7h0M662.3 569.1h0M661.4 573.1h0M662.2 574.9h0M662.0 559.7h0M661.7 580.0h0M662.2 572.1h0M661.9 573.8h0M661.9 569.4h0M661.6 573.2h0M662.0 575.5h0M662.1 556.0h0M661.6 559.7h0M662.1 558.0h0M661.9 564.8h0M661.7 579.3h0M662.0 573.1h0M662.0 563.2h0M661.9 561.2h0M662.3 576.8h0M662.0 560.3h0M661.9 559.1h0M662.2 560.7h0M661.7 576.0h0M662.2 570.7h0M662.3 564.6h0M661.6 562.5h0M661.6 583.4h0M662.0 581.8h0M662.3 581.8h0M662.9 574.3h0M663.2 558.1h0M662.6 570.6h0M663.0 581.2h0M662.7 578.9h0M662.5 571.7h0M662.8 583.4h0M662.7 582.6h0M662.7 572.3h0M663.0 573.5h0M663.2 566.4h0M662.8 568.8h0M663.2 576.8h0M662.7 580.1h0M662.6 572.7h0M663.0 581.9h0M663.2 568.8h0M662.5 569.8h0M663.2 574.7h0M663.2 557.6h0M663.2 562.8h0M662.7 579.9h0M662.7 556.9h0M662.5 568.0h0M662.9 557.0h0M662.5 560.4h0M663.2 579.1h0M663.0 571.7h0M662.6 585.4h0M662.3 585.1h0M662.7 584.7h0M662.4 563.8h0M662.5 564.4h0M663.1 557.9h0M662.9 582.4h0M663.0 566.6h0M663.2 572.0h0M662.6 584.7h0M662.6 589.8h0M663.9 572.2h0M663.4 561.0h0M663.7 564.7h0M663.3 567.8h0M664.2 568.0h0M664.4 558.9h0M663.7 576.0h0M663.3 568.8h0M664.1 568.8h0M663.7 569.1h0M663.3 573.8h0M664.2 566.0h0M664.3 562.2h0M663.3 558.7h0M663.6 564.2h0M663.6 573.4h0M663.6 563.3h0M663.8 556.5h0M663.9 561.7h0M664.2 573.0h0M664.3 559.8h0M663.4 568.1h0M663.9 575.7h0M664.1 574.5h0M664.2 573.3h0M663.3 574.6h0M664.2 571.4h0M663.3 560.9h0M664.3 562.5h0M664.3 569.0h0M664.3 559.9h0M664.4 574.7h0M663.9 567.4h0M663.4 567.1h0M663.3 557.8h0M663.3 565.4h0M664.2 574.3h0M663.8 562.1h0M664.1 573.7h0M664.3 567.6h0M663.6 566.8h0M664.4 560.6h0M663.9 574.3h0M664.2 570.2h0M664.1 562.7h0M663.3 571.6h0M663.7 568.4h0M663.7 564.4h0M663.5 560.8h0M663.5 562.7h0M663.9 565.8h0M663.3 567.4h0M663.6 571.7h0M663.7 566.3h0M663.8 560.1h0M663.3 562.1h0M664.2 561.3h0M664.2 572.2h0M663.7 571.5h0M663.5 567.8h0M663.3 562.0h0M664.3 559.5h0M663.8 559.0h0M663.7 564.0h0M664.4 563.4h0M664.3 567.0h0M663.5 561.3h0M664.0 578.6h0M664.1 577.0h0M664.4 576.9h0M664.5 566.7h0M664.6 565.8h0M664.5 570.3h0M664.5 564.7h0M461.8 582.0h0M467.1 594.2h0M469.1 612.5h0M464.4 621.3h0M468.8 584.0h0M464.0 581.1h0M469.6 625.5h0M460.3 603.3h0M469.3 594.5h0M461.5 610.9h0M463.2 608.5h0M469.7 580.5h0M461.7 597.7h0M469.2 583.6h0M463.0 588.0h0M469.6 618.4h0M460.4 598.6h0M463.4 607.5h0M462.3 611.6h0M469.5 588.7h0M463.8 619.7h0M469.0 608.2h0M460.1 585.7h0M469.2 622.5h0M460.7 588.6h0M469.7 580.9h0M463.1 582.0h0M462.7 598.6h0M460.6 619.8h0M465.3 616.1h0M469.7 593.5h0M467.3 584.5h0M467.4 609.9h0M463.5 621.5h0M469.8 613.5h0M467.5 590.1h0M463.7 594.4h0M469.8 607.1h0M467.1 621.0h0M469.4 617.4h0M461.3 592.2h0M461.8 624.0h0M460.8 599.6h0M467.6 587.2h0M468.5 592.6h0M469.8 596.9h0M468.8 590.1h0M469.8 615.8h0M462.9 589.0h0M468.8 595.9h0M469.8 598.7h0M462.3 615.6h0M460.4 581.6h0M469.5 599.8h0M461.4 623.7h0M469.8 595.0h0M467.6 609.5h0M462.1 590.1h0M463.0 599.7h0M469.8 580.4h0M462.7 625.0h0M469.2 600.1h0M468.1 597.2h0M460.7 594.1h0M465.6 582.5h0M461.0 588.6h0M469.5 617.9h0M466.0 620.0h0M469.0 604.3h0M469.8 621.6h0M464.4 588.6h0M468.7 611.1h0M469.8 590.5h0M469.5 599.1h0M461.1 586.5h0M468.8 616.9h0M469.5 609.7h0M469.5 621.3h0M467.2 591.1h0M466.8 624.9h0M461.1 581.5h0M469.5 584.4h0M461.9 613.6h0M467.2 621.2h0M461.9 624.3h0M462.0 584.9h0M462.8 614.5h0M469.2 616.7h0M462.0 589.7h0M468.5 605.8h0M461.8 594.7h0M469.7 593.6h0M460.7 589.0h0M468.4 594.3h0M461.7 620.8h0M462.3 588.1h0M462.8 582.9h0M460.8 595.2h0M469.1 593.0h0M467.5 604.8h0M462.0 603.3h0M462.2 588.8h0M460.8 589.6h0M467.2 618.2h0M462.8 588.6h0M462.4 583.9h0M465.0 585.8h0M466.8 604.3h0M460.1 587.6h0M461.1 598.5h0M462.3 610.3h0M462.4 595.8h0M462.8 613.9h0M462.2 597.5h0M469.4 597.5h0M460.5 585.1h0M469.4 592.6h0M466.8 594.5h0M469.8 611.2h0M469.6 592.8h0M469.2 584.7h0M469.3 622.4h0M462.2 582.1h0M461.7 622.8h0M467.1 589.9h0M469.0 591.5h0M460.1 616.2h0M462.6 587.3h0M467.3 580.6h0M467.1 596.7h0M461.9 618.6h0M462.2 597.1h0M462.5 584.1h0M469.0 594.3h0M461.4 589.2h0M461.7 598.7h0M462.0 600.5h0M469.8 595.6h0M462.4 588.1h0M468.9 614.8h0M468.8 594.3h0M468.8 601.7h0M461.8 605.2h0M460.8 581.9h0M469.3 585.7h0M461.7 620.8h0M468.9 609.2h0M466.5 597.1h0M469.3 612.7h0M467.5 592.0h0M469.2 597.7h0M467.7 592.8h0M469.0 599.8h0M469.8 582.9h0M469.8 620.9h0M461.5 621.8h0M468.4 612.6h0M461.0 622.9h0M462.1 604.1h0M469.8 586.4h0M460.6 593.4h0M467.2 596.6h0M460.6 597.3h0M468.7 598.6h0M461.3 594.0h0M460.8 625.4h0M462.2 586.3h0M474.5 596.2h0M479.0 606.4h0M473.8 586.8h0M475.0 599.8h0M475.0 589.6h0M474.9 590.4h0M475.5 603.3h0M473.1 621.0h0M474.6 613.9h0M470.8 615.7h0M473.0 582.5h0M481.1 611.4h0M472.3 588.8h0M474.7 605.8h0M477.6 590.3h0M470.8 614.9h0M475.4 614.7h0M472.9 586.0h0M476.5 600.4h0M471.9 611.3h0M471.6 606.4h0M472.7 603.0h0M475.2 590.8h0M472.5 594.9h0M472.8 598.1h0M476.7 613.0h0M474.7 581.8h0M470.1 619.8h0M474.7 598.2h0M475.9 615.4h0M473.4 589.5h0M474.6 597.6h0M481.4 623.0h0M475.7 595.0h0M475.3 614.8h0M473.1 620.4h0M477.2 590.4h0M472.1 618.5h0M474.5 588.0h0M481.9 582.6h0M475.0 583.1h0M477.1 591.4h0M485.1 586.3h0M486.2 619.0h0M484.5 580.3h0M484.2 581.5h0M483.3 589.3h0M484.1 615.3h0M485.4 619.0h0M483.2 613.1h0M482.9 621.0h0M487.3 580.6h0M484.7 580.3h0M484.0 596.1h0M484.8 615.3h0M483.2 598.4h0M486.3 594.1h0M483.9 609.5h0M484.0 603.6h0M482.2 580.5h0M485.3 604.9h0M483.0 617.5h0M483.3 619.1h0M483.9 612.4h0M485.7 614.0h0M483.5 581.2h0M484.0 591.0h0M484.6 600.2h0M484.4 605.3h0M485.3 605.8h0M485.1 608.3h0M484.7 601.5h0M488.5 590.5h0M484.5 604.7h0M485.1 593.5h0M482.9 606.3h0M489.2 586.6h0M485.1 595.5h0M482.9 616.7h0M484.1 587.7h0M484.3 617.2h0M483.4 616.9h0M484.2 625.4h0M483.8 606.4h0M482.8 614.9h0M483.3 592.7h0M484.4 587.8h0M488.4 592.5h0M491.1 591.1h0M485.0 592.1h0M482.4 617.0h0M485.1 621.4h0M483.2 598.4h0M483.5 622.7h0M485.1 596.1h0M482.3 625.2h0M486.4 593.4h0M485.3 592.4h0M484.0 618.2h0M485.0 624.5h0M483.8 604.8h0M491.7 624.0h0M484.4 625.3h0M484.9 598.3h0M484.4 603.1h0M484.8 623.2h0M483.1 605.2h0M489.1 610.7h0M482.1 624.8h0M484.7 590.8h0M486.0 625.9h0M490.1 624.0h0M484.0 586.2h0M485.1 600.6h0M485.7 623.0h0M486.8 623.0h0M483.1 591.0h0M485.7 601.4h0M484.2 583.3h0M484.6 594.9h0M485.1 600.4h0M485.2 583.1h0M485.2 619.0h0M484.6 620.7h0M484.1 588.0h0M483.4 624.3h0M488.5 613.3h0M484.9 589.8h0M484.1 613.4h0M484.6 580.1h0M485.5 591.3h0M485.0 612.8h0M484.4 616.5h0M483.1 599.5h0M487.9 610.5h0M483.5 580.7h0M489.9 587.2h0M484.3 587.4h0M487.1 608.7h0M489.0 618.1h0M484.1 599.0h0M484.3 609.5h0M484.4 592.2h0M492.0 611.4h0M484.2 597.6h0M483.3 593.4h0M484.7 622.4h0M484.9 606.5h0M485.6 591.0h0M486.4 607.1h0M483.2 593.2h0M484.3 594.5h0M484.4 599.6h0M484.9 604.7h0M486.0 609.4h0M483.6 595.7h0M485.0 590.8h0M485.6 587.6h0M484.0 580.2h0M484.1 598.1h0M484.5 595.6h0M483.8 618.4h0M485.6 591.4h0M485.8 620.4h0M484.0 595.1h0M491.2 598.1h0M495.7 598.4h0M494.4 591.9h0M496.0 584.5h0M496.0 606.9h0M494.3 603.9h0M495.2 622.5h0M495.2 618.7h0M494.6 595.3h0M493.5 582.9h0M492.5 601.7h0M493.8 585.6h0M494.4 593.0h0M494.7 595.1h0M492.4 580.1h0M494.6 591.7h0M495.1 604.0h0M495.1 613.2h0M495.1 593.0h0M518.7 582.4h0M522.9 621.7h0M510.2 624.3h0M518.9 580.4h0M518.0 589.4h0M509.6 589.5h0M513.6 586.3h0M518.7 584.4h0M511.0 625.3h0M514.7 590.8h0M519.3 582.1h0M518.1 586.4h0M507.5 596.8h0M526.1 585.3h0M510.0 595.0h0M510.1 623.0h0M501.1 585.7h0M513.2 622.6h0M519.5 615.0h0M518.6 590.9h0M514.8 587.3h0M514.0 592.0h0M525.3 623.1h0M515.3 593.6h0M519.0 612.7h0M511.8 589.8h0M510.4 606.3h0M514.6 581.5h0M506.8 621.4h0M511.6 613.4h0M506.5 613.3h0M517.2 608.6h0M514.7 603.5h0M519.7 583.6h0M514.5 589.3h0M506.4 584.9h0M525.4 607.6h0M510.9 624.7h0M513.8 593.8h0M518.7 583.9h0M505.5 580.4h0M502.0 586.9h0M500.5 600.3h0M506.8 610.8h0M515.3 602.0h0M506.4 588.0h0M506.4 610.5h0M517.8 602.9h0M510.7 582.1h0M518.9 625.0h0M518.8 583.5h0M506.6 595.3h0M503.8 592.8h0M513.3 606.1h0M525.8 605.2h0M523.9 619.7h0M512.9 617.5h0M510.7 584.8h0M518.2 593.2h0M519.2 611.6h0M518.3 589.8h0M525.8 591.2h0M501.0 621.6h0M514.1 595.1h0M513.2 609.2h0M515.2 595.6h0M500.4 597.0h0M505.5 584.9h0M510.1 596.1h0M501.3 615.1h0M518.7 609.0h0M511.9 613.1h0M521.9 596.5h0M523.3 589.4h0M505.9 599.2h0M526.0 597.0h0M526.6 584.6h0M506.2 625.0h0M500.7 595.5h0M512.2 586.2h0M515.0 601.1h0M527.5 619.6h0M513.0 613.9h0M505.9 608.6h0M517.8 588.0h0M508.1 616.1h0M499.4 625.3h0M510.0 580.2h0M510.3 606.7h0M518.0 596.7h0M518.6 594.9h0M499.0 607.9h0M511.0 625.4h0M505.9 580.9h0M506.0 619.2h0M519.5 580.6h0M511.0 613.5h0M510.4 589.4h0M510.7 591.1h0M507.8 599.7h0M525.9 619.9h0M513.8 621.6h0M509.0 580.7h0M498.4 586.3h0M508.9 618.2h0M518.5 625.3h0M518.5 620.7h0M516.5 587.8h0M525.6 607.7h0M500.8 592.2h0M517.9 598.9h0M521.4 587.8h0M524.6 611.1h0M500.7 586.3h0M510.3 584.0h0M513.3 600.8h0M516.0 584.8h0M519.0 597.5h0M513.0 595.0h0M518.2 599.0h0M517.9 604.7h0M509.5 614.3h0M506.3 600.4h0M518.6 590.9h0M516.4 581.0h0M526.1 611.0h0M502.2 581.7h0M514.6 612.7h0M514.4 615.1h0M518.6 622.6h0M518.8 589.4h0M518.7 604.3h0M518.6 581.3h0M526.7 608.3h0M505.1 611.8h0M508.8 608.4h0M516.5 609.2h0M518.5 600.4h0M502.1 622.1h0M519.0 583.3h0M510.2 623.7h0M497.7 581.0h0M506.4 607.5h0M518.4 617.5h0M515.0 600.5h0M518.7 584.4h0M522.3 598.1h0M505.5 585.1h0M508.7 598.0h0M519.8 592.3h0M510.9 610.2h0M525.5 616.3h0M518.0 611.5h0M518.0 620.0h0M514.5 588.4h0M519.3 591.1h0M505.8 597.1h0M512.1 596.4h0M512.7 620.4h0M497.2 608.6h0M501.8 583.5h0M523.9 607.9h0M526.6 612.7h0M519.1 587.1h0M513.7 609.2h0M518.2 607.8h0M525.7 585.5h0M507.8 581.8h0M510.8 592.1h0M501.2 587.0h0M518.4 583.5h0M518.3 580.9h0M506.0 580.2h0M516.8 613.5h0M513.0 584.8h0M518.6 625.9h0M510.1 615.1h0M512.7 581.5h0M511.3 615.4h0M507.4 586.1h0M513.5 586.5h0M500.3 610.2h0M511.8 604.6h0M513.7 623.4h0M522.3 618.6h0M510.0 583.6h0M518.4 581.8h0M521.7 603.7h0M519.0 624.6h0M518.6 580.9h0M514.5 599.7h0M502.2 585.1h0M525.4 592.3h0M514.8 606.2h0M510.8 598.7h0M506.2 580.8h0M518.8 622.0h0M511.2 594.7h0M510.4 595.7h0M501.5 605.5h0M518.1 587.3h0M525.3 622.5h0M518.3 624.5h0M519.0 618.0h0M513.4 618.7h0M518.9 585.0h0M518.0 604.5h0M518.8 624.7h0M505.4 623.6h0M500.9 625.0h0M510.6 625.9h0M513.3 583.8h0M518.5 602.1h0M512.7 581.7h0M518.8 623.9h0M514.4 595.9h0M510.5 588.0h0M507.7 622.4h0M511.4 594.1h0M512.9 592.9h0M514.4 607.5h0M502.4 606.1h0M512.3 588.1h0M514.9 610.7h0M506.4 589.0h0M526.4 597.5h0M523.5 580.7h0M502.4 600.5h0M527.7 616.2h0M503.1 606.1h0M505.7 592.4h0M513.9 607.4h0M512.8 606.4h0M511.1 597.8h0M510.8 589.2h0M513.0 596.2h0M508.5 621.9h0M519.1 618.3h0M519.9 592.8h0M510.6 589.3h0M517.7 620.2h0M510.7 597.0h0M514.7 589.0h0M515.9 600.1h0M510.5 596.6h0M507.2 581.4h0M518.4 607.4h0M510.5 605.4h0M518.1 610.7h0M504.7 622.3h0M526.1 615.1h0M518.9 583.5h0M518.7 585.2h0M514.6 614.7h0M526.4 625.6h0M526.7 604.9h0M517.7 597.2h0M512.3 606.5h0M513.5 589.2h0M510.1 580.9h0M498.4 593.8h0M511.4 592.1h0M513.8 622.1h0M524.9 613.4h0M505.1 603.2h0M516.6 601.7h0M525.0 596.4h0M512.9 596.3h0M511.9 582.9h0M518.6 605.7h0M518.5 606.3h0M511.3 590.3h0M512.1 599.7h0M518.3 590.5h0M514.5 587.0h0M515.2 590.3h0M502.7 591.6h0M511.6 580.6h0M524.8 606.3h0M514.3 612.6h0M525.0 606.2h0M518.6 624.0h0M511.5 590.1h0M518.7 617.6h0M518.8 617.1h0M514.5 596.8h0M526.0 595.1h0M518.3 584.7h0M517.2 624.8h0M502.1 581.4h0M513.7 594.7h0M514.1 619.1h0M517.9 613.1h0M513.3 580.1h0M504.2 593.9h0M519.8 588.3h0M519.9 596.8h0M519.1 616.6h0M518.4 601.1h0M515.0 619.1h0M521.6 596.9h0M518.8 598.9h0M514.1 583.5h0M501.2 587.9h0M508.6 625.7h0M514.3 598.5h0M518.6 614.0h0M496.7 583.9h0M499.7 597.5h0M518.2 589.5h0M515.6 624.5h0M526.6 597.4h0M510.2 590.9h0M517.6 599.3h0M506.2 594.0h0M525.6 612.8h0M517.7 623.0h0M518.3 581.4h0M513.5 586.1h0M526.6 620.7h0M515.3 613.1h0M509.8 594.5h0M526.3 615.5h0M510.4 616.4h0M518.8 624.9h0M514.1 614.1h0M519.3 589.4h0M518.4 602.2h0M518.7 622.1h0M512.7 609.0h0M514.7 602.2h0M518.6 612.1h0M510.9 591.2h0M518.6 593.3h0M505.7 625.2h0M505.9 586.4h0M513.5 599.6h0M518.3 580.0h0M503.9 580.2h0M514.9 583.9h0M520.0 598.2h0M525.5 587.4h0M500.5 595.7h0M502.4 592.6h0M504.3 590.7h0M503.9 610.7h0M513.6 581.7h0M519.0 605.2h0M506.2 600.9h0M519.5 599.3h0M526.4 602.4h0M501.7 589.0h0M517.8 590.1h0M522.6 599.8h0M513.9 612.9h0M513.1 581.0h0M518.3 615.4h0M514.3 617.4h0M522.3 602.8h0M512.6 607.3h0M505.7 605.7h0M526.0 584.7h0M518.3 595.9h0M525.3 609.2h0M518.8 616.2h0M501.0 611.6h0M518.8 582.0h0M518.6 598.9h0M518.5 613.0h0M518.9 586.8h0M510.9 583.7h0M508.1 616.2h0M518.1 588.7h0M497.6 595.4h0M519.0 585.2h0M504.7 616.4h0M512.7 589.6h0M511.5 608.6h0M518.6 603.2h0M518.0 580.0h0M498.2 595.2h0M501.2 592.9h0M501.0 582.8h0M503.4 585.5h0M512.9 590.7h0M518.5 621.3h0M511.9 580.7h0M501.4 612.4h0M525.8 601.1h0M507.4 597.6h0M518.4 596.3h0M515.2 619.7h0M511.1 580.4h0M498.6 610.6h0M512.7 580.5h0M508.8 588.4h0M511.4 604.0h0M507.8 607.4h0M514.9 582.1h0M499.9 583.8h0M504.8 597.4h0M517.8 597.4h0M507.6 588.2h0M525.6 619.5h0M511.6 625.4h0M513.6 580.9h0M512.7 585.0h0M505.4 594.2h0M506.3 609.6h0M526.1 619.0h0M514.5 601.4h0M506.2 617.8h0M525.1 599.1h0M526.6 606.9h0M519.7 611.2h0M525.6 608.1h0M513.6 583.7h0M501.9 590.7h0M518.8 612.6h0M513.7 619.1h0M519.1 612.0h0M513.3 609.8h0M504.2 597.1h0M525.6 587.7h0M519.4 592.8h0M521.0 594.2h0M503.9 597.9h0M514.4 625.5h0M511.0 616.7h0M518.1 621.4h0M511.7 588.6h0M525.2 594.8h0M513.7 600.0h0M510.9 602.1h0M526.1 581.2h0M513.7 611.0h0M520.1 598.0h0M505.5 584.3h0M514.9 584.2h0M512.7 599.4h0M519.2 599.1h0M522.9 589.2h0M500.1 622.6h0M502.2 584.0h0M510.6 580.4h0M501.1 592.4h0M509.5 594.6h0M517.1 586.0h0M519.5 612.8h0M514.6 602.6h0M510.8 618.7h0M511.9 592.5h0M512.7 612.3h0M523.5 618.1h0M519.7 583.5h0M518.7 582.2h0M504.9 621.4h0M510.9 619.1h0M518.8 585.0h0M510.3 594.9h0M518.0 594.9h0M519.9 621.8h0M504.9 616.0h0M519.7 615.3h0M519.3 591.5h0M513.7 587.6h0M526.2 595.4h0M505.1 618.5h0M519.7 603.1h0M505.7 609.7h0M507.4 597.7h0M526.1 595.9h0M519.4 620.8h0M512.2 603.2h0M510.2 584.6h0M501.8 590.6h0M506.8 603.2h0M526.0 607.3h0M512.4 599.5h0M513.0 625.1h0M514.8 581.2h0M524.9 591.1h0M513.0 593.7h0M518.3 596.7h0M504.7 593.5h0M526.1 593.5h0M506.5 585.4h0M502.4 605.2h0M514.5 583.6h0M511.1 620.4h0M500.7 614.2h0M531.5 623.6h0M529.3 608.1h0M531.3 590.7h0M530.1 622.3h0M531.1 610.7h0M530.4 610.9h0M531.4 610.0h0M531.9 600.7h0M531.4 609.8h0M530.5 612.2h0M530.8 585.2h0M529.1 624.2h0M531.3 595.8h0M530.7 592.8h0M529.9 621.5h0M531.1 606.3h0M529.6 606.5h0M530.0 602.5h0M530.8 609.5h0M530.7 587.8h0M531.6 598.9h0M531.4 606.5h0M528.9 613.4h0M531.1 587.8h0M532.5 602.4h0M529.6 592.0h0M530.5 583.9h0M532.0 609.1h0M531.8 586.0h0M530.9 602.3h0M530.8 606.7h0M530.7 585.3h0M530.0 604.7h0M537.7 580.3h0M537.0 619.6h0M534.1 616.3h0M539.2 594.6h0M537.4 617.2h0M539.4 621.7h0M539.1 617.4h0M538.6 607.9h0M537.9 598.2h0M537.6 597.2h0M538.6 590.3h0M537.4 619.7h0M539.0 598.4h0M538.7 598.7h0M532.9 613.9h0M535.2 586.7h0M535.6 617.1h0M537.8 608.1h0M538.5 604.6h0M536.9 597.9h0M538.1 625.8h0M537.9 621.9h0M538.0 601.1h0M539.9 586.2h0M533.1 596.3h0M538.0 625.8h0M539.0 587.8h0M537.5 587.4h0M538.2 593.8h0M538.7 595.0h0M538.8 619.3h0M537.7 611.6h0M539.9 580.6h0M533.5 595.1h0M533.0 583.0h0M536.9 617.5h0M537.7 581.5h0M536.8 623.3h0M533.1 598.7h0M539.9 625.0h0M534.2 602.8h0M538.6 608.5h0M538.4 586.7h0M539.2 596.3h0M537.5 585.1h0M540.0 609.7h0M533.4 585.1h0M537.2 610.8h0M538.5 590.0h0M537.6 621.4h0M538.3 617.4h0M538.9 601.0h0M532.9 580.6h0M538.8 612.8h0M537.4 583.5h0M539.4 617.5h0M537.9 593.0h0M538.1 594.3h0M533.0 592.6h0M532.7 609.9h0M538.5 594.1h0M536.9 600.3h0M539.5 592.0h0M537.6 598.1h0M534.0 609.9h0M538.6 590.3h0M533.7 588.5h0M538.8 582.0h0M538.2 624.5h0M539.3 612.5h0M536.7 592.3h0M537.3 622.7h0M538.5 586.6h0M533.9 581.6h0M538.5 594.6h0M534.9 597.5h0M534.1 594.0h0M538.0 614.4h0M539.3 597.2h0M533.0 602.4h0M537.5 621.8h0M538.6 625.7h0M534.1 587.5h0M538.3 603.4h0M538.8 598.8h0M532.7 603.3h0M533.1 609.0h0M539.5 617.0h0M541.3 581.4h0M540.8 611.0h0M541.7 625.4h0M540.7 598.8h0M540.4 599.6h0M543.4 614.9h0M543.1 607.8h0M543.2 580.8h0M544.3 617.7h0M544.4 609.7h0M543.1 597.9h0M543.8 599.3h0M542.9 610.1h0M544.6 618.3h0M544.0 625.1h0M544.6 587.6h0M543.7 603.5h0M543.3 623.6h0M543.2 602.3h0M542.4 592.3h0M543.4 585.5h0M542.6 583.5h0M543.3 623.9h0M543.8 587.8h0M543.7 601.2h0M544.2 581.8h0M543.9 585.3h0M544.9 585.6h0M542.4 623.5h0M543.5 599.3h0M543.9 585.8h0M544.4 603.0h0M544.7 601.5h0M544.1 623.7h0M544.1 581.1h0M542.6 598.7h0M543.4 623.7h0M543.1 595.1h0M543.9 584.4h0M542.6 581.8h0M543.6 614.7h0M542.5 601.2h0M544.1 586.8h0M543.8 595.3h0M543.5 603.2h0M542.5 580.8h0M543.9 611.9h0M543.2 622.3h0M542.5 623.7h0M544.5 586.1h0M543.0 604.9h0M544.0 599.7h0M542.7 591.1h0M543.0 593.7h0M543.6 595.1h0M542.9 606.1h0M543.6 593.4h0M597.7 591.8h0M622.7 594.5h0M661.6 590.7h0M595.5 592.4h0M625.9 593.5h0M584.4 601.2h0M647.3 592.1h0M577.2 595.1h0M657.1 592.4h0M633.8 598.4h0M577.9 593.5h0M559.9 594.9h0M625.7 591.9h0M604.3 592.8h0M639.0 592.4h0M597.8 593.1h0M554.5 592.6h0M647.3 597.9h0M649.4 614.6h0M658.8 590.1h0M652.1 590.1h0M563.6 593.9h0M634.3 596.9h0M601.4 629.0h0M573.5 622.3h0M564.8 635.4h0M622.4 605.2h0M579.4 623.2h0M617.0 599.5h0M555.0 632.0h0M587.2 616.2h0M621.3 623.2h0M598.4 616.0h0M588.6 624.4h0M663.5 608.2h0M601.0 628.0h0M647.2 627.6h0M613.3 606.6h0M629.4 606.5h0M580.9 602.7h0M462.2 640.9h0M463.0 640.9h0M463.8 640.9h0M464.6 640.9h0M465.4 640.9h0M466.2 640.9h0M467.0 640.9h0M467.8 640.9h0M468.6 640.9h0M469.4 640.9h0M470.2 640.9h0M471.0 640.9h0M471.8 640.9h0M472.6 640.9h0M473.4 640.9h0M474.2 640.9h0M475.0 640.9h0M475.8 640.9h0M476.6 640.9h0M477.4 640.9h0M478.2 640.9h0M479.0 640.9h0M479.8 640.9h0M484.9 640.9h0M485.7 640.9h0M486.5 640.9h0M487.3 640.9h0M488.1 640.9h0M488.9 640.9h0M489.7 640.9h0M490.5 640.9h0M491.3 640.9h0M492.1 640.9h0M492.9 640.9h0M493.7 640.9h0M495.8 640.9h0M496.6 640.9h0M497.4 640.9h0M498.2 640.9h0M499.0 640.9h0M499.8 640.9h0M500.6 640.9h0M501.4 640.9h0M502.2 640.9h0M503.0 640.9h0M503.8 640.9h0M504.6 640.9h0M505.4 640.9h0M506.2 640.9h0M507.0 640.9h0M507.8 640.9h0M508.6 640.9h0M509.4 640.9h0M510.2 640.9h0M511.0 640.9h0M511.8 640.9h0M512.6 640.9h0M513.4 640.9h0M514.2 640.9h0M515.0 640.9h0M515.8 640.9h0M516.6 640.9h0M517.4 640.9h0M518.2 640.9h0M519.0 640.9h0M519.8 640.9h0M520.6 640.9h0M521.4 640.9h0M522.2 640.9h0M523.0 640.9h0M523.8 640.9h0M524.6 640.9h0M525.4 640.9h0M526.2 640.9h0M527.0 640.9h0M527.8 640.9h0M528.6 640.9h0M529.4 640.9h0M530.2 640.9h0M532.1 640.9h0M532.9 640.9h0M533.7 640.9h0M534.5 640.9h0M535.3 640.9h0M536.1 640.9h0M536.9 640.9h0M537.7 640.9h0M538.5 640.9h0M539.3 640.9h0M540.1 640.9h0M541.8 640.9h0M542.6 640.9h0M543.4 640.9h0M544.2 640.9h0M545.0 640.9h0M565.6 640.9h0M567.5 640.9h0M583.0 640.9h0M597.5 640.9h0M600.0 640.9h0M622.5 640.9h0M631.0 640.9h0" stroke="#333" stroke-width="1.7" stroke-linecap="round" fill="none"/>
<text x="324.1" y="419.5" font-size="15.7" text-anchor="start" >G</text>
</svg>
</body></html>
